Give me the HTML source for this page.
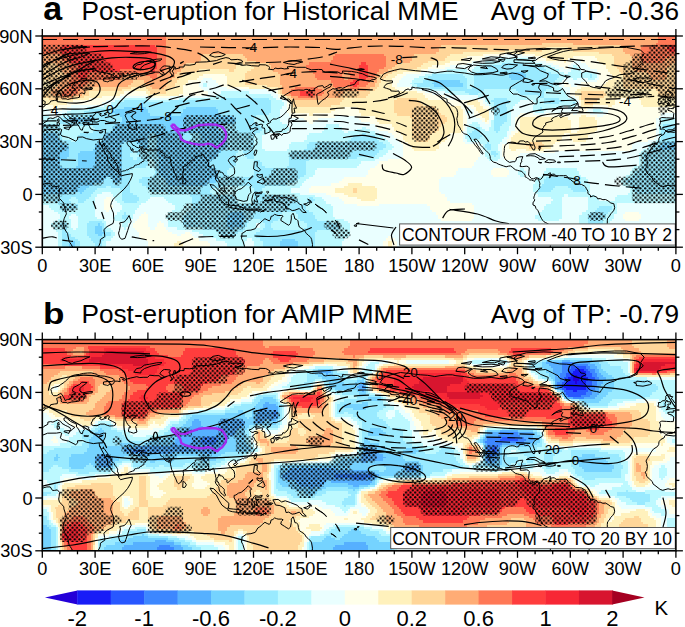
<!DOCTYPE html>
<html><head><meta charset="utf-8"><style>html,body{margin:0;padding:0;background:#fff;overflow:hidden;width:685px;height:627px;} svg{display:block;}</style></head>
<body>
<svg width="685" height="627" viewBox="0 0 685 627">
<defs>
<pattern id="dots" patternUnits="userSpaceOnUse" width="4.6" height="4.68"><circle cx="1.15" cy="1.17" r="1.1" fill="#000"/><circle cx="3.45" cy="3.51" r="1.1" fill="#000"/></pattern>
<clipPath id="clip0"><rect x="42.3" y="36.0" width="633.6" height="211.2"/></clipPath>
<clipPath id="clip1"><rect x="42.3" y="339.6" width="633.6" height="211.2"/></clipPath>
</defs>
<rect width="685" height="627" fill="#fff"/>
<g clip-path="url(#clip0)" shape-rendering="crispEdges">
<path fill="#75D3FF" d="M510.9 71.2h13.5v2.5h-13.5zM508.7 73.4h17.9v2.5h-17.9zM508.7 75.6h17.9v2.5h-17.9zM510.9 77.8h13.5v2.5h-13.5zM433.9 80.0h26.7v2.5h-26.7zM431.7 82.2h31.1v2.5h-31.1zM433.9 84.4h28.9v2.5h-28.9zM123.7 106.4h22.3v2.5h-22.3zM185.3 106.4h31.1v2.5h-31.1zM114.9 108.6h33.3v2.5h-33.3zM183.1 108.6h35.5v2.5h-35.5zM112.7 110.8h35.5v2.5h-35.5zM183.1 110.8h35.5v2.5h-35.5zM114.9 113.0h35.5v2.5h-35.5zM180.9 113.0h39.9v2.5h-39.9zM88.5 115.2h4.7v2.5h-4.7zM119.3 115.2h114.7v2.5h-114.7zM70.9 117.4h24.5v2.5h-24.5zM121.5 117.4h114.7v2.5h-114.7zM70.9 119.6h22.3v2.5h-22.3zM121.5 119.6h114.7v2.5h-114.7zM119.3 121.8h114.7v2.5h-114.7zM114.9 124.0h105.9v2.5h-105.9zM112.7 126.2h105.9v2.5h-105.9zM112.7 128.4h105.9v2.5h-105.9zM110.5 130.6h110.3v2.5h-110.3zM42.3 132.8h13.5v2.5h-13.5zM106.1 132.8h44.3v2.5h-44.3zM154.5 132.8h31.1v2.5h-31.1zM198.5 132.8h26.7v2.5h-26.7zM42.3 135.0h15.7v2.5h-15.7zM103.9 135.0h44.3v2.5h-44.3zM156.7 135.0h26.7v2.5h-26.7zM200.7 135.0h26.7v2.5h-26.7zM42.3 137.2h15.7v2.5h-15.7zM103.9 137.2h44.3v2.5h-44.3zM156.7 137.2h26.7v2.5h-26.7zM200.7 137.2h26.7v2.5h-26.7zM42.3 139.4h17.9v2.5h-17.9zM101.7 139.4h46.5v2.5h-46.5zM156.7 139.4h28.9v2.5h-28.9zM198.5 139.4h28.9v2.5h-28.9zM42.3 141.6h20.1v2.5h-20.1zM97.3 141.6h26.7v2.5h-26.7zM136.9 141.6h11.3v2.5h-11.3zM156.7 141.6h70.7v2.5h-70.7zM662.7 141.6h13.5v2.5h-13.5zM42.3 143.8h24.5v2.5h-24.5zM95.1 143.8h26.7v2.5h-26.7zM139.1 143.8h9.1v2.5h-9.1zM156.7 143.8h70.7v2.5h-70.7zM660.5 143.8h15.7v2.5h-15.7zM42.3 146.0h26.7v2.5h-26.7zM95.1 146.0h26.7v2.5h-26.7zM141.3 146.0h6.9v2.5h-6.9zM156.7 146.0h70.7v2.5h-70.7zM658.3 146.0h17.9v2.5h-17.9zM42.3 148.2h26.7v2.5h-26.7zM92.9 148.2h28.9v2.5h-28.9zM143.5 148.2h2.5v2.5h-2.5zM156.7 148.2h68.5v2.5h-68.5zM660.5 148.2h15.7v2.5h-15.7zM42.3 150.4h26.7v2.5h-26.7zM79.7 150.4h42.1v2.5h-42.1zM156.7 150.4h64.1v2.5h-64.1zM42.3 152.6h26.7v2.5h-26.7zM77.5 152.6h44.3v2.5h-44.3zM156.7 152.6h61.9v2.5h-61.9zM42.3 154.8h26.7v2.5h-26.7zM77.5 154.8h44.3v2.5h-44.3zM156.7 154.8h61.9v2.5h-61.9zM42.3 157.0h24.5v2.5h-24.5zM77.5 157.0h44.3v2.5h-44.3zM158.9 157.0h57.5v2.5h-57.5zM42.3 159.2h20.1v2.5h-20.1zM77.5 159.2h44.3v2.5h-44.3zM158.9 159.2h53.1v2.5h-53.1zM42.3 161.4h17.9v2.5h-17.9zM77.5 161.4h44.3v2.5h-44.3zM158.9 161.4h50.9v2.5h-50.9zM42.3 163.6h17.9v2.5h-17.9zM77.5 163.6h44.3v2.5h-44.3zM158.9 163.6h50.9v2.5h-50.9zM42.3 165.8h20.1v2.5h-20.1zM75.3 165.8h46.5v2.5h-46.5zM158.9 165.8h53.1v2.5h-53.1zM42.3 168.0h79.5v2.5h-79.5zM158.9 168.0h57.5v2.5h-57.5zM42.3 170.2h79.5v2.5h-79.5zM158.9 170.2h59.7v2.5h-59.7zM42.3 172.4h79.5v2.5h-79.5zM158.9 172.4h59.7v2.5h-59.7zM42.3 174.6h79.5v2.5h-79.5zM161.1 174.6h57.5v2.5h-57.5zM42.3 176.8h64.1v2.5h-64.1zM110.5 176.8h11.3v2.5h-11.3zM163.3 176.8h55.3v2.5h-55.3zM42.3 179.0h61.9v2.5h-61.9zM112.7 179.0h9.1v2.5h-9.1zM165.5 179.0h53.1v2.5h-53.1zM42.3 181.2h59.7v2.5h-59.7zM114.9 181.2h4.7v2.5h-4.7zM165.5 181.2h50.9v2.5h-50.9zM42.3 183.4h50.9v2.5h-50.9zM167.7 183.4h39.9v2.5h-39.9zM42.3 185.6h46.5v2.5h-46.5zM42.3 187.8h44.3v2.5h-44.3zM42.3 190.0h42.1v2.5h-42.1zM42.3 192.2h24.5v2.5h-24.5zM79.7 192.2h2.5v2.5h-2.5zM229.3 212.0h13.5v2.5h-13.5zM227.1 214.2h17.9v2.5h-17.9zM227.1 216.4h17.9v2.5h-17.9zM227.1 218.6h15.7v2.5h-15.7zM227.1 220.8h15.7v2.5h-15.7zM97.3 223.0h2.5v2.5h-2.5zM227.1 223.0h15.7v2.5h-15.7zM95.1 225.2h6.9v2.5h-6.9zM227.1 225.2h15.7v2.5h-15.7zM95.1 227.4h6.9v2.5h-6.9zM229.3 227.4h4.7v2.5h-4.7zM95.1 229.6h6.9v2.5h-6.9zM95.1 231.8h9.1v2.5h-9.1zM97.3 234.0h4.7v2.5h-4.7zM282.1 238.4h13.5v2.5h-13.5zM70.9 240.6h4.7v2.5h-4.7zM279.9 240.6h17.9v2.5h-17.9zM68.7 242.8h6.9v2.5h-6.9zM279.9 242.8h17.9v2.5h-17.9zM68.7 245.0h6.9v2.5h-6.9zM279.9 245.0h17.9v2.5h-17.9z"/>
<path fill="#99EAFF" d="M502.1 62.4h22.3v2.5h-22.3zM484.5 64.6h57.5v2.5h-57.5zM482.3 66.8h61.9v2.5h-61.9zM480.1 69.0h66.3v2.5h-66.3zM475.7 71.2h35.5v2.5h-35.5zM524.1 71.2h26.7v2.5h-26.7zM431.7 73.4h31.1v2.5h-31.1zM473.5 73.4h35.5v2.5h-35.5zM526.3 73.4h33.3v2.5h-33.3zM590.1 73.4h2.5v2.5h-2.5zM427.3 75.6h37.7v2.5h-37.7zM473.5 75.6h35.5v2.5h-35.5zM526.3 75.6h33.3v2.5h-33.3zM590.1 75.6h2.5v2.5h-2.5zM425.1 77.8h42.1v2.5h-42.1zM473.5 77.8h37.7v2.5h-37.7zM524.1 77.8h33.3v2.5h-33.3zM422.9 80.0h11.3v2.5h-11.3zM460.3 80.0h6.9v2.5h-6.9zM473.5 80.0h81.7v2.5h-81.7zM414.1 82.2h17.9v2.5h-17.9zM462.5 82.2h4.7v2.5h-4.7zM473.5 82.2h79.5v2.5h-79.5zM416.3 84.4h17.9v2.5h-17.9zM462.5 84.4h4.7v2.5h-4.7zM473.5 84.4h79.5v2.5h-79.5zM429.5 86.6h37.7v2.5h-37.7zM471.3 86.6h79.5v2.5h-79.5zM447.1 88.8h37.7v2.5h-37.7zM515.3 88.8h31.1v2.5h-31.1zM464.7 91.0h17.9v2.5h-17.9zM517.5 91.0h26.7v2.5h-26.7zM469.1 93.2h9.1v2.5h-9.1zM519.7 93.2h24.5v2.5h-24.5zM537.3 95.4h6.9v2.5h-6.9zM220.5 97.6h48.7v2.5h-48.7zM493.3 97.6h13.5v2.5h-13.5zM543.9 97.6h15.7v2.5h-15.7zM123.7 99.8h24.5v2.5h-24.5zM169.9 99.8h101.5v2.5h-101.5zM491.1 99.8h17.9v2.5h-17.9zM543.9 99.8h17.9v2.5h-17.9zM119.3 102.0h152.1v2.5h-152.1zM493.3 102.0h15.7v2.5h-15.7zM543.9 102.0h15.7v2.5h-15.7zM572.5 102.0h2.5v2.5h-2.5zM114.9 104.2h156.5v2.5h-156.5zM493.3 104.2h13.5v2.5h-13.5zM110.5 106.4h13.5v2.5h-13.5zM145.7 106.4h39.9v2.5h-39.9zM216.1 106.4h55.3v2.5h-55.3zM493.3 106.4h13.5v2.5h-13.5zM539.5 106.4h2.5v2.5h-2.5zM88.5 108.6h26.7v2.5h-26.7zM147.9 108.6h35.5v2.5h-35.5zM218.3 108.6h53.1v2.5h-53.1zM493.3 108.6h13.5v2.5h-13.5zM537.3 108.6h4.7v2.5h-4.7zM84.1 110.8h28.9v2.5h-28.9zM147.9 110.8h35.5v2.5h-35.5zM218.3 110.8h53.1v2.5h-53.1zM493.3 110.8h13.5v2.5h-13.5zM70.9 113.0h44.3v2.5h-44.3zM150.1 113.0h31.1v2.5h-31.1zM220.5 113.0h48.7v2.5h-48.7zM493.3 113.0h13.5v2.5h-13.5zM66.5 115.2h22.3v2.5h-22.3zM92.9 115.2h26.7v2.5h-26.7zM233.7 115.2h22.3v2.5h-22.3zM493.3 115.2h13.5v2.5h-13.5zM62.1 117.4h9.1v2.5h-9.1zM95.1 117.4h26.7v2.5h-26.7zM235.9 117.4h17.9v2.5h-17.9zM493.3 117.4h13.5v2.5h-13.5zM59.9 119.6h11.3v2.5h-11.3zM92.9 119.6h28.9v2.5h-28.9zM235.9 119.6h17.9v2.5h-17.9zM493.3 119.6h13.5v2.5h-13.5zM59.9 121.8h59.7v2.5h-59.7zM233.7 121.8h22.3v2.5h-22.3zM493.3 121.8h11.3v2.5h-11.3zM42.3 124.0h17.9v2.5h-17.9zM66.5 124.0h48.7v2.5h-48.7zM220.5 124.0h39.9v2.5h-39.9zM493.3 124.0h9.1v2.5h-9.1zM662.7 124.0h13.5v2.5h-13.5zM42.3 126.2h17.9v2.5h-17.9zM92.9 126.2h20.1v2.5h-20.1zM218.3 126.2h44.3v2.5h-44.3zM475.7 126.2h4.7v2.5h-4.7zM493.3 126.2h6.9v2.5h-6.9zM660.5 126.2h15.7v2.5h-15.7zM42.3 128.4h17.9v2.5h-17.9zM95.1 128.4h17.9v2.5h-17.9zM218.3 128.4h44.3v2.5h-44.3zM473.5 128.4h6.9v2.5h-6.9zM493.3 128.4h6.9v2.5h-6.9zM660.5 128.4h15.7v2.5h-15.7zM42.3 130.6h20.1v2.5h-20.1zM92.9 130.6h17.9v2.5h-17.9zM220.5 130.6h39.9v2.5h-39.9zM471.3 130.6h9.1v2.5h-9.1zM495.5 130.6h2.5v2.5h-2.5zM660.5 130.6h15.7v2.5h-15.7zM55.5 132.8h6.9v2.5h-6.9zM79.7 132.8h26.7v2.5h-26.7zM150.1 132.8h4.7v2.5h-4.7zM185.3 132.8h13.5v2.5h-13.5zM224.9 132.8h31.1v2.5h-31.1zM361.3 132.8h4.7v2.5h-4.7zM469.1 132.8h11.3v2.5h-11.3zM660.5 132.8h15.7v2.5h-15.7zM57.7 135.0h4.7v2.5h-4.7zM77.5 135.0h26.7v2.5h-26.7zM147.9 135.0h9.1v2.5h-9.1zM183.1 135.0h17.9v2.5h-17.9zM227.1 135.0h26.7v2.5h-26.7zM352.5 135.0h22.3v2.5h-22.3zM466.9 135.0h15.7v2.5h-15.7zM660.5 135.0h15.7v2.5h-15.7zM57.7 137.2h4.7v2.5h-4.7zM77.5 137.2h26.7v2.5h-26.7zM147.9 137.2h9.1v2.5h-9.1zM183.1 137.2h17.9v2.5h-17.9zM227.1 137.2h26.7v2.5h-26.7zM350.3 137.2h26.7v2.5h-26.7zM469.1 137.2h11.3v2.5h-11.3zM660.5 137.2h15.7v2.5h-15.7zM59.9 139.4h11.3v2.5h-11.3zM75.3 139.4h26.7v2.5h-26.7zM147.9 139.4h9.1v2.5h-9.1zM185.3 139.4h13.5v2.5h-13.5zM227.1 139.4h26.7v2.5h-26.7zM348.1 139.4h31.1v2.5h-31.1zM658.3 139.4h17.9v2.5h-17.9zM62.1 141.6h35.5v2.5h-35.5zM123.7 141.6h13.5v2.5h-13.5zM147.9 141.6h9.1v2.5h-9.1zM227.1 141.6h26.7v2.5h-26.7zM308.5 141.6h75.1v2.5h-75.1zM486.7 141.6h2.5v2.5h-2.5zM656.1 141.6h6.9v2.5h-6.9zM66.5 143.8h28.9v2.5h-28.9zM121.5 143.8h17.9v2.5h-17.9zM147.9 143.8h9.1v2.5h-9.1zM227.1 143.8h26.7v2.5h-26.7zM306.3 143.8h79.5v2.5h-79.5zM484.5 143.8h6.9v2.5h-6.9zM653.9 143.8h6.9v2.5h-6.9zM68.7 146.0h26.7v2.5h-26.7zM121.5 146.0h20.1v2.5h-20.1zM147.9 146.0h9.1v2.5h-9.1zM227.1 146.0h26.7v2.5h-26.7zM306.3 146.0h79.5v2.5h-79.5zM484.5 146.0h6.9v2.5h-6.9zM651.7 146.0h6.9v2.5h-6.9zM68.7 148.2h24.5v2.5h-24.5zM121.5 148.2h22.3v2.5h-22.3zM145.7 148.2h11.3v2.5h-11.3zM224.9 148.2h28.9v2.5h-28.9zM304.1 148.2h79.5v2.5h-79.5zM486.7 148.2h4.7v2.5h-4.7zM649.5 148.2h11.3v2.5h-11.3zM68.7 150.4h11.3v2.5h-11.3zM121.5 150.4h11.3v2.5h-11.3zM134.7 150.4h22.3v2.5h-22.3zM220.5 150.4h17.9v2.5h-17.9zM242.5 150.4h11.3v2.5h-11.3zM290.9 150.4h88.3v2.5h-88.3zM491.1 150.4h4.7v2.5h-4.7zM647.3 150.4h28.9v2.5h-28.9zM68.7 152.6h9.1v2.5h-9.1zM121.5 152.6h9.1v2.5h-9.1zM136.9 152.6h20.1v2.5h-20.1zM218.3 152.6h17.9v2.5h-17.9zM244.7 152.6h9.1v2.5h-9.1zM288.7 152.6h88.3v2.5h-88.3zM491.1 152.6h6.9v2.5h-6.9zM642.9 152.6h33.3v2.5h-33.3zM68.7 154.8h9.1v2.5h-9.1zM121.5 154.8h9.1v2.5h-9.1zM139.1 154.8h17.9v2.5h-17.9zM218.3 154.8h17.9v2.5h-17.9zM244.7 154.8h9.1v2.5h-9.1zM288.7 154.8h86.1v2.5h-86.1zM493.3 154.8h2.5v2.5h-2.5zM642.9 154.8h33.3v2.5h-33.3zM66.5 157.0h11.3v2.5h-11.3zM121.5 157.0h11.3v2.5h-11.3zM136.9 157.0h22.3v2.5h-22.3zM216.1 157.0h20.1v2.5h-20.1zM246.9 157.0h6.9v2.5h-6.9zM288.7 157.0h68.5v2.5h-68.5zM642.9 157.0h33.3v2.5h-33.3zM62.1 159.2h15.7v2.5h-15.7zM121.5 159.2h28.9v2.5h-28.9zM152.3 159.2h6.9v2.5h-6.9zM211.7 159.2h24.5v2.5h-24.5zM253.5 159.2h6.9v2.5h-6.9zM288.7 159.2h20.1v2.5h-20.1zM642.9 159.2h33.3v2.5h-33.3zM59.9 161.4h17.9v2.5h-17.9zM121.5 161.4h26.7v2.5h-26.7zM154.5 161.4h4.7v2.5h-4.7zM209.5 161.4h26.7v2.5h-26.7zM253.5 161.4h9.1v2.5h-9.1zM288.7 161.4h17.9v2.5h-17.9zM642.9 161.4h33.3v2.5h-33.3zM59.9 163.6h17.9v2.5h-17.9zM121.5 163.6h26.7v2.5h-26.7zM154.5 163.6h4.7v2.5h-4.7zM209.5 163.6h26.7v2.5h-26.7zM253.5 163.6h9.1v2.5h-9.1zM288.7 163.6h17.9v2.5h-17.9zM642.9 163.6h33.3v2.5h-33.3zM62.1 165.8h13.5v2.5h-13.5zM121.5 165.8h24.5v2.5h-24.5zM154.5 165.8h4.7v2.5h-4.7zM211.7 165.8h22.3v2.5h-22.3zM253.5 165.8h11.3v2.5h-11.3zM286.5 165.8h20.1v2.5h-20.1zM640.7 165.8h35.5v2.5h-35.5zM121.5 168.0h11.3v2.5h-11.3zM154.5 168.0h4.7v2.5h-4.7zM216.1 168.0h13.5v2.5h-13.5zM253.5 168.0h53.1v2.5h-53.1zM638.5 168.0h37.7v2.5h-37.7zM121.5 170.2h9.1v2.5h-9.1zM154.5 170.2h4.7v2.5h-4.7zM218.3 170.2h9.1v2.5h-9.1zM253.5 170.2h53.1v2.5h-53.1zM634.1 170.2h42.1v2.5h-42.1zM121.5 172.4h9.1v2.5h-9.1zM154.5 172.4h4.7v2.5h-4.7zM218.3 172.4h9.1v2.5h-9.1zM253.5 172.4h53.1v2.5h-53.1zM634.1 172.4h42.1v2.5h-42.1zM121.5 174.6h9.1v2.5h-9.1zM152.3 174.6h9.1v2.5h-9.1zM218.3 174.6h11.3v2.5h-11.3zM251.3 174.6h53.1v2.5h-53.1zM631.9 174.6h44.3v2.5h-44.3zM106.1 176.8h4.7v2.5h-4.7zM121.5 176.8h9.1v2.5h-9.1zM141.3 176.8h22.3v2.5h-22.3zM218.3 176.8h81.7v2.5h-81.7zM546.1 176.8h31.1v2.5h-31.1zM629.7 176.8h46.5v2.5h-46.5zM103.9 179.0h9.1v2.5h-9.1zM121.5 179.0h9.1v2.5h-9.1zM139.1 179.0h26.7v2.5h-26.7zM218.3 179.0h79.5v2.5h-79.5zM543.9 179.0h35.5v2.5h-35.5zM625.3 179.0h50.9v2.5h-50.9zM101.7 181.2h13.5v2.5h-13.5zM119.3 181.2h11.3v2.5h-11.3zM139.1 181.2h26.7v2.5h-26.7zM216.1 181.2h79.5v2.5h-79.5zM543.9 181.2h35.5v2.5h-35.5zM625.3 181.2h50.9v2.5h-50.9zM92.9 183.4h37.7v2.5h-37.7zM141.3 183.4h26.7v2.5h-26.7zM207.3 183.4h79.5v2.5h-79.5zM541.7 183.4h39.9v2.5h-39.9zM629.7 183.4h46.5v2.5h-46.5zM88.5 185.6h17.9v2.5h-17.9zM110.5 185.6h20.1v2.5h-20.1zM145.7 185.6h75.1v2.5h-75.1zM251.3 185.6h13.5v2.5h-13.5zM539.5 185.6h15.7v2.5h-15.7zM568.1 185.6h15.7v2.5h-15.7zM631.9 185.6h44.3v2.5h-44.3zM86.3 187.8h11.3v2.5h-11.3zM119.3 187.8h11.3v2.5h-11.3zM147.9 187.8h64.1v2.5h-64.1zM253.5 187.8h9.1v2.5h-9.1zM537.3 187.8h15.7v2.5h-15.7zM570.3 187.8h15.7v2.5h-15.7zM634.1 187.8h42.1v2.5h-42.1zM84.1 190.0h11.3v2.5h-11.3zM121.5 190.0h9.1v2.5h-9.1zM150.1 190.0h59.7v2.5h-59.7zM253.5 190.0h9.1v2.5h-9.1zM537.3 190.0h13.5v2.5h-13.5zM572.5 190.0h13.5v2.5h-13.5zM634.1 190.0h42.1v2.5h-42.1zM66.5 192.2h13.5v2.5h-13.5zM81.9 192.2h11.3v2.5h-11.3zM121.5 192.2h11.3v2.5h-11.3zM167.7 192.2h44.3v2.5h-44.3zM253.5 192.2h11.3v2.5h-11.3zM636.3 192.2h39.9v2.5h-39.9zM42.3 194.4h48.7v2.5h-48.7zM121.5 194.4h15.7v2.5h-15.7zM189.7 194.4h44.3v2.5h-44.3zM253.5 194.4h33.3v2.5h-33.3zM42.3 196.6h28.9v2.5h-28.9zM75.3 196.6h13.5v2.5h-13.5zM121.5 196.6h17.9v2.5h-17.9zM191.9 196.6h44.3v2.5h-44.3zM253.5 196.6h42.1v2.5h-42.1zM308.5 196.6h4.7v2.5h-4.7zM42.3 198.8h26.7v2.5h-26.7zM77.5 198.8h9.1v2.5h-9.1zM121.5 198.8h17.9v2.5h-17.9zM191.9 198.8h44.3v2.5h-44.3zM253.5 198.8h44.3v2.5h-44.3zM306.3 198.8h9.1v2.5h-9.1zM53.3 201.0h17.9v2.5h-17.9zM77.5 201.0h6.9v2.5h-6.9zM123.7 201.0h13.5v2.5h-13.5zM191.9 201.0h46.5v2.5h-46.5zM251.3 201.0h48.7v2.5h-48.7zM306.3 201.0h6.9v2.5h-6.9zM57.7 203.2h20.1v2.5h-20.1zM191.9 203.2h114.7v2.5h-114.7zM59.9 205.4h17.9v2.5h-17.9zM191.9 205.4h114.7v2.5h-114.7zM598.9 205.4h13.5v2.5h-13.5zM59.9 207.6h15.7v2.5h-15.7zM191.9 207.6h114.7v2.5h-114.7zM596.7 207.6h15.7v2.5h-15.7zM62.1 209.8h4.7v2.5h-4.7zM189.7 209.8h119.1v2.5h-119.1zM594.5 209.8h15.7v2.5h-15.7zM123.7 212.0h2.5v2.5h-2.5zM185.3 212.0h44.3v2.5h-44.3zM242.5 212.0h39.9v2.5h-39.9zM295.3 212.0h17.9v2.5h-17.9zM590.1 212.0h17.9v2.5h-17.9zM121.5 214.2h6.9v2.5h-6.9zM183.1 214.2h44.3v2.5h-44.3zM244.7 214.2h35.5v2.5h-35.5zM297.5 214.2h17.9v2.5h-17.9zM587.9 214.2h17.9v2.5h-17.9zM121.5 216.4h6.9v2.5h-6.9zM183.1 216.4h44.3v2.5h-44.3zM244.7 216.4h35.5v2.5h-35.5zM297.5 216.4h17.9v2.5h-17.9zM587.9 216.4h17.9v2.5h-17.9zM123.7 218.6h2.5v2.5h-2.5zM183.1 218.6h44.3v2.5h-44.3zM242.5 218.6h9.1v2.5h-9.1zM260.1 218.6h17.9v2.5h-17.9zM299.7 218.6h17.9v2.5h-17.9zM587.9 218.6h15.7v2.5h-15.7zM62.1 220.8h2.5v2.5h-2.5zM88.5 220.8h13.5v2.5h-13.5zM183.1 220.8h44.3v2.5h-44.3zM242.5 220.8h6.9v2.5h-6.9zM262.3 220.8h11.3v2.5h-11.3zM304.1 220.8h26.7v2.5h-26.7zM587.9 220.8h15.7v2.5h-15.7zM59.9 223.0h6.9v2.5h-6.9zM86.3 223.0h11.3v2.5h-11.3zM99.5 223.0h4.7v2.5h-4.7zM183.1 223.0h44.3v2.5h-44.3zM242.5 223.0h4.7v2.5h-4.7zM264.5 223.0h6.9v2.5h-6.9zM306.3 223.0h33.3v2.5h-33.3zM587.9 223.0h15.7v2.5h-15.7zM59.9 225.2h6.9v2.5h-6.9zM86.3 225.2h9.1v2.5h-9.1zM101.7 225.2h2.5v2.5h-2.5zM185.3 225.2h42.1v2.5h-42.1zM242.5 225.2h4.7v2.5h-4.7zM264.5 225.2h6.9v2.5h-6.9zM306.3 225.2h35.5v2.5h-35.5zM590.1 225.2h13.5v2.5h-13.5zM62.1 227.4h4.7v2.5h-4.7zM86.3 227.4h9.1v2.5h-9.1zM101.7 227.4h4.7v2.5h-4.7zM202.9 227.4h26.7v2.5h-26.7zM233.7 227.4h11.3v2.5h-11.3zM262.3 227.4h11.3v2.5h-11.3zM304.1 227.4h35.5v2.5h-35.5zM62.1 229.6h4.7v2.5h-4.7zM86.3 229.6h9.1v2.5h-9.1zM101.7 229.6h4.7v2.5h-4.7zM216.1 229.6h26.7v2.5h-26.7zM260.1 229.6h57.5v2.5h-57.5zM62.1 231.8h6.9v2.5h-6.9zM86.3 231.8h9.1v2.5h-9.1zM103.9 231.8h6.9v2.5h-6.9zM218.3 231.8h20.1v2.5h-20.1zM255.7 231.8h59.7v2.5h-59.7zM62.1 234.0h9.1v2.5h-9.1zM86.3 234.0h11.3v2.5h-11.3zM101.7 234.0h9.1v2.5h-9.1zM220.5 234.0h15.7v2.5h-15.7zM253.5 234.0h61.9v2.5h-61.9zM62.1 236.2h13.5v2.5h-13.5zM88.5 236.2h17.9v2.5h-17.9zM229.3 236.2h4.7v2.5h-4.7zM255.7 236.2h59.7v2.5h-59.7zM62.1 238.4h15.7v2.5h-15.7zM90.7 238.4h13.5v2.5h-13.5zM260.1 238.4h22.3v2.5h-22.3zM295.3 238.4h20.1v2.5h-20.1zM62.1 240.6h9.1v2.5h-9.1zM75.3 240.6h4.7v2.5h-4.7zM92.9 240.6h9.1v2.5h-9.1zM262.3 240.6h17.9v2.5h-17.9zM297.5 240.6h17.9v2.5h-17.9zM62.1 242.8h6.9v2.5h-6.9zM75.3 242.8h4.7v2.5h-4.7zM95.1 242.8h6.9v2.5h-6.9zM262.3 242.8h17.9v2.5h-17.9zM297.5 242.8h17.9v2.5h-17.9zM62.1 245.0h6.9v2.5h-6.9zM75.3 245.0h4.7v2.5h-4.7zM95.1 245.0h6.9v2.5h-6.9zM262.3 245.0h17.9v2.5h-17.9zM297.5 245.0h17.9v2.5h-17.9z"/>
<path fill="#BCF9FF" d="M497.7 58.0h31.1v2.5h-31.1zM484.5 60.2h50.9v2.5h-50.9zM480.1 62.4h22.3v2.5h-22.3zM524.1 62.4h17.9v2.5h-17.9zM475.7 64.6h9.1v2.5h-9.1zM541.7 64.6h9.1v2.5h-9.1zM572.5 64.6h4.7v2.5h-4.7zM473.5 66.8h9.1v2.5h-9.1zM543.9 66.8h11.3v2.5h-11.3zM572.5 66.8h6.9v2.5h-6.9zM447.1 69.0h20.1v2.5h-20.1zM471.3 69.0h9.1v2.5h-9.1zM546.1 69.0h13.5v2.5h-13.5zM570.3 69.0h11.3v2.5h-11.3zM431.7 71.2h44.3v2.5h-44.3zM550.5 71.2h13.5v2.5h-13.5zM568.1 71.2h26.7v2.5h-26.7zM425.1 73.4h6.9v2.5h-6.9zM462.5 73.4h11.3v2.5h-11.3zM559.3 73.4h31.1v2.5h-31.1zM592.3 73.4h4.7v2.5h-4.7zM418.5 75.6h9.1v2.5h-9.1zM464.7 75.6h9.1v2.5h-9.1zM559.3 75.6h31.1v2.5h-31.1zM592.3 75.6h4.7v2.5h-4.7zM414.1 77.8h11.3v2.5h-11.3zM466.9 77.8h6.9v2.5h-6.9zM557.1 77.8h6.9v2.5h-6.9zM572.5 77.8h4.7v2.5h-4.7zM587.9 77.8h6.9v2.5h-6.9zM411.9 80.0h11.3v2.5h-11.3zM466.9 80.0h6.9v2.5h-6.9zM554.9 80.0h6.9v2.5h-6.9zM202.9 82.2h4.7v2.5h-4.7zM409.7 82.2h4.7v2.5h-4.7zM466.9 82.2h6.9v2.5h-6.9zM552.7 82.2h6.9v2.5h-6.9zM202.9 84.4h4.7v2.5h-4.7zM411.9 84.4h4.7v2.5h-4.7zM466.9 84.4h6.9v2.5h-6.9zM552.7 84.4h6.9v2.5h-6.9zM416.3 86.6h13.5v2.5h-13.5zM466.9 86.6h4.7v2.5h-4.7zM550.5 86.6h11.3v2.5h-11.3zM429.5 88.8h17.9v2.5h-17.9zM484.5 88.8h31.1v2.5h-31.1zM546.1 88.8h17.9v2.5h-17.9zM220.5 91.0h28.9v2.5h-28.9zM444.9 91.0h20.1v2.5h-20.1zM482.3 91.0h35.5v2.5h-35.5zM543.9 91.0h22.3v2.5h-22.3zM216.1 93.2h55.3v2.5h-55.3zM449.3 93.2h20.1v2.5h-20.1zM477.9 93.2h42.1v2.5h-42.1zM543.9 93.2h24.5v2.5h-24.5zM209.5 95.4h64.1v2.5h-64.1zM477.9 95.4h59.7v2.5h-59.7zM543.9 95.4h24.5v2.5h-24.5zM123.7 97.6h24.5v2.5h-24.5zM178.7 97.6h42.1v2.5h-42.1zM268.9 97.6h6.9v2.5h-6.9zM484.5 97.6h9.1v2.5h-9.1zM506.5 97.6h37.7v2.5h-37.7zM559.3 97.6h15.7v2.5h-15.7zM114.9 99.8h9.1v2.5h-9.1zM147.9 99.8h22.3v2.5h-22.3zM271.1 99.8h11.3v2.5h-11.3zM484.5 99.8h6.9v2.5h-6.9zM508.7 99.8h11.3v2.5h-11.3zM532.9 99.8h11.3v2.5h-11.3zM561.5 99.8h15.7v2.5h-15.7zM110.5 102.0h9.1v2.5h-9.1zM271.1 102.0h13.5v2.5h-13.5zM486.7 102.0h6.9v2.5h-6.9zM508.7 102.0h9.1v2.5h-9.1zM535.1 102.0h9.1v2.5h-9.1zM559.3 102.0h13.5v2.5h-13.5zM574.7 102.0h2.5v2.5h-2.5zM103.9 104.2h11.3v2.5h-11.3zM271.1 104.2h13.5v2.5h-13.5zM488.9 104.2h4.7v2.5h-4.7zM506.5 104.2h9.1v2.5h-9.1zM532.9 104.2h44.3v2.5h-44.3zM86.3 106.4h24.5v2.5h-24.5zM271.1 106.4h11.3v2.5h-11.3zM491.1 106.4h2.5v2.5h-2.5zM506.5 106.4h6.9v2.5h-6.9zM532.9 106.4h6.9v2.5h-6.9zM541.7 106.4h22.3v2.5h-22.3zM568.1 106.4h6.9v2.5h-6.9zM70.9 108.6h17.9v2.5h-17.9zM271.1 108.6h9.1v2.5h-9.1zM491.1 108.6h2.5v2.5h-2.5zM506.5 108.6h4.7v2.5h-4.7zM532.9 108.6h4.7v2.5h-4.7zM541.7 108.6h4.7v2.5h-4.7zM592.3 108.6h9.1v2.5h-9.1zM66.5 110.8h17.9v2.5h-17.9zM271.1 110.8h9.1v2.5h-9.1zM466.9 110.8h4.7v2.5h-4.7zM506.5 110.8h4.7v2.5h-4.7zM535.1 110.8h9.1v2.5h-9.1zM592.3 110.8h11.3v2.5h-11.3zM62.1 113.0h9.1v2.5h-9.1zM268.9 113.0h11.3v2.5h-11.3zM506.5 113.0h4.7v2.5h-4.7zM42.3 115.2h6.9v2.5h-6.9zM57.7 115.2h9.1v2.5h-9.1zM255.7 115.2h24.5v2.5h-24.5zM506.5 115.2h4.7v2.5h-4.7zM42.3 117.4h20.1v2.5h-20.1zM253.5 117.4h26.7v2.5h-26.7zM506.5 117.4h4.7v2.5h-4.7zM660.5 117.4h15.7v2.5h-15.7zM42.3 119.6h17.9v2.5h-17.9zM253.5 119.6h26.7v2.5h-26.7zM491.1 119.6h2.5v2.5h-2.5zM506.5 119.6h4.7v2.5h-4.7zM660.5 119.6h15.7v2.5h-15.7zM42.3 121.8h17.9v2.5h-17.9zM255.7 121.8h26.7v2.5h-26.7zM471.3 121.8h6.9v2.5h-6.9zM491.1 121.8h2.5v2.5h-2.5zM504.3 121.8h6.9v2.5h-6.9zM660.5 121.8h15.7v2.5h-15.7zM59.9 124.0h6.9v2.5h-6.9zM260.1 124.0h26.7v2.5h-26.7zM326.1 124.0h13.5v2.5h-13.5zM469.1 124.0h11.3v2.5h-11.3zM491.1 124.0h2.5v2.5h-2.5zM502.1 124.0h9.1v2.5h-9.1zM658.3 124.0h4.7v2.5h-4.7zM59.9 126.2h33.3v2.5h-33.3zM262.3 126.2h26.7v2.5h-26.7zM323.9 126.2h17.9v2.5h-17.9zM361.3 126.2h4.7v2.5h-4.7zM466.9 126.2h9.1v2.5h-9.1zM480.1 126.2h2.5v2.5h-2.5zM488.9 126.2h4.7v2.5h-4.7zM499.9 126.2h9.1v2.5h-9.1zM658.3 126.2h2.5v2.5h-2.5zM59.9 128.4h35.5v2.5h-35.5zM262.3 128.4h26.7v2.5h-26.7zM323.9 128.4h17.9v2.5h-17.9zM356.9 128.4h13.5v2.5h-13.5zM466.9 128.4h6.9v2.5h-6.9zM480.1 128.4h4.7v2.5h-4.7zM488.9 128.4h4.7v2.5h-4.7zM499.9 128.4h9.1v2.5h-9.1zM658.3 128.4h2.5v2.5h-2.5zM62.1 130.6h31.1v2.5h-31.1zM260.1 130.6h26.7v2.5h-26.7zM321.7 130.6h22.3v2.5h-22.3zM348.1 130.6h26.7v2.5h-26.7zM466.9 130.6h4.7v2.5h-4.7zM480.1 130.6h15.7v2.5h-15.7zM497.7 130.6h9.1v2.5h-9.1zM658.3 130.6h2.5v2.5h-2.5zM62.1 132.8h17.9v2.5h-17.9zM255.7 132.8h9.1v2.5h-9.1zM308.5 132.8h53.1v2.5h-53.1zM365.7 132.8h13.5v2.5h-13.5zM466.9 132.8h2.5v2.5h-2.5zM480.1 132.8h26.7v2.5h-26.7zM658.3 132.8h2.5v2.5h-2.5zM62.1 135.0h15.7v2.5h-15.7zM253.5 135.0h9.1v2.5h-9.1zM306.3 135.0h46.5v2.5h-46.5zM374.5 135.0h9.1v2.5h-9.1zM464.7 135.0h2.5v2.5h-2.5zM482.3 135.0h24.5v2.5h-24.5zM658.3 135.0h2.5v2.5h-2.5zM62.1 137.2h15.7v2.5h-15.7zM253.5 137.2h9.1v2.5h-9.1zM306.3 137.2h44.3v2.5h-44.3zM376.7 137.2h9.1v2.5h-9.1zM464.7 137.2h4.7v2.5h-4.7zM480.1 137.2h24.5v2.5h-24.5zM658.3 137.2h2.5v2.5h-2.5zM70.9 139.4h4.7v2.5h-4.7zM253.5 139.4h9.1v2.5h-9.1zM304.1 139.4h44.3v2.5h-44.3zM378.9 139.4h9.1v2.5h-9.1zM466.9 139.4h35.5v2.5h-35.5zM656.1 139.4h2.5v2.5h-2.5zM253.5 141.6h9.1v2.5h-9.1zM290.9 141.6h17.9v2.5h-17.9zM383.3 141.6h6.9v2.5h-6.9zM480.1 141.6h6.9v2.5h-6.9zM488.9 141.6h11.3v2.5h-11.3zM651.7 141.6h4.7v2.5h-4.7zM253.5 143.8h9.1v2.5h-9.1zM288.7 143.8h17.9v2.5h-17.9zM385.5 143.8h6.9v2.5h-6.9zM482.3 143.8h2.5v2.5h-2.5zM491.1 143.8h6.9v2.5h-6.9zM647.3 143.8h6.9v2.5h-6.9zM253.5 146.0h9.1v2.5h-9.1zM288.7 146.0h17.9v2.5h-17.9zM385.5 146.0h9.1v2.5h-9.1zM482.3 146.0h2.5v2.5h-2.5zM491.1 146.0h6.9v2.5h-6.9zM647.3 146.0h4.7v2.5h-4.7zM253.5 148.2h11.3v2.5h-11.3zM286.5 148.2h17.9v2.5h-17.9zM383.3 148.2h9.1v2.5h-9.1zM482.3 148.2h4.7v2.5h-4.7zM491.1 148.2h6.9v2.5h-6.9zM642.9 148.2h6.9v2.5h-6.9zM132.5 150.4h2.5v2.5h-2.5zM238.1 150.4h4.7v2.5h-4.7zM253.5 150.4h37.7v2.5h-37.7zM378.9 150.4h9.1v2.5h-9.1zM484.5 150.4h6.9v2.5h-6.9zM495.5 150.4h4.7v2.5h-4.7zM640.7 150.4h6.9v2.5h-6.9zM130.3 152.6h6.9v2.5h-6.9zM235.9 152.6h9.1v2.5h-9.1zM253.5 152.6h35.5v2.5h-35.5zM376.7 152.6h9.1v2.5h-9.1zM484.5 152.6h6.9v2.5h-6.9zM497.7 152.6h2.5v2.5h-2.5zM638.5 152.6h4.7v2.5h-4.7zM130.3 154.8h9.1v2.5h-9.1zM235.9 154.8h9.1v2.5h-9.1zM253.5 154.8h35.5v2.5h-35.5zM374.5 154.8h9.1v2.5h-9.1zM484.5 154.8h9.1v2.5h-9.1zM495.5 154.8h4.7v2.5h-4.7zM638.5 154.8h4.7v2.5h-4.7zM132.5 157.0h4.7v2.5h-4.7zM235.9 157.0h11.3v2.5h-11.3zM253.5 157.0h35.5v2.5h-35.5zM356.9 157.0h22.3v2.5h-22.3zM486.7 157.0h13.5v2.5h-13.5zM638.5 157.0h4.7v2.5h-4.7zM150.1 159.2h2.5v2.5h-2.5zM235.9 159.2h17.9v2.5h-17.9zM260.1 159.2h28.9v2.5h-28.9zM308.5 159.2h66.3v2.5h-66.3zM488.9 159.2h9.1v2.5h-9.1zM638.5 159.2h4.7v2.5h-4.7zM147.9 161.4h6.9v2.5h-6.9zM235.9 161.4h17.9v2.5h-17.9zM262.3 161.4h26.7v2.5h-26.7zM306.3 161.4h55.3v2.5h-55.3zM638.5 161.4h4.7v2.5h-4.7zM147.9 163.6h6.9v2.5h-6.9zM235.9 163.6h17.9v2.5h-17.9zM262.3 163.6h26.7v2.5h-26.7zM306.3 163.6h53.1v2.5h-53.1zM638.5 163.6h4.7v2.5h-4.7zM145.7 165.8h9.1v2.5h-9.1zM233.7 165.8h20.1v2.5h-20.1zM264.5 165.8h22.3v2.5h-22.3zM306.3 165.8h50.9v2.5h-50.9zM634.1 165.8h6.9v2.5h-6.9zM132.5 168.0h22.3v2.5h-22.3zM229.3 168.0h24.5v2.5h-24.5zM306.3 168.0h11.3v2.5h-11.3zM519.7 168.0h4.7v2.5h-4.7zM546.1 168.0h31.1v2.5h-31.1zM631.9 168.0h6.9v2.5h-6.9zM130.3 170.2h24.5v2.5h-24.5zM227.1 170.2h26.7v2.5h-26.7zM306.3 170.2h9.1v2.5h-9.1zM517.5 170.2h9.1v2.5h-9.1zM543.9 170.2h35.5v2.5h-35.5zM629.7 170.2h4.7v2.5h-4.7zM130.3 172.4h24.5v2.5h-24.5zM227.1 172.4h26.7v2.5h-26.7zM306.3 172.4h9.1v2.5h-9.1zM517.5 172.4h9.1v2.5h-9.1zM543.9 172.4h35.5v2.5h-35.5zM629.7 172.4h4.7v2.5h-4.7zM130.3 174.6h22.3v2.5h-22.3zM229.3 174.6h22.3v2.5h-22.3zM304.1 174.6h9.1v2.5h-9.1zM519.7 174.6h4.7v2.5h-4.7zM541.7 174.6h39.9v2.5h-39.9zM625.3 174.6h6.9v2.5h-6.9zM130.3 176.8h11.3v2.5h-11.3zM299.7 176.8h9.1v2.5h-9.1zM537.3 176.8h9.1v2.5h-9.1zM576.9 176.8h9.1v2.5h-9.1zM623.1 176.8h6.9v2.5h-6.9zM130.3 179.0h9.1v2.5h-9.1zM297.5 179.0h9.1v2.5h-9.1zM535.1 179.0h9.1v2.5h-9.1zM579.1 179.0h9.1v2.5h-9.1zM620.9 179.0h4.7v2.5h-4.7zM130.3 181.2h9.1v2.5h-9.1zM295.3 181.2h9.1v2.5h-9.1zM535.1 181.2h9.1v2.5h-9.1zM579.1 181.2h9.1v2.5h-9.1zM620.9 181.2h4.7v2.5h-4.7zM130.3 183.4h11.3v2.5h-11.3zM286.5 183.4h15.7v2.5h-15.7zM532.9 183.4h9.1v2.5h-9.1zM581.3 183.4h9.1v2.5h-9.1zM623.1 183.4h6.9v2.5h-6.9zM106.1 185.6h4.7v2.5h-4.7zM130.3 185.6h15.7v2.5h-15.7zM220.5 185.6h31.1v2.5h-31.1zM264.5 185.6h35.5v2.5h-35.5zM532.9 185.6h6.9v2.5h-6.9zM554.9 185.6h13.5v2.5h-13.5zM583.5 185.6h6.9v2.5h-6.9zM625.3 185.6h6.9v2.5h-6.9zM97.3 187.8h22.3v2.5h-22.3zM130.3 187.8h17.9v2.5h-17.9zM211.7 187.8h42.1v2.5h-42.1zM262.3 187.8h28.9v2.5h-28.9zM532.9 187.8h4.7v2.5h-4.7zM552.7 187.8h17.9v2.5h-17.9zM585.7 187.8h4.7v2.5h-4.7zM629.7 187.8h4.7v2.5h-4.7zM95.1 190.0h26.7v2.5h-26.7zM130.3 190.0h20.1v2.5h-20.1zM209.5 190.0h44.3v2.5h-44.3zM262.3 190.0h28.9v2.5h-28.9zM532.9 190.0h4.7v2.5h-4.7zM550.5 190.0h22.3v2.5h-22.3zM585.7 190.0h4.7v2.5h-4.7zM629.7 190.0h4.7v2.5h-4.7zM92.9 192.2h9.1v2.5h-9.1zM110.5 192.2h11.3v2.5h-11.3zM132.5 192.2h35.5v2.5h-35.5zM211.7 192.2h42.1v2.5h-42.1zM264.5 192.2h35.5v2.5h-35.5zM535.1 192.2h55.3v2.5h-55.3zM627.5 192.2h9.1v2.5h-9.1zM90.7 194.4h6.9v2.5h-6.9zM112.7 194.4h9.1v2.5h-9.1zM136.9 194.4h53.1v2.5h-53.1zM233.7 194.4h20.1v2.5h-20.1zM286.5 194.4h28.9v2.5h-28.9zM537.3 194.4h26.7v2.5h-26.7zM568.1 194.4h26.7v2.5h-26.7zM616.5 194.4h59.7v2.5h-59.7zM70.9 196.6h4.7v2.5h-4.7zM88.5 196.6h6.9v2.5h-6.9zM114.9 196.6h6.9v2.5h-6.9zM139.1 196.6h11.3v2.5h-11.3zM163.3 196.6h28.9v2.5h-28.9zM235.9 196.6h17.9v2.5h-17.9zM295.3 196.6h13.5v2.5h-13.5zM312.9 196.6h9.1v2.5h-9.1zM550.5 196.6h11.3v2.5h-11.3zM587.9 196.6h9.1v2.5h-9.1zM614.3 196.6h61.9v2.5h-61.9zM68.7 198.8h9.1v2.5h-9.1zM86.3 198.8h9.1v2.5h-9.1zM114.9 198.8h6.9v2.5h-6.9zM139.1 198.8h9.1v2.5h-9.1zM165.5 198.8h26.7v2.5h-26.7zM235.9 198.8h17.9v2.5h-17.9zM297.5 198.8h9.1v2.5h-9.1zM315.1 198.8h9.1v2.5h-9.1zM552.7 198.8h9.1v2.5h-9.1zM587.9 198.8h11.3v2.5h-11.3zM614.3 198.8h61.9v2.5h-61.9zM42.3 201.0h11.3v2.5h-11.3zM70.9 201.0h6.9v2.5h-6.9zM84.1 201.0h11.3v2.5h-11.3zM117.1 201.0h6.9v2.5h-6.9zM136.9 201.0h9.1v2.5h-9.1zM167.7 201.0h24.5v2.5h-24.5zM238.1 201.0h13.5v2.5h-13.5zM299.7 201.0h6.9v2.5h-6.9zM312.9 201.0h13.5v2.5h-13.5zM550.5 201.0h11.3v2.5h-11.3zM587.9 201.0h88.3v2.5h-88.3zM42.3 203.2h15.7v2.5h-15.7zM77.5 203.2h17.9v2.5h-17.9zM119.3 203.2h22.3v2.5h-22.3zM172.1 203.2h20.1v2.5h-20.1zM306.3 203.2h24.5v2.5h-24.5zM546.1 203.2h15.7v2.5h-15.7zM587.9 203.2h28.9v2.5h-28.9zM48.9 205.4h11.3v2.5h-11.3zM77.5 205.4h17.9v2.5h-17.9zM121.5 205.4h17.9v2.5h-17.9zM174.3 205.4h17.9v2.5h-17.9zM306.3 205.4h26.7v2.5h-26.7zM543.9 205.4h17.9v2.5h-17.9zM587.9 205.4h11.3v2.5h-11.3zM612.1 205.4h4.7v2.5h-4.7zM51.1 207.6h9.1v2.5h-9.1zM75.3 207.6h20.1v2.5h-20.1zM121.5 207.6h15.7v2.5h-15.7zM174.3 207.6h17.9v2.5h-17.9zM306.3 207.6h26.7v2.5h-26.7zM543.9 207.6h17.9v2.5h-17.9zM587.9 207.6h9.1v2.5h-9.1zM612.1 207.6h4.7v2.5h-4.7zM53.3 209.8h9.1v2.5h-9.1zM66.5 209.8h28.9v2.5h-28.9zM119.3 209.8h15.7v2.5h-15.7zM172.1 209.8h17.9v2.5h-17.9zM308.5 209.8h24.5v2.5h-24.5zM541.7 209.8h20.1v2.5h-20.1zM585.7 209.8h9.1v2.5h-9.1zM609.9 209.8h6.9v2.5h-6.9zM57.7 212.0h37.7v2.5h-37.7zM117.1 212.0h6.9v2.5h-6.9zM125.9 212.0h9.1v2.5h-9.1zM167.7 212.0h17.9v2.5h-17.9zM282.1 212.0h13.5v2.5h-13.5zM312.9 212.0h20.1v2.5h-20.1zM537.3 212.0h24.5v2.5h-24.5zM581.3 212.0h9.1v2.5h-9.1zM607.7 212.0h9.1v2.5h-9.1zM59.9 214.2h11.3v2.5h-11.3zM75.3 214.2h20.1v2.5h-20.1zM114.9 214.2h6.9v2.5h-6.9zM128.1 214.2h4.7v2.5h-4.7zM165.5 214.2h17.9v2.5h-17.9zM279.9 214.2h17.9v2.5h-17.9zM315.1 214.2h17.9v2.5h-17.9zM535.1 214.2h26.7v2.5h-26.7zM579.1 214.2h9.1v2.5h-9.1zM605.5 214.2h9.1v2.5h-9.1zM59.9 216.4h9.1v2.5h-9.1zM77.5 216.4h20.1v2.5h-20.1zM112.7 216.4h9.1v2.5h-9.1zM128.1 216.4h4.7v2.5h-4.7zM165.5 216.4h17.9v2.5h-17.9zM279.9 216.4h17.9v2.5h-17.9zM315.1 216.4h20.1v2.5h-20.1zM535.1 216.4h26.7v2.5h-26.7zM579.1 216.4h9.1v2.5h-9.1zM605.5 216.4h9.1v2.5h-9.1zM57.7 218.6h13.5v2.5h-13.5zM77.5 218.6h26.7v2.5h-26.7zM114.9 218.6h9.1v2.5h-9.1zM125.9 218.6h4.7v2.5h-4.7zM167.7 218.6h15.7v2.5h-15.7zM251.3 218.6h9.1v2.5h-9.1zM277.7 218.6h22.3v2.5h-22.3zM317.3 218.6h26.7v2.5h-26.7zM537.3 218.6h22.3v2.5h-22.3zM579.1 218.6h9.1v2.5h-9.1zM603.3 218.6h9.1v2.5h-9.1zM53.3 220.8h9.1v2.5h-9.1zM64.3 220.8h6.9v2.5h-6.9zM77.5 220.8h11.3v2.5h-11.3zM101.7 220.8h4.7v2.5h-4.7zM119.3 220.8h11.3v2.5h-11.3zM167.7 220.8h15.7v2.5h-15.7zM249.1 220.8h13.5v2.5h-13.5zM273.3 220.8h31.1v2.5h-31.1zM330.5 220.8h17.9v2.5h-17.9zM579.1 220.8h9.1v2.5h-9.1zM603.3 220.8h6.9v2.5h-6.9zM51.1 223.0h9.1v2.5h-9.1zM66.5 223.0h4.7v2.5h-4.7zM77.5 223.0h9.1v2.5h-9.1zM103.9 223.0h2.5v2.5h-2.5zM121.5 223.0h6.9v2.5h-6.9zM167.7 223.0h15.7v2.5h-15.7zM246.9 223.0h9.1v2.5h-9.1zM260.1 223.0h4.7v2.5h-4.7zM271.1 223.0h35.5v2.5h-35.5zM339.3 223.0h11.3v2.5h-11.3zM579.1 223.0h9.1v2.5h-9.1zM603.3 223.0h4.7v2.5h-4.7zM51.1 225.2h9.1v2.5h-9.1zM66.5 225.2h4.7v2.5h-4.7zM77.5 225.2h9.1v2.5h-9.1zM103.9 225.2h4.7v2.5h-4.7zM121.5 225.2h6.9v2.5h-6.9zM167.7 225.2h17.9v2.5h-17.9zM246.9 225.2h9.1v2.5h-9.1zM260.1 225.2h4.7v2.5h-4.7zM271.1 225.2h35.5v2.5h-35.5zM341.5 225.2h9.1v2.5h-9.1zM579.1 225.2h11.3v2.5h-11.3zM603.3 225.2h4.7v2.5h-4.7zM53.3 227.4h9.1v2.5h-9.1zM66.5 227.4h6.9v2.5h-6.9zM75.3 227.4h11.3v2.5h-11.3zM106.1 227.4h4.7v2.5h-4.7zM123.7 227.4h2.5v2.5h-2.5zM176.5 227.4h26.7v2.5h-26.7zM244.7 227.4h17.9v2.5h-17.9zM273.3 227.4h31.1v2.5h-31.1zM339.3 227.4h11.3v2.5h-11.3zM581.3 227.4h24.5v2.5h-24.5zM55.5 229.6h6.9v2.5h-6.9zM66.5 229.6h20.1v2.5h-20.1zM106.1 229.6h6.9v2.5h-6.9zM191.9 229.6h24.5v2.5h-24.5zM242.5 229.6h17.9v2.5h-17.9zM317.3 229.6h33.3v2.5h-33.3zM585.7 229.6h17.9v2.5h-17.9zM57.7 231.8h4.7v2.5h-4.7zM68.7 231.8h17.9v2.5h-17.9zM110.5 231.8h4.7v2.5h-4.7zM198.5 231.8h20.1v2.5h-20.1zM238.1 231.8h17.9v2.5h-17.9zM315.1 231.8h35.5v2.5h-35.5zM57.7 234.0h4.7v2.5h-4.7zM70.9 234.0h15.7v2.5h-15.7zM110.5 234.0h4.7v2.5h-4.7zM202.9 234.0h17.9v2.5h-17.9zM235.9 234.0h17.9v2.5h-17.9zM315.1 234.0h35.5v2.5h-35.5zM57.7 236.2h4.7v2.5h-4.7zM75.3 236.2h13.5v2.5h-13.5zM106.1 236.2h6.9v2.5h-6.9zM211.7 236.2h17.9v2.5h-17.9zM233.7 236.2h22.3v2.5h-22.3zM315.1 236.2h33.3v2.5h-33.3zM57.7 238.4h4.7v2.5h-4.7zM77.5 238.4h13.5v2.5h-13.5zM103.9 238.4h6.9v2.5h-6.9zM216.1 238.4h31.1v2.5h-31.1zM251.3 238.4h9.1v2.5h-9.1zM315.1 238.4h28.9v2.5h-28.9zM57.7 240.6h4.7v2.5h-4.7zM79.7 240.6h13.5v2.5h-13.5zM101.7 240.6h4.7v2.5h-4.7zM224.9 240.6h20.1v2.5h-20.1zM253.5 240.6h9.1v2.5h-9.1zM315.1 240.6h26.7v2.5h-26.7zM57.7 242.8h4.7v2.5h-4.7zM79.7 242.8h15.7v2.5h-15.7zM101.7 242.8h4.7v2.5h-4.7zM227.1 242.8h17.9v2.5h-17.9zM253.5 242.8h9.1v2.5h-9.1zM315.1 242.8h26.7v2.5h-26.7zM57.7 245.0h4.7v2.5h-4.7zM79.7 245.0h15.7v2.5h-15.7zM101.7 245.0h4.7v2.5h-4.7zM227.1 245.0h17.9v2.5h-17.9zM253.5 245.0h9.1v2.5h-9.1zM315.1 245.0h26.7v2.5h-26.7z"/>
<path fill="#EAFFFF" d="M504.3 53.6h17.9v2.5h-17.9zM484.5 55.8h48.7v2.5h-48.7zM480.1 58.0h17.9v2.5h-17.9zM528.5 58.0h9.1v2.5h-9.1zM471.3 60.2h13.5v2.5h-13.5zM535.1 60.2h11.3v2.5h-11.3zM572.5 60.2h9.1v2.5h-9.1zM466.9 62.4h13.5v2.5h-13.5zM541.7 62.4h11.3v2.5h-11.3zM570.3 62.4h15.7v2.5h-15.7zM449.3 64.6h26.7v2.5h-26.7zM550.5 64.6h9.1v2.5h-9.1zM568.1 64.6h4.7v2.5h-4.7zM576.9 64.6h11.3v2.5h-11.3zM444.9 66.8h28.9v2.5h-28.9zM554.9 66.8h9.1v2.5h-9.1zM568.1 66.8h4.7v2.5h-4.7zM579.1 66.8h11.3v2.5h-11.3zM427.3 69.0h20.1v2.5h-20.1zM466.9 69.0h4.7v2.5h-4.7zM559.3 69.0h11.3v2.5h-11.3zM581.3 69.0h15.7v2.5h-15.7zM420.7 71.2h11.3v2.5h-11.3zM563.7 71.2h4.7v2.5h-4.7zM594.5 71.2h4.7v2.5h-4.7zM405.3 73.4h20.1v2.5h-20.1zM596.7 73.4h2.5v2.5h-2.5zM403.1 75.6h15.7v2.5h-15.7zM596.7 75.6h2.5v2.5h-2.5zM202.9 77.8h9.1v2.5h-9.1zM400.9 77.8h13.5v2.5h-13.5zM563.7 77.8h9.1v2.5h-9.1zM576.9 77.8h11.3v2.5h-11.3zM594.5 77.8h4.7v2.5h-4.7zM200.7 80.0h15.7v2.5h-15.7zM398.7 80.0h13.5v2.5h-13.5zM561.5 80.0h35.5v2.5h-35.5zM198.5 82.2h4.7v2.5h-4.7zM207.3 82.2h11.3v2.5h-11.3zM396.5 82.2h13.5v2.5h-13.5zM559.3 82.2h4.7v2.5h-4.7zM568.1 82.2h13.5v2.5h-13.5zM198.5 84.4h4.7v2.5h-4.7zM207.3 84.4h13.5v2.5h-13.5zM396.5 84.4h15.7v2.5h-15.7zM559.3 84.4h4.7v2.5h-4.7zM570.3 84.4h6.9v2.5h-6.9zM200.7 86.6h26.7v2.5h-26.7zM409.7 86.6h6.9v2.5h-6.9zM561.5 86.6h9.1v2.5h-9.1zM202.9 88.8h64.1v2.5h-64.1zM416.3 88.8h13.5v2.5h-13.5zM563.7 88.8h6.9v2.5h-6.9zM207.3 91.0h13.5v2.5h-13.5zM249.1 91.0h26.7v2.5h-26.7zM425.1 91.0h20.1v2.5h-20.1zM565.9 91.0h4.7v2.5h-4.7zM207.3 93.2h9.1v2.5h-9.1zM271.1 93.2h6.9v2.5h-6.9zM431.7 93.2h17.9v2.5h-17.9zM568.1 93.2h2.5v2.5h-2.5zM119.3 95.4h28.9v2.5h-28.9zM169.9 95.4h39.9v2.5h-39.9zM273.3 95.4h4.7v2.5h-4.7zM444.9 95.4h33.3v2.5h-33.3zM568.1 95.4h6.9v2.5h-6.9zM112.7 97.6h11.3v2.5h-11.3zM147.9 97.6h31.1v2.5h-31.1zM275.5 97.6h6.9v2.5h-6.9zM449.3 97.6h35.5v2.5h-35.5zM574.7 97.6h2.5v2.5h-2.5zM106.1 99.8h9.1v2.5h-9.1zM282.1 99.8h4.7v2.5h-4.7zM482.3 99.8h2.5v2.5h-2.5zM519.7 99.8h13.5v2.5h-13.5zM576.9 99.8h2.5v2.5h-2.5zM101.7 102.0h9.1v2.5h-9.1zM284.3 102.0h2.5v2.5h-2.5zM482.3 102.0h4.7v2.5h-4.7zM517.5 102.0h17.9v2.5h-17.9zM576.9 102.0h2.5v2.5h-2.5zM70.9 104.2h33.3v2.5h-33.3zM284.3 104.2h2.5v2.5h-2.5zM484.5 104.2h4.7v2.5h-4.7zM515.3 104.2h17.9v2.5h-17.9zM576.9 104.2h2.5v2.5h-2.5zM66.5 106.4h20.1v2.5h-20.1zM282.1 106.4h4.7v2.5h-4.7zM466.9 106.4h4.7v2.5h-4.7zM488.9 106.4h2.5v2.5h-2.5zM513.1 106.4h20.1v2.5h-20.1zM563.7 106.4h4.7v2.5h-4.7zM574.7 106.4h4.7v2.5h-4.7zM592.3 106.4h11.3v2.5h-11.3zM42.3 108.6h6.9v2.5h-6.9zM62.1 108.6h9.1v2.5h-9.1zM279.9 108.6h6.9v2.5h-6.9zM464.7 108.6h9.1v2.5h-9.1zM488.9 108.6h2.5v2.5h-2.5zM510.9 108.6h22.3v2.5h-22.3zM546.1 108.6h33.3v2.5h-33.3zM587.9 108.6h4.7v2.5h-4.7zM601.1 108.6h6.9v2.5h-6.9zM42.3 110.8h11.3v2.5h-11.3zM57.7 110.8h9.1v2.5h-9.1zM279.9 110.8h6.9v2.5h-6.9zM464.7 110.8h2.5v2.5h-2.5zM471.3 110.8h2.5v2.5h-2.5zM488.9 110.8h4.7v2.5h-4.7zM510.9 110.8h24.5v2.5h-24.5zM543.9 110.8h35.5v2.5h-35.5zM585.7 110.8h6.9v2.5h-6.9zM603.3 110.8h4.7v2.5h-4.7zM42.3 113.0h20.1v2.5h-20.1zM279.9 113.0h9.1v2.5h-9.1zM464.7 113.0h9.1v2.5h-9.1zM488.9 113.0h4.7v2.5h-4.7zM510.9 113.0h9.1v2.5h-9.1zM532.9 113.0h13.5v2.5h-13.5zM572.5 113.0h4.7v2.5h-4.7zM590.1 113.0h15.7v2.5h-15.7zM660.5 113.0h15.7v2.5h-15.7zM48.9 115.2h9.1v2.5h-9.1zM279.9 115.2h11.3v2.5h-11.3zM334.9 115.2h22.3v2.5h-22.3zM466.9 115.2h9.1v2.5h-9.1zM488.9 115.2h4.7v2.5h-4.7zM510.9 115.2h6.9v2.5h-6.9zM596.7 115.2h6.9v2.5h-6.9zM658.3 115.2h17.9v2.5h-17.9zM279.9 117.4h24.5v2.5h-24.5zM317.3 117.4h42.1v2.5h-42.1zM466.9 117.4h13.5v2.5h-13.5zM488.9 117.4h4.7v2.5h-4.7zM510.9 117.4h4.7v2.5h-4.7zM656.1 117.4h4.7v2.5h-4.7zM279.9 119.6h26.7v2.5h-26.7zM315.1 119.6h46.5v2.5h-46.5zM466.9 119.6h15.7v2.5h-15.7zM488.9 119.6h2.5v2.5h-2.5zM510.9 119.6h4.7v2.5h-4.7zM656.1 119.6h4.7v2.5h-4.7zM282.1 121.8h26.7v2.5h-26.7zM312.9 121.8h57.5v2.5h-57.5zM466.9 121.8h4.7v2.5h-4.7zM477.9 121.8h6.9v2.5h-6.9zM488.9 121.8h2.5v2.5h-2.5zM510.9 121.8h4.7v2.5h-4.7zM656.1 121.8h4.7v2.5h-4.7zM286.5 124.0h39.9v2.5h-39.9zM339.3 124.0h35.5v2.5h-35.5zM464.7 124.0h4.7v2.5h-4.7zM480.1 124.0h11.3v2.5h-11.3zM510.9 124.0h4.7v2.5h-4.7zM656.1 124.0h2.5v2.5h-2.5zM288.7 126.2h35.5v2.5h-35.5zM341.5 126.2h20.1v2.5h-20.1zM365.7 126.2h11.3v2.5h-11.3zM464.7 126.2h2.5v2.5h-2.5zM482.3 126.2h6.9v2.5h-6.9zM508.7 126.2h6.9v2.5h-6.9zM656.1 126.2h2.5v2.5h-2.5zM288.7 128.4h35.5v2.5h-35.5zM341.5 128.4h15.7v2.5h-15.7zM370.1 128.4h9.1v2.5h-9.1zM464.7 128.4h2.5v2.5h-2.5zM484.5 128.4h4.7v2.5h-4.7zM508.7 128.4h6.9v2.5h-6.9zM656.1 128.4h2.5v2.5h-2.5zM286.5 130.6h35.5v2.5h-35.5zM343.7 130.6h4.7v2.5h-4.7zM374.5 130.6h13.5v2.5h-13.5zM462.5 130.6h4.7v2.5h-4.7zM506.5 130.6h4.7v2.5h-4.7zM656.1 130.6h2.5v2.5h-2.5zM264.5 132.8h44.3v2.5h-44.3zM378.9 132.8h13.5v2.5h-13.5zM462.5 132.8h4.7v2.5h-4.7zM506.5 132.8h4.7v2.5h-4.7zM656.1 132.8h2.5v2.5h-2.5zM262.3 135.0h44.3v2.5h-44.3zM383.3 135.0h11.3v2.5h-11.3zM462.5 135.0h2.5v2.5h-2.5zM506.5 135.0h2.5v2.5h-2.5zM656.1 135.0h2.5v2.5h-2.5zM262.3 137.2h44.3v2.5h-44.3zM385.5 137.2h11.3v2.5h-11.3zM462.5 137.2h2.5v2.5h-2.5zM504.3 137.2h4.7v2.5h-4.7zM653.9 137.2h4.7v2.5h-4.7zM262.3 139.4h42.1v2.5h-42.1zM387.7 139.4h11.3v2.5h-11.3zM462.5 139.4h4.7v2.5h-4.7zM502.1 139.4h4.7v2.5h-4.7zM647.3 139.4h9.1v2.5h-9.1zM262.3 141.6h28.9v2.5h-28.9zM389.9 141.6h11.3v2.5h-11.3zM464.7 141.6h15.7v2.5h-15.7zM499.9 141.6h6.9v2.5h-6.9zM634.1 141.6h17.9v2.5h-17.9zM262.3 143.8h26.7v2.5h-26.7zM392.1 143.8h11.3v2.5h-11.3zM477.9 143.8h4.7v2.5h-4.7zM497.7 143.8h4.7v2.5h-4.7zM631.9 143.8h15.7v2.5h-15.7zM262.3 146.0h26.7v2.5h-26.7zM394.3 146.0h9.1v2.5h-9.1zM480.1 146.0h2.5v2.5h-2.5zM497.7 146.0h4.7v2.5h-4.7zM631.9 146.0h15.7v2.5h-15.7zM264.5 148.2h22.3v2.5h-22.3zM392.1 148.2h11.3v2.5h-11.3zM480.1 148.2h2.5v2.5h-2.5zM497.7 148.2h4.7v2.5h-4.7zM629.7 148.2h13.5v2.5h-13.5zM387.7 150.4h15.7v2.5h-15.7zM480.1 150.4h4.7v2.5h-4.7zM499.9 150.4h2.5v2.5h-2.5zM554.9 150.4h86.1v2.5h-86.1zM385.5 152.6h17.9v2.5h-17.9zM480.1 152.6h4.7v2.5h-4.7zM499.9 152.6h2.5v2.5h-2.5zM519.7 152.6h119.1v2.5h-119.1zM383.3 154.8h20.1v2.5h-20.1zM480.1 154.8h4.7v2.5h-4.7zM499.9 154.8h2.5v2.5h-2.5zM517.5 154.8h121.3v2.5h-121.3zM378.9 157.0h22.3v2.5h-22.3zM477.9 157.0h9.1v2.5h-9.1zM499.9 157.0h4.7v2.5h-4.7zM515.3 157.0h123.5v2.5h-123.5zM374.5 159.2h13.5v2.5h-13.5zM475.7 159.2h13.5v2.5h-13.5zM497.7 159.2h141.1v2.5h-141.1zM361.3 161.4h17.9v2.5h-17.9zM473.5 161.4h165.3v2.5h-165.3zM359.1 163.6h17.9v2.5h-17.9zM473.5 163.6h165.3v2.5h-165.3zM356.9 165.8h17.9v2.5h-17.9zM471.3 165.8h163.1v2.5h-163.1zM317.3 168.0h53.1v2.5h-53.1zM458.1 168.0h35.5v2.5h-35.5zM506.5 168.0h13.5v2.5h-13.5zM524.1 168.0h22.3v2.5h-22.3zM576.9 168.0h55.3v2.5h-55.3zM315.1 170.2h53.1v2.5h-53.1zM455.9 170.2h35.5v2.5h-35.5zM508.7 170.2h9.1v2.5h-9.1zM526.3 170.2h17.9v2.5h-17.9zM579.1 170.2h50.9v2.5h-50.9zM315.1 172.4h53.1v2.5h-53.1zM455.9 172.4h35.5v2.5h-35.5zM508.7 172.4h9.1v2.5h-9.1zM526.3 172.4h17.9v2.5h-17.9zM579.1 172.4h50.9v2.5h-50.9zM312.9 174.6h53.1v2.5h-53.1zM453.7 174.6h39.9v2.5h-39.9zM506.5 174.6h13.5v2.5h-13.5zM524.1 174.6h17.9v2.5h-17.9zM581.3 174.6h44.3v2.5h-44.3zM308.5 176.8h35.5v2.5h-35.5zM440.5 176.8h97.1v2.5h-97.1zM585.7 176.8h37.7v2.5h-37.7zM306.3 179.0h35.5v2.5h-35.5zM438.3 179.0h97.1v2.5h-97.1zM587.9 179.0h33.3v2.5h-33.3zM304.1 181.2h35.5v2.5h-35.5zM438.3 181.2h97.1v2.5h-97.1zM587.9 181.2h33.3v2.5h-33.3zM301.9 183.4h28.9v2.5h-28.9zM438.3 183.4h94.9v2.5h-94.9zM590.1 183.4h33.3v2.5h-33.3zM299.7 185.6h11.3v2.5h-11.3zM438.3 185.6h94.9v2.5h-94.9zM590.1 185.6h35.5v2.5h-35.5zM290.9 187.8h17.9v2.5h-17.9zM438.3 187.8h94.9v2.5h-94.9zM590.1 187.8h39.9v2.5h-39.9zM290.9 190.0h17.9v2.5h-17.9zM438.3 190.0h94.9v2.5h-94.9zM590.1 190.0h39.9v2.5h-39.9zM101.7 192.2h9.1v2.5h-9.1zM299.7 192.2h26.7v2.5h-26.7zM440.5 192.2h94.9v2.5h-94.9zM590.1 192.2h37.7v2.5h-37.7zM97.3 194.4h15.7v2.5h-15.7zM315.1 194.4h15.7v2.5h-15.7zM444.9 194.4h92.7v2.5h-92.7zM563.7 194.4h4.7v2.5h-4.7zM594.5 194.4h22.3v2.5h-22.3zM95.1 196.6h11.3v2.5h-11.3zM110.5 196.6h4.7v2.5h-4.7zM150.1 196.6h13.5v2.5h-13.5zM321.7 196.6h17.9v2.5h-17.9zM447.1 196.6h103.7v2.5h-103.7zM561.5 196.6h26.7v2.5h-26.7zM596.7 196.6h17.9v2.5h-17.9zM95.1 198.8h9.1v2.5h-9.1zM110.5 198.8h4.7v2.5h-4.7zM147.9 198.8h17.9v2.5h-17.9zM323.9 198.8h17.9v2.5h-17.9zM447.1 198.8h105.9v2.5h-105.9zM561.5 198.8h26.7v2.5h-26.7zM598.9 198.8h15.7v2.5h-15.7zM95.1 201.0h9.1v2.5h-9.1zM110.5 201.0h6.9v2.5h-6.9zM145.7 201.0h22.3v2.5h-22.3zM326.1 201.0h17.9v2.5h-17.9zM449.3 201.0h101.5v2.5h-101.5zM561.5 201.0h26.7v2.5h-26.7zM95.1 203.2h9.1v2.5h-9.1zM110.5 203.2h9.1v2.5h-9.1zM141.3 203.2h31.1v2.5h-31.1zM330.5 203.2h26.7v2.5h-26.7zM378.9 203.2h48.7v2.5h-48.7zM471.3 203.2h75.1v2.5h-75.1zM561.5 203.2h26.7v2.5h-26.7zM616.5 203.2h59.7v2.5h-59.7zM42.3 205.4h6.9v2.5h-6.9zM95.1 205.4h9.1v2.5h-9.1zM112.7 205.4h9.1v2.5h-9.1zM139.1 205.4h35.5v2.5h-35.5zM332.7 205.4h97.1v2.5h-97.1zM473.5 205.4h70.7v2.5h-70.7zM561.5 205.4h26.7v2.5h-26.7zM616.5 205.4h59.7v2.5h-59.7zM42.3 207.6h9.1v2.5h-9.1zM95.1 207.6h9.1v2.5h-9.1zM110.5 207.6h11.3v2.5h-11.3zM136.9 207.6h37.7v2.5h-37.7zM332.7 207.6h97.1v2.5h-97.1zM473.5 207.6h70.7v2.5h-70.7zM561.5 207.6h26.7v2.5h-26.7zM616.5 207.6h59.7v2.5h-59.7zM42.3 209.8h11.3v2.5h-11.3zM95.1 209.8h11.3v2.5h-11.3zM108.3 209.8h11.3v2.5h-11.3zM134.7 209.8h37.7v2.5h-37.7zM332.7 209.8h99.3v2.5h-99.3zM473.5 209.8h68.5v2.5h-68.5zM561.5 209.8h24.5v2.5h-24.5zM616.5 209.8h59.7v2.5h-59.7zM42.3 212.0h15.7v2.5h-15.7zM95.1 212.0h22.3v2.5h-22.3zM134.7 212.0h9.1v2.5h-9.1zM145.7 212.0h22.3v2.5h-22.3zM332.7 212.0h103.7v2.5h-103.7zM473.5 212.0h64.1v2.5h-64.1zM561.5 212.0h20.1v2.5h-20.1zM616.5 212.0h9.1v2.5h-9.1zM638.5 212.0h37.7v2.5h-37.7zM42.3 214.2h17.9v2.5h-17.9zM70.9 214.2h4.7v2.5h-4.7zM95.1 214.2h20.1v2.5h-20.1zM132.5 214.2h9.1v2.5h-9.1zM147.9 214.2h17.9v2.5h-17.9zM332.7 214.2h105.9v2.5h-105.9zM473.5 214.2h61.9v2.5h-61.9zM561.5 214.2h17.9v2.5h-17.9zM614.3 214.2h9.1v2.5h-9.1zM640.7 214.2h35.5v2.5h-35.5zM42.3 216.4h17.9v2.5h-17.9zM68.7 216.4h9.1v2.5h-9.1zM97.3 216.4h15.7v2.5h-15.7zM132.5 216.4h6.9v2.5h-6.9zM147.9 216.4h17.9v2.5h-17.9zM334.9 216.4h103.7v2.5h-103.7zM473.5 216.4h61.9v2.5h-61.9zM561.5 216.4h17.9v2.5h-17.9zM614.3 216.4h9.1v2.5h-9.1zM640.7 216.4h35.5v2.5h-35.5zM42.3 218.6h15.7v2.5h-15.7zM70.9 218.6h6.9v2.5h-6.9zM103.9 218.6h11.3v2.5h-11.3zM130.3 218.6h6.9v2.5h-6.9zM147.9 218.6h20.1v2.5h-20.1zM343.7 218.6h97.1v2.5h-97.1zM471.3 218.6h66.3v2.5h-66.3zM559.3 218.6h20.1v2.5h-20.1zM612.1 218.6h13.5v2.5h-13.5zM638.5 218.6h37.7v2.5h-37.7zM42.3 220.8h11.3v2.5h-11.3zM70.9 220.8h6.9v2.5h-6.9zM106.1 220.8h13.5v2.5h-13.5zM130.3 220.8h4.7v2.5h-4.7zM147.9 220.8h11.3v2.5h-11.3zM161.1 220.8h6.9v2.5h-6.9zM348.1 220.8h231.3v2.5h-231.3zM609.9 220.8h66.3v2.5h-66.3zM42.3 223.0h9.1v2.5h-9.1zM70.9 223.0h6.9v2.5h-6.9zM106.1 223.0h15.7v2.5h-15.7zM128.1 223.0h4.7v2.5h-4.7zM147.9 223.0h9.1v2.5h-9.1zM163.3 223.0h4.7v2.5h-4.7zM255.7 223.0h4.7v2.5h-4.7zM350.3 223.0h229.1v2.5h-229.1zM607.7 223.0h68.5v2.5h-68.5zM42.3 225.2h9.1v2.5h-9.1zM70.9 225.2h6.9v2.5h-6.9zM108.3 225.2h13.5v2.5h-13.5zM128.1 225.2h4.7v2.5h-4.7zM147.9 225.2h9.1v2.5h-9.1zM163.3 225.2h4.7v2.5h-4.7zM255.7 225.2h4.7v2.5h-4.7zM350.3 225.2h229.1v2.5h-229.1zM607.7 225.2h68.5v2.5h-68.5zM42.3 227.4h11.3v2.5h-11.3zM73.1 227.4h2.5v2.5h-2.5zM110.5 227.4h13.5v2.5h-13.5zM125.9 227.4h9.1v2.5h-9.1zM150.1 227.4h4.7v2.5h-4.7zM165.5 227.4h11.3v2.5h-11.3zM350.3 227.4h231.3v2.5h-231.3zM605.5 227.4h70.7v2.5h-70.7zM42.3 229.6h13.5v2.5h-13.5zM112.7 229.6h24.5v2.5h-24.5zM167.7 229.6h24.5v2.5h-24.5zM350.3 229.6h235.7v2.5h-235.7zM603.3 229.6h72.9v2.5h-72.9zM42.3 231.8h15.7v2.5h-15.7zM114.9 231.8h24.5v2.5h-24.5zM172.1 231.8h13.5v2.5h-13.5zM189.7 231.8h9.1v2.5h-9.1zM350.3 231.8h325.9v2.5h-325.9zM42.3 234.0h15.7v2.5h-15.7zM114.9 234.0h24.5v2.5h-24.5zM176.5 234.0h4.7v2.5h-4.7zM191.9 234.0h11.3v2.5h-11.3zM350.3 234.0h325.9v2.5h-325.9zM42.3 236.2h15.7v2.5h-15.7zM112.7 236.2h28.9v2.5h-28.9zM194.1 236.2h17.9v2.5h-17.9zM348.1 236.2h39.9v2.5h-39.9zM392.1 236.2h284.1v2.5h-284.1zM42.3 238.4h15.7v2.5h-15.7zM110.5 238.4h35.5v2.5h-35.5zM198.5 238.4h17.9v2.5h-17.9zM246.9 238.4h4.7v2.5h-4.7zM343.7 238.4h42.1v2.5h-42.1zM394.3 238.4h281.9v2.5h-281.9zM42.3 240.6h15.7v2.5h-15.7zM106.1 240.6h42.1v2.5h-42.1zM207.3 240.6h17.9v2.5h-17.9zM244.7 240.6h9.1v2.5h-9.1zM341.5 240.6h42.1v2.5h-42.1zM396.5 240.6h279.7v2.5h-279.7zM42.3 242.8h15.7v2.5h-15.7zM106.1 242.8h42.1v2.5h-42.1zM209.5 242.8h17.9v2.5h-17.9zM244.7 242.8h9.1v2.5h-9.1zM341.5 242.8h42.1v2.5h-42.1zM396.5 242.8h279.7v2.5h-279.7zM42.3 245.0h15.7v2.5h-15.7zM106.1 245.0h42.1v2.5h-42.1zM209.5 245.0h17.9v2.5h-17.9zM244.7 245.0h9.1v2.5h-9.1zM341.5 245.0h42.1v2.5h-42.1zM396.5 245.0h279.7v2.5h-279.7z"/>
<path fill="#FFFFEA" d="M482.3 53.6h22.3v2.5h-22.3zM521.9 53.6h13.5v2.5h-13.5zM466.9 55.8h17.9v2.5h-17.9zM532.9 55.8h9.1v2.5h-9.1zM572.5 55.8h22.3v2.5h-22.3zM462.5 58.0h17.9v2.5h-17.9zM537.3 58.0h9.1v2.5h-9.1zM568.1 58.0h28.9v2.5h-28.9zM449.3 60.2h22.3v2.5h-22.3zM546.1 60.2h17.9v2.5h-17.9zM565.9 60.2h6.9v2.5h-6.9zM581.3 60.2h17.9v2.5h-17.9zM444.9 62.4h22.3v2.5h-22.3zM552.7 62.4h17.9v2.5h-17.9zM585.7 62.4h17.9v2.5h-17.9zM431.7 64.6h17.9v2.5h-17.9zM559.3 64.6h9.1v2.5h-9.1zM587.9 64.6h17.9v2.5h-17.9zM427.3 66.8h17.9v2.5h-17.9zM563.7 66.8h4.7v2.5h-4.7zM590.1 66.8h15.7v2.5h-15.7zM420.7 69.0h6.9v2.5h-6.9zM596.7 69.0h11.3v2.5h-11.3zM403.1 71.2h17.9v2.5h-17.9zM598.9 71.2h11.3v2.5h-11.3zM202.9 73.4h22.3v2.5h-22.3zM396.5 73.4h9.1v2.5h-9.1zM598.9 73.4h13.5v2.5h-13.5zM198.5 75.6h28.9v2.5h-28.9zM394.3 75.6h9.1v2.5h-9.1zM598.9 75.6h15.7v2.5h-15.7zM196.3 77.8h6.9v2.5h-6.9zM211.7 77.8h15.7v2.5h-15.7zM392.1 77.8h9.1v2.5h-9.1zM598.9 77.8h13.5v2.5h-13.5zM187.5 80.0h13.5v2.5h-13.5zM216.1 80.0h11.3v2.5h-11.3zM392.1 80.0h6.9v2.5h-6.9zM596.7 80.0h11.3v2.5h-11.3zM185.3 82.2h13.5v2.5h-13.5zM218.3 82.2h9.1v2.5h-9.1zM392.1 82.2h4.7v2.5h-4.7zM563.7 82.2h4.7v2.5h-4.7zM581.3 82.2h24.5v2.5h-24.5zM183.1 84.4h15.7v2.5h-15.7zM220.5 84.4h9.1v2.5h-9.1zM392.1 84.4h4.7v2.5h-4.7zM563.7 84.4h6.9v2.5h-6.9zM576.9 84.4h26.7v2.5h-26.7zM183.1 86.6h17.9v2.5h-17.9zM227.1 86.6h22.3v2.5h-22.3zM394.3 86.6h15.7v2.5h-15.7zM570.3 86.6h11.3v2.5h-11.3zM183.1 88.8h20.1v2.5h-20.1zM266.7 88.8h11.3v2.5h-11.3zM396.5 88.8h20.1v2.5h-20.1zM570.3 88.8h6.9v2.5h-6.9zM123.7 91.0h22.3v2.5h-22.3zM183.1 91.0h24.5v2.5h-24.5zM275.5 91.0h2.5v2.5h-2.5zM416.3 91.0h9.1v2.5h-9.1zM570.3 91.0h4.7v2.5h-4.7zM119.3 93.2h28.9v2.5h-28.9zM178.7 93.2h28.9v2.5h-28.9zM277.7 93.2h2.5v2.5h-2.5zM422.9 93.2h9.1v2.5h-9.1zM570.3 93.2h4.7v2.5h-4.7zM101.7 95.4h17.9v2.5h-17.9zM147.9 95.4h22.3v2.5h-22.3zM277.7 95.4h4.7v2.5h-4.7zM425.1 95.4h20.1v2.5h-20.1zM574.7 95.4h4.7v2.5h-4.7zM88.5 97.6h24.5v2.5h-24.5zM282.1 97.6h4.7v2.5h-4.7zM427.3 97.6h22.3v2.5h-22.3zM576.9 97.6h2.5v2.5h-2.5zM616.5 97.6h22.3v2.5h-22.3zM73.1 99.8h33.3v2.5h-33.3zM286.5 99.8h2.5v2.5h-2.5zM444.9 99.8h24.5v2.5h-24.5zM477.9 99.8h4.7v2.5h-4.7zM579.1 99.8h2.5v2.5h-2.5zM614.3 99.8h26.7v2.5h-26.7zM66.5 102.0h35.5v2.5h-35.5zM286.5 102.0h4.7v2.5h-4.7zM447.1 102.0h20.1v2.5h-20.1zM480.1 102.0h2.5v2.5h-2.5zM579.1 102.0h2.5v2.5h-2.5zM614.3 102.0h26.7v2.5h-26.7zM42.3 104.2h11.3v2.5h-11.3zM57.7 104.2h13.5v2.5h-13.5zM286.5 104.2h4.7v2.5h-4.7zM449.3 104.2h24.5v2.5h-24.5zM480.1 104.2h4.7v2.5h-4.7zM579.1 104.2h2.5v2.5h-2.5zM592.3 104.2h15.7v2.5h-15.7zM612.1 104.2h31.1v2.5h-31.1zM42.3 106.4h24.5v2.5h-24.5zM286.5 106.4h4.7v2.5h-4.7zM343.7 106.4h13.5v2.5h-13.5zM460.3 106.4h6.9v2.5h-6.9zM471.3 106.4h4.7v2.5h-4.7zM482.3 106.4h6.9v2.5h-6.9zM579.1 106.4h4.7v2.5h-4.7zM585.7 106.4h6.9v2.5h-6.9zM603.3 106.4h72.9v2.5h-72.9zM48.9 108.6h13.5v2.5h-13.5zM286.5 108.6h4.7v2.5h-4.7zM334.9 108.6h24.5v2.5h-24.5zM462.5 108.6h2.5v2.5h-2.5zM473.5 108.6h2.5v2.5h-2.5zM486.7 108.6h2.5v2.5h-2.5zM579.1 108.6h9.1v2.5h-9.1zM607.7 108.6h68.5v2.5h-68.5zM53.3 110.8h4.7v2.5h-4.7zM286.5 110.8h4.7v2.5h-4.7zM330.5 110.8h28.9v2.5h-28.9zM462.5 110.8h2.5v2.5h-2.5zM473.5 110.8h4.7v2.5h-4.7zM579.1 110.8h6.9v2.5h-6.9zM607.7 110.8h68.5v2.5h-68.5zM288.7 113.0h20.1v2.5h-20.1zM312.9 113.0h48.7v2.5h-48.7zM462.5 113.0h2.5v2.5h-2.5zM473.5 113.0h6.9v2.5h-6.9zM519.7 113.0h13.5v2.5h-13.5zM546.1 113.0h26.7v2.5h-26.7zM576.9 113.0h13.5v2.5h-13.5zM605.5 113.0h55.3v2.5h-55.3zM290.9 115.2h44.3v2.5h-44.3zM356.9 115.2h17.9v2.5h-17.9zM462.5 115.2h4.7v2.5h-4.7zM475.7 115.2h6.9v2.5h-6.9zM517.5 115.2h64.1v2.5h-64.1zM585.7 115.2h11.3v2.5h-11.3zM603.3 115.2h55.3v2.5h-55.3zM304.1 117.4h13.5v2.5h-13.5zM359.1 117.4h17.9v2.5h-17.9zM462.5 117.4h4.7v2.5h-4.7zM480.1 117.4h4.7v2.5h-4.7zM515.3 117.4h4.7v2.5h-4.7zM568.1 117.4h11.3v2.5h-11.3zM594.5 117.4h61.9v2.5h-61.9zM306.3 119.6h9.1v2.5h-9.1zM361.3 119.6h15.7v2.5h-15.7zM462.5 119.6h4.7v2.5h-4.7zM482.3 119.6h2.5v2.5h-2.5zM486.7 119.6h2.5v2.5h-2.5zM515.3 119.6h4.7v2.5h-4.7zM570.3 119.6h9.1v2.5h-9.1zM596.7 119.6h59.7v2.5h-59.7zM308.5 121.8h4.7v2.5h-4.7zM370.1 121.8h9.1v2.5h-9.1zM462.5 121.8h4.7v2.5h-4.7zM484.5 121.8h4.7v2.5h-4.7zM515.3 121.8h4.7v2.5h-4.7zM570.3 121.8h9.1v2.5h-9.1zM596.7 121.8h59.7v2.5h-59.7zM374.5 124.0h17.9v2.5h-17.9zM462.5 124.0h2.5v2.5h-2.5zM515.3 124.0h4.7v2.5h-4.7zM570.3 124.0h9.1v2.5h-9.1zM596.7 124.0h59.7v2.5h-59.7zM376.7 126.2h17.9v2.5h-17.9zM462.5 126.2h2.5v2.5h-2.5zM515.3 126.2h4.7v2.5h-4.7zM570.3 126.2h9.1v2.5h-9.1zM596.7 126.2h59.7v2.5h-59.7zM378.9 128.4h15.7v2.5h-15.7zM462.5 128.4h2.5v2.5h-2.5zM515.3 128.4h4.7v2.5h-4.7zM570.3 128.4h9.1v2.5h-9.1zM596.7 128.4h59.7v2.5h-59.7zM387.7 130.6h9.1v2.5h-9.1zM460.3 130.6h2.5v2.5h-2.5zM510.9 130.6h6.9v2.5h-6.9zM570.3 130.6h6.9v2.5h-6.9zM594.5 130.6h61.9v2.5h-61.9zM392.1 132.8h9.1v2.5h-9.1zM449.3 132.8h13.5v2.5h-13.5zM510.9 132.8h4.7v2.5h-4.7zM563.7 132.8h6.9v2.5h-6.9zM590.1 132.8h66.3v2.5h-66.3zM394.3 135.0h9.1v2.5h-9.1zM447.1 135.0h15.7v2.5h-15.7zM508.7 135.0h4.7v2.5h-4.7zM561.5 135.0h9.1v2.5h-9.1zM587.9 135.0h68.5v2.5h-68.5zM396.5 137.2h6.9v2.5h-6.9zM447.1 137.2h15.7v2.5h-15.7zM508.7 137.2h2.5v2.5h-2.5zM561.5 137.2h9.1v2.5h-9.1zM587.9 137.2h66.3v2.5h-66.3zM398.7 139.4h6.9v2.5h-6.9zM444.9 139.4h17.9v2.5h-17.9zM506.5 139.4h4.7v2.5h-4.7zM559.3 139.4h13.5v2.5h-13.5zM585.7 139.4h61.9v2.5h-61.9zM400.9 141.6h6.9v2.5h-6.9zM440.5 141.6h24.5v2.5h-24.5zM506.5 141.6h4.7v2.5h-4.7zM554.9 141.6h79.5v2.5h-79.5zM403.1 143.8h6.9v2.5h-6.9zM438.3 143.8h39.9v2.5h-39.9zM502.1 143.8h6.9v2.5h-6.9zM552.7 143.8h79.5v2.5h-79.5zM403.1 146.0h9.1v2.5h-9.1zM438.3 146.0h42.1v2.5h-42.1zM502.1 146.0h6.9v2.5h-6.9zM550.5 146.0h81.7v2.5h-81.7zM403.1 148.2h11.3v2.5h-11.3zM436.1 148.2h44.3v2.5h-44.3zM502.1 148.2h9.1v2.5h-9.1zM515.3 148.2h11.3v2.5h-11.3zM543.9 148.2h86.1v2.5h-86.1zM403.1 150.4h77.3v2.5h-77.3zM502.1 150.4h53.1v2.5h-53.1zM403.1 152.6h77.3v2.5h-77.3zM502.1 152.6h17.9v2.5h-17.9zM403.1 154.8h77.3v2.5h-77.3zM502.1 154.8h15.7v2.5h-15.7zM400.9 157.0h77.3v2.5h-77.3zM504.3 157.0h11.3v2.5h-11.3zM387.7 159.2h88.3v2.5h-88.3zM378.9 161.4h94.9v2.5h-94.9zM376.7 163.6h97.1v2.5h-97.1zM374.5 165.8h97.1v2.5h-97.1zM370.1 168.0h88.3v2.5h-88.3zM493.3 168.0h13.5v2.5h-13.5zM367.9 170.2h88.3v2.5h-88.3zM491.1 170.2h17.9v2.5h-17.9zM367.9 172.4h88.3v2.5h-88.3zM491.1 172.4h17.9v2.5h-17.9zM365.7 174.6h88.3v2.5h-88.3zM493.3 174.6h13.5v2.5h-13.5zM343.7 176.8h97.1v2.5h-97.1zM341.5 179.0h97.1v2.5h-97.1zM339.3 181.2h99.3v2.5h-99.3zM330.5 183.4h17.9v2.5h-17.9zM361.3 183.4h77.3v2.5h-77.3zM310.7 185.6h33.3v2.5h-33.3zM374.5 185.6h64.1v2.5h-64.1zM308.5 187.8h26.7v2.5h-26.7zM376.7 187.8h61.9v2.5h-61.9zM308.5 190.0h26.7v2.5h-26.7zM376.7 190.0h61.9v2.5h-61.9zM326.1 192.2h17.9v2.5h-17.9zM376.7 192.2h64.1v2.5h-64.1zM330.5 194.4h17.9v2.5h-17.9zM376.7 194.4h68.5v2.5h-68.5zM106.1 196.6h4.7v2.5h-4.7zM339.3 196.6h17.9v2.5h-17.9zM376.7 196.6h70.7v2.5h-70.7zM103.9 198.8h6.9v2.5h-6.9zM341.5 198.8h20.1v2.5h-20.1zM374.5 198.8h72.9v2.5h-72.9zM103.9 201.0h6.9v2.5h-6.9zM343.7 201.0h105.9v2.5h-105.9zM103.9 203.2h6.9v2.5h-6.9zM356.9 203.2h22.3v2.5h-22.3zM427.3 203.2h44.3v2.5h-44.3zM103.9 205.4h9.1v2.5h-9.1zM429.5 205.4h44.3v2.5h-44.3zM103.9 207.6h6.9v2.5h-6.9zM429.5 207.6h44.3v2.5h-44.3zM106.1 209.8h2.5v2.5h-2.5zM431.7 209.8h42.1v2.5h-42.1zM143.5 212.0h2.5v2.5h-2.5zM436.1 212.0h37.7v2.5h-37.7zM625.3 212.0h13.5v2.5h-13.5zM141.3 214.2h6.9v2.5h-6.9zM438.3 214.2h35.5v2.5h-35.5zM623.1 214.2h17.9v2.5h-17.9zM139.1 216.4h9.1v2.5h-9.1zM438.3 216.4h35.5v2.5h-35.5zM623.1 216.4h17.9v2.5h-17.9zM136.9 218.6h11.3v2.5h-11.3zM440.5 218.6h31.1v2.5h-31.1zM625.3 218.6h13.5v2.5h-13.5zM134.7 220.8h13.5v2.5h-13.5zM158.9 220.8h2.5v2.5h-2.5zM132.5 223.0h15.7v2.5h-15.7zM156.7 223.0h6.9v2.5h-6.9zM132.5 225.2h15.7v2.5h-15.7zM156.7 225.2h6.9v2.5h-6.9zM134.7 227.4h15.7v2.5h-15.7zM154.5 227.4h11.3v2.5h-11.3zM136.9 229.6h31.1v2.5h-31.1zM139.1 231.8h33.3v2.5h-33.3zM185.3 231.8h4.7v2.5h-4.7zM139.1 234.0h37.7v2.5h-37.7zM180.9 234.0h11.3v2.5h-11.3zM141.3 236.2h53.1v2.5h-53.1zM387.7 236.2h4.7v2.5h-4.7zM145.7 238.4h53.1v2.5h-53.1zM385.5 238.4h9.1v2.5h-9.1zM147.9 240.6h28.9v2.5h-28.9zM180.9 240.6h26.7v2.5h-26.7zM383.3 240.6h4.7v2.5h-4.7zM392.1 240.6h4.7v2.5h-4.7zM147.9 242.8h26.7v2.5h-26.7zM183.1 242.8h26.7v2.5h-26.7zM383.3 242.8h4.7v2.5h-4.7zM392.1 242.8h4.7v2.5h-4.7zM147.9 245.0h26.7v2.5h-26.7zM183.1 245.0h26.7v2.5h-26.7zM383.3 245.0h4.7v2.5h-4.7zM392.1 245.0h4.7v2.5h-4.7z"/>
<path fill="#FFF1BC" d="M546.1 47.0h22.3v2.5h-22.3zM504.3 49.2h17.9v2.5h-17.9zM541.7 49.2h31.1v2.5h-31.1zM462.5 51.4h136.7v2.5h-136.7zM449.3 53.6h33.3v2.5h-33.3zM535.1 53.6h77.3v2.5h-77.3zM447.1 55.8h20.1v2.5h-20.1zM541.7 55.8h31.1v2.5h-31.1zM594.5 55.8h20.1v2.5h-20.1zM444.9 58.0h17.9v2.5h-17.9zM546.1 58.0h22.3v2.5h-22.3zM596.7 58.0h17.9v2.5h-17.9zM427.3 60.2h22.3v2.5h-22.3zM563.7 60.2h2.5v2.5h-2.5zM598.9 60.2h15.7v2.5h-15.7zM238.1 62.4h4.7v2.5h-4.7zM422.9 62.4h22.3v2.5h-22.3zM603.3 62.4h11.3v2.5h-11.3zM235.9 64.6h15.7v2.5h-15.7zM420.7 64.6h11.3v2.5h-11.3zM605.5 64.6h9.1v2.5h-9.1zM235.9 66.8h17.9v2.5h-17.9zM416.3 66.8h11.3v2.5h-11.3zM605.5 66.8h11.3v2.5h-11.3zM198.5 69.0h31.1v2.5h-31.1zM233.7 69.0h17.9v2.5h-17.9zM396.5 69.0h24.5v2.5h-24.5zM607.7 69.0h11.3v2.5h-11.3zM185.3 71.2h61.9v2.5h-61.9zM392.1 71.2h11.3v2.5h-11.3zM609.9 71.2h11.3v2.5h-11.3zM183.1 73.4h20.1v2.5h-20.1zM224.9 73.4h20.1v2.5h-20.1zM387.7 73.4h9.1v2.5h-9.1zM612.1 73.4h11.3v2.5h-11.3zM180.9 75.6h17.9v2.5h-17.9zM227.1 75.6h17.9v2.5h-17.9zM385.5 75.6h9.1v2.5h-9.1zM614.3 75.6h9.1v2.5h-9.1zM178.7 77.8h17.9v2.5h-17.9zM227.1 77.8h17.9v2.5h-17.9zM383.3 77.8h9.1v2.5h-9.1zM612.1 77.8h11.3v2.5h-11.3zM42.3 80.0h6.9v2.5h-6.9zM176.5 80.0h11.3v2.5h-11.3zM227.1 80.0h17.9v2.5h-17.9zM381.1 80.0h11.3v2.5h-11.3zM607.7 80.0h15.7v2.5h-15.7zM42.3 82.2h9.1v2.5h-9.1zM174.3 82.2h11.3v2.5h-11.3zM227.1 82.2h17.9v2.5h-17.9zM378.9 82.2h13.5v2.5h-13.5zM605.5 82.2h17.9v2.5h-17.9zM42.3 84.4h9.1v2.5h-9.1zM174.3 84.4h9.1v2.5h-9.1zM229.3 84.4h37.7v2.5h-37.7zM378.9 84.4h13.5v2.5h-13.5zM603.3 84.4h20.1v2.5h-20.1zM42.3 86.6h6.9v2.5h-6.9zM130.3 86.6h15.7v2.5h-15.7zM172.1 86.6h11.3v2.5h-11.3zM249.1 86.6h28.9v2.5h-28.9zM376.7 86.6h17.9v2.5h-17.9zM581.3 86.6h44.3v2.5h-44.3zM121.5 88.8h26.7v2.5h-26.7zM167.7 88.8h15.7v2.5h-15.7zM277.7 88.8h2.5v2.5h-2.5zM374.5 88.8h22.3v2.5h-22.3zM576.9 88.8h79.5v2.5h-79.5zM88.5 91.0h35.5v2.5h-35.5zM145.7 91.0h4.7v2.5h-4.7zM165.5 91.0h17.9v2.5h-17.9zM277.7 91.0h2.5v2.5h-2.5zM370.1 91.0h46.5v2.5h-46.5zM574.7 91.0h6.9v2.5h-6.9zM603.3 91.0h55.3v2.5h-55.3zM88.5 93.2h31.1v2.5h-31.1zM147.9 93.2h31.1v2.5h-31.1zM279.9 93.2h2.5v2.5h-2.5zM367.9 93.2h55.3v2.5h-55.3zM574.7 93.2h6.9v2.5h-6.9zM605.5 93.2h53.1v2.5h-53.1zM84.1 95.4h17.9v2.5h-17.9zM282.1 95.4h4.7v2.5h-4.7zM365.7 95.4h59.7v2.5h-59.7zM579.1 95.4h2.5v2.5h-2.5zM603.3 95.4h57.5v2.5h-57.5zM42.3 97.6h6.9v2.5h-6.9zM73.1 97.6h15.7v2.5h-15.7zM286.5 97.6h2.5v2.5h-2.5zM343.7 97.6h53.1v2.5h-53.1zM416.3 97.6h11.3v2.5h-11.3zM579.1 97.6h2.5v2.5h-2.5zM598.9 97.6h17.9v2.5h-17.9zM638.5 97.6h37.7v2.5h-37.7zM42.3 99.8h31.1v2.5h-31.1zM288.7 99.8h2.5v2.5h-2.5zM341.5 99.8h53.1v2.5h-53.1zM418.5 99.8h26.7v2.5h-26.7zM469.1 99.8h9.1v2.5h-9.1zM581.3 99.8h2.5v2.5h-2.5zM596.7 99.8h17.9v2.5h-17.9zM640.7 99.8h35.5v2.5h-35.5zM42.3 102.0h24.5v2.5h-24.5zM290.9 102.0h2.5v2.5h-2.5zM339.3 102.0h55.3v2.5h-55.3zM420.7 102.0h26.7v2.5h-26.7zM466.9 102.0h13.5v2.5h-13.5zM581.3 102.0h2.5v2.5h-2.5zM592.3 102.0h22.3v2.5h-22.3zM640.7 102.0h35.5v2.5h-35.5zM53.3 104.2h4.7v2.5h-4.7zM290.9 104.2h2.5v2.5h-2.5zM330.5 104.2h64.1v2.5h-64.1zM422.9 104.2h26.7v2.5h-26.7zM473.5 104.2h6.9v2.5h-6.9zM581.3 104.2h11.3v2.5h-11.3zM607.7 104.2h4.7v2.5h-4.7zM642.9 104.2h33.3v2.5h-33.3zM290.9 106.4h53.1v2.5h-53.1zM356.9 106.4h37.7v2.5h-37.7zM436.1 106.4h24.5v2.5h-24.5zM475.7 106.4h6.9v2.5h-6.9zM583.5 106.4h2.5v2.5h-2.5zM290.9 108.6h44.3v2.5h-44.3zM359.1 108.6h35.5v2.5h-35.5zM438.3 108.6h24.5v2.5h-24.5zM475.7 108.6h11.3v2.5h-11.3zM290.9 110.8h39.9v2.5h-39.9zM359.1 110.8h35.5v2.5h-35.5zM438.3 110.8h24.5v2.5h-24.5zM477.9 110.8h11.3v2.5h-11.3zM308.5 113.0h4.7v2.5h-4.7zM361.3 113.0h35.5v2.5h-35.5zM440.5 113.0h22.3v2.5h-22.3zM480.1 113.0h9.1v2.5h-9.1zM374.5 115.2h35.5v2.5h-35.5zM444.9 115.2h17.9v2.5h-17.9zM482.3 115.2h6.9v2.5h-6.9zM581.3 115.2h4.7v2.5h-4.7zM376.7 117.4h35.5v2.5h-35.5zM447.1 117.4h15.7v2.5h-15.7zM484.5 117.4h4.7v2.5h-4.7zM519.7 117.4h48.7v2.5h-48.7zM579.1 117.4h15.7v2.5h-15.7zM376.7 119.6h35.5v2.5h-35.5zM447.1 119.6h15.7v2.5h-15.7zM484.5 119.6h2.5v2.5h-2.5zM519.7 119.6h50.9v2.5h-50.9zM579.1 119.6h17.9v2.5h-17.9zM378.9 121.8h33.3v2.5h-33.3zM444.9 121.8h17.9v2.5h-17.9zM519.7 121.8h50.9v2.5h-50.9zM579.1 121.8h17.9v2.5h-17.9zM392.1 124.0h20.1v2.5h-20.1zM440.5 124.0h22.3v2.5h-22.3zM519.7 124.0h50.9v2.5h-50.9zM579.1 124.0h17.9v2.5h-17.9zM394.3 126.2h17.9v2.5h-17.9zM438.3 126.2h24.5v2.5h-24.5zM519.7 126.2h50.9v2.5h-50.9zM579.1 126.2h17.9v2.5h-17.9zM394.3 128.4h17.9v2.5h-17.9zM438.3 128.4h24.5v2.5h-24.5zM519.7 128.4h50.9v2.5h-50.9zM579.1 128.4h17.9v2.5h-17.9zM396.5 130.6h15.7v2.5h-15.7zM436.1 130.6h24.5v2.5h-24.5zM517.5 130.6h53.1v2.5h-53.1zM576.9 130.6h17.9v2.5h-17.9zM400.9 132.8h11.3v2.5h-11.3zM431.7 132.8h17.9v2.5h-17.9zM515.3 132.8h48.7v2.5h-48.7zM570.3 132.8h20.1v2.5h-20.1zM403.1 135.0h9.1v2.5h-9.1zM429.5 135.0h17.9v2.5h-17.9zM513.1 135.0h48.7v2.5h-48.7zM570.3 135.0h17.9v2.5h-17.9zM403.1 137.2h11.3v2.5h-11.3zM429.5 137.2h17.9v2.5h-17.9zM510.9 137.2h50.9v2.5h-50.9zM570.3 137.2h17.9v2.5h-17.9zM405.3 139.4h11.3v2.5h-11.3zM427.3 139.4h17.9v2.5h-17.9zM510.9 139.4h48.7v2.5h-48.7zM572.5 139.4h13.5v2.5h-13.5zM407.5 141.6h33.3v2.5h-33.3zM510.9 141.6h17.9v2.5h-17.9zM541.7 141.6h13.5v2.5h-13.5zM409.7 143.8h28.9v2.5h-28.9zM508.7 143.8h17.9v2.5h-17.9zM543.9 143.8h9.1v2.5h-9.1zM411.9 146.0h26.7v2.5h-26.7zM508.7 146.0h20.1v2.5h-20.1zM541.7 146.0h9.1v2.5h-9.1zM414.1 148.2h22.3v2.5h-22.3zM510.9 148.2h4.7v2.5h-4.7zM526.3 148.2h17.9v2.5h-17.9zM348.1 183.4h13.5v2.5h-13.5zM343.7 185.6h31.1v2.5h-31.1zM334.9 187.8h17.9v2.5h-17.9zM356.9 187.8h20.1v2.5h-20.1zM334.9 190.0h17.9v2.5h-17.9zM356.9 190.0h20.1v2.5h-20.1zM343.7 192.2h33.3v2.5h-33.3zM348.1 194.4h28.9v2.5h-28.9zM356.9 196.6h20.1v2.5h-20.1zM361.3 198.8h13.5v2.5h-13.5zM176.5 240.6h4.7v2.5h-4.7zM387.7 240.6h4.7v2.5h-4.7zM174.3 242.8h9.1v2.5h-9.1zM387.7 242.8h4.7v2.5h-4.7zM174.3 245.0h9.1v2.5h-9.1zM387.7 245.0h4.7v2.5h-4.7z"/>
<path fill="#FFD699" d="M541.7 42.6h31.1v2.5h-31.1zM440.5 44.8h180.7v2.5h-180.7zM438.3 47.0h108.1v2.5h-108.1zM568.1 47.0h55.3v2.5h-55.3zM438.3 49.2h66.3v2.5h-66.3zM521.9 49.2h20.1v2.5h-20.1zM572.5 49.2h50.9v2.5h-50.9zM436.1 51.4h26.7v2.5h-26.7zM598.9 51.4h26.7v2.5h-26.7zM202.9 53.6h39.9v2.5h-39.9zM414.1 53.6h35.5v2.5h-35.5zM612.1 53.6h17.9v2.5h-17.9zM200.7 55.8h44.3v2.5h-44.3zM411.9 55.8h35.5v2.5h-35.5zM614.3 55.8h17.9v2.5h-17.9zM200.7 58.0h46.5v2.5h-46.5zM411.9 58.0h33.3v2.5h-33.3zM614.3 58.0h17.9v2.5h-17.9zM198.5 60.2h57.5v2.5h-57.5zM409.7 60.2h17.9v2.5h-17.9zM614.3 60.2h17.9v2.5h-17.9zM42.3 62.4h13.5v2.5h-13.5zM185.3 62.4h53.1v2.5h-53.1zM242.5 62.4h26.7v2.5h-26.7zM396.5 62.4h26.7v2.5h-26.7zM614.3 62.4h17.9v2.5h-17.9zM671.5 62.4h4.7v2.5h-4.7zM42.3 64.6h15.7v2.5h-15.7zM183.1 64.6h53.1v2.5h-53.1zM251.3 64.6h20.1v2.5h-20.1zM394.3 64.6h26.7v2.5h-26.7zM614.3 64.6h17.9v2.5h-17.9zM669.3 64.6h6.9v2.5h-6.9zM42.3 66.8h17.9v2.5h-17.9zM183.1 66.8h53.1v2.5h-53.1zM253.5 66.8h17.9v2.5h-17.9zM392.1 66.8h24.5v2.5h-24.5zM616.5 66.8h15.7v2.5h-15.7zM667.1 66.8h9.1v2.5h-9.1zM42.3 69.0h20.1v2.5h-20.1zM180.9 69.0h17.9v2.5h-17.9zM229.3 69.0h4.7v2.5h-4.7zM251.3 69.0h22.3v2.5h-22.3zM387.7 69.0h9.1v2.5h-9.1zM618.7 69.0h15.7v2.5h-15.7zM667.1 69.0h9.1v2.5h-9.1zM42.3 71.2h22.3v2.5h-22.3zM176.5 71.2h9.1v2.5h-9.1zM246.9 71.2h31.1v2.5h-31.1zM383.3 71.2h9.1v2.5h-9.1zM620.9 71.2h26.7v2.5h-26.7zM667.1 71.2h9.1v2.5h-9.1zM42.3 73.4h24.5v2.5h-24.5zM174.3 73.4h9.1v2.5h-9.1zM244.7 73.4h35.5v2.5h-35.5zM378.9 73.4h9.1v2.5h-9.1zM623.1 73.4h26.7v2.5h-26.7zM667.1 73.4h9.1v2.5h-9.1zM42.3 75.6h24.5v2.5h-24.5zM174.3 75.6h6.9v2.5h-6.9zM244.7 75.6h35.5v2.5h-35.5zM378.9 75.6h6.9v2.5h-6.9zM623.1 75.6h26.7v2.5h-26.7zM667.1 75.6h9.1v2.5h-9.1zM42.3 77.8h22.3v2.5h-22.3zM172.1 77.8h6.9v2.5h-6.9zM244.7 77.8h35.5v2.5h-35.5zM376.7 77.8h6.9v2.5h-6.9zM623.1 77.8h28.9v2.5h-28.9zM664.9 77.8h11.3v2.5h-11.3zM48.9 80.0h13.5v2.5h-13.5zM132.5 80.0h11.3v2.5h-11.3zM167.7 80.0h9.1v2.5h-9.1zM244.7 80.0h35.5v2.5h-35.5zM376.7 80.0h4.7v2.5h-4.7zM623.1 80.0h53.1v2.5h-53.1zM51.1 82.2h9.1v2.5h-9.1zM130.3 82.2h15.7v2.5h-15.7zM165.5 82.2h9.1v2.5h-9.1zM244.7 82.2h35.5v2.5h-35.5zM374.5 82.2h4.7v2.5h-4.7zM623.1 82.2h53.1v2.5h-53.1zM51.1 84.4h6.9v2.5h-6.9zM128.1 84.4h22.3v2.5h-22.3zM165.5 84.4h9.1v2.5h-9.1zM266.7 84.4h15.7v2.5h-15.7zM374.5 84.4h4.7v2.5h-4.7zM623.1 84.4h53.1v2.5h-53.1zM48.9 86.6h6.9v2.5h-6.9zM88.5 86.6h42.1v2.5h-42.1zM145.7 86.6h6.9v2.5h-6.9zM163.3 86.6h9.1v2.5h-9.1zM277.7 86.6h4.7v2.5h-4.7zM370.1 86.6h6.9v2.5h-6.9zM625.3 86.6h50.9v2.5h-50.9zM42.3 88.8h11.3v2.5h-11.3zM86.3 88.8h35.5v2.5h-35.5zM147.9 88.8h20.1v2.5h-20.1zM279.9 88.8h2.5v2.5h-2.5zM365.7 88.8h9.1v2.5h-9.1zM656.1 88.8h20.1v2.5h-20.1zM42.3 91.0h9.1v2.5h-9.1zM84.1 91.0h4.7v2.5h-4.7zM150.1 91.0h15.7v2.5h-15.7zM279.9 91.0h2.5v2.5h-2.5zM343.7 91.0h26.7v2.5h-26.7zM581.3 91.0h22.3v2.5h-22.3zM658.3 91.0h17.9v2.5h-17.9zM42.3 93.2h11.3v2.5h-11.3zM81.9 93.2h6.9v2.5h-6.9zM282.1 93.2h2.5v2.5h-2.5zM341.5 93.2h26.7v2.5h-26.7zM581.3 93.2h24.5v2.5h-24.5zM658.3 93.2h17.9v2.5h-17.9zM42.3 95.4h17.9v2.5h-17.9zM73.1 95.4h11.3v2.5h-11.3zM286.5 95.4h4.7v2.5h-4.7zM339.3 95.4h26.7v2.5h-26.7zM581.3 95.4h22.3v2.5h-22.3zM660.5 95.4h15.7v2.5h-15.7zM48.9 97.6h24.5v2.5h-24.5zM288.7 97.6h4.7v2.5h-4.7zM326.1 97.6h17.9v2.5h-17.9zM396.5 97.6h20.1v2.5h-20.1zM581.3 97.6h17.9v2.5h-17.9zM290.9 99.8h50.9v2.5h-50.9zM394.3 99.8h24.5v2.5h-24.5zM583.5 99.8h13.5v2.5h-13.5zM293.1 102.0h46.5v2.5h-46.5zM394.3 102.0h26.7v2.5h-26.7zM583.5 102.0h9.1v2.5h-9.1zM293.1 104.2h37.7v2.5h-37.7zM394.3 104.2h28.9v2.5h-28.9zM394.3 106.4h42.1v2.5h-42.1zM394.3 108.6h44.3v2.5h-44.3zM394.3 110.8h44.3v2.5h-44.3zM396.5 113.0h44.3v2.5h-44.3zM409.7 115.2h35.5v2.5h-35.5zM411.9 117.4h35.5v2.5h-35.5zM411.9 119.6h35.5v2.5h-35.5zM411.9 121.8h33.3v2.5h-33.3zM411.9 124.0h28.9v2.5h-28.9zM411.9 126.2h26.7v2.5h-26.7zM411.9 128.4h26.7v2.5h-26.7zM411.9 130.6h24.5v2.5h-24.5zM411.9 132.8h20.1v2.5h-20.1zM411.9 135.0h17.9v2.5h-17.9zM414.1 137.2h15.7v2.5h-15.7zM416.3 139.4h11.3v2.5h-11.3zM528.5 141.6h13.5v2.5h-13.5zM526.3 143.8h17.9v2.5h-17.9zM528.5 146.0h13.5v2.5h-13.5zM352.5 187.8h4.7v2.5h-4.7zM352.5 190.0h4.7v2.5h-4.7z"/>
<path fill="#FFAC75" d="M165.5 36.0h493.1v2.5h-493.1zM165.5 38.2h493.1v2.5h-493.1zM165.5 40.4h493.1v2.5h-493.1zM165.5 42.6h376.5v2.5h-376.5zM572.5 42.6h83.9v2.5h-83.9zM165.5 44.8h275.3v2.5h-275.3zM620.9 44.8h22.3v2.5h-22.3zM165.5 47.0h273.1v2.5h-273.1zM623.1 47.0h17.9v2.5h-17.9zM165.5 49.2h273.1v2.5h-273.1zM623.1 49.2h17.9v2.5h-17.9zM165.5 51.4h270.9v2.5h-270.9zM625.3 51.4h15.7v2.5h-15.7zM42.3 53.6h15.7v2.5h-15.7zM165.5 53.6h37.7v2.5h-37.7zM242.5 53.6h92.7v2.5h-92.7zM383.3 53.6h31.1v2.5h-31.1zM629.7 53.6h11.3v2.5h-11.3zM42.3 55.8h17.9v2.5h-17.9zM165.5 55.8h35.5v2.5h-35.5zM244.7 55.8h88.3v2.5h-88.3zM385.5 55.8h26.7v2.5h-26.7zM631.9 55.8h9.1v2.5h-9.1zM669.3 55.8h6.9v2.5h-6.9zM42.3 58.0h20.1v2.5h-20.1zM165.5 58.0h35.5v2.5h-35.5zM246.9 58.0h86.1v2.5h-86.1zM385.5 58.0h26.7v2.5h-26.7zM631.9 58.0h9.1v2.5h-9.1zM664.9 58.0h11.3v2.5h-11.3zM42.3 60.2h22.3v2.5h-22.3zM165.5 60.2h33.3v2.5h-33.3zM255.7 60.2h75.1v2.5h-75.1zM385.5 60.2h24.5v2.5h-24.5zM631.9 60.2h11.3v2.5h-11.3zM662.7 60.2h13.5v2.5h-13.5zM55.5 62.4h11.3v2.5h-11.3zM165.5 62.4h20.1v2.5h-20.1zM268.9 62.4h39.9v2.5h-39.9zM385.5 62.4h11.3v2.5h-11.3zM631.9 62.4h39.9v2.5h-39.9zM57.7 64.6h11.3v2.5h-11.3zM165.5 64.6h17.9v2.5h-17.9zM271.1 64.6h35.5v2.5h-35.5zM385.5 64.6h9.1v2.5h-9.1zM631.9 64.6h37.7v2.5h-37.7zM59.9 66.8h9.1v2.5h-9.1zM165.5 66.8h17.9v2.5h-17.9zM271.1 66.8h35.5v2.5h-35.5zM383.3 66.8h9.1v2.5h-9.1zM631.9 66.8h35.5v2.5h-35.5zM62.1 69.0h9.1v2.5h-9.1zM163.3 69.0h17.9v2.5h-17.9zM273.3 69.0h35.5v2.5h-35.5zM378.9 69.0h9.1v2.5h-9.1zM634.1 69.0h33.3v2.5h-33.3zM64.3 71.2h6.9v2.5h-6.9zM158.9 71.2h17.9v2.5h-17.9zM277.7 71.2h35.5v2.5h-35.5zM343.7 71.2h4.7v2.5h-4.7zM376.7 71.2h6.9v2.5h-6.9zM647.3 71.2h20.1v2.5h-20.1zM66.5 73.4h4.7v2.5h-4.7zM123.7 73.4h22.3v2.5h-22.3zM156.7 73.4h17.9v2.5h-17.9zM279.9 73.4h35.5v2.5h-35.5zM341.5 73.4h9.1v2.5h-9.1zM374.5 73.4h4.7v2.5h-4.7zM649.5 73.4h17.9v2.5h-17.9zM66.5 75.6h4.7v2.5h-4.7zM121.5 75.6h28.9v2.5h-28.9zM156.7 75.6h17.9v2.5h-17.9zM279.9 75.6h35.5v2.5h-35.5zM341.5 75.6h9.1v2.5h-9.1zM374.5 75.6h4.7v2.5h-4.7zM649.5 75.6h17.9v2.5h-17.9zM64.3 77.8h6.9v2.5h-6.9zM119.3 77.8h33.3v2.5h-33.3zM154.5 77.8h17.9v2.5h-17.9zM279.9 77.8h37.7v2.5h-37.7zM343.7 77.8h4.7v2.5h-4.7zM372.3 77.8h4.7v2.5h-4.7zM651.7 77.8h13.5v2.5h-13.5zM62.1 80.0h9.1v2.5h-9.1zM88.5 80.0h44.3v2.5h-44.3zM143.5 80.0h24.5v2.5h-24.5zM279.9 80.0h50.9v2.5h-50.9zM370.1 80.0h6.9v2.5h-6.9zM59.9 82.2h9.1v2.5h-9.1zM86.3 82.2h44.3v2.5h-44.3zM145.7 82.2h20.1v2.5h-20.1zM279.9 82.2h53.1v2.5h-53.1zM367.9 82.2h6.9v2.5h-6.9zM57.7 84.4h11.3v2.5h-11.3zM84.1 84.4h44.3v2.5h-44.3zM150.1 84.4h15.7v2.5h-15.7zM282.1 84.4h50.9v2.5h-50.9zM365.7 84.4h9.1v2.5h-9.1zM55.5 86.6h11.3v2.5h-11.3zM81.9 86.6h6.9v2.5h-6.9zM152.3 86.6h11.3v2.5h-11.3zM282.1 86.6h13.5v2.5h-13.5zM317.3 86.6h17.9v2.5h-17.9zM339.3 86.6h11.3v2.5h-11.3zM359.1 86.6h11.3v2.5h-11.3zM53.3 88.8h11.3v2.5h-11.3zM79.7 88.8h6.9v2.5h-6.9zM282.1 88.8h9.1v2.5h-9.1zM321.7 88.8h44.3v2.5h-44.3zM51.1 91.0h11.3v2.5h-11.3zM77.5 91.0h6.9v2.5h-6.9zM282.1 91.0h6.9v2.5h-6.9zM323.9 91.0h20.1v2.5h-20.1zM53.3 93.2h9.1v2.5h-9.1zM73.1 93.2h9.1v2.5h-9.1zM284.3 93.2h6.9v2.5h-6.9zM321.7 93.2h20.1v2.5h-20.1zM59.9 95.4h13.5v2.5h-13.5zM290.9 95.4h6.9v2.5h-6.9zM315.1 95.4h24.5v2.5h-24.5zM293.1 97.6h33.3v2.5h-33.3z"/>
<path fill="#FF7856" d="M42.3 36.0h123.5v2.5h-123.5zM658.3 36.0h17.9v2.5h-17.9zM42.3 38.2h123.5v2.5h-123.5zM658.3 38.2h17.9v2.5h-17.9zM42.3 40.4h123.5v2.5h-123.5zM658.3 40.4h17.9v2.5h-17.9zM42.3 42.6h123.5v2.5h-123.5zM656.1 42.6h20.1v2.5h-20.1zM42.3 44.8h20.1v2.5h-20.1zM154.5 44.8h11.3v2.5h-11.3zM642.9 44.8h26.7v2.5h-26.7zM42.3 47.0h17.9v2.5h-17.9zM156.7 47.0h9.1v2.5h-9.1zM640.7 47.0h26.7v2.5h-26.7zM42.3 49.2h17.9v2.5h-17.9zM156.7 49.2h9.1v2.5h-9.1zM640.7 49.2h28.9v2.5h-28.9zM42.3 51.4h20.1v2.5h-20.1zM156.7 51.4h9.1v2.5h-9.1zM640.7 51.4h35.5v2.5h-35.5zM57.7 53.6h9.1v2.5h-9.1zM156.7 53.6h9.1v2.5h-9.1zM334.9 53.6h48.7v2.5h-48.7zM640.7 53.6h35.5v2.5h-35.5zM59.9 55.8h9.1v2.5h-9.1zM156.7 55.8h9.1v2.5h-9.1zM332.7 55.8h53.1v2.5h-53.1zM640.7 55.8h28.9v2.5h-28.9zM62.1 58.0h6.9v2.5h-6.9zM156.7 58.0h9.1v2.5h-9.1zM332.7 58.0h53.1v2.5h-53.1zM640.7 58.0h24.5v2.5h-24.5zM64.3 60.2h6.9v2.5h-6.9zM156.7 60.2h9.1v2.5h-9.1zM330.5 60.2h55.3v2.5h-55.3zM642.9 60.2h20.1v2.5h-20.1zM66.5 62.4h9.1v2.5h-9.1zM156.7 62.4h9.1v2.5h-9.1zM308.5 62.4h53.1v2.5h-53.1zM365.7 62.4h20.1v2.5h-20.1zM68.7 64.6h9.1v2.5h-9.1zM156.7 64.6h9.1v2.5h-9.1zM306.3 64.6h53.1v2.5h-53.1zM367.9 64.6h17.9v2.5h-17.9zM68.7 66.8h9.1v2.5h-9.1zM156.7 66.8h9.1v2.5h-9.1zM306.3 66.8h53.1v2.5h-53.1zM367.9 66.8h15.7v2.5h-15.7zM70.9 69.0h6.9v2.5h-6.9zM119.3 69.0h31.1v2.5h-31.1zM154.5 69.0h9.1v2.5h-9.1zM308.5 69.0h50.9v2.5h-50.9zM367.9 69.0h11.3v2.5h-11.3zM70.9 71.2h6.9v2.5h-6.9zM88.5 71.2h70.7v2.5h-70.7zM312.9 71.2h31.1v2.5h-31.1zM348.1 71.2h11.3v2.5h-11.3zM367.9 71.2h9.1v2.5h-9.1zM70.9 73.4h6.9v2.5h-6.9zM86.3 73.4h37.7v2.5h-37.7zM145.7 73.4h11.3v2.5h-11.3zM315.1 73.4h26.7v2.5h-26.7zM350.3 73.4h9.1v2.5h-9.1zM367.9 73.4h6.9v2.5h-6.9zM70.9 75.6h6.9v2.5h-6.9zM86.3 75.6h35.5v2.5h-35.5zM150.1 75.6h6.9v2.5h-6.9zM315.1 75.6h26.7v2.5h-26.7zM350.3 75.6h9.1v2.5h-9.1zM367.9 75.6h6.9v2.5h-6.9zM70.9 77.8h9.1v2.5h-9.1zM84.1 77.8h35.5v2.5h-35.5zM152.3 77.8h2.5v2.5h-2.5zM317.3 77.8h26.7v2.5h-26.7zM348.1 77.8h11.3v2.5h-11.3zM365.7 77.8h6.9v2.5h-6.9zM70.9 80.0h17.9v2.5h-17.9zM330.5 80.0h22.3v2.5h-22.3zM359.1 80.0h11.3v2.5h-11.3zM68.7 82.2h17.9v2.5h-17.9zM332.7 82.2h17.9v2.5h-17.9zM359.1 82.2h9.1v2.5h-9.1zM68.7 84.4h15.7v2.5h-15.7zM332.7 84.4h20.1v2.5h-20.1zM356.9 84.4h9.1v2.5h-9.1zM66.5 86.6h15.7v2.5h-15.7zM295.3 86.6h22.3v2.5h-22.3zM334.9 86.6h4.7v2.5h-4.7zM350.3 86.6h9.1v2.5h-9.1zM64.3 88.8h15.7v2.5h-15.7zM290.9 88.8h31.1v2.5h-31.1zM62.1 91.0h15.7v2.5h-15.7zM288.7 91.0h11.3v2.5h-11.3zM312.9 91.0h11.3v2.5h-11.3zM62.1 93.2h11.3v2.5h-11.3zM290.9 93.2h9.1v2.5h-9.1zM312.9 93.2h9.1v2.5h-9.1zM297.5 95.4h17.9v2.5h-17.9z"/>
<path fill="#FF3D3D" d="M62.1 44.8h92.7v2.5h-92.7zM669.3 44.8h6.9v2.5h-6.9zM59.9 47.0h97.1v2.5h-97.1zM667.1 47.0h9.1v2.5h-9.1zM59.9 49.2h97.1v2.5h-97.1zM669.3 49.2h6.9v2.5h-6.9zM62.1 51.4h94.9v2.5h-94.9zM66.5 53.6h90.5v2.5h-90.5zM68.7 55.8h88.3v2.5h-88.3zM68.7 58.0h88.3v2.5h-88.3zM70.9 60.2h86.1v2.5h-86.1zM75.3 62.4h81.7v2.5h-81.7zM361.3 62.4h4.7v2.5h-4.7zM77.5 64.6h79.5v2.5h-79.5zM359.1 64.6h9.1v2.5h-9.1zM77.5 66.8h79.5v2.5h-79.5zM359.1 66.8h9.1v2.5h-9.1zM77.5 69.0h42.1v2.5h-42.1zM150.1 69.0h4.7v2.5h-4.7zM359.1 69.0h9.1v2.5h-9.1zM77.5 71.2h11.3v2.5h-11.3zM359.1 71.2h9.1v2.5h-9.1zM77.5 73.4h9.1v2.5h-9.1zM359.1 73.4h9.1v2.5h-9.1zM77.5 75.6h9.1v2.5h-9.1zM359.1 75.6h9.1v2.5h-9.1zM79.7 77.8h4.7v2.5h-4.7zM359.1 77.8h6.9v2.5h-6.9zM352.5 80.0h6.9v2.5h-6.9zM350.3 82.2h9.1v2.5h-9.1zM352.5 84.4h4.7v2.5h-4.7zM299.7 91.0h13.5v2.5h-13.5zM299.7 93.2h13.5v2.5h-13.5z"/>
</g>
<g clip-path="url(#clip0)" fill="url(#dots)">
<path d="M42.3 44.8h41.8v2.2h-41.8zM651.7 44.8h24.2v2.2h-24.2zM42.3 47.0h44.0v2.2h-44.0zM649.5 47.0h26.4v2.2h-26.4zM42.3 49.2h44.0v2.2h-44.0zM649.5 49.2h26.4v2.2h-26.4zM42.3 51.4h46.2v2.2h-46.2zM647.3 51.4h28.6v2.2h-28.6zM42.3 53.6h59.4v2.2h-59.4zM634.1 53.6h41.8v2.2h-41.8zM42.3 55.8h61.6v2.2h-61.6zM631.9 55.8h44.0v2.2h-44.0zM42.3 58.0h61.6v2.2h-61.6zM631.9 58.0h44.0v2.2h-44.0zM42.3 60.2h63.8v2.2h-63.8zM629.7 60.2h46.2v2.2h-46.2zM42.3 62.4h68.2v2.2h-68.2zM625.3 62.4h50.6v2.2h-50.6zM42.3 64.6h70.4v2.2h-70.4zM623.1 64.6h52.8v2.2h-52.8zM42.3 66.8h70.4v2.2h-70.4zM623.1 66.8h52.8v2.2h-52.8zM42.3 69.0h72.6v2.2h-72.6zM623.1 69.0h52.8v2.2h-52.8zM42.3 71.2h94.6v2.2h-94.6zM623.1 71.2h52.8v2.2h-52.8zM42.3 73.4h96.8v2.2h-96.8zM623.1 73.4h52.8v2.2h-52.8zM42.3 75.6h96.8v2.2h-96.8zM623.1 75.6h52.8v2.2h-52.8zM42.3 77.8h94.6v2.2h-94.6zM620.9 77.8h55.0v2.2h-55.0zM42.3 80.0h55.0v2.2h-55.0zM616.5 80.0h59.4v2.2h-59.4zM42.3 82.2h52.8v2.2h-52.8zM614.3 82.2h61.6v2.2h-61.6zM42.3 84.4h52.8v2.2h-52.8zM614.3 84.4h61.6v2.2h-61.6zM42.3 86.6h50.6v2.2h-50.6zM612.1 86.6h63.8v2.2h-63.8zM42.3 88.8h37.4v2.2h-37.4zM308.5 88.8h4.4v2.2h-4.4zM334.9 88.8h22.0v2.2h-22.0zM607.7 88.8h44.0v2.2h-44.0zM656.1 88.8h19.8v2.2h-19.8zM42.3 91.0h35.2v2.2h-35.2zM306.3 91.0h8.8v2.2h-8.8zM332.7 91.0h26.4v2.2h-26.4zM605.5 91.0h44.0v2.2h-44.0zM658.3 91.0h17.6v2.2h-17.6zM42.3 93.2h35.2v2.2h-35.2zM306.3 93.2h8.8v2.2h-8.8zM332.7 93.2h26.4v2.2h-26.4zM605.5 93.2h44.0v2.2h-44.0zM658.3 93.2h17.6v2.2h-17.6zM42.3 95.4h33.0v2.2h-33.0zM308.5 95.4h4.4v2.2h-4.4zM334.9 95.4h22.0v2.2h-22.0zM607.7 95.4h39.6v2.2h-39.6zM658.3 95.4h17.6v2.2h-17.6zM658.3 97.6h17.6v2.2h-17.6zM658.3 99.8h17.6v2.2h-17.6zM658.3 102.0h17.6v2.2h-17.6zM658.3 104.2h17.6v2.2h-17.6zM414.1 106.4h22.0v2.2h-22.0zM493.3 106.4h4.4v2.2h-4.4zM658.3 106.4h11.0v2.2h-11.0zM411.9 108.6h26.4v2.2h-26.4zM491.1 108.6h8.8v2.2h-8.8zM658.3 108.6h8.8v2.2h-8.8zM411.9 110.8h26.4v2.2h-26.4zM491.1 110.8h8.8v2.2h-8.8zM658.3 110.8h8.8v2.2h-8.8zM411.9 113.0h26.4v2.2h-26.4zM493.3 113.0h4.4v2.2h-4.4zM660.5 113.0h4.4v2.2h-4.4zM70.9 115.2h22.0v2.2h-22.0zM185.3 115.2h48.4v2.2h-48.4zM411.9 115.2h26.4v2.2h-26.4zM68.7 117.4h26.4v2.2h-26.4zM183.1 117.4h52.8v2.2h-52.8zM411.9 117.4h26.4v2.2h-26.4zM68.7 119.6h26.4v2.2h-26.4zM183.1 119.6h52.8v2.2h-52.8zM411.9 119.6h26.4v2.2h-26.4zM70.9 121.8h22.0v2.2h-22.0zM183.1 121.8h52.8v2.2h-52.8zM411.9 121.8h26.4v2.2h-26.4zM42.3 124.0h15.4v2.2h-15.4zM114.9 124.0h48.4v2.2h-48.4zM183.1 124.0h52.8v2.2h-52.8zM411.9 124.0h26.4v2.2h-26.4zM42.3 126.2h17.6v2.2h-17.6zM112.7 126.2h52.8v2.2h-52.8zM183.1 126.2h52.8v2.2h-52.8zM411.9 126.2h26.4v2.2h-26.4zM42.3 128.4h17.6v2.2h-17.6zM112.7 128.4h52.8v2.2h-52.8zM183.1 128.4h52.8v2.2h-52.8zM411.9 128.4h26.4v2.2h-26.4zM42.3 130.6h17.6v2.2h-17.6zM110.5 130.6h57.2v2.2h-57.2zM183.1 130.6h55.0v2.2h-55.0zM411.9 130.6h24.2v2.2h-24.2zM42.3 132.8h17.6v2.2h-17.6zM106.1 132.8h77.0v2.2h-77.0zM189.7 132.8h61.6v2.2h-61.6zM411.9 132.8h19.8v2.2h-19.8zM42.3 135.0h17.6v2.2h-17.6zM103.9 135.0h79.2v2.2h-79.2zM191.9 135.0h61.6v2.2h-61.6zM411.9 135.0h17.6v2.2h-17.6zM42.3 137.2h17.6v2.2h-17.6zM103.9 137.2h79.2v2.2h-79.2zM191.9 137.2h61.6v2.2h-61.6zM411.9 137.2h17.6v2.2h-17.6zM42.3 139.4h19.8v2.2h-19.8zM101.7 139.4h83.6v2.2h-83.6zM189.7 139.4h63.8v2.2h-63.8zM414.1 139.4h13.2v2.2h-13.2zM42.3 141.6h24.2v2.2h-24.2zM97.3 141.6h26.4v2.2h-26.4zM136.9 141.6h116.6v2.2h-116.6zM317.3 141.6h57.2v2.2h-57.2zM651.7 141.6h24.2v2.2h-24.2zM42.3 143.8h26.4v2.2h-26.4zM95.1 143.8h26.4v2.2h-26.4zM139.1 143.8h114.4v2.2h-114.4zM315.1 143.8h61.6v2.2h-61.6zM649.5 143.8h26.4v2.2h-26.4zM42.3 146.0h26.4v2.2h-26.4zM95.1 146.0h26.4v2.2h-26.4zM139.1 146.0h114.4v2.2h-114.4zM315.1 146.0h61.6v2.2h-61.6zM649.5 146.0h26.4v2.2h-26.4zM42.3 148.2h24.2v2.2h-24.2zM95.1 148.2h26.4v2.2h-26.4zM139.1 148.2h112.2v2.2h-112.2zM312.9 148.2h61.6v2.2h-61.6zM647.3 148.2h28.6v2.2h-28.6zM42.3 150.4h19.8v2.2h-19.8zM95.1 150.4h26.4v2.2h-26.4zM139.1 150.4h81.4v2.2h-81.4zM290.9 150.4h61.6v2.2h-61.6zM642.9 150.4h33.0v2.2h-33.0zM42.3 152.6h17.6v2.2h-17.6zM95.1 152.6h26.4v2.2h-26.4zM139.1 152.6h79.2v2.2h-79.2zM288.7 152.6h61.6v2.2h-61.6zM640.7 152.6h35.2v2.2h-35.2zM42.3 154.8h17.6v2.2h-17.6zM95.1 154.8h26.4v2.2h-26.4zM139.1 154.8h79.2v2.2h-79.2zM288.7 154.8h61.6v2.2h-61.6zM640.7 154.8h35.2v2.2h-35.2zM42.3 157.0h17.6v2.2h-17.6zM95.1 157.0h26.4v2.2h-26.4zM141.3 157.0h74.8v2.2h-74.8zM290.9 157.0h57.2v2.2h-57.2zM640.7 157.0h35.2v2.2h-35.2zM42.3 159.2h17.6v2.2h-17.6zM95.1 159.2h26.4v2.2h-26.4zM145.7 159.2h66.0v2.2h-66.0zM640.7 159.2h35.2v2.2h-35.2zM42.3 161.4h17.6v2.2h-17.6zM95.1 161.4h26.4v2.2h-26.4zM147.9 161.4h61.6v2.2h-61.6zM640.7 161.4h35.2v2.2h-35.2zM42.3 163.6h17.6v2.2h-17.6zM95.1 163.6h26.4v2.2h-26.4zM147.9 163.6h61.6v2.2h-61.6zM640.7 163.6h35.2v2.2h-35.2zM42.3 165.8h19.8v2.2h-19.8zM92.9 165.8h28.6v2.2h-28.6zM150.1 165.8h61.6v2.2h-61.6zM638.5 165.8h37.4v2.2h-37.4zM42.3 168.0h79.2v2.2h-79.2zM154.5 168.0h61.6v2.2h-61.6zM273.3 168.0h22.0v2.2h-22.0zM634.1 168.0h41.8v2.2h-41.8zM42.3 170.2h79.2v2.2h-79.2zM156.7 170.2h61.6v2.2h-61.6zM271.1 170.2h26.4v2.2h-26.4zM631.9 170.2h44.0v2.2h-44.0zM42.3 172.4h79.2v2.2h-79.2zM156.7 172.4h61.6v2.2h-61.6zM271.1 172.4h26.4v2.2h-26.4zM631.9 172.4h44.0v2.2h-44.0zM42.3 174.6h79.2v2.2h-79.2zM154.5 174.6h63.8v2.2h-63.8zM268.9 174.6h28.6v2.2h-28.6zM629.7 174.6h46.2v2.2h-46.2zM42.3 176.8h63.8v2.2h-63.8zM110.5 176.8h11.0v2.2h-11.0zM150.1 176.8h61.6v2.2h-61.6zM218.3 176.8h24.2v2.2h-24.2zM264.5 176.8h33.0v2.2h-33.0zM616.5 176.8h59.4v2.2h-59.4zM42.3 179.0h61.6v2.2h-61.6zM112.7 179.0h8.8v2.2h-8.8zM147.9 179.0h61.6v2.2h-61.6zM218.3 179.0h26.4v2.2h-26.4zM262.3 179.0h35.2v2.2h-35.2zM614.3 179.0h61.6v2.2h-61.6zM42.3 181.2h61.6v2.2h-61.6zM112.7 181.2h8.8v2.2h-8.8zM147.9 181.2h61.6v2.2h-61.6zM218.3 181.2h26.4v2.2h-26.4zM262.3 181.2h35.2v2.2h-35.2zM614.3 181.2h61.6v2.2h-61.6zM42.3 183.4h59.4v2.2h-59.4zM114.9 183.4h4.4v2.2h-4.4zM147.9 183.4h59.4v2.2h-59.4zM218.3 183.4h24.2v2.2h-24.2zM264.5 183.4h30.8v2.2h-30.8zM616.5 183.4h59.4v2.2h-59.4zM42.3 185.6h37.4v2.2h-37.4zM147.9 185.6h55.0v2.2h-55.0zM218.3 185.6h19.8v2.2h-19.8zM629.7 185.6h46.2v2.2h-46.2zM42.3 187.8h35.2v2.2h-35.2zM147.9 187.8h52.8v2.2h-52.8zM218.3 187.8h17.6v2.2h-17.6zM631.9 187.8h44.0v2.2h-44.0zM42.3 190.0h35.2v2.2h-35.2zM147.9 190.0h52.8v2.2h-52.8zM218.3 190.0h17.6v2.2h-17.6zM631.9 190.0h44.0v2.2h-44.0zM42.3 192.2h33.0v2.2h-33.0zM150.1 192.2h50.6v2.2h-50.6zM216.1 192.2h19.8v2.2h-19.8zM631.9 192.2h44.0v2.2h-44.0zM42.3 194.4h19.8v2.2h-19.8zM200.7 194.4h35.2v2.2h-35.2zM264.5 194.4h30.8v2.2h-30.8zM631.9 194.4h44.0v2.2h-44.0zM42.3 196.6h17.6v2.2h-17.6zM200.7 196.6h35.2v2.2h-35.2zM262.3 196.6h35.2v2.2h-35.2zM631.9 196.6h44.0v2.2h-44.0zM42.3 198.8h17.6v2.2h-17.6zM200.7 198.8h35.2v2.2h-35.2zM262.3 198.8h35.2v2.2h-35.2zM631.9 198.8h44.0v2.2h-44.0zM42.3 201.0h17.6v2.2h-17.6zM198.5 201.0h39.6v2.2h-39.6zM260.1 201.0h35.2v2.2h-35.2zM634.1 201.0h41.8v2.2h-41.8zM59.9 203.2h15.4v2.2h-15.4zM185.3 203.2h105.6v2.2h-105.6zM59.9 205.4h17.6v2.2h-17.6zM183.1 205.4h105.6v2.2h-105.6zM59.9 207.6h17.6v2.2h-17.6zM183.1 207.6h105.6v2.2h-105.6zM62.1 209.8h13.2v2.2h-13.2zM180.9 209.8h105.6v2.2h-105.6zM167.7 212.0h88.0v2.2h-88.0zM590.1 212.0h13.2v2.2h-13.2zM165.5 214.2h88.0v2.2h-88.0zM587.9 214.2h17.6v2.2h-17.6zM165.5 216.4h88.0v2.2h-88.0zM587.9 216.4h17.6v2.2h-17.6zM167.7 218.6h83.6v2.2h-83.6zM590.1 218.6h13.2v2.2h-13.2zM53.3 220.8h13.2v2.2h-13.2zM180.9 220.8h66.0v2.2h-66.0zM326.1 220.8h13.2v2.2h-13.2zM51.1 223.0h17.6v2.2h-17.6zM183.1 223.0h61.6v2.2h-61.6zM323.9 223.0h17.6v2.2h-17.6zM51.1 225.2h17.6v2.2h-17.6zM183.1 225.2h61.6v2.2h-61.6zM323.9 225.2h17.6v2.2h-17.6zM53.3 227.4h13.2v2.2h-13.2zM185.3 227.4h57.2v2.2h-57.2zM326.1 227.4h17.6v2.2h-17.6zM216.1 229.6h22.0v2.2h-22.0zM330.5 229.6h17.6v2.2h-17.6zM218.3 231.8h17.6v2.2h-17.6zM332.7 231.8h17.6v2.2h-17.6zM218.3 234.0h17.6v2.2h-17.6zM332.7 234.0h17.6v2.2h-17.6zM220.5 236.2h13.2v2.2h-13.2zM334.9 236.2h13.2v2.2h-13.2z"/>
</g>
<g clip-path="url(#clip0)">
<path d="M32.1 131.4L40.5 132.4L47.6 129.6L56.4 129.5L60.3 128.9L61.7 129.6L60.4 134.2L62.0 136.0L68.7 137.6L75.7 141.1L77.7 139.3L77.5 137.2L82.8 137.0L86.3 138.6L93.3 140.0L99.1 139.3L99.5 141.8L101.4 146.0L103.4 149.5L105.0 153.0L107.2 156.0L107.9 161.0L110.1 163.6L111.8 167.1L115.3 170.1L118.5 172.4L118.9 174.0L120.6 176.1L125.0 174.9L132.4 173.6L132.1 176.1L130.3 180.3L127.7 184.7L124.1 189.1L119.7 193.0L116.2 196.2L113.1 199.3L111.3 202.7L110.6 205.8L111.8 209.4L113.4 212.9L113.8 219.9L113.1 223.4L107.1 226.6L103.9 229.6L104.6 234.0L104.8 236.6L100.4 239.5L100.2 242.8L99.1 245.4L96.0 249.5L91.6 252.5L87.5 254.2L81.0 254.6L77.5 255.6L74.7 254.2L74.5 251.6L72.7 247.2L71.3 244.7L69.1 241.4L67.8 234.9L67.6 233.6L65.2 230.0L63.1 224.8L63.1 222.6L64.3 218.2L66.4 213.8L65.5 210.2L63.9 205.3L63.8 203.2L62.2 201.3L59.4 198.4L58.7 195.5L59.2 192.6L59.5 188.9L58.5 187.5L57.3 186.3L54.3 186.8L52.5 186.8L50.2 183.3L46.9 183.3L44.1 184.0L40.5 185.6L37.9 186.0L34.4 185.2L29.1 186.7L26.5 185.8L22.4 182.6L19.4 180.3L18.7 178.0L15.9 175.4L12.9 172.6L12.7 170.6L11.5 168.5L13.1 167.1L13.8 162.7L13.3 159.9L12.4 157.4L13.8 154.8L15.9 151.6L17.7 148.3L19.8 145.5L23.8 143.0L25.1 140.9L25.4 138.1L27.3 135.8L30.3 134.4L31.4 131.9L32.1 131.4M665.7 131.4L674.1 132.4L681.2 129.6L690.0 129.5L693.9 128.9L695.3 129.6L694.0 134.2L695.6 136.0L702.3 137.6L709.3 141.1L711.3 139.3L711.1 137.2L716.4 137.0L719.9 138.6L726.9 140.0L732.7 139.3L733.1 141.8L735.0 146.0L737.0 149.5L738.6 153.0L740.8 156.0L741.5 161.0L743.7 163.6L745.4 167.1L748.9 170.1L752.1 172.4L752.5 174.0L754.2 176.1L758.6 174.9L766.0 173.6L765.7 176.1L763.9 180.3L761.3 184.7L757.7 189.1L753.3 193.0L749.8 196.2L746.7 199.3L744.9 202.7L744.2 205.8L745.4 209.4L747.0 212.9L747.4 219.9L746.7 223.4L740.7 226.6L737.5 229.6L738.2 234.0L738.4 236.6L734.0 239.5L733.8 242.8L732.7 245.4L729.6 249.5L725.2 252.5L721.1 254.2L714.6 254.6L711.1 255.6L708.3 254.2L708.1 251.6L706.3 247.2L704.9 244.7L702.7 241.4L701.4 234.9L701.2 233.6L698.8 230.0L696.7 224.8L696.7 222.6L697.9 218.2L700.0 213.8L699.1 210.2L697.5 205.3L697.4 203.2L695.8 201.3L693.0 198.4L692.3 195.5L692.8 192.6L693.1 188.9L692.1 187.5L690.9 186.3L687.9 186.8L686.1 186.8L683.8 183.3L680.5 183.3L677.7 184.0L674.1 185.6L671.5 186.0L668.0 185.2L662.7 186.7L660.1 185.8L656.0 182.6L653.0 180.3L652.3 178.0L649.5 175.4L646.5 172.6L646.3 170.6L645.1 168.5L646.7 167.1L647.4 162.7L646.9 159.9L646.0 157.4L647.4 154.8L649.5 151.6L651.3 148.3L653.4 145.5L657.4 143.0L658.7 140.9L659.0 138.1L660.9 135.8L663.9 134.4L665.0 131.9L665.7 131.4M129.1 215.5L131.2 221.7L129.4 225.2L127.7 230.5L125.9 235.8L125.0 238.4L121.9 239.3L119.7 237.5L118.5 233.1L119.4 230.5L120.4 225.2L119.7 222.9L124.1 222.0L126.4 219.9L127.7 217.8L129.1 215.5M99.1 139.3L102.7 139.3L103.7 136.7L105.3 133.5L105.5 130.2L106.0 129.6L103.4 129.6L99.5 130.9L96.0 130.5L93.7 130.2L90.5 128.8L89.6 126.6L88.6 124.9L88.8 123.6L85.4 122.4L82.6 122.9L84.4 125.9L83.0 127.7L82.3 130.2L80.5 129.6L79.4 127.2L78.0 124.7L76.4 123.3L76.6 120.7L74.9 119.8L70.5 117.8L67.5 115.2L65.9 114.0L63.9 114.7L64.1 116.6L66.6 118.7L69.1 120.7L70.6 121.5L73.1 122.8L74.9 123.8L72.4 125.6L71.5 126.8L69.9 127.7L70.8 125.9L69.9 124.0L67.8 122.9L65.2 121.7L62.0 119.8L60.6 117.8L57.8 116.3L55.5 117.3L52.9 118.5L50.7 118.0L47.9 118.5L47.8 120.7L43.9 122.8L41.8 125.1L42.7 126.3L41.1 128.2L38.6 129.8L34.6 129.8L32.4 131.0L31.0 129.6L29.3 128.9L26.6 129.3L26.8 126.3L25.6 126.1L26.8 122.8L26.8 120.5L25.9 118.7L28.2 117.5L32.8 117.8L37.0 118.0L39.7 118.0L40.2 113.4L38.4 111.5L34.4 110.3L34.2 108.9L37.0 108.5L39.8 108.7L39.5 107.1L42.7 107.3L44.9 106.0L45.1 104.8L48.1 104.1L50.2 102.5L50.7 101.1L54.4 100.4L57.3 100.1L57.4 97.6L56.6 94.8L58.8 93.9L61.0 92.8L60.3 95.0L61.5 95.3L61.0 97.6L62.5 98.8L66.1 98.8L67.6 99.5L71.3 98.5L75.0 98.1L77.3 97.8L79.6 97.2L79.3 94.4L80.3 93.4L82.1 92.8L84.4 94.1L85.2 91.6L83.7 90.2L88.1 89.7L92.1 89.3L92.5 87.9L88.9 88.1L82.8 89.2L79.8 87.4L80.1 84.8L81.9 82.8L85.8 80.2L87.0 78.9L81.9 78.6L79.8 80.7L76.1 82.6L73.6 83.9L72.6 86.2L72.6 87.7L75.4 88.8L75.2 90.0L72.2 91.1L71.3 93.7L70.3 95.7L67.6 95.8L65.0 96.9L64.5 95.3L63.2 93.0L62.0 90.9L60.8 89.9L59.0 90.6L56.9 92.0L53.7 92.1L52.2 90.7L51.5 88.1L50.9 86.0L51.8 84.6L54.6 83.7L59.0 82.5L60.8 80.9L63.8 79.1L65.7 77.2L68.2 75.1L69.8 73.1L72.9 71.9L75.7 71.2L79.4 70.8L83.5 69.8L87.5 69.4L91.2 69.3L94.2 70.0L96.9 70.7L97.4 71.6L100.7 72.3L104.8 72.6L110.2 74.0L113.2 75.1L114.6 76.8L111.8 77.9L107.4 77.9L103.5 78.4L103.4 80.9L106.5 81.6L107.8 81.9L109.2 80.9L112.2 80.7L113.6 80.0L114.5 77.7L117.1 77.5L120.1 78.1L119.7 74.7L120.6 73.8L123.8 74.4L124.5 75.2L122.4 75.8L124.1 76.8L127.0 75.4L130.7 74.4L136.8 73.1L139.8 74.0L143.1 73.7L147.7 73.7L149.7 71.6L154.1 72.1L159.3 72.1L160.7 74.0L163.0 74.4L164.3 73.1L162.2 71.9L159.9 70.1L160.6 68.7L163.0 66.4L164.4 65.9L170.1 66.3L170.4 67.7L168.7 68.7L169.9 69.6L170.1 73.0L171.5 73.8L171.8 75.2L170.4 77.2L172.5 76.0L173.6 73.3L172.0 71.0L173.4 70.1L174.1 67.0L175.5 67.2L174.8 69.1L179.9 67.9L178.9 67.2L181.2 67.0L184.0 67.0L184.3 64.9L189.8 65.2L195.1 64.3L195.8 62.2L206.3 61.9L216.4 60.6L220.1 59.1L225.9 57.6L229.0 58.2L231.0 59.8L237.7 59.4L241.7 60.3L242.8 61.9L240.8 62.4L234.8 63.8L237.0 64.2L239.6 64.5L242.1 65.4L246.5 64.9L251.7 65.7L259.1 66.1L259.3 64.7L265.6 64.9L268.6 66.3L270.0 67.7L268.5 69.1L273.4 69.8L275.1 68.0L278.0 68.7L281.0 68.2L284.3 68.9L288.5 68.6L287.1 67.0L291.0 66.4L296.4 67.3L305.4 67.3L307.0 68.4L311.4 69.8L318.6 69.4L322.1 69.6L323.4 71.7L325.5 72.3L327.9 71.9L331.1 71.7L337.6 71.9L340.8 73.5L342.9 73.0L342.4 71.0L351.5 71.4L356.6 72.3L359.1 73.0L362.6 73.8L367.0 76.0L370.4 76.5L373.9 77.2L376.5 78.2L375.1 79.3L371.4 80.0L369.7 81.1L364.9 80.4L360.9 79.5L356.8 80.9L354.5 84.4L349.6 85.6L348.0 85.8L345.2 87.2L342.7 88.3L341.3 87.7L338.5 87.7L335.0 89.2L332.9 88.6L330.8 90.0L327.4 92.0L328.8 94.8L326.9 97.1L324.6 98.8L321.3 101.1L318.3 104.5L317.6 102.0L316.7 94.4L318.3 93.4L321.1 92.1L324.3 90.0L327.2 88.3L330.4 86.9L331.8 84.2L329.7 84.4L327.4 86.0L324.1 87.9L322.7 85.6L318.1 86.3L313.7 89.2L315.1 90.4L308.6 90.9L308.1 89.5L305.9 89.3L303.7 90.2L298.4 90.0L292.6 90.6L286.8 93.9L283.8 95.8L280.1 98.1L283.8 99.4L285.5 99.7L288.5 99.0L291.0 100.9L291.2 102.5L289.8 104.3L289.6 106.4L288.9 109.2L286.2 111.7L285.5 112.9L283.2 115.0L280.8 117.1L278.3 118.0L276.2 119.1L273.0 118.9L272.2 119.8L270.4 121.2L270.6 122.4L266.7 124.4L268.1 126.5L269.7 128.6L270.2 129.6L270.2 131.7L267.9 132.8L264.9 133.9L264.8 129.8L264.4 128.0L262.8 128.0L261.8 127.3L262.7 124.7L261.1 124.2L258.6 124.7L256.0 125.8L256.3 124.7L255.4 124.0L257.4 123.3L256.3 122.4L254.9 122.9L252.8 124.2L251.6 125.6L249.1 126.3L250.2 127.3L251.4 128.6L253.0 128.9L254.9 127.7L257.7 128.4L257.9 129.5L255.4 129.8L254.6 130.9L253.0 131.7L252.1 133.0L253.9 133.9L254.6 135.6L255.6 137.2L256.8 138.6L256.8 140.0L255.8 140.4L257.2 142.0L256.5 144.8L255.4 144.9L252.8 149.2L251.2 151.1L248.7 152.9L246.3 154.3L244.3 154.4L243.3 155.3L242.6 154.8L241.5 155.5L239.1 156.4L237.3 156.7L236.6 158.7L235.7 158.7L235.2 157.4L235.7 156.7L233.3 156.2L230.1 158.0L228.7 159.6L228.3 160.8L229.6 162.7L231.3 165.0L232.9 166.1L234.0 167.5L234.7 170.8L234.5 173.8L233.1 175.0L231.0 176.1L229.6 177.7L227.5 179.3L226.7 178.2L227.3 177.0L225.9 175.9L224.5 175.7L223.8 174.7L222.9 172.9L221.3 172.2L219.7 172.2L219.9 170.8L218.5 170.8L218.3 172.8L216.9 175.0L216.9 178.2L218.1 178.2L218.8 179.8L219.2 181.4L220.1 182.3L221.1 182.6L222.0 183.5L224.3 185.8L224.3 187.0L224.1 187.9L224.5 189.5L225.7 191.6L224.5 192.3L222.5 190.7L220.8 189.5L220.6 188.6L219.5 187.5L219.0 185.1L218.8 183.8L218.5 183.0L217.8 182.4L215.7 179.6L215.3 178.0L215.8 176.8L216.2 174.3L215.5 173.3L215.7 171.3L215.0 170.5L214.4 168.4L214.1 166.1L213.4 164.7L212.1 165.5L210.2 166.8L209.1 166.6L208.1 166.2L208.6 164.0L208.3 162.4L206.9 160.3L207.2 159.7L206.2 159.4L204.9 158.0L204.4 157.1L204.2 156.2L203.2 154.3L201.6 154.3L201.2 156.0L200.2 155.9L199.6 155.9L198.8 156.2L197.5 156.2L195.2 156.6L195.4 158.0L194.5 158.8L192.1 160.1L190.3 162.2L187.0 164.5L187.0 165.2L186.1 165.7L184.5 166.2L183.6 166.4L183.1 167.8L183.5 170.1L183.6 171.5L182.9 173.1L182.9 176.1L181.9 176.3L181.2 177.7L181.7 178.2L180.1 178.7L179.4 179.8L178.7 180.3L177.1 178.7L176.2 176.3L175.5 174.5L175.0 173.6L174.1 172.0L173.6 169.8L173.2 168.7L171.7 166.2L171.0 162.9L170.4 160.6L170.4 158.5L170.1 156.7L167.6 157.8L166.4 157.6L164.1 155.5L164.8 154.8L164.3 154.3L162.3 152.7L160.9 152.3L160.4 150.9L159.2 149.7L155.8 150.0L153.0 150.0L150.5 150.2L147.2 149.7L145.3 149.3L143.3 149.2L142.4 146.7L141.7 146.7L140.3 147.1L138.6 147.8L136.5 147.2L134.7 145.8L132.9 145.3L131.9 143.7L130.5 141.4L129.6 141.6L128.4 141.1L127.8 141.8L126.8 142.5L127.5 144.1L128.2 145.6L129.1 146.0L129.4 146.7L130.7 147.4L130.5 148.8L131.2 149.9L131.5 150.4L131.7 150.8L132.2 148.5L133.1 149.0L133.1 150.0L132.8 151.1L133.5 152.2L134.9 151.8L137.3 152.0L139.8 149.7L141.0 148.3L141.6 147.9L141.7 150.8L143.3 152.3L145.6 152.9L147.0 154.4L147.5 154.8L146.7 156.7L146.0 157.3L145.3 158.5L144.4 158.3L144.0 158.8L143.9 159.7L144.0 160.8L143.9 161.1L141.9 161.7L141.4 162.9L140.3 162.9L139.6 163.4L139.6 164.1L138.7 164.5L137.7 164.5L136.6 165.0L135.8 165.0L134.5 165.5L134.2 166.4L134.2 166.9L132.4 167.6L129.6 168.5L128.0 169.8L127.1 169.9L126.6 169.8L125.7 170.5L124.5 170.8L123.1 171.0L122.6 171.0L122.2 171.5L121.7 171.7L120.6 172.0L119.7 172.2L118.9 172.2L118.3 171.2L118.5 170.1L117.8 168.4L117.3 167.6L117.6 167.5L117.5 166.8L117.6 166.4L117.6 165.7L117.3 164.8L116.7 164.3L116.7 163.6L115.9 163.1L114.8 161.5L114.3 160.1L113.1 158.8L112.3 158.7L111.1 156.9L110.9 154.6L110.1 152.7L109.2 152.0L108.3 151.6L107.8 150.6L107.8 150.2L107.2 149.3L106.7 148.6L106.0 147.6L105.0 146.2L104.1 144.9L103.2 144.9L103.5 144.1L103.5 143.2L102.7 145.1L102.0 145.8L100.6 144.4L99.3 141.8M732.7 139.3L736.3 139.3L737.3 136.7L738.9 133.5L739.1 130.2L739.6 129.6L737.0 129.6L733.1 130.9L729.6 130.5L727.3 130.2L724.1 128.8L723.2 126.6L722.2 124.9L722.4 123.6L719.0 122.4L716.2 122.9L718.0 125.9L716.6 127.7L715.9 130.2L714.1 129.6L713.0 127.2L711.6 124.7L710.0 123.3L710.2 120.7L708.5 119.8L704.1 117.8L701.1 115.2L699.5 114.0L697.5 114.7L697.7 116.6L700.2 118.7L702.7 120.7L704.2 121.5L706.7 122.8L708.5 123.8L706.0 125.6L705.1 126.8L703.5 127.7L704.4 125.9L703.5 124.0L701.4 122.9L698.8 121.7L695.6 119.8L694.2 117.8L691.4 116.3L689.1 117.3L686.5 118.5L684.3 118.0L681.5 118.5L681.4 120.7L677.5 122.8L675.4 125.1L676.3 126.3L674.7 128.2L672.2 129.8L668.2 129.8L666.0 131.0L664.6 129.6L662.9 128.9L660.2 129.3L660.4 126.3L659.2 126.1L660.4 122.8L660.4 120.5L659.5 118.7L661.8 117.5L666.4 117.8L670.6 118.0L673.3 118.0L673.8 113.4L672.0 111.5L668.0 110.3L667.8 108.9L670.6 108.5L673.4 108.7L673.1 107.1L676.3 107.3L678.5 106.0L678.7 104.8L681.7 104.1L683.8 102.5L684.3 101.1L688.0 100.4L690.9 100.1L691.0 97.6L690.2 94.8L692.4 93.9L694.6 92.8L693.9 95.0L695.1 95.3L694.6 97.6L696.1 98.8L699.7 98.8L701.2 99.5L704.9 98.5L708.6 98.1L710.9 97.8L713.2 97.2L712.9 94.4L713.9 93.4L715.7 92.8L718.0 94.1L718.8 91.6L717.3 90.2L721.7 89.7L725.7 89.3L726.1 87.9L722.5 88.1L716.4 89.2L713.4 87.4L713.7 84.8L715.5 82.8L719.4 80.2L720.6 78.9L715.5 78.6L713.4 80.7L709.7 82.6L707.2 83.9L706.2 86.2L706.2 87.7L709.0 88.8L708.8 90.0L705.8 91.1L704.9 93.7L703.9 95.7L701.2 95.8L698.6 96.9L698.1 95.3L696.8 93.0L695.6 90.9L694.4 89.9L692.6 90.6L690.5 92.0L687.3 92.1L685.8 90.7L685.1 88.1L684.5 86.0L685.4 84.6L688.2 83.7L692.6 82.5L694.4 80.9L697.4 79.1L699.3 77.2L701.8 75.1L703.4 73.1L706.5 71.9L709.3 71.2L713.0 70.8L717.1 69.8L721.1 69.4L724.8 69.3L727.8 70.0L730.5 70.7L731.0 71.6L734.3 72.3L738.4 72.6L743.8 74.0L746.8 75.1L748.2 76.8L745.4 77.9L741.0 77.9L737.1 78.4L737.0 80.9L740.1 81.6L741.4 81.9L742.8 80.9L745.8 80.7L747.2 80.0L748.1 77.7L750.7 77.5L753.7 78.1L753.3 74.7L754.2 73.8L757.4 74.4L758.1 75.2L756.0 75.8L757.7 76.8L760.6 75.4L764.3 74.4L770.4 73.1L773.4 74.0L776.7 73.7L781.3 73.7L783.3 71.6L787.7 72.1L792.9 72.1L794.3 74.0L796.6 74.4L797.9 73.1L795.8 71.9L793.5 70.1L794.2 68.7L796.6 66.4L798.0 65.9L803.7 66.3L804.0 67.7L802.3 68.7L803.5 69.6L803.7 73.0L805.1 73.8L805.4 75.2L804.0 77.2L806.1 76.0L807.2 73.3L805.6 71.0L807.0 70.1L807.7 67.0L809.1 67.2L808.4 69.1L813.5 67.9L812.5 67.2L814.8 67.0L817.6 67.0L817.9 64.9L823.4 65.2L828.7 64.3L829.4 62.2L839.9 61.9L850.0 60.6L853.7 59.1L859.5 57.6L862.6 58.2L864.6 59.8L871.3 59.4L875.3 60.3L876.4 61.9L874.4 62.4L868.4 63.8L870.6 64.2L873.2 64.5L875.7 65.4L880.1 64.9L885.3 65.7L892.7 66.1L892.9 64.7L899.2 64.9L902.2 66.3L903.6 67.7L902.1 69.1L907.0 69.8L908.7 68.0L911.6 68.7L914.6 68.2L917.9 68.9L922.1 68.6L920.7 67.0L924.6 66.4L930.0 67.3L939.0 67.3L940.6 68.4L945.0 69.8L952.2 69.4L955.7 69.6L957.0 71.7L959.1 72.3L961.5 71.9L964.7 71.7L971.2 71.9L974.4 73.5L976.5 73.0L976.0 71.0L985.1 71.4L990.2 72.3L992.7 73.0L996.2 73.8L1000.6 76.0L1004.0 76.5L1007.5 77.2L1010.1 78.2L1008.7 79.3L1005.0 80.0L1003.3 81.1L998.5 80.4L994.5 79.5L990.4 80.9L988.1 84.4L983.2 85.6L981.6 85.8L978.8 87.2L976.3 88.3L974.9 87.7L972.1 87.7L968.6 89.2L966.5 88.6L964.4 90.0L961.0 92.0L962.4 94.8L960.5 97.1L958.2 98.8L954.9 101.1L951.9 104.5L951.2 102.0L950.3 94.4L951.9 93.4L954.7 92.1L957.9 90.0L960.8 88.3L964.0 86.9L965.4 84.2L963.3 84.4L961.0 86.0L957.7 87.9L956.3 85.6L951.7 86.3L947.3 89.2L948.7 90.4L942.2 90.9L941.7 89.5L939.5 89.3L937.3 90.2L932.0 90.0L926.2 90.6L920.4 93.9L917.4 95.8L913.7 98.1L917.4 99.4L919.1 99.7L922.1 99.0L924.6 100.9L924.8 102.5L923.4 104.3L923.2 106.4L922.5 109.2L919.8 111.7L919.1 112.9L916.8 115.0L914.4 117.1L911.9 118.0L909.8 119.1L906.6 118.9L905.8 119.8L904.0 121.2L904.2 122.4L900.3 124.4L901.7 126.5L903.3 128.6L903.8 129.6L903.8 131.7L901.5 132.8L898.5 133.9L898.4 129.8L898.0 128.0L896.4 128.0L895.4 127.3L896.3 124.7L894.7 124.2L892.2 124.7L889.6 125.8L889.9 124.7L889.0 124.0L891.0 123.3L889.9 122.4L888.5 122.9L886.4 124.2L885.2 125.6L882.7 126.3L883.8 127.3L885.0 128.6L886.6 128.9L888.5 127.7L891.3 128.4L891.5 129.5L889.0 129.8L888.2 130.9L886.6 131.7L885.7 133.0L887.5 133.9L888.2 135.6L889.2 137.2L890.4 138.6L890.4 140.0L889.4 140.4L890.8 142.0L890.1 144.8L889.0 144.9L886.4 149.2L884.8 151.1L882.3 152.9L879.9 154.3L877.9 154.4L876.9 155.3L876.2 154.8L875.1 155.5L872.7 156.4L870.9 156.7L870.2 158.7L869.3 158.7L868.8 157.4L869.3 156.7L866.9 156.2L863.7 158.0L862.3 159.6L861.9 160.8L863.2 162.7L864.9 165.0L866.5 166.1L867.6 167.5L868.3 170.8L868.1 173.8L866.7 175.0L864.6 176.1L863.2 177.7L861.1 179.3L860.3 178.2L860.9 177.0L859.5 175.9L858.1 175.7L857.4 174.7L856.5 172.9L854.9 172.2L853.3 172.2L853.5 170.8L852.1 170.8L851.9 172.8L850.5 175.0L850.5 178.2L851.7 178.2L852.4 179.8L852.8 181.4L853.7 182.3L854.7 182.6L855.6 183.5L857.9 185.8L857.9 187.0L857.7 187.9L858.1 189.5L859.3 191.6L858.1 192.3L856.1 190.7L854.4 189.5L854.2 188.6L853.1 187.5L852.6 185.1L852.4 183.8L852.1 183.0L851.4 182.4L849.3 179.6L848.9 178.0L849.4 176.8L849.8 174.3L849.1 173.3L849.3 171.3L848.6 170.5L848.0 168.4L847.7 166.1L847.0 164.7L845.7 165.5L843.8 166.8L842.7 166.6L841.7 166.2L842.2 164.0L841.9 162.4L840.5 160.3L840.8 159.7L839.8 159.4L838.5 158.0L838.0 157.1L837.8 156.2L836.8 154.3L835.2 154.3L834.8 156.0L833.8 155.9L833.2 155.9L832.4 156.2L831.1 156.2L828.8 156.6L829.0 158.0L828.1 158.8L825.7 160.1L823.9 162.2L820.6 164.5L820.6 165.2L819.7 165.7L818.1 166.2L817.2 166.4L816.7 167.8L817.1 170.1L817.2 171.5L816.5 173.1L816.5 176.1L815.5 176.3L814.8 177.7L815.3 178.2L813.7 178.7L813.0 179.8L812.3 180.3L810.7 178.7L809.8 176.3L809.1 174.5L808.6 173.6L807.7 172.0L807.2 169.8L806.8 168.7L805.3 166.2L804.6 162.9L804.0 160.6L804.0 158.5L803.7 156.7L801.2 157.8L800.0 157.6L797.7 155.5L798.4 154.8L797.9 154.3L795.9 152.7L794.5 152.3L794.0 150.9L792.8 149.7L789.4 150.0L786.6 150.0L784.1 150.2L780.8 149.7L778.9 149.3L776.9 149.2L776.0 146.7L775.3 146.7L773.9 147.1L772.2 147.8L770.1 147.2L768.3 145.8L766.5 145.3L765.5 143.7L764.1 141.4L763.2 141.6L762.0 141.1L761.4 141.8L760.4 142.5L761.1 144.1L761.8 145.6L762.7 146.0L763.0 146.7L764.3 147.4L764.1 148.8L764.8 149.9L765.1 150.4L765.3 150.8L765.8 148.5L766.7 149.0L766.7 150.0L766.4 151.1L767.1 152.2L768.5 151.8L770.9 152.0L773.4 149.7L774.6 148.3L775.2 147.9L775.3 150.8L776.9 152.3L779.2 152.9L780.6 154.4L781.1 154.8L780.3 156.7L779.6 157.3L778.9 158.5L778.0 158.3L777.6 158.8L777.5 159.7L777.6 160.8L777.5 161.1L775.5 161.7L775.0 162.9L773.9 162.9L773.2 163.4L773.2 164.1L772.3 164.5L771.3 164.5L770.2 165.0L769.4 165.0L768.1 165.5L767.8 166.4L767.8 166.9L766.0 167.6L763.2 168.5L761.6 169.8L760.7 169.9L760.2 169.8L759.3 170.5L758.1 170.8L756.7 171.0L756.2 171.0L755.8 171.5L755.3 171.7L754.2 172.0L753.3 172.2L752.5 172.2L751.9 171.2L752.1 170.1L751.4 168.4L750.9 167.6L751.2 167.5L751.1 166.8L751.2 166.4L751.2 165.7L750.9 164.8L750.3 164.3L750.3 163.6L749.5 163.1L748.4 161.5L747.9 160.1L746.7 158.8L745.9 158.7L744.7 156.9L744.5 154.6L743.7 152.7L742.8 152.0L741.9 151.6L741.4 150.6L741.4 150.2L740.8 149.3L740.3 148.6L739.6 147.6L738.6 146.2L737.7 144.9L736.8 144.9L737.1 144.1L737.1 143.2L736.3 145.1L735.6 145.8L734.2 144.4L732.9 141.8M91.6 121.2L93.3 121.9L97.0 122.1L100.4 120.5L104.3 120.5L107.2 121.7L109.7 122.4L113.4 122.2L115.5 121.4L115.7 119.4L112.7 118.0L109.5 116.3L108.3 115.7L109.5 113.1L108.1 111.9L104.1 113.8L106.5 114.3L104.3 115.2L101.3 116.1L99.5 114.7L101.4 113.8L99.7 113.1L96.9 112.4L95.1 113.8L94.4 115.2L93.0 115.4L92.5 117.5L91.6 118.4L91.1 120.5L91.6 121.2M125.0 115.2L127.8 112.7L129.9 112.7L133.1 111.5L135.6 111.9L135.9 113.1L132.6 114.8L132.6 116.1L131.0 116.3L131.7 117.0L133.5 119.1L135.1 119.8L135.9 120.1L137.3 121.2L135.6 122.9L136.1 125.2L137.0 128.4L133.6 129.6L130.7 128.6L128.7 128.2L128.4 126.1L128.9 125.8L129.2 123.6L130.8 123.5L129.2 122.4L127.8 120.8L126.6 118.9L125.9 117.3L125.0 115.2M32.3 106.2L36.3 105.3L40.5 105.0L44.8 104.3L45.3 101.6L42.8 100.4L41.8 99.4L40.2 98.3L39.5 96.5L38.6 95.8L37.7 95.3L39.1 93.0L36.1 92.7L36.8 91.3L33.5 91.3L32.1 92.7L32.4 95.3L31.4 95.5L32.6 96.9L33.9 97.1L33.5 98.0L36.7 98.3L37.0 99.4L37.0 100.6L34.7 100.4L34.0 101.5L35.1 102.4L33.7 103.1L33.3 103.6L36.5 103.9L34.7 104.5L33.5 105.3L32.3 106.2M665.9 106.2L669.9 105.3L674.1 105.0L678.4 104.3L678.9 101.6L676.4 100.4L675.4 99.4L673.8 98.3L673.1 96.5L672.2 95.8L671.3 95.3L672.7 93.0L669.7 92.7L670.4 91.3L667.1 91.3L665.7 92.7L666.0 95.3L665.0 95.5L666.2 96.9L667.5 97.1L667.1 98.0L670.3 98.3L670.6 99.4L670.6 100.6L668.3 100.4L667.6 101.5L668.7 102.4L667.3 103.1L666.9 103.6L670.1 103.9L668.3 104.5L667.1 105.3L665.9 106.2M665.3 102.7L665.2 100.6L665.0 99.4L666.2 98.3L665.3 97.2L662.9 97.1L661.6 97.8L660.8 98.8L658.3 99.0L658.7 100.6L657.8 102.9L659.4 103.6L661.8 103.4L663.9 102.9L665.3 102.7M636.1 81.9L636.5 80.2L633.7 78.9L636.8 78.4L636.8 77.5L642.3 78.1L644.6 78.2L647.4 77.4L650.4 78.6L652.0 79.8L649.7 81.1L643.0 82.6L636.1 81.9M64.1 127.5L66.1 127.2L69.8 127.0L68.9 129.8L67.5 129.3L64.1 128.2L64.1 127.5M57.1 122.1L59.5 123.1L59.2 125.4L57.3 125.8L57.1 122.1M58.8 118.7L59.2 121.4L57.8 121.2L57.4 119.6L58.8 118.7M83.8 132.3L88.6 132.3L87.7 132.8L83.8 132.3M99.1 132.6L103.2 131.6L101.1 133.0L99.1 132.6M182.7 183.8L183.1 177.2L185.2 179.3L186.4 181.2L184.9 183.8L182.7 183.8M272.7 134.6L275.5 131.9L278.1 131.7L281.7 131.4L283.1 128.9L284.1 129.6L286.9 127.5L288.3 125.2L288.7 123.3L288.7 121.7L291.3 121.9L292.0 124.9L290.5 127.2L290.3 129.3L290.1 131.6L288.3 132.8L286.9 133.3L286.1 133.5L283.4 133.5L283.1 134.2L281.3 135.4L279.9 133.7L276.4 134.0L272.7 134.6M288.7 121.4L289.2 118.4L291.2 118.2L291.7 114.5L294.9 116.6L298.4 118.2L294.5 120.5L290.5 120.8L288.7 121.4M270.7 135.4L272.9 134.6L274.6 136.3L273.6 139.1L271.5 139.3L270.7 135.4M275.7 134.7L279.0 134.2L279.4 134.9L276.4 136.7L275.7 134.7M292.2 113.4L294.9 112.6L294.0 108.2L296.6 108.2L294.3 103.2L293.5 98.8L292.2 102.9L291.9 109.0L292.2 113.4M253.9 153.9L255.3 150.0L257.0 150.4L256.1 153.9L254.9 155.7L253.9 153.9M233.4 160.6L236.8 159.0L237.7 159.9L235.0 162.4L233.4 160.6M253.5 168.9L254.4 161.8L257.4 161.8L257.0 166.2L260.5 169.8L258.8 171.5L255.3 170.1L253.5 168.9M257.0 182.1L260.5 179.8L263.2 177.7L264.9 182.1L263.2 184.2L260.5 183.0L257.0 182.1M257.0 174.2L259.7 175.0L262.3 174.2L262.3 176.8L259.7 177.7L257.0 175.9L257.0 174.2M248.6 179.6L252.6 175.9L253.0 176.4L249.1 180.0L248.6 179.6M234.1 191.8L235.9 191.4L238.5 189.5L241.2 188.8L245.6 185.1L248.2 182.1L251.7 185.6L250.0 186.8L250.9 192.6L249.1 194.4L248.2 196.2L247.3 200.6L243.8 201.4L239.1 200.2L236.3 199.5L235.9 197.0L234.1 194.4L234.1 191.8M210.0 184.5L213.9 185.2L219.2 190.9L224.8 196.0L228.9 199.7L228.5 204.6L226.2 204.8L221.8 201.4L219.2 197.0L216.2 191.2L212.1 188.1L210.0 184.5M227.5 206.4L228.9 205.0L233.3 205.5L237.7 205.8L240.5 206.5L243.8 208.0L243.5 209.7L237.7 208.8L232.4 208.1L229.7 207.4L227.5 206.4M244.7 208.8L246.5 209.2L251.7 209.2L258.8 209.0L260.5 209.9L258.8 210.2L251.7 210.2L246.5 210.1L244.7 208.8M252.6 204.1L251.7 199.7L253.1 194.4L254.9 192.1L258.8 192.6L262.3 191.8L261.4 193.7L255.3 193.5L256.1 196.2L259.3 195.8L256.1 197.9L257.9 202.3L255.3 201.4L254.4 199.7L254.0 204.1L252.6 204.1M260.5 212.0L265.8 209.2L262.3 211.1L260.5 212.0M266.7 191.8L267.6 190.9L268.8 192.1L267.6 193.5L266.7 191.8M264.1 200.6L266.7 200.0L267.6 201.1L264.1 200.6M270.2 199.3L272.9 199.7L272.0 200.7L267.6 200.6L270.2 199.3M272.9 196.2L278.1 195.8L281.7 198.4L285.2 197.2L290.5 199.0L297.5 201.8L299.3 204.1L301.9 205.0L302.4 208.7L306.3 212.5L302.8 212.4L299.3 208.5L294.9 210.2L292.2 210.6L288.7 208.5L286.1 209.0L284.8 204.1L279.9 202.0L275.5 201.4L274.6 199.3L272.9 196.2M303.7 204.1L306.3 203.6L308.9 202.1L310.2 202.0L309.8 203.6L307.2 205.5L303.7 204.1M307.7 199.2L310.7 200.7L311.6 202.7L309.8 201.1L307.7 199.2M315.1 204.1L316.9 205.8L319.5 207.6L323.0 209.4L324.8 211.6L326.5 212.9L324.8 210.8L320.4 207.6L315.1 204.1M335.3 220.4L336.7 221.7L337.1 223.4L338.5 225.7L339.7 227.8L338.9 225.2L337.5 222.9L335.3 220.4M330.9 230.0L333.2 231.4L336.2 233.6L335.3 232.6L332.7 230.8L330.9 230.0M354.3 225.2L356.6 224.7L356.5 226.4L354.3 226.1L354.3 225.2M357.0 223.4L359.1 222.9L358.2 224.1L357.0 223.4M245.1 252.5L244.5 246.3L242.9 241.0L241.5 238.4L242.1 233.1L242.9 233.1L246.5 230.5L250.9 230.1L255.3 228.7L257.9 224.3L259.7 223.4L262.3 220.8L264.9 218.7L267.2 219.9L269.3 220.8L270.4 219.4L271.1 216.4L272.9 215.9L274.6 214.3L276.4 215.0L278.1 215.5L281.7 215.5L283.1 216.2L281.3 218.0L280.8 220.4L284.3 222.6L286.9 224.3L288.7 225.2L290.5 223.4L291.3 219.0L291.3 215.5L293.1 213.2L294.0 215.5L294.9 219.0L296.6 219.4L298.0 220.8L298.4 224.0L299.3 227.0L301.9 228.7L304.5 230.5L306.3 233.5L308.1 234.9L310.7 237.5L311.6 239.3L312.5 244.6L312.1 249.0M380.2 78.9L383.4 74.2L387.8 72.1L394.3 70.3L400.5 68.9L408.4 69.8L415.4 70.7L420.7 71.2L427.7 71.7L434.8 73.0L440.1 72.1L447.1 71.2L452.4 71.2L455.9 72.1L464.7 73.0L473.5 74.7L482.3 74.7L491.1 73.8L499.9 75.1L503.4 75.1L508.7 73.8L512.2 73.0L517.5 73.8L521.9 75.6L524.5 77.9L522.8 80.0L519.3 81.8L515.7 83.9L510.5 87.0L509.6 90.6L513.1 94.1L517.5 94.1L521.0 95.8L526.3 97.2L531.2 101.3L534.2 103.8L536.9 103.8L537.2 102.0L536.9 98.5L540.4 95.8L541.1 91.4L538.6 87.9L539.5 84.4L547.4 85.3L550.9 86.7L553.6 87.9L553.6 90.9L558.0 91.4L561.5 89.7L562.4 88.3L565.0 92.3L567.7 95.8L570.3 97.2L574.7 99.4L577.3 102.0L577.9 103.2L575.6 103.9L570.3 106.0L563.3 106.0L558.9 106.8L554.5 109.2L551.8 111.5L556.2 108.9L561.5 107.8L562.7 109.0L561.5 111.3L561.9 112.9L565.0 113.6L568.5 114.3L570.3 113.8L568.5 114.8L564.1 115.9L560.6 117.7L559.7 116.3L562.4 114.7L558.9 115.0L557.1 116.1L554.5 117.0L551.8 118.7L551.3 119.6L552.7 120.8L551.3 121.4L549.2 121.9L545.7 122.9L545.7 124.9L543.9 126.1L543.5 127.5L542.1 129.3L543.0 131.9L541.3 133.3L538.6 134.9L536.0 136.3L534.2 137.7L532.6 140.7L533.3 142.5L534.2 145.1L535.1 147.2L534.6 149.9L533.0 149.9L531.9 147.8L530.7 146.0L530.3 144.2L529.8 143.4L528.1 141.6L525.4 142.0L523.7 140.9L521.0 140.9L519.3 141.1L518.7 143.0L516.6 143.4L514.9 142.5L512.2 142.1L510.5 142.3L508.7 142.8L506.1 144.4L504.8 145.6L504.3 148.6L504.3 150.4L503.8 153.9L503.9 155.7L504.8 158.3L506.1 160.1L507.8 161.3L509.6 162.4L513.1 161.7L514.9 161.8L516.1 160.1L516.6 157.8L519.3 156.9L522.8 156.6L522.3 158.3L521.5 160.1L521.9 161.8L520.7 162.7L520.5 164.5L520.1 166.6L522.8 166.6L526.3 166.2L528.1 166.6L529.3 168.0L528.9 171.5L528.6 175.0L529.8 176.8L531.6 178.6L533.3 178.9L536.0 177.7L537.7 178.0L539.9 179.4L540.7 179.3L542.1 178.0L543.0 175.9L544.8 175.0L547.4 174.5L549.2 173.3L550.4 172.8L550.1 175.0L550.9 175.9L550.1 177.7L549.2 177.7L550.6 174.7L552.7 174.2L554.5 174.2L556.2 175.9L559.7 175.7L563.3 175.7L565.9 175.6L567.3 176.4L568.5 178.6L570.3 179.4L572.1 181.0L573.8 182.1L575.6 183.8L579.1 184.0L581.7 184.5L584.4 186.0L585.6 187.0L586.1 188.2L587.9 191.2L587.9 193.5L590.5 195.3L590.5 197.0L593.2 195.8L596.7 197.0L597.6 198.8L600.2 198.6L602.9 199.7L605.5 199.5L608.1 200.9L610.8 203.0L613.8 203.7L614.7 207.6L613.9 210.2L612.5 212.0L610.8 213.8L609.0 216.9L607.6 218.2L607.3 220.8L607.3 223.4L606.7 226.1L606.0 228.7L604.6 230.5L603.7 233.1L602.0 234.9L600.2 234.9L597.6 235.4L595.8 236.3L593.2 237.5L591.4 239.8L590.4 241.9L590.4 244.6L588.8 246.3L587.4 249.0M380.2 78.9L383.7 80.4L386.4 80.9L392.5 80.9L392.5 82.6L388.1 83.5L385.9 84.4L384.6 86.2L383.7 87.4L386.4 88.3L390.8 89.7L390.8 90.9L396.1 91.3L398.7 90.9L399.6 93.2L396.9 95.0L393.4 96.5L389.9 97.6L388.1 98.0L390.8 97.1L395.2 95.8L398.7 94.4L401.3 93.2L404.0 91.8L404.9 90.2L408.4 88.8L409.3 90.0L411.9 89.2L411.9 87.0L415.4 87.9L418.1 87.9L420.7 88.3L424.2 88.8L427.7 89.0L430.4 89.5L433.0 90.6L434.8 91.4L436.5 92.0L437.4 93.2L438.3 94.1L440.9 95.8L442.7 97.6L445.3 98.5L447.1 99.4L447.1 102.0L450.6 103.8L451.5 105.5L454.1 106.4L455.9 108.2L456.8 109.2L457.7 112.6L457.7 115.2L456.8 118.7L457.1 120.5L457.7 123.1L458.0 124.9L459.4 127.0L460.3 128.2L460.3 129.3L461.4 130.2L462.1 131.9L463.5 133.3L464.7 133.9L467.3 134.6L469.1 136.0L469.8 137.2L470.9 139.0L471.7 141.1L473.5 142.5L474.4 144.2L475.3 145.6L477.0 147.2L478.8 149.5L479.7 151.3L481.4 153.0L482.3 154.1L483.2 153.6L481.8 151.6L480.5 149.5L478.8 147.2L477.4 145.1L476.1 142.5L474.0 139.5L476.1 139.0L477.9 140.7L479.7 143.4L480.5 145.1L482.3 146.9L483.5 147.8L484.4 149.3L485.8 150.4L487.6 152.2L489.3 153.9L490.2 156.6L490.2 158.3L491.1 160.1L492.0 161.0L493.7 162.2L496.4 162.9L498.1 164.0L500.8 165.0L503.4 165.9L506.1 166.8L508.7 166.1L510.5 165.9L512.2 167.1L514.0 168.7L515.7 169.9L517.5 170.3L519.3 170.8L521.0 171.2L521.9 171.5L522.8 172.4L523.7 173.3L525.1 175.0L525.1 176.8L526.3 177.3L527.2 177.7L528.6 179.1L529.8 180.0L531.6 180.0L533.3 180.7L534.6 181.4L535.1 180.3L536.0 178.9L537.7 178.9L538.6 179.8L539.0 181.0L539.5 182.1L539.9 183.8L539.5 185.6L539.9 187.4L539.5 188.2L538.6 189.5L537.6 190.5L536.9 191.8L535.5 192.6L535.1 193.5L534.6 195.3L534.2 196.2L533.7 198.4L534.7 199.7L534.2 201.4L533.0 202.3L533.0 205.0L535.1 205.8L536.0 208.5L537.7 210.2L538.6 212.0L540.0 215.5L541.3 218.2L541.8 219.0L543.0 220.8L543.9 221.7L545.7 222.6L548.3 224.0L550.1 225.2L551.8 226.1L552.2 227.0L552.3 229.6L552.5 232.2L552.3 234.9L551.8 236.6L551.8 239.3L551.3 241.9L550.4 245.4L549.9 249.0M526.3 156.0L529.8 154.1L535.1 153.7L540.4 156.6L545.3 158.8L539.5 159.6L538.6 158.0L534.2 156.0L530.7 155.7L526.3 156.0M544.8 162.0L548.3 159.6L554.5 160.1L555.7 161.7L552.7 162.4L549.2 162.7L544.8 162.0M538.1 162.2L541.8 162.7L540.4 163.1L538.1 162.2M557.5 162.0L560.4 162.0L560.3 162.7L557.6 162.7L557.5 162.0M538.6 147.8L540.4 147.2L539.5 150.4L538.6 147.8M571.5 110.6L573.8 108.2L575.6 105.5L578.2 103.6L578.2 106.4L581.7 107.3L583.1 110.8L582.6 112.2L580.9 111.7L578.2 111.2L577.3 110.6L571.5 110.6M547.4 57.1L556.2 53.6L563.3 51.5L570.3 50.1L587.9 49.2L596.7 48.3L614.3 47.4L626.6 47.4L640.7 50.1L644.2 53.6L642.5 56.2L640.7 58.9L643.3 62.4L638.9 65.9L637.2 67.7L637.2 70.7L633.7 72.1L630.1 73.8L623.1 74.4L619.6 74.7L614.3 77.4L609.0 79.1L605.5 80.9L603.7 83.5L601.1 87.0L600.2 88.8L596.7 87.9L593.2 87.4L589.7 86.2L587.0 83.5L586.1 81.8L583.5 79.1L581.7 77.4L581.7 73.0L586.1 71.2L584.4 69.8L580.9 69.4L579.1 66.8L579.1 65.9L575.6 63.3L573.8 61.5L566.8 60.6L559.7 60.3L552.7 58.9L547.4 57.1M567.7 77.4L562.4 83.5L556.2 84.9L550.9 83.5L545.7 80.9L539.5 81.2L547.4 77.4L548.3 73.8L540.4 70.7L535.1 66.8L522.8 65.0L539.5 66.4L545.7 65.9L552.7 69.4L558.0 72.1L559.7 74.7L567.7 77.4M468.2 69.4L470.0 66.8L473.5 65.0L482.3 65.9L491.1 65.9L496.4 68.6L498.1 71.2L492.9 72.6L485.8 73.3L477.0 73.8L471.7 72.1L468.2 69.4M455.9 67.7L457.7 64.2L462.9 63.5L471.7 65.0L464.7 68.6L455.9 67.7M517.5 59.8L526.3 60.1L535.1 60.6L538.6 58.0L543.9 55.4L552.7 52.7L561.5 49.2L543.9 48.3L526.3 49.2L517.5 51.8L514.0 54.5L517.5 59.8M514.0 62.4L524.5 63.3L535.1 63.3L531.6 60.6L522.8 59.8L514.0 59.8L514.0 62.4M522.8 81.8L528.1 82.6L533.3 80.9L528.1 79.1L524.5 78.2L522.8 81.8M501.7 67.7L504.3 65.0L508.7 64.2L517.5 65.0L512.2 68.6L506.9 69.1L501.7 67.7M473.5 62.4L482.3 61.0L491.1 60.6L499.9 61.5L492.9 63.1L482.3 63.3L473.5 62.4M499.9 57.1L508.7 58.5L517.5 57.1L508.7 52.7L499.9 54.5L499.9 57.1M482.3 58.9L491.1 56.8L499.9 57.5L494.6 59.2L482.3 58.9M528.1 58.0L535.1 57.1L535.1 58.9L528.1 58.0M61.7 56.2L65.2 54.5L70.5 53.6L77.5 53.1L89.8 53.2L84.5 55.4L81.0 57.1L74.0 58.9L72.2 59.8L68.7 58.9L65.2 57.1L61.7 56.2M133.8 68.6L136.5 65.0L140.9 64.2L144.4 61.5L149.7 60.6L156.7 59.2L162.0 58.9L160.2 60.6L151.4 62.4L144.4 65.0L140.9 67.7L140.9 69.4L133.8 68.6M209.5 55.4L213.0 52.7L218.3 51.8L225.3 54.5L221.8 56.2L214.8 57.1L209.5 55.4M283.4 62.4L288.7 61.0L292.2 60.6L302.8 61.9L297.5 63.3L294.0 64.5L288.7 63.8L283.4 62.4M357.3 69.4L360.9 68.6L364.4 69.4L359.1 69.8L357.3 69.4M130.3 53.6L135.6 52.4L144.4 51.5L151.4 52.2L144.4 53.6L137.3 54.0L130.3 53.6M461.2 59.8L471.7 58.0L470.0 60.6L461.2 59.8M498.1 59.8L505.2 58.9L503.4 61.5L498.1 59.8M499.9 73.0L506.9 72.1L506.9 73.8L499.9 73.0M506.9 53.6L517.5 51.3L524.5 52.7L515.7 55.4L506.9 53.6M531.6 84.4L535.1 83.5L533.3 85.3L531.6 84.4M535.1 65.0L542.1 64.5L538.6 66.3L535.1 65.0M480.5 67.7L485.8 66.8L487.6 68.6L480.5 67.7M521.0 71.2L528.1 70.7L524.5 72.6L521.0 71.2M565.0 75.6L570.3 76.5L566.8 77.7L565.0 75.6" fill="none" stroke="#000" stroke-width="1" stroke-linejoin="round"/><path d="M154.9 64.0C154.9 64.1 154.9 64.7 154.7 65.0C154.5 65.4 154.1 65.8 153.7 66.2C153.3 66.5 152.7 66.9 152.1 67.2C151.5 67.6 150.7 67.9 149.9 68.2C149.1 68.5 148.3 68.7 147.4 68.9C146.5 69.1 145.5 69.3 144.6 69.5C143.6 69.6 142.6 69.7 141.7 69.7C140.8 69.8 139.9 69.8 139.0 69.7C138.2 69.6 137.4 69.5 136.7 69.4C136.0 69.2 135.4 69.0 134.8 68.8C134.3 68.6 133.9 68.3 133.6 68.0C133.3 67.7 133.2 67.4 133.1 67.0C133.1 66.7 133.1 66.3 133.3 66.0C133.5 65.6 133.9 65.2 134.3 64.8C134.7 64.5 135.3 64.1 135.9 63.8C136.5 63.4 137.3 63.1 138.1 62.8C138.9 62.5 139.7 62.3 140.6 62.1C141.5 61.9 142.5 61.7 143.4 61.5C144.4 61.4 145.4 61.3 146.3 61.3C147.2 61.2 148.1 61.2 149.0 61.3C149.8 61.4 150.6 61.5 151.3 61.6C152.0 61.8 152.6 62.0 153.2 62.2C153.7 62.4 154.1 62.7 154.4 63.0C154.7 63.3 154.8 63.8 154.9 64.0M42.0 98.0C43.3 96.3 47.0 91.0 50.0 88.0C53.0 85.0 55.8 82.7 60.0 80.0C64.2 77.3 70.6 74.5 75.0 72.0C79.4 69.5 83.1 67.2 86.6 65.3C90.1 63.4 91.9 61.8 96.2 60.5C100.5 59.2 106.7 58.3 112.3 57.8C117.9 57.3 124.3 57.2 129.9 57.3C135.5 57.3 142.2 57.6 146.0 58.1C149.8 58.6 151.4 58.8 153.0 60.0C154.6 61.2 155.7 63.4 155.3 65.2C155.0 67.0 153.6 69.4 150.9 71.0C148.2 72.6 143.1 73.5 139.2 74.7C135.3 75.9 130.9 76.7 127.5 78.3C124.1 79.9 121.2 80.8 118.8 84.2C116.4 87.6 116.4 95.2 113.0 98.8C109.6 102.4 103.3 104.4 98.4 106.1C93.5 107.8 90.4 108.5 83.8 109.0C77.2 109.5 66.0 108.7 59.0 109.0C52.0 109.3 44.8 110.7 42.0 111.0M57.5 101.7C60.7 102.0 70.9 103.4 76.5 103.2C82.1 103.0 87.4 101.8 91.1 100.3C94.8 98.8 96.9 96.6 98.4 94.4C99.9 92.2 100.4 89.3 99.9 87.1C99.4 84.9 98.2 82.4 95.5 81.3C92.8 80.2 88.2 80.0 83.8 80.5C79.4 81.0 73.3 82.4 69.2 84.2C65.1 86.0 61.2 89.3 59.0 91.5C56.8 93.7 56.4 95.6 56.1 97.3C55.9 99.0 57.3 101.0 57.5 101.7M42.0 66.0C43.3 65.3 45.3 63.7 50.0 62.0C54.7 60.3 63.3 57.7 70.0 56.0C76.7 54.3 83.3 52.9 90.0 52.0C96.7 51.1 103.0 50.7 110.0 50.6C117.0 50.5 124.6 50.9 131.9 51.3C139.2 51.7 147.7 51.9 153.8 52.8C159.9 53.6 165.0 55.1 168.4 56.4C171.8 57.7 173.5 59.1 174.2 60.8C174.9 62.5 174.2 64.5 172.8 66.7C171.4 68.9 168.7 71.8 165.5 74.0C162.3 76.2 158.2 77.6 153.8 79.8C149.4 82.0 143.6 84.7 139.2 87.1C134.8 89.5 130.9 91.7 127.5 94.4C124.1 97.1 121.2 100.9 118.8 103.2C116.4 105.5 117.6 106.9 113.0 108.5C108.4 110.1 99.6 112.0 91.1 113.0C82.6 114.0 70.1 114.1 61.9 114.5C53.7 114.9 45.3 115.3 42.0 115.5M42.0 56.0C45.0 55.0 53.7 51.4 60.0 50.0C66.3 48.6 75.0 48.0 80.0 47.5C85.0 47.0 88.3 47.1 90.0 47.0M42.0 79.6C45.0 78.0 54.5 72.5 60.0 70.0C65.5 67.5 69.3 66.3 75.1 64.7C80.9 63.1 91.7 61.0 95.0 60.3M42.0 85.0C46.7 83.2 61.2 76.8 70.0 74.0C78.8 71.2 90.8 69.2 95.0 68.2M42.0 75.5C45.3 73.5 56.1 66.7 61.9 63.8C67.7 60.9 74.1 58.9 76.5 57.9M42.0 91.5C44.1 90.0 49.9 85.3 54.6 82.7C59.3 80.1 67.4 77.1 70.0 76.0M42.0 68.0C44.2 66.7 50.3 62.5 55.0 60.0C59.7 57.5 67.5 54.2 70.0 53.0M172.0 112.6 L180.9 112.6M330.0 64.2C333.6 64.9 344.6 66.9 351.9 68.6C359.2 70.2 369.1 72.8 373.8 74.1C378.6 75.4 379.3 75.9 380.4 76.3M330.0 76.3C333.6 76.7 344.6 77.6 351.9 78.5C359.2 79.4 370.1 81.2 373.8 81.7M408.8 100.4C411.0 100.8 417.6 100.8 422.0 102.6C426.4 104.4 431.8 108.0 435.1 111.3C438.4 114.6 440.2 118.7 441.7 122.3C443.2 125.9 444.3 129.9 443.9 133.2C443.5 136.5 441.3 139.8 439.5 142.0C437.7 144.2 434.0 145.6 432.9 146.3M422.0 89.4C424.2 90.1 431.1 91.6 435.1 93.8C439.1 96.0 443.1 99.3 446.0 102.6C448.9 105.9 451.1 109.9 452.6 113.5C454.1 117.1 454.8 120.4 454.8 124.4C454.8 128.4 453.7 133.9 452.6 137.6C451.5 141.2 448.9 144.9 448.2 146.3M424.2 78.5C426.8 79.2 434.8 80.2 439.5 82.8C444.2 85.3 448.6 90.1 452.6 93.8C456.6 97.5 460.7 100.7 463.6 104.7C466.5 108.7 468.9 115.8 470.0 118.0M443.9 93.8C446.8 95.3 456.7 99.3 461.4 102.6C466.1 105.9 470.5 111.7 472.3 113.5M343.1 137.6C346.4 137.2 355.9 135.0 362.8 135.4C369.7 135.8 381.1 139.1 384.7 139.8M464.0 102.9C466.6 102.1 475.4 99.6 479.5 98.3C483.6 97.0 487.2 95.7 488.8 95.2M468.6 118.4C471.2 117.4 478.9 114.5 484.1 112.2C489.3 109.9 495.2 106.3 499.6 104.5C504.0 102.7 508.6 101.9 510.4 101.4M464.0 124.6C466.1 125.4 473.0 127.4 476.4 129.2C479.8 131.0 482.0 133.3 484.1 135.4C486.2 137.5 488.0 140.6 488.8 141.6M470.0 85.0C472.0 86.2 478.7 88.8 482.0 92.0C485.3 95.2 488.7 102.0 490.0 104.0M533.4 120.7C534.7 119.8 536.0 116.9 541.1 115.6C546.2 114.3 553.9 113.4 564.2 113.0C574.5 112.6 593.8 112.4 602.8 113.0C611.8 113.6 615.6 115.3 618.2 116.8C620.8 118.3 620.8 120.5 618.2 122.0C615.6 123.5 611.8 124.5 602.8 125.8C593.8 127.1 574.1 129.0 564.2 129.7C554.4 130.3 548.8 130.3 543.7 129.7C538.6 129.0 535.1 127.3 533.4 125.8C531.7 124.3 533.4 121.5 533.4 120.7M515.4 125.8C516.3 124.3 516.8 119.4 520.6 116.8C524.5 114.2 529.1 111.9 538.5 110.4C547.9 108.9 564.7 108.0 577.1 107.8C589.5 107.6 604.9 107.8 613.0 109.1C621.1 110.4 624.2 113.2 625.9 115.6C627.6 118.0 627.1 120.7 623.3 123.3C619.4 125.9 610.5 129.1 602.8 131.0C595.1 132.9 587.8 134.0 577.1 134.8C566.4 135.7 547.5 136.3 538.5 136.1C529.5 135.9 527.0 135.2 523.1 133.5C519.2 131.8 516.7 127.1 515.4 125.8M507.7 142.5 L533.4 145.1M254.5 236.0C256.8 236.1 263.6 236.6 268.5 236.5C273.4 236.4 278.9 236.2 284.0 235.5C289.1 234.8 294.8 233.5 299.4 232.2C304.0 230.9 309.7 228.3 311.8 227.5M393.0 153.6C395.1 154.8 402.3 158.3 405.4 160.6C408.5 162.9 411.9 165.2 411.6 167.5C411.4 169.8 406.5 173.6 403.9 174.5C401.3 175.4 399.4 173.8 396.0 173.0C392.6 172.2 386.1 171.3 383.8 169.9C381.5 168.5 382.5 165.3 382.2 164.4M402.3 142.0C404.1 142.8 408.6 145.7 413.2 146.6C417.8 147.5 427.4 147.3 430.2 147.4M602.5 162.0C603.5 162.8 603.0 166.3 608.7 166.8C614.4 167.3 632.0 165.5 636.6 165.2M449.5 209.4C454.2 210.2 469.8 212.1 477.5 214.0C485.2 215.9 490.8 219.4 496.0 221.0C501.2 222.6 506.8 223.2 508.9 223.6M356.0 223.5 L393.4 228.0M396.0 227.0C395.2 228.3 391.8 232.0 391.5 235.0C391.2 238.0 393.6 243.3 394.0 245.0M442.6 218.2C443.6 216.9 445.1 212.0 448.8 210.5C452.5 209.0 462.3 209.2 465.0 209.0M359.0 239.9 L368.3 244.5" fill="none" stroke="#000" stroke-width="1.2"/><path d="M42.0 39.5 L676.0 39.5M72.0 47.0C78.3 46.9 97.0 46.5 110.0 46.3C123.0 46.1 140.0 45.8 150.0 46.0C160.0 46.2 163.0 46.7 170.0 47.5C177.0 48.3 186.2 49.4 192.0 51.0C197.8 52.6 201.7 54.8 205.0 57.0C208.3 59.2 210.8 62.8 212.0 64.0M200.0 47.0C208.5 47.1 236.0 47.8 251.0 47.8C266.0 47.8 278.5 47.0 290.0 47.0C301.5 47.0 312.2 47.1 320.0 47.5C327.8 47.9 329.1 49.5 337.0 49.3C344.9 49.1 357.4 46.8 367.6 46.3C377.8 45.8 388.1 46.0 398.3 46.3C408.5 46.5 419.6 47.5 429.0 47.8C438.4 48.0 439.8 47.4 455.0 47.8C470.2 48.2 499.2 50.0 520.0 50.0C540.8 50.0 560.0 48.7 580.0 48.0C600.0 47.3 624.0 46.3 640.0 46.0C656.0 45.7 670.0 46.0 676.0 46.0M245.0 63.0C250.8 62.8 270.8 62.5 280.0 62.0C289.2 61.5 293.0 60.8 300.0 60.0C307.0 59.2 315.8 58.3 322.0 57.0C328.2 55.7 334.5 52.8 337.0 52.0M42.0 121.0C50.0 120.8 77.0 121.2 90.0 120.0C103.0 118.8 112.0 116.1 120.0 114.0C128.0 111.9 132.2 110.9 137.8 107.6C143.4 104.3 149.2 98.3 153.8 94.4C158.4 90.5 161.8 86.9 165.5 84.2C169.2 81.5 172.8 79.7 175.7 78.3C178.6 76.9 179.8 77.1 183.0 76.1C186.2 75.0 190.5 73.0 195.0 72.0C199.5 71.0 207.5 70.3 210.0 70.0M42.0 126.0C51.7 125.7 82.0 125.0 100.0 124.0C118.0 123.0 139.1 121.2 150.0 120.0C160.9 118.8 160.7 119.3 165.7 116.8C170.7 114.3 175.9 108.5 180.0 105.0C184.1 101.5 186.9 97.7 190.3 95.9C193.7 94.1 197.2 94.4 200.5 94.4C203.8 94.4 205.9 95.3 210.0 95.9C214.1 96.5 222.5 97.7 225.0 98.0M140.0 76.1C142.9 75.4 151.7 73.4 157.5 71.7C163.3 70.0 170.6 67.5 175.0 65.8C179.4 64.1 182.3 62.2 183.8 61.5M140.0 87.7C142.9 86.7 151.2 84.1 157.5 81.9C163.8 79.7 171.2 76.3 178.0 74.6C184.8 72.9 195.0 72.2 198.4 71.7M145.8 98.0C149.7 96.5 161.4 91.6 169.2 89.2C177.0 86.8 186.3 84.6 192.6 83.4C198.9 82.2 204.8 82.2 207.2 81.9M148.8 106.7C153.2 105.2 166.7 100.4 175.0 98.0C183.3 95.6 191.6 93.8 198.4 92.1C205.2 90.4 211.0 89.2 215.9 87.7C220.8 86.2 225.7 84.1 227.6 83.4M175.0 106.7C178.9 105.7 191.1 102.4 198.4 100.9C205.7 99.5 215.4 98.5 218.8 98.0M213.0 92.1C215.4 93.6 223.7 98.0 227.6 100.9C231.5 103.8 233.5 106.7 236.4 109.6C239.3 112.5 242.7 115.0 245.1 118.4C247.5 121.8 250.0 128.2 251.0 130.1M227.6 84.8C230.0 86.0 237.3 88.9 242.2 92.1C247.1 95.3 252.9 99.9 256.8 103.8C260.7 107.7 263.1 111.6 265.5 115.5C267.9 119.4 270.4 125.2 271.4 127.2M242.2 80.4C245.6 81.4 256.3 83.9 262.6 86.3C268.9 88.7 275.2 92.1 280.1 95.0C285.0 97.9 289.9 102.3 291.8 103.8M213.0 64.4 L221.8 61.5M227.6 62.9 L245.1 64.4M239.3 81.9C242.2 81.4 250.5 80.0 256.8 79.0C263.1 78.0 271.4 77.1 277.2 76.1C283.0 75.1 285.5 73.8 291.8 73.1C298.1 72.4 307.2 71.7 315.2 71.7C323.2 71.7 333.4 72.5 340.0 73.1C346.6 73.6 352.5 74.7 355.0 75.0M268.5 90.7C271.4 90.2 280.6 88.7 286.0 87.7C291.4 86.7 298.2 85.3 300.6 84.8M291.8 115.5C295.7 115.4 307.0 115.0 315.0 115.0C323.0 115.0 333.9 115.2 340.0 115.5C346.1 115.8 346.3 116.4 351.9 116.8C357.5 117.2 366.5 117.0 373.8 117.9C381.1 118.8 390.2 120.8 395.7 122.3C401.2 123.8 404.8 125.9 406.6 126.6M291.8 121.3C295.7 121.2 307.0 121.0 315.0 121.0C323.0 121.0 333.9 121.1 340.0 121.5C346.1 121.9 346.3 122.7 351.9 123.4C357.5 124.1 366.5 124.2 373.8 125.5C381.1 126.8 390.2 129.3 395.7 131.0C401.2 132.7 404.8 134.7 406.6 135.4M291.8 128.6C295.7 128.6 307.0 128.6 315.0 128.6C323.0 128.6 333.9 128.4 340.0 128.6C346.1 128.8 346.3 129.1 351.9 129.9C357.5 130.7 367.2 131.9 373.8 133.2C380.4 134.5 386.6 136.1 391.3 137.6C396.1 139.1 400.5 141.3 402.3 142.0M330.0 109.1C332.2 108.9 337.6 108.0 343.1 108.0C348.6 108.0 355.9 108.2 362.8 109.1C369.7 110.0 381.1 112.8 384.7 113.5M251.0 115.5C252.9 116.5 259.2 118.9 262.6 121.3C266.0 123.7 269.0 127.2 271.4 130.1C273.8 133.0 276.2 137.4 277.2 138.8M130.0 142.0C135.0 140.8 152.5 137.0 160.0 135.0C167.5 133.0 168.3 131.5 175.0 130.0C181.7 128.5 190.8 127.0 200.0 126.0C209.2 125.0 225.0 124.3 230.0 124.0M215.0 115.0C219.2 113.8 233.3 109.8 240.0 108.0C246.7 106.2 252.5 104.7 255.0 104.0M402.3 57.7 L422.0 56.6M430.7 57.7C431.8 58.2 436.2 59.4 437.3 61.0C438.4 62.6 437.3 66.4 437.3 67.5M336.6 90.5C339.5 90.3 347.9 89.5 354.1 89.4C360.3 89.3 370.5 89.8 373.8 89.9M351.9 102.6C355.5 102.4 366.5 102.4 373.8 101.5C381.1 100.6 389.1 98.9 395.7 97.1C402.3 95.3 410.3 91.6 413.2 90.5M437.3 142.0 L452.6 133.2M549.0 57.1C554.5 57.6 571.0 59.0 582.0 60.4C593.0 61.8 604.0 63.6 615.0 65.3C626.0 67.0 637.8 68.8 648.0 70.3C658.2 71.8 671.3 73.4 676.0 74.0M565.5 67.0C571.0 68.1 587.5 71.4 598.5 73.6C609.5 75.8 620.5 78.0 631.5 80.2C642.5 82.4 657.1 85.3 664.5 86.8C671.9 88.3 674.1 88.6 676.0 89.0M532.5 83.5C538.0 83.5 554.5 83.0 565.5 83.5C576.5 84.0 587.5 85.4 598.5 86.8C609.5 88.2 620.5 90.0 631.5 91.7C642.5 93.4 657.1 95.7 664.5 96.7C671.9 97.8 674.1 97.8 676.0 98.0M525.0 91.0C529.4 91.3 542.7 92.5 551.4 93.0C560.1 93.5 566.5 93.7 577.1 94.0C587.7 94.3 602.9 95.0 615.0 95.0C627.1 95.0 644.2 94.2 650.0 94.0M584.8 98.9C589.9 98.9 604.0 99.3 615.6 98.9C627.2 98.5 647.8 96.7 654.2 96.3M500.0 115.6C504.3 113.9 517.1 107.7 525.7 105.3C534.3 102.9 542.8 102.3 551.4 101.4C560.0 100.5 572.8 100.3 577.1 100.1M584.8 102.7 L610.0 102.7M536.0 141.2C540.7 141.0 553.1 140.6 564.2 140.0C575.3 139.4 592.1 138.9 602.8 137.4C613.5 135.9 620.8 133.2 628.5 131.0C636.2 128.8 643.0 126.2 649.0 124.5C655.0 122.8 659.9 121.8 664.4 120.7C668.9 119.6 674.1 118.5 676.0 118.0M538.5 146.4C544.9 146.2 565.5 145.8 577.1 145.1C588.7 144.4 598.5 144.0 607.9 142.5C617.3 141.0 625.9 138.2 633.6 136.1C641.3 134.0 648.2 131.4 654.2 129.7C660.2 128.0 666.0 126.7 669.6 125.8C673.2 124.9 674.9 124.7 676.0 124.5M543.7 151.5C549.3 151.3 565.1 150.8 577.1 150.2C589.1 149.6 605.3 149.2 615.6 147.7C625.9 146.2 631.4 143.3 638.7 141.2C646.0 139.0 653.7 136.5 659.3 134.8C664.9 133.1 669.3 131.8 672.1 131.0C674.9 130.2 675.4 130.2 676.0 130.0M559.1 156.7C564.2 156.5 579.2 156.1 589.9 155.4C600.6 154.8 613.9 154.3 623.3 152.8C632.7 151.3 639.6 148.5 646.5 146.4C653.4 144.3 659.5 141.6 664.4 140.0C669.3 138.4 674.1 137.5 676.0 137.0M564.2 161.8C570.6 161.6 592.1 161.1 602.8 160.5C613.5 159.9 619.9 159.5 628.5 158.0C637.1 156.5 646.3 153.7 654.2 151.5C662.1 149.3 672.4 146.1 676.0 145.0M40.0 158.7 L86.7 161.0M42.0 238.3C43.8 238.1 49.5 236.5 52.8 236.8C56.1 237.1 58.6 239.2 62.0 240.0C65.4 240.8 71.2 241.2 73.0 241.4M93.0 201.0 L96.0 209.0M101.6 212.0 L104.0 219.0M131.8 236.8C134.5 237.3 144.3 239.3 148.0 240.0C151.7 240.7 153.2 240.6 154.2 240.7M179.0 244.5C181.6 243.5 190.6 239.6 194.4 238.3C198.2 237.0 193.2 237.2 202.0 236.8C210.8 236.4 239.5 236.1 247.0 236.0M359.0 154.4 L376.0 158.3M543.0 174.4C548.4 175.2 569.0 177.8 575.6 179.0C582.2 180.2 578.4 180.7 582.4 181.5C586.4 182.3 593.5 183.1 599.4 183.8C605.3 184.6 610.0 185.2 617.7 186.0C625.4 186.8 641.0 188.0 645.7 188.4" fill="none" stroke="#000" stroke-width="1.2" stroke-dasharray="15 6"/><g font-family="Liberation Sans, sans-serif" font-size="13.5" fill="#000"><text x="54.6" y="114.7" text-anchor="middle">4</text><text x="110" y="113.9" text-anchor="middle">0</text><text x="137.8" y="111.8" text-anchor="middle">-4</text><text x="165.7" y="121.0" text-anchor="middle">-8</text><text x="251" y="52.0" text-anchor="middle">-4</text><text x="291" y="78.1" text-anchor="middle">-4</text><text x="396.7" y="64.2" text-anchor="middle">-8</text><text x="624.9" y="105.8" text-anchor="middle">-4</text><text x="577" y="184.9" text-anchor="middle">8</text></g><path d="M171.6 124.7 L174.2 124.7 L176.2 127.3 L180.3 130.3 L185.4 130.3 L191.6 127.8 L198.7 125.2 L207.9 124.4 L216.1 124.7 L222.2 126.8 L225.3 131.3 L226.3 135.4 L225.3 139.5 L222.2 143.6 L219.2 145.7 L217.1 147.7 L215.1 146.7 L212.0 144.6 L207.9 143.6 L203.8 144.6 L198.7 144.6 L192.6 143.6 L185.4 141.6 L181.3 139.5 L180.3 135.4 L177.3 131.3 L173.2 128.3 L171.6 126.2 L171.6 124.7" fill="none" stroke="#A52AF0" stroke-width="2.4" stroke-linejoin="round"/>
</g>
<g clip-path="url(#clip1)" shape-rendering="crispEdges">
<path fill="#2400D8" d="M574.7 374.8h2.5v2.5h-2.5zM572.5 377.0h6.9v2.5h-6.9zM572.5 379.2h6.9v2.5h-6.9zM574.7 381.4h2.5v2.5h-2.5z"/>
<path fill="#181CF7" d="M574.7 368.2h9.1v2.5h-9.1zM572.5 370.4h13.5v2.5h-13.5zM570.3 372.6h15.7v2.5h-15.7zM570.3 374.8h4.7v2.5h-4.7zM576.9 374.8h9.1v2.5h-9.1zM568.1 377.0h4.7v2.5h-4.7zM579.1 377.0h9.1v2.5h-9.1zM568.1 379.2h4.7v2.5h-4.7zM579.1 379.2h9.1v2.5h-9.1zM565.9 381.4h9.1v2.5h-9.1zM576.9 381.4h9.1v2.5h-9.1zM565.9 383.6h20.1v2.5h-20.1zM563.7 385.8h22.3v2.5h-22.3zM565.9 388.0h20.1v2.5h-20.1zM572.5 390.2h4.7v2.5h-4.7z"/>
<path fill="#2857FF" d="M570.3 366.0h15.7v2.5h-15.7zM568.1 368.2h6.9v2.5h-6.9zM583.5 368.2h4.7v2.5h-4.7zM568.1 370.4h4.7v2.5h-4.7zM585.7 370.4h4.7v2.5h-4.7zM565.9 372.6h4.7v2.5h-4.7zM585.7 372.6h6.9v2.5h-6.9zM565.9 374.8h4.7v2.5h-4.7zM585.7 374.8h6.9v2.5h-6.9zM563.7 377.0h4.7v2.5h-4.7zM587.9 377.0h6.9v2.5h-6.9zM563.7 379.2h4.7v2.5h-4.7zM587.9 379.2h6.9v2.5h-6.9zM561.5 381.4h4.7v2.5h-4.7zM585.7 381.4h6.9v2.5h-6.9zM561.5 383.6h4.7v2.5h-4.7zM585.7 383.6h6.9v2.5h-6.9zM559.3 385.8h4.7v2.5h-4.7zM585.7 385.8h4.7v2.5h-4.7zM561.5 388.0h4.7v2.5h-4.7zM585.7 388.0h4.7v2.5h-4.7zM563.7 390.2h9.1v2.5h-9.1zM576.9 390.2h11.3v2.5h-11.3zM565.9 392.4h20.1v2.5h-20.1zM568.1 394.6h13.5v2.5h-13.5zM502.1 436.4h13.5v2.5h-13.5zM499.9 438.6h17.9v2.5h-17.9zM493.3 445.2h2.5v2.5h-2.5zM491.1 447.4h4.7v2.5h-4.7zM493.3 449.6h2.5v2.5h-2.5z"/>
<path fill="#3D87FF" d="M561.5 361.6h11.3v2.5h-11.3zM561.5 363.8h26.7v2.5h-26.7zM561.5 366.0h9.1v2.5h-9.1zM585.7 366.0h4.7v2.5h-4.7zM561.5 368.2h6.9v2.5h-6.9zM587.9 368.2h6.9v2.5h-6.9zM561.5 370.4h6.9v2.5h-6.9zM590.1 370.4h4.7v2.5h-4.7zM559.3 372.6h6.9v2.5h-6.9zM592.3 372.6h4.7v2.5h-4.7zM559.3 374.8h6.9v2.5h-6.9zM592.3 374.8h4.7v2.5h-4.7zM559.3 377.0h4.7v2.5h-4.7zM594.5 377.0h4.7v2.5h-4.7zM559.3 379.2h4.7v2.5h-4.7zM594.5 379.2h4.7v2.5h-4.7zM557.1 381.4h4.7v2.5h-4.7zM592.3 381.4h4.7v2.5h-4.7zM557.1 383.6h4.7v2.5h-4.7zM592.3 383.6h4.7v2.5h-4.7zM361.3 385.8h2.5v2.5h-2.5zM557.1 385.8h2.5v2.5h-2.5zM590.1 385.8h4.7v2.5h-4.7zM559.3 388.0h2.5v2.5h-2.5zM590.1 388.0h4.7v2.5h-4.7zM587.9 390.2h4.7v2.5h-4.7zM563.7 392.4h2.5v2.5h-2.5zM585.7 392.4h6.9v2.5h-6.9zM565.9 394.6h2.5v2.5h-2.5zM581.3 394.6h9.1v2.5h-9.1zM572.5 396.8h11.3v2.5h-11.3zM273.3 410.0h2.5v2.5h-2.5zM271.1 412.2h4.7v2.5h-4.7zM273.3 414.4h2.5v2.5h-2.5zM499.9 432.0h17.9v2.5h-17.9zM497.7 434.2h22.3v2.5h-22.3zM202.9 436.4h13.5v2.5h-13.5zM486.7 436.4h15.7v2.5h-15.7zM515.3 436.4h9.1v2.5h-9.1zM200.7 438.6h17.9v2.5h-17.9zM486.7 438.6h13.5v2.5h-13.5zM517.5 438.6h9.1v2.5h-9.1zM200.7 440.8h15.7v2.5h-15.7zM484.5 440.8h39.9v2.5h-39.9zM202.9 443.0h11.3v2.5h-11.3zM486.7 443.0h15.7v2.5h-15.7zM486.7 445.2h6.9v2.5h-6.9zM495.5 445.2h4.7v2.5h-4.7zM486.7 447.4h4.7v2.5h-4.7zM495.5 447.4h2.5v2.5h-2.5zM132.5 449.6h13.5v2.5h-13.5zM486.7 449.6h6.9v2.5h-6.9zM495.5 449.6h2.5v2.5h-2.5zM486.7 451.8h11.3v2.5h-11.3zM486.7 454.0h9.1v2.5h-9.1zM486.7 456.2h6.9v2.5h-6.9zM486.7 458.4h2.5v2.5h-2.5zM334.9 473.8h37.7v2.5h-37.7zM334.9 476.0h37.7v2.5h-37.7zM352.5 478.2h13.5v2.5h-13.5zM158.9 544.2h11.3v2.5h-11.3zM156.7 546.4h17.9v2.5h-17.9zM156.7 548.6h17.9v2.5h-17.9z"/>
<path fill="#56B0FF" d="M561.5 359.4h9.1v2.5h-9.1zM546.1 361.6h15.7v2.5h-15.7zM572.5 361.6h17.9v2.5h-17.9zM548.3 363.8h13.5v2.5h-13.5zM587.9 363.8h6.9v2.5h-6.9zM550.5 366.0h11.3v2.5h-11.3zM590.1 366.0h6.9v2.5h-6.9zM552.7 368.2h9.1v2.5h-9.1zM594.5 368.2h4.7v2.5h-4.7zM317.3 370.4h13.5v2.5h-13.5zM552.7 370.4h9.1v2.5h-9.1zM594.5 370.4h4.7v2.5h-4.7zM326.1 372.6h2.5v2.5h-2.5zM554.9 372.6h4.7v2.5h-4.7zM596.7 372.6h4.7v2.5h-4.7zM554.9 374.8h4.7v2.5h-4.7zM596.7 374.8h6.9v2.5h-6.9zM554.9 377.0h4.7v2.5h-4.7zM598.9 377.0h6.9v2.5h-6.9zM554.9 379.2h4.7v2.5h-4.7zM598.9 379.2h6.9v2.5h-6.9zM361.3 381.4h2.5v2.5h-2.5zM554.9 381.4h2.5v2.5h-2.5zM596.7 381.4h6.9v2.5h-6.9zM359.1 383.6h4.7v2.5h-4.7zM554.9 383.6h2.5v2.5h-2.5zM596.7 383.6h4.7v2.5h-4.7zM356.9 385.8h4.7v2.5h-4.7zM363.5 385.8h2.5v2.5h-2.5zM554.9 385.8h2.5v2.5h-2.5zM594.5 385.8h4.7v2.5h-4.7zM359.1 388.0h6.9v2.5h-6.9zM557.1 388.0h2.5v2.5h-2.5zM594.5 388.0h4.7v2.5h-4.7zM361.3 390.2h2.5v2.5h-2.5zM561.5 390.2h2.5v2.5h-2.5zM592.3 390.2h6.9v2.5h-6.9zM592.3 392.4h6.9v2.5h-6.9zM563.7 394.6h2.5v2.5h-2.5zM590.1 394.6h6.9v2.5h-6.9zM565.9 396.8h6.9v2.5h-6.9zM583.5 396.8h11.3v2.5h-11.3zM264.5 401.2h4.7v2.5h-4.7zM262.3 403.4h13.5v2.5h-13.5zM262.3 405.6h15.7v2.5h-15.7zM260.1 407.8h17.9v2.5h-17.9zM257.9 410.0h15.7v2.5h-15.7zM275.5 410.0h2.5v2.5h-2.5zM255.7 412.2h15.7v2.5h-15.7zM275.5 412.2h2.5v2.5h-2.5zM255.7 414.4h17.9v2.5h-17.9zM275.5 414.4h2.5v2.5h-2.5zM255.7 416.6h22.3v2.5h-22.3zM194.1 418.8h4.7v2.5h-4.7zM220.5 418.8h22.3v2.5h-22.3zM255.7 418.8h9.1v2.5h-9.1zM268.9 418.8h6.9v2.5h-6.9zM191.9 421.0h9.1v2.5h-9.1zM218.3 421.0h26.7v2.5h-26.7zM253.5 421.0h9.1v2.5h-9.1zM191.9 423.2h9.1v2.5h-9.1zM218.3 423.2h26.7v2.5h-26.7zM189.7 425.4h13.5v2.5h-13.5zM216.1 425.4h26.7v2.5h-26.7zM185.3 427.6h53.1v2.5h-53.1zM183.1 429.8h53.1v2.5h-53.1zM499.9 429.8h17.9v2.5h-17.9zM183.1 432.0h53.1v2.5h-53.1zM486.7 432.0h13.5v2.5h-13.5zM517.5 432.0h15.7v2.5h-15.7zM180.9 434.2h53.1v2.5h-53.1zM484.5 434.2h13.5v2.5h-13.5zM519.7 434.2h13.5v2.5h-13.5zM176.5 436.4h26.7v2.5h-26.7zM216.1 436.4h13.5v2.5h-13.5zM484.5 436.4h2.5v2.5h-2.5zM524.1 436.4h9.1v2.5h-9.1zM174.3 438.6h26.7v2.5h-26.7zM218.3 438.6h9.1v2.5h-9.1zM482.3 438.6h4.7v2.5h-4.7zM526.3 438.6h9.1v2.5h-9.1zM174.3 440.8h26.7v2.5h-26.7zM216.1 440.8h11.3v2.5h-11.3zM482.3 440.8h2.5v2.5h-2.5zM524.1 440.8h9.1v2.5h-9.1zM172.1 443.0h31.1v2.5h-31.1zM213.9 443.0h11.3v2.5h-11.3zM484.5 443.0h2.5v2.5h-2.5zM502.1 443.0h24.5v2.5h-24.5zM134.7 445.2h88.3v2.5h-88.3zM363.5 445.2h2.5v2.5h-2.5zM484.5 445.2h2.5v2.5h-2.5zM499.9 445.2h2.5v2.5h-2.5zM123.7 447.4h97.1v2.5h-97.1zM363.5 447.4h11.3v2.5h-11.3zM484.5 447.4h2.5v2.5h-2.5zM497.7 447.4h2.5v2.5h-2.5zM123.7 449.6h9.1v2.5h-9.1zM145.7 449.6h72.9v2.5h-72.9zM363.5 449.6h13.5v2.5h-13.5zM484.5 449.6h2.5v2.5h-2.5zM497.7 449.6h2.5v2.5h-2.5zM130.3 451.8h42.1v2.5h-42.1zM202.9 451.8h13.5v2.5h-13.5zM363.5 451.8h15.7v2.5h-15.7zM484.5 451.8h2.5v2.5h-2.5zM497.7 451.8h2.5v2.5h-2.5zM97.3 454.0h13.5v2.5h-13.5zM139.1 454.0h11.3v2.5h-11.3zM361.3 454.0h22.3v2.5h-22.3zM484.5 454.0h2.5v2.5h-2.5zM495.5 454.0h4.7v2.5h-4.7zM95.1 456.2h17.9v2.5h-17.9zM361.3 456.2h24.5v2.5h-24.5zM484.5 456.2h2.5v2.5h-2.5zM493.3 456.2h4.7v2.5h-4.7zM95.1 458.4h17.9v2.5h-17.9zM359.1 458.4h24.5v2.5h-24.5zM484.5 458.4h2.5v2.5h-2.5zM488.9 458.4h9.1v2.5h-9.1zM97.3 460.6h13.5v2.5h-13.5zM361.3 460.6h4.7v2.5h-4.7zM486.7 460.6h9.1v2.5h-9.1zM97.3 462.8h13.5v2.5h-13.5zM97.3 465.0h13.5v2.5h-13.5zM405.3 465.0h13.5v2.5h-13.5zM288.7 467.2h46.5v2.5h-46.5zM403.1 467.2h15.7v2.5h-15.7zM286.5 469.4h81.7v2.5h-81.7zM405.3 469.4h11.3v2.5h-11.3zM284.3 471.6h90.5v2.5h-90.5zM282.1 473.8h53.1v2.5h-53.1zM372.3 473.8h6.9v2.5h-6.9zM282.1 476.0h53.1v2.5h-53.1zM372.3 476.0h4.7v2.5h-4.7zM284.3 478.2h68.5v2.5h-68.5zM365.7 478.2h9.1v2.5h-9.1zM295.3 480.4h31.1v2.5h-31.1zM330.5 480.4h42.1v2.5h-42.1zM297.5 482.6h26.7v2.5h-26.7zM348.1 482.6h22.3v2.5h-22.3zM299.7 484.8h22.3v2.5h-22.3zM352.5 484.8h6.9v2.5h-6.9zM308.5 487.0h4.7v2.5h-4.7zM154.5 539.8h11.3v2.5h-11.3zM132.5 542.0h42.1v2.5h-42.1zM343.7 542.0h22.3v2.5h-22.3zM123.7 544.2h35.5v2.5h-35.5zM169.9 544.2h11.3v2.5h-11.3zM334.9 544.2h33.3v2.5h-33.3zM121.5 546.4h35.5v2.5h-35.5zM174.3 546.4h9.1v2.5h-9.1zM332.7 546.4h35.5v2.5h-35.5zM121.5 548.6h35.5v2.5h-35.5zM174.3 548.6h9.1v2.5h-9.1zM332.7 548.6h35.5v2.5h-35.5z"/>
<path fill="#75D3FF" d="M546.1 359.4h15.7v2.5h-15.7zM570.3 359.4h22.3v2.5h-22.3zM541.7 361.6h4.7v2.5h-4.7zM590.1 361.6h9.1v2.5h-9.1zM541.7 363.8h6.9v2.5h-6.9zM594.5 363.8h6.9v2.5h-6.9zM541.7 366.0h9.1v2.5h-9.1zM596.7 366.0h4.7v2.5h-4.7zM317.3 368.2h13.5v2.5h-13.5zM543.9 368.2h9.1v2.5h-9.1zM598.9 368.2h4.7v2.5h-4.7zM312.9 370.4h4.7v2.5h-4.7zM330.5 370.4h2.5v2.5h-2.5zM546.1 370.4h6.9v2.5h-6.9zM598.9 370.4h6.9v2.5h-6.9zM315.1 372.6h11.3v2.5h-11.3zM328.3 372.6h4.7v2.5h-4.7zM548.3 372.6h6.9v2.5h-6.9zM601.1 372.6h6.9v2.5h-6.9zM317.3 374.8h17.9v2.5h-17.9zM548.3 374.8h6.9v2.5h-6.9zM603.3 374.8h9.1v2.5h-9.1zM321.7 377.0h17.9v2.5h-17.9zM361.3 377.0h2.5v2.5h-2.5zM550.5 377.0h4.7v2.5h-4.7zM605.5 377.0h9.1v2.5h-9.1zM326.1 379.2h15.7v2.5h-15.7zM356.9 379.2h6.9v2.5h-6.9zM552.7 379.2h2.5v2.5h-2.5zM605.5 379.2h9.1v2.5h-9.1zM328.3 381.4h15.7v2.5h-15.7zM354.7 381.4h6.9v2.5h-6.9zM363.5 381.4h2.5v2.5h-2.5zM603.3 381.4h11.3v2.5h-11.3zM328.3 383.6h31.1v2.5h-31.1zM363.5 383.6h2.5v2.5h-2.5zM601.1 383.6h13.5v2.5h-13.5zM328.3 385.8h28.9v2.5h-28.9zM598.9 385.8h15.7v2.5h-15.7zM334.9 388.0h24.5v2.5h-24.5zM554.9 388.0h2.5v2.5h-2.5zM598.9 388.0h15.7v2.5h-15.7zM356.9 390.2h4.7v2.5h-4.7zM363.5 390.2h2.5v2.5h-2.5zM559.3 390.2h2.5v2.5h-2.5zM598.9 390.2h13.5v2.5h-13.5zM359.1 392.4h6.9v2.5h-6.9zM561.5 392.4h2.5v2.5h-2.5zM598.9 392.4h9.1v2.5h-9.1zM596.7 394.6h9.1v2.5h-9.1zM262.3 396.8h11.3v2.5h-11.3zM367.9 396.8h13.5v2.5h-13.5zM563.7 396.8h2.5v2.5h-2.5zM594.5 396.8h9.1v2.5h-9.1zM260.1 399.0h15.7v2.5h-15.7zM367.9 399.0h13.5v2.5h-13.5zM579.1 399.0h22.3v2.5h-22.3zM257.9 401.2h6.9v2.5h-6.9zM268.9 401.2h9.1v2.5h-9.1zM361.3 401.2h6.9v2.5h-6.9zM583.5 401.2h15.7v2.5h-15.7zM255.7 403.4h6.9v2.5h-6.9zM275.5 403.4h2.5v2.5h-2.5zM343.7 403.4h24.5v2.5h-24.5zM253.5 405.6h9.1v2.5h-9.1zM277.7 405.6h2.5v2.5h-2.5zM343.7 405.6h24.5v2.5h-24.5zM251.3 407.8h9.1v2.5h-9.1zM277.7 407.8h2.5v2.5h-2.5zM352.5 407.8h13.5v2.5h-13.5zM238.1 410.0h4.7v2.5h-4.7zM251.3 410.0h6.9v2.5h-6.9zM277.7 410.0h2.5v2.5h-2.5zM224.9 412.2h20.1v2.5h-20.1zM251.3 412.2h4.7v2.5h-4.7zM277.7 412.2h2.5v2.5h-2.5zM191.9 414.4h53.1v2.5h-53.1zM251.3 414.4h4.7v2.5h-4.7zM277.7 414.4h2.5v2.5h-2.5zM189.7 416.6h57.5v2.5h-57.5zM249.1 416.6h6.9v2.5h-6.9zM277.7 416.6h2.5v2.5h-2.5zM187.5 418.8h6.9v2.5h-6.9zM198.5 418.8h22.3v2.5h-22.3zM242.5 418.8h13.5v2.5h-13.5zM264.5 418.8h4.7v2.5h-4.7zM275.5 418.8h2.5v2.5h-2.5zM185.3 421.0h6.9v2.5h-6.9zM200.7 421.0h17.9v2.5h-17.9zM244.7 421.0h9.1v2.5h-9.1zM262.3 421.0h15.7v2.5h-15.7zM183.1 423.2h9.1v2.5h-9.1zM200.7 423.2h17.9v2.5h-17.9zM244.7 423.2h31.1v2.5h-31.1zM180.9 425.4h9.1v2.5h-9.1zM202.9 425.4h13.5v2.5h-13.5zM242.5 425.4h6.9v2.5h-6.9zM99.5 427.6h2.5v2.5h-2.5zM178.7 427.6h6.9v2.5h-6.9zM238.1 427.6h9.1v2.5h-9.1zM370.1 427.6h11.3v2.5h-11.3zM97.3 429.8h6.9v2.5h-6.9zM176.5 429.8h6.9v2.5h-6.9zM235.9 429.8h9.1v2.5h-9.1zM367.9 429.8h15.7v2.5h-15.7zM486.7 429.8h13.5v2.5h-13.5zM517.5 429.8h15.7v2.5h-15.7zM95.1 432.0h9.1v2.5h-9.1zM174.3 432.0h9.1v2.5h-9.1zM235.9 432.0h9.1v2.5h-9.1zM367.9 432.0h17.9v2.5h-17.9zM484.5 432.0h2.5v2.5h-2.5zM532.9 432.0h4.7v2.5h-4.7zM92.9 434.2h11.3v2.5h-11.3zM172.1 434.2h9.1v2.5h-9.1zM233.7 434.2h11.3v2.5h-11.3zM367.9 434.2h15.7v2.5h-15.7zM532.9 434.2h6.9v2.5h-6.9zM90.7 436.4h13.5v2.5h-13.5zM167.7 436.4h9.1v2.5h-9.1zM229.3 436.4h15.7v2.5h-15.7zM363.5 436.4h4.7v2.5h-4.7zM482.3 436.4h2.5v2.5h-2.5zM532.9 436.4h6.9v2.5h-6.9zM88.5 438.6h15.7v2.5h-15.7zM152.3 438.6h22.3v2.5h-22.3zM227.1 438.6h17.9v2.5h-17.9zM363.5 438.6h4.7v2.5h-4.7zM480.1 438.6h2.5v2.5h-2.5zM535.1 438.6h4.7v2.5h-4.7zM88.5 440.8h15.7v2.5h-15.7zM147.9 440.8h26.7v2.5h-26.7zM227.1 440.8h17.9v2.5h-17.9zM363.5 440.8h6.9v2.5h-6.9zM480.1 440.8h2.5v2.5h-2.5zM532.9 440.8h6.9v2.5h-6.9zM88.5 443.0h17.9v2.5h-17.9zM119.3 443.0h15.7v2.5h-15.7zM143.5 443.0h28.9v2.5h-28.9zM224.9 443.0h22.3v2.5h-22.3zM361.3 443.0h17.9v2.5h-17.9zM482.3 443.0h2.5v2.5h-2.5zM526.3 443.0h11.3v2.5h-11.3zM88.5 445.2h46.5v2.5h-46.5zM222.7 445.2h26.7v2.5h-26.7zM361.3 445.2h2.5v2.5h-2.5zM365.7 445.2h17.9v2.5h-17.9zM502.1 445.2h6.9v2.5h-6.9zM515.3 445.2h17.9v2.5h-17.9zM86.3 447.4h37.7v2.5h-37.7zM220.5 447.4h31.1v2.5h-31.1zM361.3 447.4h2.5v2.5h-2.5zM374.5 447.4h11.3v2.5h-11.3zM405.3 447.4h11.3v2.5h-11.3zM499.9 447.4h2.5v2.5h-2.5zM86.3 449.6h37.7v2.5h-37.7zM218.3 449.6h28.9v2.5h-28.9zM361.3 449.6h2.5v2.5h-2.5zM376.7 449.6h9.1v2.5h-9.1zM403.1 449.6h15.7v2.5h-15.7zM499.9 449.6h2.5v2.5h-2.5zM84.1 451.8h46.5v2.5h-46.5zM172.1 451.8h31.1v2.5h-31.1zM216.1 451.8h9.1v2.5h-9.1zM361.3 451.8h2.5v2.5h-2.5zM378.9 451.8h9.1v2.5h-9.1zM403.1 451.8h13.5v2.5h-13.5zM499.9 451.8h2.5v2.5h-2.5zM55.5 454.0h2.5v2.5h-2.5zM70.9 454.0h26.7v2.5h-26.7zM110.5 454.0h28.9v2.5h-28.9zM150.1 454.0h70.7v2.5h-70.7zM359.1 454.0h2.5v2.5h-2.5zM383.3 454.0h20.1v2.5h-20.1zM499.9 454.0h2.5v2.5h-2.5zM581.3 454.0h13.5v2.5h-13.5zM53.3 456.2h6.9v2.5h-6.9zM68.7 456.2h26.7v2.5h-26.7zM112.7 456.2h11.3v2.5h-11.3zM136.9 456.2h39.9v2.5h-39.9zM198.5 456.2h20.1v2.5h-20.1zM354.7 456.2h6.9v2.5h-6.9zM385.5 456.2h17.9v2.5h-17.9zM497.7 456.2h4.7v2.5h-4.7zM579.1 456.2h24.5v2.5h-24.5zM53.3 458.4h4.7v2.5h-4.7zM68.7 458.4h26.7v2.5h-26.7zM112.7 458.4h6.9v2.5h-6.9zM141.3 458.4h33.3v2.5h-33.3zM200.7 458.4h15.7v2.5h-15.7zM341.5 458.4h17.9v2.5h-17.9zM383.3 458.4h22.3v2.5h-22.3zM497.7 458.4h4.7v2.5h-4.7zM579.1 458.4h26.7v2.5h-26.7zM68.7 460.6h28.9v2.5h-28.9zM110.5 460.6h4.7v2.5h-4.7zM150.1 460.6h4.7v2.5h-4.7zM167.7 460.6h4.7v2.5h-4.7zM202.9 460.6h4.7v2.5h-4.7zM339.3 460.6h22.3v2.5h-22.3zM365.7 460.6h53.1v2.5h-53.1zM484.5 460.6h2.5v2.5h-2.5zM495.5 460.6h6.9v2.5h-6.9zM579.1 460.6h28.9v2.5h-28.9zM68.7 462.8h20.1v2.5h-20.1zM90.7 462.8h6.9v2.5h-6.9zM110.5 462.8h4.7v2.5h-4.7zM334.9 462.8h86.1v2.5h-86.1zM484.5 462.8h17.9v2.5h-17.9zM579.1 462.8h33.3v2.5h-33.3zM68.7 465.0h17.9v2.5h-17.9zM92.9 465.0h4.7v2.5h-4.7zM110.5 465.0h2.5v2.5h-2.5zM286.5 465.0h83.9v2.5h-83.9zM383.3 465.0h22.3v2.5h-22.3zM418.5 465.0h4.7v2.5h-4.7zM488.9 465.0h11.3v2.5h-11.3zM579.1 465.0h35.5v2.5h-35.5zM70.9 467.2h13.5v2.5h-13.5zM95.1 467.2h15.7v2.5h-15.7zM279.9 467.2h9.1v2.5h-9.1zM334.9 467.2h35.5v2.5h-35.5zM385.5 467.2h17.9v2.5h-17.9zM418.5 467.2h4.7v2.5h-4.7zM581.3 467.2h33.3v2.5h-33.3zM277.7 469.4h9.1v2.5h-9.1zM367.9 469.4h11.3v2.5h-11.3zM383.3 469.4h22.3v2.5h-22.3zM416.3 469.4h6.9v2.5h-6.9zM583.5 469.4h28.9v2.5h-28.9zM277.7 471.6h6.9v2.5h-6.9zM374.5 471.6h48.7v2.5h-48.7zM277.7 473.8h4.7v2.5h-4.7zM378.9 473.8h42.1v2.5h-42.1zM277.7 476.0h4.7v2.5h-4.7zM376.7 476.0h4.7v2.5h-4.7zM277.7 478.2h6.9v2.5h-6.9zM374.5 478.2h2.5v2.5h-2.5zM277.7 480.4h17.9v2.5h-17.9zM326.1 480.4h4.7v2.5h-4.7zM372.3 480.4h2.5v2.5h-2.5zM279.9 482.6h17.9v2.5h-17.9zM323.9 482.6h24.5v2.5h-24.5zM370.1 482.6h4.7v2.5h-4.7zM282.1 484.8h17.9v2.5h-17.9zM321.7 484.8h31.1v2.5h-31.1zM359.1 484.8h9.1v2.5h-9.1zM290.9 487.0h17.9v2.5h-17.9zM312.9 487.0h13.5v2.5h-13.5zM348.1 487.0h11.3v2.5h-11.3zM295.3 489.2h26.7v2.5h-26.7zM352.5 489.2h2.5v2.5h-2.5zM304.1 491.4h13.5v2.5h-13.5zM308.5 493.6h4.7v2.5h-4.7zM42.3 524.4h4.7v2.5h-4.7zM42.3 526.6h6.9v2.5h-6.9zM42.3 528.8h9.1v2.5h-9.1zM350.3 528.8h9.1v2.5h-9.1zM42.3 531.0h9.1v2.5h-9.1zM348.1 531.0h13.5v2.5h-13.5zM42.3 533.2h9.1v2.5h-9.1zM141.3 533.2h2.5v2.5h-2.5zM343.7 533.2h22.3v2.5h-22.3zM42.3 535.4h9.1v2.5h-9.1zM132.5 535.4h15.7v2.5h-15.7zM326.1 535.4h4.7v2.5h-4.7zM341.5 535.4h33.3v2.5h-33.3zM42.3 537.6h9.1v2.5h-9.1zM128.1 537.6h39.9v2.5h-39.9zM323.9 537.6h11.3v2.5h-11.3zM339.3 537.6h37.7v2.5h-37.7zM42.3 539.8h9.1v2.5h-9.1zM119.3 539.8h35.5v2.5h-35.5zM165.5 539.8h9.1v2.5h-9.1zM321.7 539.8h57.5v2.5h-57.5zM42.3 542.0h9.1v2.5h-9.1zM114.9 542.0h17.9v2.5h-17.9zM174.3 542.0h6.9v2.5h-6.9zM310.7 542.0h33.3v2.5h-33.3zM365.7 542.0h24.5v2.5h-24.5zM42.3 544.2h9.1v2.5h-9.1zM106.1 544.2h17.9v2.5h-17.9zM180.9 544.2h6.9v2.5h-6.9zM310.7 544.2h24.5v2.5h-24.5zM367.9 544.2h24.5v2.5h-24.5zM42.3 546.4h9.1v2.5h-9.1zM103.9 546.4h17.9v2.5h-17.9zM183.1 546.4h9.1v2.5h-9.1zM310.7 546.4h22.3v2.5h-22.3zM367.9 546.4h24.5v2.5h-24.5zM42.3 548.6h9.1v2.5h-9.1zM103.9 548.6h17.9v2.5h-17.9zM183.1 548.6h9.1v2.5h-9.1zM310.7 548.6h22.3v2.5h-22.3zM367.9 548.6h24.5v2.5h-24.5z"/>
<path fill="#99EAFF" d="M563.7 357.2h28.9v2.5h-28.9zM541.7 359.4h4.7v2.5h-4.7zM592.3 359.4h11.3v2.5h-11.3zM530.7 361.6h11.3v2.5h-11.3zM598.9 361.6h9.1v2.5h-9.1zM530.7 363.8h11.3v2.5h-11.3zM601.1 363.8h9.1v2.5h-9.1zM532.9 366.0h9.1v2.5h-9.1zM601.1 366.0h20.1v2.5h-20.1zM312.9 368.2h4.7v2.5h-4.7zM330.5 368.2h2.5v2.5h-2.5zM370.1 368.2h2.5v2.5h-2.5zM535.1 368.2h9.1v2.5h-9.1zM603.3 368.2h20.1v2.5h-20.1zM306.3 370.4h6.9v2.5h-6.9zM332.7 370.4h4.7v2.5h-4.7zM537.3 370.4h9.1v2.5h-9.1zM605.5 370.4h17.9v2.5h-17.9zM306.3 372.6h9.1v2.5h-9.1zM332.7 372.6h11.3v2.5h-11.3zM539.5 372.6h9.1v2.5h-9.1zM607.7 372.6h17.9v2.5h-17.9zM306.3 374.8h11.3v2.5h-11.3zM334.9 374.8h11.3v2.5h-11.3zM361.3 374.8h4.7v2.5h-4.7zM539.5 374.8h9.1v2.5h-9.1zM612.1 374.8h15.7v2.5h-15.7zM306.3 377.0h15.7v2.5h-15.7zM339.3 377.0h11.3v2.5h-11.3zM356.9 377.0h4.7v2.5h-4.7zM363.5 377.0h2.5v2.5h-2.5zM541.7 377.0h9.1v2.5h-9.1zM614.3 377.0h15.7v2.5h-15.7zM306.3 379.2h9.1v2.5h-9.1zM321.7 379.2h4.7v2.5h-4.7zM341.5 379.2h15.7v2.5h-15.7zM363.5 379.2h2.5v2.5h-2.5zM548.3 379.2h4.7v2.5h-4.7zM614.3 379.2h35.5v2.5h-35.5zM304.1 381.4h9.1v2.5h-9.1zM323.9 381.4h4.7v2.5h-4.7zM343.7 381.4h11.3v2.5h-11.3zM552.7 381.4h2.5v2.5h-2.5zM614.3 381.4h37.7v2.5h-37.7zM299.7 383.6h11.3v2.5h-11.3zM326.1 383.6h2.5v2.5h-2.5zM552.7 383.6h2.5v2.5h-2.5zM614.3 383.6h42.1v2.5h-42.1zM297.5 385.8h13.5v2.5h-13.5zM326.1 385.8h2.5v2.5h-2.5zM365.7 385.8h2.5v2.5h-2.5zM552.7 385.8h2.5v2.5h-2.5zM614.3 385.8h44.3v2.5h-44.3zM328.3 388.0h6.9v2.5h-6.9zM365.7 388.0h2.5v2.5h-2.5zM614.3 388.0h44.3v2.5h-44.3zM334.9 390.2h22.3v2.5h-22.3zM365.7 390.2h2.5v2.5h-2.5zM557.1 390.2h2.5v2.5h-2.5zM612.1 390.2h44.3v2.5h-44.3zM341.5 392.4h17.9v2.5h-17.9zM365.7 392.4h4.7v2.5h-4.7zM607.7 392.4h44.3v2.5h-44.3zM257.9 394.6h17.9v2.5h-17.9zM356.9 394.6h24.5v2.5h-24.5zM561.5 394.6h2.5v2.5h-2.5zM605.5 394.6h44.3v2.5h-44.3zM255.7 396.8h6.9v2.5h-6.9zM273.3 396.8h2.5v2.5h-2.5zM356.9 396.8h11.3v2.5h-11.3zM381.1 396.8h2.5v2.5h-2.5zM603.3 396.8h42.1v2.5h-42.1zM253.5 399.0h6.9v2.5h-6.9zM275.5 399.0h2.5v2.5h-2.5zM343.7 399.0h24.5v2.5h-24.5zM381.1 399.0h2.5v2.5h-2.5zM570.3 399.0h9.1v2.5h-9.1zM601.1 399.0h11.3v2.5h-11.3zM251.3 401.2h6.9v2.5h-6.9zM277.7 401.2h2.5v2.5h-2.5zM339.3 401.2h22.3v2.5h-22.3zM367.9 401.2h15.7v2.5h-15.7zM581.3 401.2h2.5v2.5h-2.5zM598.9 401.2h11.3v2.5h-11.3zM662.7 401.2h2.5v2.5h-2.5zM240.3 403.4h15.7v2.5h-15.7zM277.7 403.4h4.7v2.5h-4.7zM337.1 403.4h6.9v2.5h-6.9zM367.9 403.4h17.9v2.5h-17.9zM583.5 403.4h24.5v2.5h-24.5zM662.7 403.4h4.7v2.5h-4.7zM233.7 405.6h20.1v2.5h-20.1zM279.9 405.6h2.5v2.5h-2.5zM337.1 405.6h6.9v2.5h-6.9zM367.9 405.6h17.9v2.5h-17.9zM662.7 405.6h2.5v2.5h-2.5zM229.3 407.8h22.3v2.5h-22.3zM279.9 407.8h2.5v2.5h-2.5zM337.1 407.8h15.7v2.5h-15.7zM365.7 407.8h17.9v2.5h-17.9zM224.9 410.0h13.5v2.5h-13.5zM242.5 410.0h9.1v2.5h-9.1zM279.9 410.0h2.5v2.5h-2.5zM337.1 410.0h42.1v2.5h-42.1zM189.7 412.2h35.5v2.5h-35.5zM244.7 412.2h6.9v2.5h-6.9zM279.9 412.2h2.5v2.5h-2.5zM337.1 412.2h6.9v2.5h-6.9zM348.1 412.2h28.9v2.5h-28.9zM185.3 414.4h6.9v2.5h-6.9zM244.7 414.4h6.9v2.5h-6.9zM279.9 414.4h2.5v2.5h-2.5zM352.5 414.4h24.5v2.5h-24.5zM185.3 416.6h4.7v2.5h-4.7zM246.9 416.6h2.5v2.5h-2.5zM279.9 416.6h2.5v2.5h-2.5zM356.9 416.6h22.3v2.5h-22.3zM183.1 418.8h4.7v2.5h-4.7zM277.7 418.8h2.5v2.5h-2.5zM359.1 418.8h24.5v2.5h-24.5zM178.7 421.0h6.9v2.5h-6.9zM277.7 421.0h2.5v2.5h-2.5zM361.3 421.0h24.5v2.5h-24.5zM97.3 423.2h13.5v2.5h-13.5zM172.1 423.2h11.3v2.5h-11.3zM275.5 423.2h4.7v2.5h-4.7zM361.3 423.2h26.7v2.5h-26.7zM97.3 425.4h13.5v2.5h-13.5zM169.9 425.4h11.3v2.5h-11.3zM249.1 425.4h6.9v2.5h-6.9zM262.3 425.4h15.7v2.5h-15.7zM361.3 425.4h28.9v2.5h-28.9zM95.1 427.6h4.7v2.5h-4.7zM101.7 427.6h9.1v2.5h-9.1zM169.9 427.6h9.1v2.5h-9.1zM246.9 427.6h4.7v2.5h-4.7zM361.3 427.6h9.1v2.5h-9.1zM381.1 427.6h20.1v2.5h-20.1zM502.1 427.6h13.5v2.5h-13.5zM81.9 429.8h15.7v2.5h-15.7zM103.9 429.8h13.5v2.5h-13.5zM167.7 429.8h9.1v2.5h-9.1zM244.7 429.8h4.7v2.5h-4.7zM361.3 429.8h6.9v2.5h-6.9zM383.3 429.8h20.1v2.5h-20.1zM484.5 429.8h2.5v2.5h-2.5zM532.9 429.8h4.7v2.5h-4.7zM79.7 432.0h15.7v2.5h-15.7zM103.9 432.0h17.9v2.5h-17.9zM163.3 432.0h11.3v2.5h-11.3zM244.7 432.0h4.7v2.5h-4.7zM361.3 432.0h6.9v2.5h-6.9zM385.5 432.0h17.9v2.5h-17.9zM537.3 432.0h2.5v2.5h-2.5zM81.9 434.2h11.3v2.5h-11.3zM103.9 434.2h20.1v2.5h-20.1zM156.7 434.2h15.7v2.5h-15.7zM244.7 434.2h4.7v2.5h-4.7zM361.3 434.2h6.9v2.5h-6.9zM383.3 434.2h20.1v2.5h-20.1zM482.3 434.2h2.5v2.5h-2.5zM539.5 434.2h2.5v2.5h-2.5zM81.9 436.4h9.1v2.5h-9.1zM103.9 436.4h24.5v2.5h-24.5zM150.1 436.4h17.9v2.5h-17.9zM244.7 436.4h4.7v2.5h-4.7zM361.3 436.4h2.5v2.5h-2.5zM367.9 436.4h35.5v2.5h-35.5zM480.1 436.4h2.5v2.5h-2.5zM539.5 436.4h2.5v2.5h-2.5zM84.1 438.6h4.7v2.5h-4.7zM103.9 438.6h26.7v2.5h-26.7zM145.7 438.6h6.9v2.5h-6.9zM244.7 438.6h4.7v2.5h-4.7zM361.3 438.6h2.5v2.5h-2.5zM367.9 438.6h35.5v2.5h-35.5zM477.9 438.6h2.5v2.5h-2.5zM539.5 438.6h2.5v2.5h-2.5zM84.1 440.8h4.7v2.5h-4.7zM103.9 440.8h44.3v2.5h-44.3zM244.7 440.8h4.7v2.5h-4.7zM361.3 440.8h2.5v2.5h-2.5zM370.1 440.8h35.5v2.5h-35.5zM477.9 440.8h2.5v2.5h-2.5zM539.5 440.8h2.5v2.5h-2.5zM81.9 443.0h6.9v2.5h-6.9zM106.1 443.0h13.5v2.5h-13.5zM134.7 443.0h9.1v2.5h-9.1zM246.9 443.0h4.7v2.5h-4.7zM378.9 443.0h33.3v2.5h-33.3zM537.3 443.0h4.7v2.5h-4.7zM70.9 445.2h17.9v2.5h-17.9zM249.1 445.2h2.5v2.5h-2.5zM359.1 445.2h2.5v2.5h-2.5zM383.3 445.2h35.5v2.5h-35.5zM482.3 445.2h2.5v2.5h-2.5zM508.7 445.2h6.9v2.5h-6.9zM532.9 445.2h9.1v2.5h-9.1zM53.3 447.4h33.3v2.5h-33.3zM251.3 447.4h2.5v2.5h-2.5zM359.1 447.4h2.5v2.5h-2.5zM385.5 447.4h20.1v2.5h-20.1zM416.3 447.4h6.9v2.5h-6.9zM440.5 447.4h11.3v2.5h-11.3zM482.3 447.4h2.5v2.5h-2.5zM502.1 447.4h4.7v2.5h-4.7zM517.5 447.4h20.1v2.5h-20.1zM48.9 449.6h37.7v2.5h-37.7zM246.9 449.6h6.9v2.5h-6.9zM359.1 449.6h2.5v2.5h-2.5zM385.5 449.6h17.9v2.5h-17.9zM418.5 449.6h4.7v2.5h-4.7zM438.3 449.6h15.7v2.5h-15.7zM502.1 449.6h2.5v2.5h-2.5zM519.7 449.6h15.7v2.5h-15.7zM543.9 449.6h17.9v2.5h-17.9zM570.3 449.6h28.9v2.5h-28.9zM46.7 451.8h37.7v2.5h-37.7zM224.9 451.8h22.3v2.5h-22.3zM359.1 451.8h2.5v2.5h-2.5zM387.7 451.8h15.7v2.5h-15.7zM416.3 451.8h9.1v2.5h-9.1zM436.1 451.8h17.9v2.5h-17.9zM482.3 451.8h2.5v2.5h-2.5zM502.1 451.8h2.5v2.5h-2.5zM519.7 451.8h15.7v2.5h-15.7zM543.9 451.8h15.7v2.5h-15.7zM570.3 451.8h37.7v2.5h-37.7zM42.3 454.0h13.5v2.5h-13.5zM57.7 454.0h13.5v2.5h-13.5zM220.5 454.0h22.3v2.5h-22.3zM356.9 454.0h2.5v2.5h-2.5zM403.1 454.0h50.9v2.5h-50.9zM482.3 454.0h2.5v2.5h-2.5zM502.1 454.0h4.7v2.5h-4.7zM524.1 454.0h11.3v2.5h-11.3zM543.9 454.0h11.3v2.5h-11.3zM570.3 454.0h11.3v2.5h-11.3zM594.5 454.0h24.5v2.5h-24.5zM42.3 456.2h11.3v2.5h-11.3zM59.9 456.2h9.1v2.5h-9.1zM123.7 456.2h13.5v2.5h-13.5zM176.5 456.2h22.3v2.5h-22.3zM218.3 456.2h11.3v2.5h-11.3zM339.3 456.2h15.7v2.5h-15.7zM403.1 456.2h53.1v2.5h-53.1zM482.3 456.2h2.5v2.5h-2.5zM502.1 456.2h15.7v2.5h-15.7zM526.3 456.2h9.1v2.5h-9.1zM543.9 456.2h9.1v2.5h-9.1zM570.3 456.2h9.1v2.5h-9.1zM603.3 456.2h17.9v2.5h-17.9zM42.3 458.4h11.3v2.5h-11.3zM57.7 458.4h11.3v2.5h-11.3zM119.3 458.4h22.3v2.5h-22.3zM174.3 458.4h26.7v2.5h-26.7zM216.1 458.4h9.1v2.5h-9.1zM334.9 458.4h6.9v2.5h-6.9zM405.3 458.4h50.9v2.5h-50.9zM482.3 458.4h2.5v2.5h-2.5zM502.1 458.4h15.7v2.5h-15.7zM526.3 458.4h9.1v2.5h-9.1zM543.9 458.4h9.1v2.5h-9.1zM570.3 458.4h9.1v2.5h-9.1zM605.5 458.4h15.7v2.5h-15.7zM42.3 460.6h26.7v2.5h-26.7zM114.9 460.6h6.9v2.5h-6.9zM132.5 460.6h17.9v2.5h-17.9zM154.5 460.6h13.5v2.5h-13.5zM172.1 460.6h31.1v2.5h-31.1zM207.3 460.6h13.5v2.5h-13.5zM332.7 460.6h6.9v2.5h-6.9zM418.5 460.6h39.9v2.5h-39.9zM482.3 460.6h2.5v2.5h-2.5zM502.1 460.6h15.7v2.5h-15.7zM526.3 460.6h6.9v2.5h-6.9zM546.1 460.6h6.9v2.5h-6.9zM570.3 460.6h9.1v2.5h-9.1zM607.7 460.6h13.5v2.5h-13.5zM42.3 462.8h26.7v2.5h-26.7zM88.5 462.8h2.5v2.5h-2.5zM114.9 462.8h2.5v2.5h-2.5zM132.5 462.8h53.1v2.5h-53.1zM189.7 462.8h26.7v2.5h-26.7zM312.9 462.8h22.3v2.5h-22.3zM420.7 462.8h39.9v2.5h-39.9zM482.3 462.8h2.5v2.5h-2.5zM502.1 462.8h9.1v2.5h-9.1zM517.5 462.8h9.1v2.5h-9.1zM546.1 462.8h6.9v2.5h-6.9zM570.3 462.8h9.1v2.5h-9.1zM612.1 462.8h9.1v2.5h-9.1zM42.3 465.0h11.3v2.5h-11.3zM57.7 465.0h11.3v2.5h-11.3zM86.3 465.0h6.9v2.5h-6.9zM112.7 465.0h4.7v2.5h-4.7zM132.5 465.0h9.1v2.5h-9.1zM145.7 465.0h13.5v2.5h-13.5zM163.3 465.0h20.1v2.5h-20.1zM191.9 465.0h20.1v2.5h-20.1zM277.7 465.0h9.1v2.5h-9.1zM370.1 465.0h13.5v2.5h-13.5zM422.9 465.0h39.9v2.5h-39.9zM477.9 465.0h11.3v2.5h-11.3zM499.9 465.0h9.1v2.5h-9.1zM517.5 465.0h9.1v2.5h-9.1zM546.1 465.0h6.9v2.5h-6.9zM570.3 465.0h9.1v2.5h-9.1zM614.3 465.0h9.1v2.5h-9.1zM42.3 467.2h9.1v2.5h-9.1zM62.1 467.2h9.1v2.5h-9.1zM84.1 467.2h11.3v2.5h-11.3zM110.5 467.2h4.7v2.5h-4.7zM152.3 467.2h2.5v2.5h-2.5zM196.3 467.2h9.1v2.5h-9.1zM275.5 467.2h4.7v2.5h-4.7zM370.1 467.2h15.7v2.5h-15.7zM422.9 467.2h37.7v2.5h-37.7zM488.9 467.2h13.5v2.5h-13.5zM546.1 467.2h4.7v2.5h-4.7zM572.5 467.2h9.1v2.5h-9.1zM614.3 467.2h9.1v2.5h-9.1zM42.3 469.4h6.9v2.5h-6.9zM68.7 469.4h42.1v2.5h-42.1zM275.5 469.4h2.5v2.5h-2.5zM378.9 469.4h4.7v2.5h-4.7zM422.9 469.4h20.1v2.5h-20.1zM574.7 469.4h9.1v2.5h-9.1zM612.1 469.4h9.1v2.5h-9.1zM77.5 471.6h11.3v2.5h-11.3zM275.5 471.6h2.5v2.5h-2.5zM422.9 471.6h9.1v2.5h-9.1zM574.7 471.6h46.5v2.5h-46.5zM275.5 473.8h2.5v2.5h-2.5zM420.7 473.8h9.1v2.5h-9.1zM576.9 473.8h44.3v2.5h-44.3zM275.5 476.0h2.5v2.5h-2.5zM381.1 476.0h39.9v2.5h-39.9zM581.3 476.0h39.9v2.5h-39.9zM275.5 478.2h2.5v2.5h-2.5zM376.7 478.2h4.7v2.5h-4.7zM583.5 478.2h11.3v2.5h-11.3zM275.5 480.4h2.5v2.5h-2.5zM374.5 480.4h2.5v2.5h-2.5zM53.3 482.6h2.5v2.5h-2.5zM275.5 482.6h4.7v2.5h-4.7zM374.5 482.6h2.5v2.5h-2.5zM53.3 484.8h2.5v2.5h-2.5zM275.5 484.8h6.9v2.5h-6.9zM367.9 484.8h6.9v2.5h-6.9zM53.3 487.0h2.5v2.5h-2.5zM275.5 487.0h15.7v2.5h-15.7zM326.1 487.0h22.3v2.5h-22.3zM359.1 487.0h4.7v2.5h-4.7zM277.7 489.2h17.9v2.5h-17.9zM321.7 489.2h31.1v2.5h-31.1zM354.7 489.2h4.7v2.5h-4.7zM625.3 489.2h2.5v2.5h-2.5zM42.3 491.4h9.1v2.5h-9.1zM286.5 491.4h17.9v2.5h-17.9zM317.3 491.4h9.1v2.5h-9.1zM348.1 491.4h9.1v2.5h-9.1zM616.5 491.4h28.9v2.5h-28.9zM42.3 493.6h4.7v2.5h-4.7zM290.9 493.6h17.9v2.5h-17.9zM312.9 493.6h9.1v2.5h-9.1zM350.3 493.6h4.7v2.5h-4.7zM616.5 493.6h33.3v2.5h-33.3zM293.1 495.8h22.3v2.5h-22.3zM348.1 495.8h6.9v2.5h-6.9zM625.3 495.8h24.5v2.5h-24.5zM343.7 498.0h11.3v2.5h-11.3zM629.7 498.0h20.1v2.5h-20.1zM341.5 500.2h13.5v2.5h-13.5zM631.9 500.2h17.9v2.5h-17.9zM341.5 502.4h13.5v2.5h-13.5zM636.3 502.4h9.1v2.5h-9.1zM343.7 504.6h2.5v2.5h-2.5zM42.3 515.6h4.7v2.5h-4.7zM42.3 517.8h4.7v2.5h-4.7zM42.3 520.0h6.9v2.5h-6.9zM42.3 522.2h6.9v2.5h-6.9zM46.7 524.4h4.7v2.5h-4.7zM48.9 526.6h6.9v2.5h-6.9zM334.9 526.6h28.9v2.5h-28.9zM51.1 528.8h4.7v2.5h-4.7zM136.9 528.8h9.1v2.5h-9.1zM330.5 528.8h20.1v2.5h-20.1zM359.1 528.8h11.3v2.5h-11.3zM51.1 531.0h4.7v2.5h-4.7zM128.1 531.0h17.9v2.5h-17.9zM328.3 531.0h20.1v2.5h-20.1zM361.3 531.0h17.9v2.5h-17.9zM51.1 533.2h4.7v2.5h-4.7zM125.9 533.2h15.7v2.5h-15.7zM143.5 533.2h4.7v2.5h-4.7zM323.9 533.2h20.1v2.5h-20.1zM365.7 533.2h15.7v2.5h-15.7zM51.1 535.4h4.7v2.5h-4.7zM117.1 535.4h15.7v2.5h-15.7zM147.9 535.4h20.1v2.5h-20.1zM310.7 535.4h15.7v2.5h-15.7zM330.5 535.4h11.3v2.5h-11.3zM374.5 535.4h15.7v2.5h-15.7zM51.1 537.6h4.7v2.5h-4.7zM110.5 537.6h17.9v2.5h-17.9zM167.7 537.6h11.3v2.5h-11.3zM308.5 537.6h15.7v2.5h-15.7zM334.9 537.6h4.7v2.5h-4.7zM376.7 537.6h15.7v2.5h-15.7zM51.1 539.8h4.7v2.5h-4.7zM101.7 539.8h17.9v2.5h-17.9zM174.3 539.8h11.3v2.5h-11.3zM308.5 539.8h13.5v2.5h-13.5zM378.9 539.8h13.5v2.5h-13.5zM51.1 542.0h4.7v2.5h-4.7zM99.5 542.0h15.7v2.5h-15.7zM180.9 542.0h9.1v2.5h-9.1zM308.5 542.0h2.5v2.5h-2.5zM389.9 542.0h4.7v2.5h-4.7zM51.1 544.2h4.7v2.5h-4.7zM99.5 544.2h6.9v2.5h-6.9zM187.5 544.2h9.1v2.5h-9.1zM308.5 544.2h2.5v2.5h-2.5zM392.1 544.2h2.5v2.5h-2.5zM51.1 546.4h4.7v2.5h-4.7zM99.5 546.4h4.7v2.5h-4.7zM191.9 546.4h9.1v2.5h-9.1zM308.5 546.4h2.5v2.5h-2.5zM392.1 546.4h2.5v2.5h-2.5zM51.1 548.6h4.7v2.5h-4.7zM99.5 548.6h4.7v2.5h-4.7zM191.9 548.6h9.1v2.5h-9.1zM308.5 548.6h2.5v2.5h-2.5zM392.1 548.6h2.5v2.5h-2.5z"/>
<path fill="#BCF9FF" d="M554.9 357.2h9.1v2.5h-9.1zM592.3 357.2h13.5v2.5h-13.5zM471.3 359.4h35.5v2.5h-35.5zM528.5 359.4h13.5v2.5h-13.5zM603.3 359.4h20.1v2.5h-20.1zM370.1 361.6h9.1v2.5h-9.1zM471.3 361.6h35.5v2.5h-35.5zM528.5 361.6h2.5v2.5h-2.5zM607.7 361.6h20.1v2.5h-20.1zM367.9 363.8h6.9v2.5h-6.9zM528.5 363.8h2.5v2.5h-2.5zM609.9 363.8h17.9v2.5h-17.9zM315.1 366.0h17.9v2.5h-17.9zM365.7 366.0h9.1v2.5h-9.1zM528.5 366.0h4.7v2.5h-4.7zM620.9 366.0h6.9v2.5h-6.9zM304.1 368.2h9.1v2.5h-9.1zM332.7 368.2h4.7v2.5h-4.7zM363.5 368.2h6.9v2.5h-6.9zM372.3 368.2h2.5v2.5h-2.5zM528.5 368.2h6.9v2.5h-6.9zM623.1 368.2h4.7v2.5h-4.7zM297.5 370.4h9.1v2.5h-9.1zM337.1 370.4h11.3v2.5h-11.3zM361.3 370.4h11.3v2.5h-11.3zM530.7 370.4h6.9v2.5h-6.9zM623.1 370.4h4.7v2.5h-4.7zM295.3 372.6h11.3v2.5h-11.3zM343.7 372.6h4.7v2.5h-4.7zM361.3 372.6h6.9v2.5h-6.9zM535.1 372.6h4.7v2.5h-4.7zM625.3 372.6h4.7v2.5h-4.7zM293.1 374.8h13.5v2.5h-13.5zM345.9 374.8h4.7v2.5h-4.7zM356.9 374.8h4.7v2.5h-4.7zM365.7 374.8h2.5v2.5h-2.5zM537.3 374.8h2.5v2.5h-2.5zM627.5 374.8h2.5v2.5h-2.5zM290.9 377.0h15.7v2.5h-15.7zM350.3 377.0h6.9v2.5h-6.9zM537.3 377.0h4.7v2.5h-4.7zM629.7 377.0h17.9v2.5h-17.9zM290.9 379.2h15.7v2.5h-15.7zM315.1 379.2h6.9v2.5h-6.9zM543.9 379.2h4.7v2.5h-4.7zM649.5 379.2h26.7v2.5h-26.7zM288.7 381.4h15.7v2.5h-15.7zM312.9 381.4h2.5v2.5h-2.5zM365.7 381.4h2.5v2.5h-2.5zM550.5 381.4h2.5v2.5h-2.5zM651.7 381.4h24.5v2.5h-24.5zM286.5 383.6h13.5v2.5h-13.5zM310.7 383.6h2.5v2.5h-2.5zM323.9 383.6h2.5v2.5h-2.5zM365.7 383.6h2.5v2.5h-2.5zM656.1 383.6h20.1v2.5h-20.1zM282.1 385.8h15.7v2.5h-15.7zM310.7 385.8h2.5v2.5h-2.5zM658.3 385.8h17.9v2.5h-17.9zM297.5 388.0h13.5v2.5h-13.5zM326.1 388.0h2.5v2.5h-2.5zM658.3 388.0h17.9v2.5h-17.9zM273.3 390.2h2.5v2.5h-2.5zM328.3 390.2h6.9v2.5h-6.9zM367.9 390.2h2.5v2.5h-2.5zM656.1 390.2h20.1v2.5h-20.1zM262.3 392.4h15.7v2.5h-15.7zM334.9 392.4h6.9v2.5h-6.9zM370.1 392.4h4.7v2.5h-4.7zM559.3 392.4h2.5v2.5h-2.5zM651.7 392.4h24.5v2.5h-24.5zM255.7 394.6h2.5v2.5h-2.5zM275.5 394.6h2.5v2.5h-2.5zM339.3 394.6h17.9v2.5h-17.9zM381.1 394.6h2.5v2.5h-2.5zM649.5 394.6h26.7v2.5h-26.7zM253.5 396.8h2.5v2.5h-2.5zM275.5 396.8h2.5v2.5h-2.5zM339.3 396.8h17.9v2.5h-17.9zM383.3 396.8h2.5v2.5h-2.5zM645.1 396.8h31.1v2.5h-31.1zM251.3 399.0h2.5v2.5h-2.5zM277.7 399.0h2.5v2.5h-2.5zM337.1 399.0h6.9v2.5h-6.9zM383.3 399.0h2.5v2.5h-2.5zM565.9 399.0h4.7v2.5h-4.7zM612.1 399.0h24.5v2.5h-24.5zM658.3 399.0h17.9v2.5h-17.9zM240.3 401.2h11.3v2.5h-11.3zM334.9 401.2h4.7v2.5h-4.7zM383.3 401.2h4.7v2.5h-4.7zM579.1 401.2h2.5v2.5h-2.5zM609.9 401.2h13.5v2.5h-13.5zM658.3 401.2h4.7v2.5h-4.7zM664.9 401.2h11.3v2.5h-11.3zM231.5 403.4h9.1v2.5h-9.1zM282.1 403.4h2.5v2.5h-2.5zM334.9 403.4h2.5v2.5h-2.5zM385.5 403.4h4.7v2.5h-4.7zM581.3 403.4h2.5v2.5h-2.5zM607.7 403.4h9.1v2.5h-9.1zM658.3 403.4h4.7v2.5h-4.7zM667.1 403.4h9.1v2.5h-9.1zM229.3 405.6h4.7v2.5h-4.7zM282.1 405.6h2.5v2.5h-2.5zM334.9 405.6h2.5v2.5h-2.5zM385.5 405.6h9.1v2.5h-9.1zM587.9 405.6h20.1v2.5h-20.1zM660.5 405.6h2.5v2.5h-2.5zM664.9 405.6h11.3v2.5h-11.3zM224.9 407.8h4.7v2.5h-4.7zM282.1 407.8h2.5v2.5h-2.5zM334.9 407.8h2.5v2.5h-2.5zM383.3 407.8h11.3v2.5h-11.3zM660.5 407.8h15.7v2.5h-15.7zM198.5 410.0h26.7v2.5h-26.7zM282.1 410.0h2.5v2.5h-2.5zM334.9 410.0h2.5v2.5h-2.5zM378.9 410.0h9.1v2.5h-9.1zM394.3 410.0h4.7v2.5h-4.7zM662.7 410.0h13.5v2.5h-13.5zM185.3 412.2h4.7v2.5h-4.7zM282.1 412.2h2.5v2.5h-2.5zM334.9 412.2h2.5v2.5h-2.5zM343.7 412.2h4.7v2.5h-4.7zM376.7 412.2h9.1v2.5h-9.1zM394.3 412.2h6.9v2.5h-6.9zM664.9 412.2h11.3v2.5h-11.3zM183.1 414.4h2.5v2.5h-2.5zM282.1 414.4h2.5v2.5h-2.5zM334.9 414.4h17.9v2.5h-17.9zM376.7 414.4h9.1v2.5h-9.1zM394.3 414.4h9.1v2.5h-9.1zM669.3 414.4h6.9v2.5h-6.9zM180.9 416.6h4.7v2.5h-4.7zM282.1 416.6h2.5v2.5h-2.5zM350.3 416.6h6.9v2.5h-6.9zM378.9 416.6h9.1v2.5h-9.1zM392.1 416.6h13.5v2.5h-13.5zM178.7 418.8h4.7v2.5h-4.7zM279.9 418.8h2.5v2.5h-2.5zM352.5 418.8h6.9v2.5h-6.9zM383.3 418.8h24.5v2.5h-24.5zM53.3 421.0h4.7v2.5h-4.7zM97.3 421.0h13.5v2.5h-13.5zM169.9 421.0h9.1v2.5h-9.1zM279.9 421.0h2.5v2.5h-2.5zM356.9 421.0h4.7v2.5h-4.7zM385.5 421.0h24.5v2.5h-24.5zM51.1 423.2h9.1v2.5h-9.1zM95.1 423.2h2.5v2.5h-2.5zM110.5 423.2h2.5v2.5h-2.5zM167.7 423.2h4.7v2.5h-4.7zM279.9 423.2h2.5v2.5h-2.5zM356.9 423.2h4.7v2.5h-4.7zM387.7 423.2h22.3v2.5h-22.3zM53.3 425.4h6.9v2.5h-6.9zM92.9 425.4h4.7v2.5h-4.7zM110.5 425.4h2.5v2.5h-2.5zM165.5 425.4h4.7v2.5h-4.7zM255.7 425.4h6.9v2.5h-6.9zM277.7 425.4h2.5v2.5h-2.5zM359.1 425.4h2.5v2.5h-2.5zM389.9 425.4h20.1v2.5h-20.1zM59.9 427.6h4.7v2.5h-4.7zM90.7 427.6h4.7v2.5h-4.7zM110.5 427.6h6.9v2.5h-6.9zM163.3 427.6h6.9v2.5h-6.9zM251.3 427.6h2.5v2.5h-2.5zM264.5 427.6h13.5v2.5h-13.5zM359.1 427.6h2.5v2.5h-2.5zM400.9 427.6h9.1v2.5h-9.1zM486.7 427.6h15.7v2.5h-15.7zM515.3 427.6h20.1v2.5h-20.1zM59.9 429.8h6.9v2.5h-6.9zM77.5 429.8h4.7v2.5h-4.7zM117.1 429.8h9.1v2.5h-9.1zM158.9 429.8h9.1v2.5h-9.1zM249.1 429.8h2.5v2.5h-2.5zM359.1 429.8h2.5v2.5h-2.5zM403.1 429.8h9.1v2.5h-9.1zM537.3 429.8h2.5v2.5h-2.5zM62.1 432.0h6.9v2.5h-6.9zM75.3 432.0h4.7v2.5h-4.7zM121.5 432.0h9.1v2.5h-9.1zM154.5 432.0h9.1v2.5h-9.1zM249.1 432.0h2.5v2.5h-2.5zM359.1 432.0h2.5v2.5h-2.5zM403.1 432.0h9.1v2.5h-9.1zM482.3 432.0h2.5v2.5h-2.5zM539.5 432.0h2.5v2.5h-2.5zM64.3 434.2h4.7v2.5h-4.7zM73.1 434.2h9.1v2.5h-9.1zM123.7 434.2h9.1v2.5h-9.1zM145.7 434.2h11.3v2.5h-11.3zM249.1 434.2h2.5v2.5h-2.5zM359.1 434.2h2.5v2.5h-2.5zM403.1 434.2h9.1v2.5h-9.1zM480.1 434.2h2.5v2.5h-2.5zM68.7 436.4h13.5v2.5h-13.5zM128.1 436.4h22.3v2.5h-22.3zM249.1 436.4h2.5v2.5h-2.5zM359.1 436.4h2.5v2.5h-2.5zM403.1 436.4h9.1v2.5h-9.1zM68.7 438.6h15.7v2.5h-15.7zM130.3 438.6h15.7v2.5h-15.7zM249.1 438.6h2.5v2.5h-2.5zM359.1 438.6h2.5v2.5h-2.5zM403.1 438.6h9.1v2.5h-9.1zM475.7 438.6h2.5v2.5h-2.5zM541.7 438.6h2.5v2.5h-2.5zM671.5 438.6h4.7v2.5h-4.7zM66.5 440.8h17.9v2.5h-17.9zM249.1 440.8h2.5v2.5h-2.5zM359.1 440.8h2.5v2.5h-2.5zM405.3 440.8h9.1v2.5h-9.1zM475.7 440.8h2.5v2.5h-2.5zM541.7 440.8h2.5v2.5h-2.5zM671.5 440.8h4.7v2.5h-4.7zM59.9 443.0h22.3v2.5h-22.3zM251.3 443.0h2.5v2.5h-2.5zM359.1 443.0h2.5v2.5h-2.5zM411.9 443.0h11.3v2.5h-11.3zM480.1 443.0h2.5v2.5h-2.5zM541.7 443.0h4.7v2.5h-4.7zM42.3 445.2h28.9v2.5h-28.9zM251.3 445.2h2.5v2.5h-2.5zM418.5 445.2h33.3v2.5h-33.3zM541.7 445.2h6.9v2.5h-6.9zM42.3 447.4h11.3v2.5h-11.3zM253.5 447.4h4.7v2.5h-4.7zM422.9 447.4h17.9v2.5h-17.9zM451.5 447.4h4.7v2.5h-4.7zM506.5 447.4h11.3v2.5h-11.3zM537.3 447.4h26.7v2.5h-26.7zM568.1 447.4h33.3v2.5h-33.3zM42.3 449.6h6.9v2.5h-6.9zM253.5 449.6h4.7v2.5h-4.7zM356.9 449.6h2.5v2.5h-2.5zM422.9 449.6h15.7v2.5h-15.7zM453.7 449.6h4.7v2.5h-4.7zM482.3 449.6h2.5v2.5h-2.5zM504.3 449.6h6.9v2.5h-6.9zM515.3 449.6h4.7v2.5h-4.7zM535.1 449.6h9.1v2.5h-9.1zM561.5 449.6h9.1v2.5h-9.1zM598.9 449.6h24.5v2.5h-24.5zM42.3 451.8h4.7v2.5h-4.7zM246.9 451.8h4.7v2.5h-4.7zM356.9 451.8h2.5v2.5h-2.5zM425.1 451.8h11.3v2.5h-11.3zM453.7 451.8h6.9v2.5h-6.9zM504.3 451.8h15.7v2.5h-15.7zM535.1 451.8h9.1v2.5h-9.1zM559.3 451.8h11.3v2.5h-11.3zM607.7 451.8h17.9v2.5h-17.9zM242.5 454.0h4.7v2.5h-4.7zM341.5 454.0h15.7v2.5h-15.7zM453.7 454.0h6.9v2.5h-6.9zM506.5 454.0h17.9v2.5h-17.9zM535.1 454.0h9.1v2.5h-9.1zM554.9 454.0h15.7v2.5h-15.7zM618.7 454.0h6.9v2.5h-6.9zM229.3 456.2h13.5v2.5h-13.5zM334.9 456.2h4.7v2.5h-4.7zM455.9 456.2h4.7v2.5h-4.7zM517.5 456.2h9.1v2.5h-9.1zM535.1 456.2h9.1v2.5h-9.1zM552.7 456.2h17.9v2.5h-17.9zM620.9 456.2h4.7v2.5h-4.7zM224.9 458.4h15.7v2.5h-15.7zM332.7 458.4h2.5v2.5h-2.5zM455.9 458.4h6.9v2.5h-6.9zM517.5 458.4h9.1v2.5h-9.1zM535.1 458.4h9.1v2.5h-9.1zM552.7 458.4h17.9v2.5h-17.9zM620.9 458.4h4.7v2.5h-4.7zM121.5 460.6h11.3v2.5h-11.3zM220.5 460.6h6.9v2.5h-6.9zM328.3 460.6h4.7v2.5h-4.7zM458.1 460.6h4.7v2.5h-4.7zM480.1 460.6h2.5v2.5h-2.5zM517.5 460.6h9.1v2.5h-9.1zM532.9 460.6h13.5v2.5h-13.5zM552.7 460.6h17.9v2.5h-17.9zM620.9 460.6h6.9v2.5h-6.9zM117.1 462.8h4.7v2.5h-4.7zM130.3 462.8h2.5v2.5h-2.5zM185.3 462.8h4.7v2.5h-4.7zM216.1 462.8h9.1v2.5h-9.1zM279.9 462.8h33.3v2.5h-33.3zM460.3 462.8h4.7v2.5h-4.7zM480.1 462.8h2.5v2.5h-2.5zM510.9 462.8h6.9v2.5h-6.9zM526.3 462.8h11.3v2.5h-11.3zM539.5 462.8h6.9v2.5h-6.9zM552.7 462.8h17.9v2.5h-17.9zM620.9 462.8h6.9v2.5h-6.9zM53.3 465.0h4.7v2.5h-4.7zM117.1 465.0h2.5v2.5h-2.5zM130.3 465.0h2.5v2.5h-2.5zM141.3 465.0h4.7v2.5h-4.7zM158.9 465.0h4.7v2.5h-4.7zM183.1 465.0h9.1v2.5h-9.1zM211.7 465.0h9.1v2.5h-9.1zM273.3 465.0h4.7v2.5h-4.7zM462.5 465.0h6.9v2.5h-6.9zM471.3 465.0h6.9v2.5h-6.9zM508.7 465.0h9.1v2.5h-9.1zM526.3 465.0h9.1v2.5h-9.1zM541.7 465.0h4.7v2.5h-4.7zM552.7 465.0h17.9v2.5h-17.9zM623.1 465.0h4.7v2.5h-4.7zM660.5 465.0h4.7v2.5h-4.7zM51.1 467.2h11.3v2.5h-11.3zM114.9 467.2h2.5v2.5h-2.5zM132.5 467.2h20.1v2.5h-20.1zM154.5 467.2h42.1v2.5h-42.1zM205.1 467.2h11.3v2.5h-11.3zM273.3 467.2h2.5v2.5h-2.5zM460.3 467.2h28.9v2.5h-28.9zM502.1 467.2h9.1v2.5h-9.1zM515.3 467.2h17.9v2.5h-17.9zM541.7 467.2h4.7v2.5h-4.7zM550.5 467.2h22.3v2.5h-22.3zM623.1 467.2h4.7v2.5h-4.7zM658.3 467.2h9.1v2.5h-9.1zM48.9 469.4h20.1v2.5h-20.1zM110.5 469.4h4.7v2.5h-4.7zM150.1 469.4h20.1v2.5h-20.1zM194.1 469.4h11.3v2.5h-11.3zM273.3 469.4h2.5v2.5h-2.5zM442.7 469.4h9.1v2.5h-9.1zM491.1 469.4h6.9v2.5h-6.9zM543.9 469.4h15.7v2.5h-15.7zM568.1 469.4h6.9v2.5h-6.9zM620.9 469.4h6.9v2.5h-6.9zM658.3 469.4h9.1v2.5h-9.1zM42.3 471.6h35.5v2.5h-35.5zM88.5 471.6h22.3v2.5h-22.3zM273.3 471.6h2.5v2.5h-2.5zM431.7 471.6h15.7v2.5h-15.7zM546.1 471.6h9.1v2.5h-9.1zM570.3 471.6h4.7v2.5h-4.7zM620.9 471.6h6.9v2.5h-6.9zM658.3 471.6h9.1v2.5h-9.1zM42.3 473.8h20.1v2.5h-20.1zM75.3 473.8h20.1v2.5h-20.1zM273.3 473.8h2.5v2.5h-2.5zM429.5 473.8h15.7v2.5h-15.7zM572.5 473.8h4.7v2.5h-4.7zM620.9 473.8h4.7v2.5h-4.7zM658.3 473.8h9.1v2.5h-9.1zM42.3 476.0h17.9v2.5h-17.9zM273.3 476.0h2.5v2.5h-2.5zM420.7 476.0h9.1v2.5h-9.1zM574.7 476.0h6.9v2.5h-6.9zM620.9 476.0h4.7v2.5h-4.7zM658.3 476.0h6.9v2.5h-6.9zM42.3 478.2h17.9v2.5h-17.9zM273.3 478.2h2.5v2.5h-2.5zM381.1 478.2h6.9v2.5h-6.9zM579.1 478.2h4.7v2.5h-4.7zM594.5 478.2h31.1v2.5h-31.1zM660.5 478.2h2.5v2.5h-2.5zM46.7 480.4h13.5v2.5h-13.5zM273.3 480.4h2.5v2.5h-2.5zM376.7 480.4h2.5v2.5h-2.5zM581.3 480.4h46.5v2.5h-46.5zM48.9 482.6h4.7v2.5h-4.7zM55.5 482.6h4.7v2.5h-4.7zM273.3 482.6h2.5v2.5h-2.5zM581.3 482.6h17.9v2.5h-17.9zM623.1 482.6h4.7v2.5h-4.7zM48.9 484.8h4.7v2.5h-4.7zM55.5 484.8h2.5v2.5h-2.5zM273.3 484.8h2.5v2.5h-2.5zM590.1 484.8h4.7v2.5h-4.7zM620.9 484.8h9.1v2.5h-9.1zM42.3 487.0h11.3v2.5h-11.3zM55.5 487.0h2.5v2.5h-2.5zM273.3 487.0h2.5v2.5h-2.5zM363.5 487.0h6.9v2.5h-6.9zM612.1 487.0h20.1v2.5h-20.1zM42.3 489.2h15.7v2.5h-15.7zM273.3 489.2h4.7v2.5h-4.7zM359.1 489.2h2.5v2.5h-2.5zM601.1 489.2h24.5v2.5h-24.5zM627.5 489.2h9.1v2.5h-9.1zM645.1 489.2h20.1v2.5h-20.1zM51.1 491.4h6.9v2.5h-6.9zM273.3 491.4h13.5v2.5h-13.5zM326.1 491.4h22.3v2.5h-22.3zM356.9 491.4h2.5v2.5h-2.5zM598.9 491.4h17.9v2.5h-17.9zM645.1 491.4h31.1v2.5h-31.1zM46.7 493.6h9.1v2.5h-9.1zM275.5 493.6h15.7v2.5h-15.7zM321.7 493.6h28.9v2.5h-28.9zM354.7 493.6h2.5v2.5h-2.5zM609.9 493.6h6.9v2.5h-6.9zM649.5 493.6h26.7v2.5h-26.7zM286.5 495.8h6.9v2.5h-6.9zM315.1 495.8h33.3v2.5h-33.3zM354.7 495.8h2.5v2.5h-2.5zM614.3 495.8h11.3v2.5h-11.3zM649.5 495.8h11.3v2.5h-11.3zM288.7 498.0h55.3v2.5h-55.3zM354.7 498.0h2.5v2.5h-2.5zM618.7 498.0h11.3v2.5h-11.3zM649.5 498.0h9.1v2.5h-9.1zM290.9 500.2h17.9v2.5h-17.9zM321.7 500.2h20.1v2.5h-20.1zM354.7 500.2h2.5v2.5h-2.5zM620.9 500.2h11.3v2.5h-11.3zM649.5 500.2h6.9v2.5h-6.9zM326.1 502.4h15.7v2.5h-15.7zM354.7 502.4h2.5v2.5h-2.5zM625.3 502.4h11.3v2.5h-11.3zM645.1 502.4h11.3v2.5h-11.3zM334.9 504.6h9.1v2.5h-9.1zM345.9 504.6h9.1v2.5h-9.1zM645.1 504.6h13.5v2.5h-13.5zM339.3 506.8h11.3v2.5h-11.3zM651.7 506.8h9.1v2.5h-9.1zM42.3 509.0h4.7v2.5h-4.7zM341.5 509.0h6.9v2.5h-6.9zM651.7 509.0h13.5v2.5h-13.5zM42.3 511.2h6.9v2.5h-6.9zM343.7 511.2h2.5v2.5h-2.5zM653.9 511.2h11.3v2.5h-11.3zM42.3 513.4h6.9v2.5h-6.9zM660.5 513.4h4.7v2.5h-4.7zM46.7 515.6h2.5v2.5h-2.5zM46.7 517.8h2.5v2.5h-2.5zM667.1 517.8h9.1v2.5h-9.1zM48.9 520.0h2.5v2.5h-2.5zM667.1 520.0h9.1v2.5h-9.1zM48.9 522.2h4.7v2.5h-4.7zM667.1 522.2h9.1v2.5h-9.1zM51.1 524.4h4.7v2.5h-4.7zM332.7 524.4h31.1v2.5h-31.1zM667.1 524.4h9.1v2.5h-9.1zM55.5 526.6h2.5v2.5h-2.5zM134.7 526.6h11.3v2.5h-11.3zM328.3 526.6h6.9v2.5h-6.9zM363.5 526.6h9.1v2.5h-9.1zM667.1 526.6h9.1v2.5h-9.1zM55.5 528.8h2.5v2.5h-2.5zM123.7 528.8h13.5v2.5h-13.5zM326.1 528.8h4.7v2.5h-4.7zM370.1 528.8h13.5v2.5h-13.5zM667.1 528.8h9.1v2.5h-9.1zM55.5 531.0h2.5v2.5h-2.5zM121.5 531.0h6.9v2.5h-6.9zM145.7 531.0h2.5v2.5h-2.5zM323.9 531.0h4.7v2.5h-4.7zM378.9 531.0h6.9v2.5h-6.9zM669.3 531.0h6.9v2.5h-6.9zM55.5 533.2h2.5v2.5h-2.5zM117.1 533.2h9.1v2.5h-9.1zM147.9 533.2h11.3v2.5h-11.3zM319.5 533.2h4.7v2.5h-4.7zM381.1 533.2h9.1v2.5h-9.1zM55.5 535.4h2.5v2.5h-2.5zM108.3 535.4h9.1v2.5h-9.1zM167.7 535.4h9.1v2.5h-9.1zM238.1 535.4h4.7v2.5h-4.7zM308.5 535.4h2.5v2.5h-2.5zM389.9 535.4h4.7v2.5h-4.7zM55.5 537.6h2.5v2.5h-2.5zM99.5 537.6h11.3v2.5h-11.3zM178.7 537.6h6.9v2.5h-6.9zM238.1 537.6h4.7v2.5h-4.7zM392.1 537.6h4.7v2.5h-4.7zM55.5 539.8h2.5v2.5h-2.5zM97.3 539.8h4.7v2.5h-4.7zM185.3 539.8h6.9v2.5h-6.9zM238.1 539.8h4.7v2.5h-4.7zM392.1 539.8h4.7v2.5h-4.7zM55.5 542.0h2.5v2.5h-2.5zM97.3 542.0h2.5v2.5h-2.5zM189.7 542.0h6.9v2.5h-6.9zM238.1 542.0h4.7v2.5h-4.7zM306.3 542.0h2.5v2.5h-2.5zM394.3 542.0h2.5v2.5h-2.5zM55.5 544.2h2.5v2.5h-2.5zM97.3 544.2h2.5v2.5h-2.5zM196.3 544.2h17.9v2.5h-17.9zM238.1 544.2h4.7v2.5h-4.7zM306.3 544.2h2.5v2.5h-2.5zM394.3 544.2h2.5v2.5h-2.5zM55.5 546.4h2.5v2.5h-2.5zM97.3 546.4h2.5v2.5h-2.5zM200.7 546.4h17.9v2.5h-17.9zM238.1 546.4h4.7v2.5h-4.7zM306.3 546.4h2.5v2.5h-2.5zM394.3 546.4h2.5v2.5h-2.5zM55.5 548.6h2.5v2.5h-2.5zM97.3 548.6h2.5v2.5h-2.5zM200.7 548.6h17.9v2.5h-17.9zM238.1 548.6h4.7v2.5h-4.7zM306.3 548.6h2.5v2.5h-2.5zM394.3 548.6h2.5v2.5h-2.5z"/>
<path fill="#EAFFFF" d="M568.1 355.0h46.5v2.5h-46.5zM473.5 357.2h28.9v2.5h-28.9zM543.9 357.2h11.3v2.5h-11.3zM605.5 357.2h17.9v2.5h-17.9zM367.9 359.4h20.1v2.5h-20.1zM405.3 359.4h44.3v2.5h-44.3zM466.9 359.4h4.7v2.5h-4.7zM526.3 359.4h2.5v2.5h-2.5zM623.1 359.4h6.9v2.5h-6.9zM365.7 361.6h4.7v2.5h-4.7zM378.9 361.6h9.1v2.5h-9.1zM405.3 361.6h44.3v2.5h-44.3zM466.9 361.6h4.7v2.5h-4.7zM506.5 361.6h2.5v2.5h-2.5zM526.3 361.6h2.5v2.5h-2.5zM627.5 361.6h2.5v2.5h-2.5zM326.1 363.8h2.5v2.5h-2.5zM363.5 363.8h4.7v2.5h-4.7zM374.5 363.8h4.7v2.5h-4.7zM471.3 363.8h35.5v2.5h-35.5zM526.3 363.8h2.5v2.5h-2.5zM627.5 363.8h2.5v2.5h-2.5zM308.5 366.0h6.9v2.5h-6.9zM332.7 366.0h13.5v2.5h-13.5zM361.3 366.0h4.7v2.5h-4.7zM374.5 366.0h2.5v2.5h-2.5zM526.3 366.0h2.5v2.5h-2.5zM627.5 366.0h2.5v2.5h-2.5zM295.3 368.2h9.1v2.5h-9.1zM337.1 368.2h11.3v2.5h-11.3zM361.3 368.2h2.5v2.5h-2.5zM374.5 368.2h2.5v2.5h-2.5zM627.5 368.2h2.5v2.5h-2.5zM290.9 370.4h6.9v2.5h-6.9zM359.1 370.4h2.5v2.5h-2.5zM372.3 370.4h2.5v2.5h-2.5zM528.5 370.4h2.5v2.5h-2.5zM627.5 370.4h2.5v2.5h-2.5zM288.7 372.6h6.9v2.5h-6.9zM348.1 372.6h2.5v2.5h-2.5zM356.9 372.6h4.7v2.5h-4.7zM367.9 372.6h4.7v2.5h-4.7zM530.7 372.6h4.7v2.5h-4.7zM288.7 374.8h4.7v2.5h-4.7zM350.3 374.8h6.9v2.5h-6.9zM532.9 374.8h4.7v2.5h-4.7zM629.7 374.8h4.7v2.5h-4.7zM286.5 377.0h4.7v2.5h-4.7zM365.7 377.0h2.5v2.5h-2.5zM535.1 377.0h2.5v2.5h-2.5zM647.3 377.0h28.9v2.5h-28.9zM286.5 379.2h4.7v2.5h-4.7zM365.7 379.2h2.5v2.5h-2.5zM537.3 379.2h6.9v2.5h-6.9zM282.1 381.4h6.9v2.5h-6.9zM315.1 381.4h2.5v2.5h-2.5zM319.5 381.4h4.7v2.5h-4.7zM548.3 381.4h2.5v2.5h-2.5zM277.7 383.6h9.1v2.5h-9.1zM312.9 383.6h2.5v2.5h-2.5zM550.5 383.6h2.5v2.5h-2.5zM53.3 385.8h4.7v2.5h-4.7zM273.3 385.8h9.1v2.5h-9.1zM323.9 385.8h2.5v2.5h-2.5zM367.9 385.8h2.5v2.5h-2.5zM53.3 388.0h4.7v2.5h-4.7zM271.1 388.0h26.7v2.5h-26.7zM310.7 388.0h2.5v2.5h-2.5zM367.9 388.0h2.5v2.5h-2.5zM552.7 388.0h2.5v2.5h-2.5zM262.3 390.2h11.3v2.5h-11.3zM275.5 390.2h6.9v2.5h-6.9zM326.1 390.2h2.5v2.5h-2.5zM370.1 390.2h2.5v2.5h-2.5zM554.9 390.2h2.5v2.5h-2.5zM253.5 392.4h9.1v2.5h-9.1zM277.7 392.4h2.5v2.5h-2.5zM330.5 392.4h4.7v2.5h-4.7zM374.5 392.4h6.9v2.5h-6.9zM251.3 394.6h4.7v2.5h-4.7zM277.7 394.6h2.5v2.5h-2.5zM334.9 394.6h4.7v2.5h-4.7zM383.3 394.6h2.5v2.5h-2.5zM249.1 396.8h4.7v2.5h-4.7zM277.7 396.8h2.5v2.5h-2.5zM334.9 396.8h4.7v2.5h-4.7zM385.5 396.8h2.5v2.5h-2.5zM561.5 396.8h2.5v2.5h-2.5zM240.3 399.0h11.3v2.5h-11.3zM334.9 399.0h2.5v2.5h-2.5zM385.5 399.0h4.7v2.5h-4.7zM563.7 399.0h2.5v2.5h-2.5zM636.3 399.0h22.3v2.5h-22.3zM229.3 401.2h11.3v2.5h-11.3zM279.9 401.2h2.5v2.5h-2.5zM332.7 401.2h2.5v2.5h-2.5zM387.7 401.2h6.9v2.5h-6.9zM574.7 401.2h4.7v2.5h-4.7zM623.1 401.2h22.3v2.5h-22.3zM656.1 401.2h2.5v2.5h-2.5zM227.1 403.4h4.7v2.5h-4.7zM284.3 403.4h2.5v2.5h-2.5zM332.7 403.4h2.5v2.5h-2.5zM389.9 403.4h9.1v2.5h-9.1zM579.1 403.4h2.5v2.5h-2.5zM616.5 403.4h9.1v2.5h-9.1zM656.1 403.4h2.5v2.5h-2.5zM224.9 405.6h4.7v2.5h-4.7zM284.3 405.6h2.5v2.5h-2.5zM332.7 405.6h2.5v2.5h-2.5zM394.3 405.6h6.9v2.5h-6.9zM583.5 405.6h4.7v2.5h-4.7zM607.7 405.6h11.3v2.5h-11.3zM658.3 405.6h2.5v2.5h-2.5zM209.5 407.8h15.7v2.5h-15.7zM284.3 407.8h2.5v2.5h-2.5zM332.7 407.8h2.5v2.5h-2.5zM394.3 407.8h9.1v2.5h-9.1zM658.3 407.8h2.5v2.5h-2.5zM187.5 410.0h11.3v2.5h-11.3zM284.3 410.0h2.5v2.5h-2.5zM332.7 410.0h2.5v2.5h-2.5zM387.7 410.0h6.9v2.5h-6.9zM398.7 410.0h6.9v2.5h-6.9zM658.3 410.0h4.7v2.5h-4.7zM42.3 412.2h4.7v2.5h-4.7zM183.1 412.2h2.5v2.5h-2.5zM284.3 412.2h2.5v2.5h-2.5zM332.7 412.2h2.5v2.5h-2.5zM385.5 412.2h9.1v2.5h-9.1zM400.9 412.2h9.1v2.5h-9.1zM660.5 412.2h4.7v2.5h-4.7zM42.3 414.4h6.9v2.5h-6.9zM180.9 414.4h2.5v2.5h-2.5zM284.3 414.4h2.5v2.5h-2.5zM332.7 414.4h2.5v2.5h-2.5zM385.5 414.4h9.1v2.5h-9.1zM403.1 414.4h6.9v2.5h-6.9zM660.5 414.4h9.1v2.5h-9.1zM42.3 416.6h9.1v2.5h-9.1zM178.7 416.6h2.5v2.5h-2.5zM284.3 416.6h2.5v2.5h-2.5zM334.9 416.6h15.7v2.5h-15.7zM387.7 416.6h4.7v2.5h-4.7zM405.3 416.6h6.9v2.5h-6.9zM662.7 416.6h13.5v2.5h-13.5zM42.3 418.8h17.9v2.5h-17.9zM99.5 418.8h6.9v2.5h-6.9zM167.7 418.8h11.3v2.5h-11.3zM282.1 418.8h4.7v2.5h-4.7zM348.1 418.8h4.7v2.5h-4.7zM407.5 418.8h4.7v2.5h-4.7zM664.9 418.8h11.3v2.5h-11.3zM42.3 421.0h11.3v2.5h-11.3zM57.7 421.0h9.1v2.5h-9.1zM95.1 421.0h2.5v2.5h-2.5zM110.5 421.0h2.5v2.5h-2.5zM165.5 421.0h4.7v2.5h-4.7zM282.1 421.0h4.7v2.5h-4.7zM350.3 421.0h6.9v2.5h-6.9zM409.7 421.0h4.7v2.5h-4.7zM42.3 423.2h9.1v2.5h-9.1zM59.9 423.2h11.3v2.5h-11.3zM92.9 423.2h2.5v2.5h-2.5zM112.7 423.2h2.5v2.5h-2.5zM165.5 423.2h2.5v2.5h-2.5zM282.1 423.2h4.7v2.5h-4.7zM352.5 423.2h4.7v2.5h-4.7zM409.7 423.2h4.7v2.5h-4.7zM42.3 425.4h11.3v2.5h-11.3zM59.9 425.4h13.5v2.5h-13.5zM81.9 425.4h11.3v2.5h-11.3zM112.7 425.4h4.7v2.5h-4.7zM163.3 425.4h2.5v2.5h-2.5zM279.9 425.4h4.7v2.5h-4.7zM354.7 425.4h4.7v2.5h-4.7zM409.7 425.4h6.9v2.5h-6.9zM42.3 427.6h17.9v2.5h-17.9zM64.3 427.6h26.7v2.5h-26.7zM117.1 427.6h13.5v2.5h-13.5zM152.3 427.6h11.3v2.5h-11.3zM253.5 427.6h2.5v2.5h-2.5zM260.1 427.6h4.7v2.5h-4.7zM277.7 427.6h4.7v2.5h-4.7zM356.9 427.6h2.5v2.5h-2.5zM409.7 427.6h6.9v2.5h-6.9zM484.5 427.6h2.5v2.5h-2.5zM535.1 427.6h4.7v2.5h-4.7zM42.3 429.8h17.9v2.5h-17.9zM66.5 429.8h11.3v2.5h-11.3zM125.9 429.8h33.3v2.5h-33.3zM251.3 429.8h2.5v2.5h-2.5zM264.5 429.8h15.7v2.5h-15.7zM356.9 429.8h2.5v2.5h-2.5zM411.9 429.8h6.9v2.5h-6.9zM482.3 429.8h2.5v2.5h-2.5zM539.5 429.8h2.5v2.5h-2.5zM42.3 432.0h20.1v2.5h-20.1zM68.7 432.0h6.9v2.5h-6.9zM130.3 432.0h24.5v2.5h-24.5zM251.3 432.0h2.5v2.5h-2.5zM266.7 432.0h11.3v2.5h-11.3zM356.9 432.0h2.5v2.5h-2.5zM411.9 432.0h6.9v2.5h-6.9zM480.1 432.0h2.5v2.5h-2.5zM541.7 432.0h2.5v2.5h-2.5zM42.3 434.2h22.3v2.5h-22.3zM68.7 434.2h4.7v2.5h-4.7zM132.5 434.2h13.5v2.5h-13.5zM251.3 434.2h2.5v2.5h-2.5zM356.9 434.2h2.5v2.5h-2.5zM411.9 434.2h9.1v2.5h-9.1zM541.7 434.2h2.5v2.5h-2.5zM669.3 434.2h6.9v2.5h-6.9zM42.3 436.4h11.3v2.5h-11.3zM55.5 436.4h13.5v2.5h-13.5zM251.3 436.4h2.5v2.5h-2.5zM356.9 436.4h2.5v2.5h-2.5zM411.9 436.4h11.3v2.5h-11.3zM431.7 436.4h2.5v2.5h-2.5zM477.9 436.4h2.5v2.5h-2.5zM541.7 436.4h2.5v2.5h-2.5zM667.1 436.4h9.1v2.5h-9.1zM42.3 438.6h9.1v2.5h-9.1zM57.7 438.6h11.3v2.5h-11.3zM251.3 438.6h2.5v2.5h-2.5zM356.9 438.6h2.5v2.5h-2.5zM411.9 438.6h24.5v2.5h-24.5zM473.5 438.6h2.5v2.5h-2.5zM543.9 438.6h2.5v2.5h-2.5zM667.1 438.6h4.7v2.5h-4.7zM42.3 440.8h11.3v2.5h-11.3zM57.7 440.8h9.1v2.5h-9.1zM251.3 440.8h2.5v2.5h-2.5zM356.9 440.8h2.5v2.5h-2.5zM414.1 440.8h26.7v2.5h-26.7zM473.5 440.8h2.5v2.5h-2.5zM543.9 440.8h2.5v2.5h-2.5zM667.1 440.8h4.7v2.5h-4.7zM42.3 443.0h17.9v2.5h-17.9zM253.5 443.0h2.5v2.5h-2.5zM356.9 443.0h2.5v2.5h-2.5zM422.9 443.0h28.9v2.5h-28.9zM477.9 443.0h2.5v2.5h-2.5zM546.1 443.0h2.5v2.5h-2.5zM669.3 443.0h6.9v2.5h-6.9zM253.5 445.2h4.7v2.5h-4.7zM356.9 445.2h2.5v2.5h-2.5zM451.5 445.2h6.9v2.5h-6.9zM480.1 445.2h2.5v2.5h-2.5zM548.3 445.2h15.7v2.5h-15.7zM568.1 445.2h33.3v2.5h-33.3zM257.9 447.4h2.5v2.5h-2.5zM356.9 447.4h2.5v2.5h-2.5zM455.9 447.4h4.7v2.5h-4.7zM563.7 447.4h4.7v2.5h-4.7zM601.1 447.4h55.3v2.5h-55.3zM257.9 449.6h2.5v2.5h-2.5zM458.1 449.6h4.7v2.5h-4.7zM510.9 449.6h4.7v2.5h-4.7zM623.1 449.6h33.3v2.5h-33.3zM251.3 451.8h4.7v2.5h-4.7zM350.3 451.8h6.9v2.5h-6.9zM460.3 451.8h2.5v2.5h-2.5zM625.3 451.8h6.9v2.5h-6.9zM246.9 454.0h4.7v2.5h-4.7zM334.9 454.0h6.9v2.5h-6.9zM460.3 454.0h2.5v2.5h-2.5zM480.1 454.0h2.5v2.5h-2.5zM625.3 454.0h4.7v2.5h-4.7zM242.5 456.2h4.7v2.5h-4.7zM332.7 456.2h2.5v2.5h-2.5zM460.3 456.2h2.5v2.5h-2.5zM480.1 456.2h2.5v2.5h-2.5zM625.3 456.2h4.7v2.5h-4.7zM669.3 456.2h6.9v2.5h-6.9zM240.3 458.4h4.7v2.5h-4.7zM330.5 458.4h2.5v2.5h-2.5zM480.1 458.4h2.5v2.5h-2.5zM625.3 458.4h4.7v2.5h-4.7zM669.3 458.4h6.9v2.5h-6.9zM227.1 460.6h13.5v2.5h-13.5zM290.9 460.6h37.7v2.5h-37.7zM462.5 460.6h2.5v2.5h-2.5zM477.9 460.6h2.5v2.5h-2.5zM627.5 460.6h2.5v2.5h-2.5zM667.1 460.6h9.1v2.5h-9.1zM121.5 462.8h9.1v2.5h-9.1zM224.9 462.8h4.7v2.5h-4.7zM273.3 462.8h6.9v2.5h-6.9zM464.7 462.8h2.5v2.5h-2.5zM471.3 462.8h9.1v2.5h-9.1zM537.3 462.8h2.5v2.5h-2.5zM627.5 462.8h2.5v2.5h-2.5zM658.3 462.8h17.9v2.5h-17.9zM119.3 465.0h4.7v2.5h-4.7zM128.1 465.0h2.5v2.5h-2.5zM220.5 465.0h6.9v2.5h-6.9zM469.1 465.0h2.5v2.5h-2.5zM535.1 465.0h6.9v2.5h-6.9zM627.5 465.0h2.5v2.5h-2.5zM653.9 465.0h6.9v2.5h-6.9zM664.9 465.0h11.3v2.5h-11.3zM117.1 467.2h4.7v2.5h-4.7zM130.3 467.2h2.5v2.5h-2.5zM216.1 467.2h9.1v2.5h-9.1zM271.1 467.2h2.5v2.5h-2.5zM510.9 467.2h4.7v2.5h-4.7zM532.9 467.2h9.1v2.5h-9.1zM627.5 467.2h2.5v2.5h-2.5zM651.7 467.2h6.9v2.5h-6.9zM667.1 467.2h9.1v2.5h-9.1zM114.9 469.4h4.7v2.5h-4.7zM130.3 469.4h20.1v2.5h-20.1zM169.9 469.4h24.5v2.5h-24.5zM205.1 469.4h13.5v2.5h-13.5zM271.1 469.4h2.5v2.5h-2.5zM451.5 469.4h39.9v2.5h-39.9zM497.7 469.4h11.3v2.5h-11.3zM524.1 469.4h20.1v2.5h-20.1zM559.3 469.4h9.1v2.5h-9.1zM627.5 469.4h2.5v2.5h-2.5zM651.7 469.4h6.9v2.5h-6.9zM667.1 469.4h9.1v2.5h-9.1zM110.5 471.6h4.7v2.5h-4.7zM147.9 471.6h22.3v2.5h-22.3zM191.9 471.6h13.5v2.5h-13.5zM271.1 471.6h2.5v2.5h-2.5zM447.1 471.6h13.5v2.5h-13.5zM539.5 471.6h6.9v2.5h-6.9zM554.9 471.6h9.1v2.5h-9.1zM568.1 471.6h2.5v2.5h-2.5zM627.5 471.6h2.5v2.5h-2.5zM651.7 471.6h6.9v2.5h-6.9zM667.1 471.6h9.1v2.5h-9.1zM62.1 473.8h13.5v2.5h-13.5zM95.1 473.8h13.5v2.5h-13.5zM154.5 473.8h11.3v2.5h-11.3zM271.1 473.8h2.5v2.5h-2.5zM444.9 473.8h2.5v2.5h-2.5zM541.7 473.8h17.9v2.5h-17.9zM570.3 473.8h2.5v2.5h-2.5zM625.3 473.8h4.7v2.5h-4.7zM651.7 473.8h6.9v2.5h-6.9zM667.1 473.8h9.1v2.5h-9.1zM59.9 476.0h35.5v2.5h-35.5zM158.9 476.0h4.7v2.5h-4.7zM271.1 476.0h2.5v2.5h-2.5zM429.5 476.0h15.7v2.5h-15.7zM572.5 476.0h2.5v2.5h-2.5zM625.3 476.0h4.7v2.5h-4.7zM651.7 476.0h6.9v2.5h-6.9zM664.9 476.0h11.3v2.5h-11.3zM59.9 478.2h4.7v2.5h-4.7zM81.9 478.2h9.1v2.5h-9.1zM271.1 478.2h2.5v2.5h-2.5zM387.7 478.2h31.1v2.5h-31.1zM574.7 478.2h4.7v2.5h-4.7zM625.3 478.2h4.7v2.5h-4.7zM651.7 478.2h9.1v2.5h-9.1zM662.7 478.2h6.9v2.5h-6.9zM42.3 480.4h4.7v2.5h-4.7zM59.9 480.4h2.5v2.5h-2.5zM271.1 480.4h2.5v2.5h-2.5zM378.9 480.4h4.7v2.5h-4.7zM576.9 480.4h4.7v2.5h-4.7zM627.5 480.4h4.7v2.5h-4.7zM651.7 480.4h15.7v2.5h-15.7zM42.3 482.6h6.9v2.5h-6.9zM59.9 482.6h2.5v2.5h-2.5zM271.1 482.6h2.5v2.5h-2.5zM376.7 482.6h2.5v2.5h-2.5zM579.1 482.6h2.5v2.5h-2.5zM598.9 482.6h24.5v2.5h-24.5zM627.5 482.6h4.7v2.5h-4.7zM651.7 482.6h13.5v2.5h-13.5zM42.3 484.8h6.9v2.5h-6.9zM57.7 484.8h2.5v2.5h-2.5zM271.1 484.8h2.5v2.5h-2.5zM374.5 484.8h2.5v2.5h-2.5zM581.3 484.8h9.1v2.5h-9.1zM594.5 484.8h26.7v2.5h-26.7zM629.7 484.8h2.5v2.5h-2.5zM649.5 484.8h15.7v2.5h-15.7zM57.7 487.0h2.5v2.5h-2.5zM271.1 487.0h2.5v2.5h-2.5zM370.1 487.0h4.7v2.5h-4.7zM590.1 487.0h22.3v2.5h-22.3zM631.9 487.0h37.7v2.5h-37.7zM57.7 489.2h2.5v2.5h-2.5zM271.1 489.2h2.5v2.5h-2.5zM361.3 489.2h4.7v2.5h-4.7zM594.5 489.2h6.9v2.5h-6.9zM636.3 489.2h9.1v2.5h-9.1zM664.9 489.2h11.3v2.5h-11.3zM57.7 491.4h2.5v2.5h-2.5zM271.1 491.4h2.5v2.5h-2.5zM359.1 491.4h2.5v2.5h-2.5zM596.7 491.4h2.5v2.5h-2.5zM55.5 493.6h2.5v2.5h-2.5zM273.3 493.6h2.5v2.5h-2.5zM356.9 493.6h2.5v2.5h-2.5zM598.9 493.6h11.3v2.5h-11.3zM42.3 495.8h15.7v2.5h-15.7zM275.5 495.8h11.3v2.5h-11.3zM356.9 495.8h2.5v2.5h-2.5zM609.9 495.8h4.7v2.5h-4.7zM660.5 495.8h15.7v2.5h-15.7zM42.3 498.0h4.7v2.5h-4.7zM123.7 498.0h4.7v2.5h-4.7zM286.5 498.0h2.5v2.5h-2.5zM356.9 498.0h2.5v2.5h-2.5zM614.3 498.0h4.7v2.5h-4.7zM658.3 498.0h9.1v2.5h-9.1zM123.7 500.2h6.9v2.5h-6.9zM288.7 500.2h2.5v2.5h-2.5zM308.5 500.2h13.5v2.5h-13.5zM356.9 500.2h2.5v2.5h-2.5zM616.5 500.2h4.7v2.5h-4.7zM656.1 500.2h4.7v2.5h-4.7zM123.7 502.4h6.9v2.5h-6.9zM290.9 502.4h35.5v2.5h-35.5zM356.9 502.4h4.7v2.5h-4.7zM616.5 502.4h9.1v2.5h-9.1zM656.1 502.4h4.7v2.5h-4.7zM123.7 504.6h4.7v2.5h-4.7zM317.3 504.6h17.9v2.5h-17.9zM354.7 504.6h6.9v2.5h-6.9zM618.7 504.6h26.7v2.5h-26.7zM658.3 504.6h6.9v2.5h-6.9zM42.3 506.8h6.9v2.5h-6.9zM321.7 506.8h17.9v2.5h-17.9zM350.3 506.8h15.7v2.5h-15.7zM620.9 506.8h31.1v2.5h-31.1zM660.5 506.8h6.9v2.5h-6.9zM46.7 509.0h2.5v2.5h-2.5zM330.5 509.0h11.3v2.5h-11.3zM348.1 509.0h2.5v2.5h-2.5zM359.1 509.0h9.1v2.5h-9.1zM649.5 509.0h2.5v2.5h-2.5zM664.9 509.0h4.7v2.5h-4.7zM48.9 511.2h2.5v2.5h-2.5zM332.7 511.2h11.3v2.5h-11.3zM345.9 511.2h4.7v2.5h-4.7zM359.1 511.2h9.1v2.5h-9.1zM649.5 511.2h4.7v2.5h-4.7zM664.9 511.2h4.7v2.5h-4.7zM48.9 513.4h2.5v2.5h-2.5zM334.9 513.4h13.5v2.5h-13.5zM361.3 513.4h4.7v2.5h-4.7zM651.7 513.4h9.1v2.5h-9.1zM664.9 513.4h11.3v2.5h-11.3zM48.9 515.6h2.5v2.5h-2.5zM656.1 515.6h20.1v2.5h-20.1zM48.9 517.8h2.5v2.5h-2.5zM660.5 517.8h6.9v2.5h-6.9zM51.1 520.0h2.5v2.5h-2.5zM660.5 520.0h6.9v2.5h-6.9zM53.3 522.2h2.5v2.5h-2.5zM326.1 522.2h37.7v2.5h-37.7zM660.5 522.2h6.9v2.5h-6.9zM55.5 524.4h2.5v2.5h-2.5zM125.9 524.4h20.1v2.5h-20.1zM323.9 524.4h9.1v2.5h-9.1zM363.5 524.4h17.9v2.5h-17.9zM660.5 524.4h6.9v2.5h-6.9zM121.5 526.6h13.5v2.5h-13.5zM145.7 526.6h2.5v2.5h-2.5zM323.9 526.6h4.7v2.5h-4.7zM372.3 526.6h11.3v2.5h-11.3zM660.5 526.6h6.9v2.5h-6.9zM121.5 528.8h2.5v2.5h-2.5zM145.7 528.8h2.5v2.5h-2.5zM321.7 528.8h4.7v2.5h-4.7zM383.3 528.8h2.5v2.5h-2.5zM660.5 528.8h6.9v2.5h-6.9zM117.1 531.0h4.7v2.5h-4.7zM147.9 531.0h4.7v2.5h-4.7zM310.7 531.0h13.5v2.5h-13.5zM385.5 531.0h4.7v2.5h-4.7zM658.3 531.0h11.3v2.5h-11.3zM108.3 533.2h9.1v2.5h-9.1zM158.9 533.2h13.5v2.5h-13.5zM238.1 533.2h4.7v2.5h-4.7zM308.5 533.2h11.3v2.5h-11.3zM389.9 533.2h4.7v2.5h-4.7zM656.1 533.2h20.1v2.5h-20.1zM97.3 535.4h11.3v2.5h-11.3zM176.5 535.4h11.3v2.5h-11.3zM235.9 535.4h2.5v2.5h-2.5zM242.5 535.4h2.5v2.5h-2.5zM306.3 535.4h2.5v2.5h-2.5zM394.3 535.4h154.3v2.5h-154.3zM574.7 535.4h101.5v2.5h-101.5zM97.3 537.6h2.5v2.5h-2.5zM185.3 537.6h6.9v2.5h-6.9zM235.9 537.6h2.5v2.5h-2.5zM242.5 537.6h2.5v2.5h-2.5zM306.3 537.6h2.5v2.5h-2.5zM396.5 537.6h279.7v2.5h-279.7zM191.9 539.8h4.7v2.5h-4.7zM235.9 539.8h2.5v2.5h-2.5zM242.5 539.8h2.5v2.5h-2.5zM306.3 539.8h2.5v2.5h-2.5zM396.5 539.8h279.7v2.5h-279.7zM196.3 542.0h17.9v2.5h-17.9zM235.9 542.0h2.5v2.5h-2.5zM242.5 542.0h2.5v2.5h-2.5zM304.1 542.0h2.5v2.5h-2.5zM396.5 542.0h279.7v2.5h-279.7zM57.7 544.2h2.5v2.5h-2.5zM213.9 544.2h9.1v2.5h-9.1zM235.9 544.2h2.5v2.5h-2.5zM242.5 544.2h2.5v2.5h-2.5zM304.1 544.2h2.5v2.5h-2.5zM396.5 544.2h279.7v2.5h-279.7zM57.7 546.4h2.5v2.5h-2.5zM218.3 546.4h6.9v2.5h-6.9zM235.9 546.4h2.5v2.5h-2.5zM242.5 546.4h2.5v2.5h-2.5zM304.1 546.4h2.5v2.5h-2.5zM396.5 546.4h279.7v2.5h-279.7zM57.7 548.6h2.5v2.5h-2.5zM218.3 548.6h6.9v2.5h-6.9zM235.9 548.6h2.5v2.5h-2.5zM242.5 548.6h2.5v2.5h-2.5zM304.1 548.6h2.5v2.5h-2.5zM396.5 548.6h279.7v2.5h-279.7z"/>
<path fill="#FFFFEA" d="M592.3 350.6h20.1v2.5h-20.1zM572.5 352.8h44.3v2.5h-44.3zM559.3 355.0h9.1v2.5h-9.1zM614.3 355.0h9.1v2.5h-9.1zM466.9 357.2h6.9v2.5h-6.9zM502.1 357.2h4.7v2.5h-4.7zM528.5 357.2h15.7v2.5h-15.7zM623.1 357.2h6.9v2.5h-6.9zM363.5 359.4h4.7v2.5h-4.7zM387.7 359.4h9.1v2.5h-9.1zM398.7 359.4h6.9v2.5h-6.9zM449.3 359.4h6.9v2.5h-6.9zM462.5 359.4h4.7v2.5h-4.7zM506.5 359.4h2.5v2.5h-2.5zM524.1 359.4h2.5v2.5h-2.5zM361.3 361.6h4.7v2.5h-4.7zM387.7 361.6h9.1v2.5h-9.1zM398.7 361.6h6.9v2.5h-6.9zM449.3 361.6h6.9v2.5h-6.9zM462.5 361.6h4.7v2.5h-4.7zM508.7 361.6h2.5v2.5h-2.5zM524.1 361.6h2.5v2.5h-2.5zM312.9 363.8h13.5v2.5h-13.5zM328.3 363.8h9.1v2.5h-9.1zM361.3 363.8h2.5v2.5h-2.5zM378.9 363.8h4.7v2.5h-4.7zM466.9 363.8h4.7v2.5h-4.7zM506.5 363.8h2.5v2.5h-2.5zM524.1 363.8h2.5v2.5h-2.5zM297.5 366.0h11.3v2.5h-11.3zM345.9 366.0h2.5v2.5h-2.5zM359.1 366.0h2.5v2.5h-2.5zM376.7 366.0h2.5v2.5h-2.5zM475.7 366.0h31.1v2.5h-31.1zM288.7 368.2h6.9v2.5h-6.9zM348.1 368.2h2.5v2.5h-2.5zM359.1 368.2h2.5v2.5h-2.5zM526.3 368.2h2.5v2.5h-2.5zM286.5 370.4h4.7v2.5h-4.7zM348.1 370.4h2.5v2.5h-2.5zM374.5 370.4h2.5v2.5h-2.5zM526.3 370.4h2.5v2.5h-2.5zM284.3 372.6h4.7v2.5h-4.7zM350.3 372.6h6.9v2.5h-6.9zM372.3 372.6h2.5v2.5h-2.5zM528.5 372.6h2.5v2.5h-2.5zM629.7 372.6h2.5v2.5h-2.5zM284.3 374.8h4.7v2.5h-4.7zM367.9 374.8h2.5v2.5h-2.5zM530.7 374.8h2.5v2.5h-2.5zM634.1 374.8h2.5v2.5h-2.5zM282.1 377.0h4.7v2.5h-4.7zM532.9 377.0h2.5v2.5h-2.5zM277.7 379.2h9.1v2.5h-9.1zM535.1 379.2h2.5v2.5h-2.5zM273.3 381.4h9.1v2.5h-9.1zM317.3 381.4h2.5v2.5h-2.5zM367.9 381.4h2.5v2.5h-2.5zM541.7 381.4h6.9v2.5h-6.9zM53.3 383.6h6.9v2.5h-6.9zM271.1 383.6h6.9v2.5h-6.9zM315.1 383.6h2.5v2.5h-2.5zM321.7 383.6h2.5v2.5h-2.5zM367.9 383.6h2.5v2.5h-2.5zM51.1 385.8h2.5v2.5h-2.5zM57.7 385.8h2.5v2.5h-2.5zM268.9 385.8h4.7v2.5h-4.7zM312.9 385.8h2.5v2.5h-2.5zM550.5 385.8h2.5v2.5h-2.5zM51.1 388.0h2.5v2.5h-2.5zM57.7 388.0h2.5v2.5h-2.5zM266.7 388.0h4.7v2.5h-4.7zM323.9 388.0h2.5v2.5h-2.5zM370.1 388.0h2.5v2.5h-2.5zM51.1 390.2h6.9v2.5h-6.9zM251.3 390.2h11.3v2.5h-11.3zM282.1 390.2h4.7v2.5h-4.7zM299.7 390.2h11.3v2.5h-11.3zM372.3 390.2h4.7v2.5h-4.7zM249.1 392.4h4.7v2.5h-4.7zM279.9 392.4h2.5v2.5h-2.5zM326.1 392.4h4.7v2.5h-4.7zM381.1 392.4h2.5v2.5h-2.5zM557.1 392.4h2.5v2.5h-2.5zM246.9 394.6h4.7v2.5h-4.7zM330.5 394.6h4.7v2.5h-4.7zM385.5 394.6h2.5v2.5h-2.5zM559.3 394.6h2.5v2.5h-2.5zM240.3 396.8h9.1v2.5h-9.1zM332.7 396.8h2.5v2.5h-2.5zM387.7 396.8h2.5v2.5h-2.5zM229.3 399.0h11.3v2.5h-11.3zM279.9 399.0h2.5v2.5h-2.5zM332.7 399.0h2.5v2.5h-2.5zM389.9 399.0h4.7v2.5h-4.7zM561.5 399.0h2.5v2.5h-2.5zM227.1 401.2h2.5v2.5h-2.5zM282.1 401.2h2.5v2.5h-2.5zM330.5 401.2h2.5v2.5h-2.5zM394.3 401.2h6.9v2.5h-6.9zM565.9 401.2h9.1v2.5h-9.1zM645.1 401.2h11.3v2.5h-11.3zM224.9 403.4h2.5v2.5h-2.5zM330.5 403.4h2.5v2.5h-2.5zM398.7 403.4h4.7v2.5h-4.7zM625.3 403.4h11.3v2.5h-11.3zM653.9 403.4h2.5v2.5h-2.5zM211.7 405.6h13.5v2.5h-13.5zM286.5 405.6h2.5v2.5h-2.5zM330.5 405.6h2.5v2.5h-2.5zM400.9 405.6h4.7v2.5h-4.7zM581.3 405.6h2.5v2.5h-2.5zM618.7 405.6h11.3v2.5h-11.3zM656.1 405.6h2.5v2.5h-2.5zM194.1 407.8h15.7v2.5h-15.7zM286.5 407.8h2.5v2.5h-2.5zM330.5 407.8h2.5v2.5h-2.5zM403.1 407.8h6.9v2.5h-6.9zM585.7 407.8h33.3v2.5h-33.3zM656.1 407.8h2.5v2.5h-2.5zM42.3 410.0h6.9v2.5h-6.9zM183.1 410.0h4.7v2.5h-4.7zM286.5 410.0h2.5v2.5h-2.5zM330.5 410.0h2.5v2.5h-2.5zM405.3 410.0h6.9v2.5h-6.9zM656.1 410.0h2.5v2.5h-2.5zM46.7 412.2h6.9v2.5h-6.9zM180.9 412.2h2.5v2.5h-2.5zM286.5 412.2h2.5v2.5h-2.5zM330.5 412.2h2.5v2.5h-2.5zM409.7 412.2h4.7v2.5h-4.7zM656.1 412.2h4.7v2.5h-4.7zM48.9 414.4h6.9v2.5h-6.9zM178.7 414.4h2.5v2.5h-2.5zM286.5 414.4h2.5v2.5h-2.5zM330.5 414.4h2.5v2.5h-2.5zM409.7 414.4h4.7v2.5h-4.7zM656.1 414.4h4.7v2.5h-4.7zM51.1 416.6h15.7v2.5h-15.7zM167.7 416.6h11.3v2.5h-11.3zM286.5 416.6h2.5v2.5h-2.5zM332.7 416.6h2.5v2.5h-2.5zM411.9 416.6h4.7v2.5h-4.7zM656.1 416.6h6.9v2.5h-6.9zM59.9 418.8h11.3v2.5h-11.3zM95.1 418.8h4.7v2.5h-4.7zM106.1 418.8h4.7v2.5h-4.7zM165.5 418.8h2.5v2.5h-2.5zM286.5 418.8h4.7v2.5h-4.7zM334.9 418.8h13.5v2.5h-13.5zM411.9 418.8h6.9v2.5h-6.9zM656.1 418.8h9.1v2.5h-9.1zM66.5 421.0h9.1v2.5h-9.1zM92.9 421.0h2.5v2.5h-2.5zM112.7 421.0h2.5v2.5h-2.5zM152.3 421.0h2.5v2.5h-2.5zM163.3 421.0h2.5v2.5h-2.5zM286.5 421.0h4.7v2.5h-4.7zM345.9 421.0h4.7v2.5h-4.7zM414.1 421.0h6.9v2.5h-6.9zM658.3 421.0h17.9v2.5h-17.9zM70.9 423.2h11.3v2.5h-11.3zM90.7 423.2h2.5v2.5h-2.5zM114.9 423.2h2.5v2.5h-2.5zM150.1 423.2h9.1v2.5h-9.1zM161.1 423.2h4.7v2.5h-4.7zM286.5 423.2h4.7v2.5h-4.7zM348.1 423.2h4.7v2.5h-4.7zM414.1 423.2h6.9v2.5h-6.9zM658.3 423.2h17.9v2.5h-17.9zM73.1 425.4h9.1v2.5h-9.1zM117.1 425.4h13.5v2.5h-13.5zM147.9 425.4h15.7v2.5h-15.7zM284.3 425.4h4.7v2.5h-4.7zM350.3 425.4h4.7v2.5h-4.7zM416.3 425.4h6.9v2.5h-6.9zM484.5 425.4h53.1v2.5h-53.1zM658.3 425.4h17.9v2.5h-17.9zM130.3 427.6h22.3v2.5h-22.3zM255.7 427.6h4.7v2.5h-4.7zM282.1 427.6h4.7v2.5h-4.7zM352.5 427.6h4.7v2.5h-4.7zM416.3 427.6h6.9v2.5h-6.9zM482.3 427.6h2.5v2.5h-2.5zM539.5 427.6h2.5v2.5h-2.5zM658.3 427.6h17.9v2.5h-17.9zM253.5 429.8h2.5v2.5h-2.5zM262.3 429.8h2.5v2.5h-2.5zM279.9 429.8h4.7v2.5h-4.7zM354.7 429.8h2.5v2.5h-2.5zM418.5 429.8h4.7v2.5h-4.7zM431.7 429.8h4.7v2.5h-4.7zM480.1 429.8h2.5v2.5h-2.5zM541.7 429.8h2.5v2.5h-2.5zM658.3 429.8h17.9v2.5h-17.9zM264.5 432.0h2.5v2.5h-2.5zM277.7 432.0h4.7v2.5h-4.7zM354.7 432.0h2.5v2.5h-2.5zM418.5 432.0h4.7v2.5h-4.7zM427.3 432.0h9.1v2.5h-9.1zM658.3 432.0h17.9v2.5h-17.9zM266.7 434.2h13.5v2.5h-13.5zM354.7 434.2h2.5v2.5h-2.5zM420.7 434.2h17.9v2.5h-17.9zM477.9 434.2h2.5v2.5h-2.5zM660.5 434.2h9.1v2.5h-9.1zM53.3 436.4h2.5v2.5h-2.5zM273.3 436.4h4.7v2.5h-4.7zM354.7 436.4h2.5v2.5h-2.5zM422.9 436.4h9.1v2.5h-9.1zM433.9 436.4h6.9v2.5h-6.9zM473.5 436.4h4.7v2.5h-4.7zM543.9 436.4h2.5v2.5h-2.5zM662.7 436.4h4.7v2.5h-4.7zM51.1 438.6h6.9v2.5h-6.9zM354.7 438.6h2.5v2.5h-2.5zM436.1 438.6h9.1v2.5h-9.1zM471.3 438.6h2.5v2.5h-2.5zM664.9 438.6h2.5v2.5h-2.5zM53.3 440.8h4.7v2.5h-4.7zM253.5 440.8h2.5v2.5h-2.5zM354.7 440.8h2.5v2.5h-2.5zM440.5 440.8h11.3v2.5h-11.3zM471.3 440.8h2.5v2.5h-2.5zM546.1 440.8h2.5v2.5h-2.5zM664.9 440.8h2.5v2.5h-2.5zM354.7 443.0h2.5v2.5h-2.5zM451.5 443.0h11.3v2.5h-11.3zM475.7 443.0h2.5v2.5h-2.5zM548.3 443.0h11.3v2.5h-11.3zM572.5 443.0h28.9v2.5h-28.9zM631.9 443.0h28.9v2.5h-28.9zM662.7 443.0h6.9v2.5h-6.9zM257.9 445.2h2.5v2.5h-2.5zM354.7 445.2h2.5v2.5h-2.5zM458.1 445.2h4.7v2.5h-4.7zM477.9 445.2h2.5v2.5h-2.5zM563.7 445.2h4.7v2.5h-4.7zM601.1 445.2h75.1v2.5h-75.1zM260.1 447.4h2.5v2.5h-2.5zM354.7 447.4h2.5v2.5h-2.5zM460.3 447.4h2.5v2.5h-2.5zM480.1 447.4h2.5v2.5h-2.5zM656.1 447.4h13.5v2.5h-13.5zM260.1 449.6h2.5v2.5h-2.5zM352.5 449.6h4.7v2.5h-4.7zM480.1 449.6h2.5v2.5h-2.5zM656.1 449.6h11.3v2.5h-11.3zM255.7 451.8h4.7v2.5h-4.7zM334.9 451.8h15.7v2.5h-15.7zM480.1 451.8h2.5v2.5h-2.5zM631.9 451.8h44.3v2.5h-44.3zM251.3 454.0h4.7v2.5h-4.7zM330.5 454.0h4.7v2.5h-4.7zM462.5 454.0h2.5v2.5h-2.5zM629.7 454.0h4.7v2.5h-4.7zM649.5 454.0h11.3v2.5h-11.3zM664.9 454.0h11.3v2.5h-11.3zM246.9 456.2h2.5v2.5h-2.5zM330.5 456.2h2.5v2.5h-2.5zM462.5 456.2h2.5v2.5h-2.5zM629.7 456.2h2.5v2.5h-2.5zM664.9 456.2h4.7v2.5h-4.7zM244.7 458.4h2.5v2.5h-2.5zM317.3 458.4h13.5v2.5h-13.5zM462.5 458.4h2.5v2.5h-2.5zM629.7 458.4h2.5v2.5h-2.5zM662.7 458.4h6.9v2.5h-6.9zM240.3 460.6h4.7v2.5h-4.7zM273.3 460.6h17.9v2.5h-17.9zM464.7 460.6h2.5v2.5h-2.5zM475.7 460.6h2.5v2.5h-2.5zM629.7 460.6h2.5v2.5h-2.5zM651.7 460.6h15.7v2.5h-15.7zM229.3 462.8h11.3v2.5h-11.3zM271.1 462.8h2.5v2.5h-2.5zM466.9 462.8h4.7v2.5h-4.7zM629.7 462.8h2.5v2.5h-2.5zM651.7 462.8h6.9v2.5h-6.9zM123.7 465.0h4.7v2.5h-4.7zM227.1 465.0h4.7v2.5h-4.7zM271.1 465.0h2.5v2.5h-2.5zM629.7 465.0h2.5v2.5h-2.5zM649.5 465.0h4.7v2.5h-4.7zM121.5 467.2h2.5v2.5h-2.5zM128.1 467.2h2.5v2.5h-2.5zM224.9 467.2h4.7v2.5h-4.7zM629.7 467.2h2.5v2.5h-2.5zM649.5 467.2h2.5v2.5h-2.5zM119.3 469.4h4.7v2.5h-4.7zM128.1 469.4h2.5v2.5h-2.5zM218.3 469.4h9.1v2.5h-9.1zM508.7 469.4h15.7v2.5h-15.7zM629.7 469.4h2.5v2.5h-2.5zM649.5 469.4h2.5v2.5h-2.5zM114.9 471.6h6.9v2.5h-6.9zM128.1 471.6h20.1v2.5h-20.1zM169.9 471.6h22.3v2.5h-22.3zM205.1 471.6h20.1v2.5h-20.1zM268.9 471.6h2.5v2.5h-2.5zM460.3 471.6h42.1v2.5h-42.1zM526.3 471.6h13.5v2.5h-13.5zM563.7 471.6h4.7v2.5h-4.7zM629.7 471.6h2.5v2.5h-2.5zM649.5 471.6h2.5v2.5h-2.5zM108.3 473.8h9.1v2.5h-9.1zM147.9 473.8h6.9v2.5h-6.9zM165.5 473.8h4.7v2.5h-4.7zM191.9 473.8h13.5v2.5h-13.5zM268.9 473.8h2.5v2.5h-2.5zM447.1 473.8h4.7v2.5h-4.7zM532.9 473.8h9.1v2.5h-9.1zM559.3 473.8h11.3v2.5h-11.3zM629.7 473.8h2.5v2.5h-2.5zM649.5 473.8h2.5v2.5h-2.5zM95.1 476.0h15.7v2.5h-15.7zM150.1 476.0h9.1v2.5h-9.1zM163.3 476.0h4.7v2.5h-4.7zM194.1 476.0h6.9v2.5h-6.9zM268.9 476.0h2.5v2.5h-2.5zM444.9 476.0h2.5v2.5h-2.5zM541.7 476.0h17.9v2.5h-17.9zM568.1 476.0h4.7v2.5h-4.7zM629.7 476.0h2.5v2.5h-2.5zM649.5 476.0h2.5v2.5h-2.5zM64.3 478.2h17.9v2.5h-17.9zM90.7 478.2h6.9v2.5h-6.9zM150.1 478.2h15.7v2.5h-15.7zM194.1 478.2h9.1v2.5h-9.1zM268.9 478.2h2.5v2.5h-2.5zM418.5 478.2h13.5v2.5h-13.5zM572.5 478.2h2.5v2.5h-2.5zM629.7 478.2h2.5v2.5h-2.5zM649.5 478.2h2.5v2.5h-2.5zM669.3 478.2h6.9v2.5h-6.9zM62.1 480.4h20.1v2.5h-20.1zM150.1 480.4h13.5v2.5h-13.5zM194.1 480.4h13.5v2.5h-13.5zM383.3 480.4h9.1v2.5h-9.1zM574.7 480.4h2.5v2.5h-2.5zM631.9 480.4h2.5v2.5h-2.5zM649.5 480.4h2.5v2.5h-2.5zM667.1 480.4h9.1v2.5h-9.1zM62.1 482.6h2.5v2.5h-2.5zM150.1 482.6h9.1v2.5h-9.1zM191.9 482.6h17.9v2.5h-17.9zM378.9 482.6h2.5v2.5h-2.5zM576.9 482.6h2.5v2.5h-2.5zM631.9 482.6h2.5v2.5h-2.5zM647.3 482.6h4.7v2.5h-4.7zM664.9 482.6h4.7v2.5h-4.7zM59.9 484.8h2.5v2.5h-2.5zM150.1 484.8h6.9v2.5h-6.9zM191.9 484.8h15.7v2.5h-15.7zM376.7 484.8h2.5v2.5h-2.5zM579.1 484.8h2.5v2.5h-2.5zM631.9 484.8h4.7v2.5h-4.7zM645.1 484.8h4.7v2.5h-4.7zM664.9 484.8h6.9v2.5h-6.9zM59.9 487.0h2.5v2.5h-2.5zM150.1 487.0h9.1v2.5h-9.1zM194.1 487.0h11.3v2.5h-11.3zM374.5 487.0h2.5v2.5h-2.5zM585.7 487.0h4.7v2.5h-4.7zM669.3 487.0h6.9v2.5h-6.9zM59.9 489.2h2.5v2.5h-2.5zM150.1 489.2h13.5v2.5h-13.5zM365.7 489.2h6.9v2.5h-6.9zM590.1 489.2h4.7v2.5h-4.7zM59.9 491.4h2.5v2.5h-2.5zM150.1 491.4h15.7v2.5h-15.7zM592.3 491.4h4.7v2.5h-4.7zM57.7 493.6h2.5v2.5h-2.5zM150.1 493.6h13.5v2.5h-13.5zM271.1 493.6h2.5v2.5h-2.5zM359.1 493.6h2.5v2.5h-2.5zM594.5 493.6h4.7v2.5h-4.7zM57.7 495.8h2.5v2.5h-2.5zM121.5 495.8h9.1v2.5h-9.1zM152.3 495.8h9.1v2.5h-9.1zM273.3 495.8h2.5v2.5h-2.5zM359.1 495.8h2.5v2.5h-2.5zM598.9 495.8h11.3v2.5h-11.3zM46.7 498.0h11.3v2.5h-11.3zM121.5 498.0h2.5v2.5h-2.5zM128.1 498.0h4.7v2.5h-4.7zM275.5 498.0h11.3v2.5h-11.3zM359.1 498.0h2.5v2.5h-2.5zM609.9 498.0h4.7v2.5h-4.7zM667.1 498.0h9.1v2.5h-9.1zM121.5 500.2h2.5v2.5h-2.5zM130.3 500.2h2.5v2.5h-2.5zM284.3 500.2h4.7v2.5h-4.7zM359.1 500.2h2.5v2.5h-2.5zM612.1 500.2h4.7v2.5h-4.7zM660.5 500.2h9.1v2.5h-9.1zM121.5 502.4h2.5v2.5h-2.5zM130.3 502.4h2.5v2.5h-2.5zM286.5 502.4h4.7v2.5h-4.7zM361.3 502.4h2.5v2.5h-2.5zM614.3 502.4h2.5v2.5h-2.5zM660.5 502.4h9.1v2.5h-9.1zM42.3 504.6h9.1v2.5h-9.1zM121.5 504.6h2.5v2.5h-2.5zM128.1 504.6h2.5v2.5h-2.5zM288.7 504.6h28.9v2.5h-28.9zM361.3 504.6h4.7v2.5h-4.7zM614.3 504.6h4.7v2.5h-4.7zM664.9 504.6h6.9v2.5h-6.9zM48.9 506.8h2.5v2.5h-2.5zM123.7 506.8h4.7v2.5h-4.7zM301.9 506.8h20.1v2.5h-20.1zM365.7 506.8h2.5v2.5h-2.5zM614.3 506.8h6.9v2.5h-6.9zM667.1 506.8h9.1v2.5h-9.1zM48.9 509.0h2.5v2.5h-2.5zM312.9 509.0h17.9v2.5h-17.9zM350.3 509.0h9.1v2.5h-9.1zM367.9 509.0h2.5v2.5h-2.5zM614.3 509.0h22.3v2.5h-22.3zM645.1 509.0h4.7v2.5h-4.7zM669.3 509.0h6.9v2.5h-6.9zM51.1 511.2h2.5v2.5h-2.5zM315.1 511.2h17.9v2.5h-17.9zM350.3 511.2h2.5v2.5h-2.5zM356.9 511.2h2.5v2.5h-2.5zM367.9 511.2h2.5v2.5h-2.5zM614.3 511.2h15.7v2.5h-15.7zM647.3 511.2h2.5v2.5h-2.5zM669.3 511.2h6.9v2.5h-6.9zM51.1 513.4h2.5v2.5h-2.5zM312.9 513.4h22.3v2.5h-22.3zM348.1 513.4h13.5v2.5h-13.5zM365.7 513.4h2.5v2.5h-2.5zM614.3 513.4h6.9v2.5h-6.9zM647.3 513.4h4.7v2.5h-4.7zM51.1 515.6h2.5v2.5h-2.5zM308.5 515.6h57.5v2.5h-57.5zM609.9 515.6h4.7v2.5h-4.7zM649.5 515.6h6.9v2.5h-6.9zM51.1 517.8h2.5v2.5h-2.5zM299.7 517.8h44.3v2.5h-44.3zM348.1 517.8h13.5v2.5h-13.5zM607.7 517.8h6.9v2.5h-6.9zM653.9 517.8h6.9v2.5h-6.9zM53.3 520.0h2.5v2.5h-2.5zM297.5 520.0h66.3v2.5h-66.3zM607.7 520.0h4.7v2.5h-4.7zM656.1 520.0h4.7v2.5h-4.7zM55.5 522.2h2.5v2.5h-2.5zM134.7 522.2h13.5v2.5h-13.5zM299.7 522.2h26.7v2.5h-26.7zM363.5 522.2h9.1v2.5h-9.1zM656.1 522.2h4.7v2.5h-4.7zM121.5 524.4h4.7v2.5h-4.7zM145.7 524.4h2.5v2.5h-2.5zM299.7 524.4h9.1v2.5h-9.1zM319.5 524.4h4.7v2.5h-4.7zM381.1 524.4h4.7v2.5h-4.7zM656.1 524.4h4.7v2.5h-4.7zM57.7 526.6h2.5v2.5h-2.5zM119.3 526.6h2.5v2.5h-2.5zM147.9 526.6h2.5v2.5h-2.5zM299.7 526.6h6.9v2.5h-6.9zM321.7 526.6h2.5v2.5h-2.5zM383.3 526.6h4.7v2.5h-4.7zM656.1 526.6h4.7v2.5h-4.7zM57.7 528.8h2.5v2.5h-2.5zM117.1 528.8h4.7v2.5h-4.7zM147.9 528.8h2.5v2.5h-2.5zM299.7 528.8h11.3v2.5h-11.3zM319.5 528.8h2.5v2.5h-2.5zM385.5 528.8h4.7v2.5h-4.7zM656.1 528.8h4.7v2.5h-4.7zM57.7 531.0h2.5v2.5h-2.5zM108.3 531.0h9.1v2.5h-9.1zM152.3 531.0h11.3v2.5h-11.3zM238.1 531.0h4.7v2.5h-4.7zM304.1 531.0h6.9v2.5h-6.9zM389.9 531.0h4.7v2.5h-4.7zM596.7 531.0h17.9v2.5h-17.9zM649.5 531.0h9.1v2.5h-9.1zM57.7 533.2h2.5v2.5h-2.5zM97.3 533.2h11.3v2.5h-11.3zM172.1 533.2h17.9v2.5h-17.9zM235.9 533.2h2.5v2.5h-2.5zM242.5 533.2h2.5v2.5h-2.5zM304.1 533.2h4.7v2.5h-4.7zM394.3 533.2h4.7v2.5h-4.7zM477.9 533.2h53.1v2.5h-53.1zM583.5 533.2h72.9v2.5h-72.9zM57.7 535.4h2.5v2.5h-2.5zM187.5 535.4h6.9v2.5h-6.9zM233.7 535.4h2.5v2.5h-2.5zM244.7 535.4h2.5v2.5h-2.5zM304.1 535.4h2.5v2.5h-2.5zM548.3 535.4h26.7v2.5h-26.7zM57.7 537.6h2.5v2.5h-2.5zM95.1 537.6h2.5v2.5h-2.5zM191.9 537.6h4.7v2.5h-4.7zM233.7 537.6h2.5v2.5h-2.5zM244.7 537.6h2.5v2.5h-2.5zM304.1 537.6h2.5v2.5h-2.5zM57.7 539.8h2.5v2.5h-2.5zM95.1 539.8h2.5v2.5h-2.5zM196.3 539.8h17.9v2.5h-17.9zM233.7 539.8h2.5v2.5h-2.5zM244.7 539.8h2.5v2.5h-2.5zM304.1 539.8h2.5v2.5h-2.5zM57.7 542.0h2.5v2.5h-2.5zM95.1 542.0h2.5v2.5h-2.5zM213.9 542.0h11.3v2.5h-11.3zM233.7 542.0h2.5v2.5h-2.5zM244.7 542.0h2.5v2.5h-2.5zM95.1 544.2h2.5v2.5h-2.5zM222.7 544.2h6.9v2.5h-6.9zM233.7 544.2h2.5v2.5h-2.5zM244.7 544.2h2.5v2.5h-2.5zM95.1 546.4h2.5v2.5h-2.5zM224.9 546.4h4.7v2.5h-4.7zM233.7 546.4h2.5v2.5h-2.5zM244.7 546.4h2.5v2.5h-2.5zM301.9 546.4h2.5v2.5h-2.5zM95.1 548.6h2.5v2.5h-2.5zM224.9 548.6h4.7v2.5h-4.7zM233.7 548.6h2.5v2.5h-2.5zM244.7 548.6h2.5v2.5h-2.5zM301.9 548.6h2.5v2.5h-2.5z"/>
<path fill="#FFF1BC" d="M587.9 348.4h26.7v2.5h-26.7zM574.7 350.6h17.9v2.5h-17.9zM612.1 350.6h9.1v2.5h-9.1zM568.1 352.8h4.7v2.5h-4.7zM616.5 352.8h6.9v2.5h-6.9zM466.9 355.0h37.7v2.5h-37.7zM546.1 355.0h13.5v2.5h-13.5zM623.1 355.0h6.9v2.5h-6.9zM363.5 357.2h31.1v2.5h-31.1zM400.9 357.2h53.1v2.5h-53.1zM462.5 357.2h4.7v2.5h-4.7zM506.5 357.2h2.5v2.5h-2.5zM526.3 357.2h2.5v2.5h-2.5zM359.1 359.4h4.7v2.5h-4.7zM396.5 359.4h2.5v2.5h-2.5zM455.9 359.4h6.9v2.5h-6.9zM508.7 359.4h2.5v2.5h-2.5zM521.9 359.4h2.5v2.5h-2.5zM629.7 359.4h2.5v2.5h-2.5zM323.9 361.6h22.3v2.5h-22.3zM359.1 361.6h2.5v2.5h-2.5zM396.5 361.6h2.5v2.5h-2.5zM455.9 361.6h6.9v2.5h-6.9zM519.7 361.6h4.7v2.5h-4.7zM629.7 361.6h2.5v2.5h-2.5zM304.1 363.8h9.1v2.5h-9.1zM337.1 363.8h13.5v2.5h-13.5zM359.1 363.8h2.5v2.5h-2.5zM383.3 363.8h11.3v2.5h-11.3zM400.9 363.8h53.1v2.5h-53.1zM464.7 363.8h2.5v2.5h-2.5zM508.7 363.8h2.5v2.5h-2.5zM521.9 363.8h2.5v2.5h-2.5zM629.7 363.8h2.5v2.5h-2.5zM288.7 366.0h9.1v2.5h-9.1zM348.1 366.0h2.5v2.5h-2.5zM356.9 366.0h2.5v2.5h-2.5zM378.9 366.0h2.5v2.5h-2.5zM466.9 366.0h9.1v2.5h-9.1zM506.5 366.0h2.5v2.5h-2.5zM524.1 366.0h2.5v2.5h-2.5zM629.7 366.0h2.5v2.5h-2.5zM284.3 368.2h4.7v2.5h-4.7zM350.3 368.2h2.5v2.5h-2.5zM356.9 368.2h2.5v2.5h-2.5zM376.7 368.2h2.5v2.5h-2.5zM475.7 368.2h28.9v2.5h-28.9zM524.1 368.2h2.5v2.5h-2.5zM629.7 368.2h2.5v2.5h-2.5zM277.7 370.4h9.1v2.5h-9.1zM350.3 370.4h2.5v2.5h-2.5zM356.9 370.4h2.5v2.5h-2.5zM524.1 370.4h2.5v2.5h-2.5zM629.7 370.4h2.5v2.5h-2.5zM275.5 372.6h9.1v2.5h-9.1zM374.5 372.6h2.5v2.5h-2.5zM526.3 372.6h2.5v2.5h-2.5zM631.9 372.6h2.5v2.5h-2.5zM62.1 374.8h4.7v2.5h-4.7zM273.3 374.8h11.3v2.5h-11.3zM370.1 374.8h2.5v2.5h-2.5zM526.3 374.8h4.7v2.5h-4.7zM636.3 374.8h39.9v2.5h-39.9zM59.9 377.0h9.1v2.5h-9.1zM271.1 377.0h11.3v2.5h-11.3zM367.9 377.0h2.5v2.5h-2.5zM530.7 377.0h2.5v2.5h-2.5zM55.5 379.2h11.3v2.5h-11.3zM268.9 379.2h9.1v2.5h-9.1zM367.9 379.2h2.5v2.5h-2.5zM532.9 379.2h2.5v2.5h-2.5zM51.1 381.4h13.5v2.5h-13.5zM266.7 381.4h6.9v2.5h-6.9zM537.3 381.4h4.7v2.5h-4.7zM48.9 383.6h4.7v2.5h-4.7zM59.9 383.6h4.7v2.5h-4.7zM264.5 383.6h6.9v2.5h-6.9zM317.3 383.6h4.7v2.5h-4.7zM546.1 383.6h4.7v2.5h-4.7zM48.9 385.8h2.5v2.5h-2.5zM59.9 385.8h4.7v2.5h-4.7zM246.9 385.8h4.7v2.5h-4.7zM262.3 385.8h6.9v2.5h-6.9zM315.1 385.8h2.5v2.5h-2.5zM321.7 385.8h2.5v2.5h-2.5zM370.1 385.8h2.5v2.5h-2.5zM48.9 388.0h2.5v2.5h-2.5zM59.9 388.0h2.5v2.5h-2.5zM242.5 388.0h24.5v2.5h-24.5zM312.9 388.0h2.5v2.5h-2.5zM550.5 388.0h2.5v2.5h-2.5zM48.9 390.2h2.5v2.5h-2.5zM57.7 390.2h2.5v2.5h-2.5zM240.3 390.2h11.3v2.5h-11.3zM286.5 390.2h13.5v2.5h-13.5zM310.7 390.2h2.5v2.5h-2.5zM323.9 390.2h2.5v2.5h-2.5zM376.7 390.2h4.7v2.5h-4.7zM552.7 390.2h2.5v2.5h-2.5zM48.9 392.4h9.1v2.5h-9.1zM238.1 392.4h11.3v2.5h-11.3zM282.1 392.4h2.5v2.5h-2.5zM383.3 392.4h4.7v2.5h-4.7zM554.9 392.4h2.5v2.5h-2.5zM229.3 394.6h17.9v2.5h-17.9zM279.9 394.6h2.5v2.5h-2.5zM328.3 394.6h2.5v2.5h-2.5zM387.7 394.6h2.5v2.5h-2.5zM224.9 396.8h15.7v2.5h-15.7zM279.9 396.8h2.5v2.5h-2.5zM330.5 396.8h2.5v2.5h-2.5zM389.9 396.8h9.1v2.5h-9.1zM559.3 396.8h2.5v2.5h-2.5zM222.7 399.0h6.9v2.5h-6.9zM282.1 399.0h2.5v2.5h-2.5zM330.5 399.0h2.5v2.5h-2.5zM394.3 399.0h9.1v2.5h-9.1zM211.7 401.2h15.7v2.5h-15.7zM284.3 401.2h2.5v2.5h-2.5zM328.3 401.2h2.5v2.5h-2.5zM400.9 401.2h4.7v2.5h-4.7zM563.7 401.2h2.5v2.5h-2.5zM209.5 403.4h15.7v2.5h-15.7zM286.5 403.4h2.5v2.5h-2.5zM328.3 403.4h2.5v2.5h-2.5zM403.1 403.4h6.9v2.5h-6.9zM576.9 403.4h2.5v2.5h-2.5zM636.3 403.4h17.9v2.5h-17.9zM202.9 405.6h9.1v2.5h-9.1zM328.3 405.6h2.5v2.5h-2.5zM405.3 405.6h9.1v2.5h-9.1zM579.1 405.6h2.5v2.5h-2.5zM629.7 405.6h26.7v2.5h-26.7zM42.3 407.8h11.3v2.5h-11.3zM185.3 407.8h9.1v2.5h-9.1zM288.7 407.8h2.5v2.5h-2.5zM328.3 407.8h2.5v2.5h-2.5zM409.7 407.8h6.9v2.5h-6.9zM581.3 407.8h4.7v2.5h-4.7zM618.7 407.8h37.7v2.5h-37.7zM48.9 410.0h17.9v2.5h-17.9zM180.9 410.0h2.5v2.5h-2.5zM288.7 410.0h2.5v2.5h-2.5zM328.3 410.0h2.5v2.5h-2.5zM411.9 410.0h6.9v2.5h-6.9zM638.5 410.0h17.9v2.5h-17.9zM53.3 412.2h15.7v2.5h-15.7zM169.9 412.2h11.3v2.5h-11.3zM288.7 412.2h2.5v2.5h-2.5zM301.9 412.2h9.1v2.5h-9.1zM328.3 412.2h2.5v2.5h-2.5zM414.1 412.2h13.5v2.5h-13.5zM640.7 412.2h15.7v2.5h-15.7zM55.5 414.4h15.7v2.5h-15.7zM163.3 414.4h15.7v2.5h-15.7zM288.7 414.4h2.5v2.5h-2.5zM297.5 414.4h17.9v2.5h-17.9zM328.3 414.4h2.5v2.5h-2.5zM414.1 414.4h15.7v2.5h-15.7zM640.7 414.4h15.7v2.5h-15.7zM66.5 416.6h13.5v2.5h-13.5zM95.1 416.6h13.5v2.5h-13.5zM161.1 416.6h6.9v2.5h-6.9zM288.7 416.6h4.7v2.5h-4.7zM297.5 416.6h15.7v2.5h-15.7zM330.5 416.6h2.5v2.5h-2.5zM416.3 416.6h13.5v2.5h-13.5zM642.9 416.6h13.5v2.5h-13.5zM70.9 418.8h13.5v2.5h-13.5zM90.7 418.8h4.7v2.5h-4.7zM110.5 418.8h4.7v2.5h-4.7zM150.1 418.8h15.7v2.5h-15.7zM290.9 418.8h6.9v2.5h-6.9zM330.5 418.8h4.7v2.5h-4.7zM418.5 418.8h11.3v2.5h-11.3zM647.3 418.8h9.1v2.5h-9.1zM75.3 421.0h17.9v2.5h-17.9zM114.9 421.0h11.3v2.5h-11.3zM147.9 421.0h4.7v2.5h-4.7zM154.5 421.0h9.1v2.5h-9.1zM290.9 421.0h6.9v2.5h-6.9zM334.9 421.0h11.3v2.5h-11.3zM420.7 421.0h9.1v2.5h-9.1zM649.5 421.0h9.1v2.5h-9.1zM81.9 423.2h9.1v2.5h-9.1zM117.1 423.2h17.9v2.5h-17.9zM147.9 423.2h2.5v2.5h-2.5zM158.9 423.2h2.5v2.5h-2.5zM290.9 423.2h6.9v2.5h-6.9zM341.5 423.2h6.9v2.5h-6.9zM420.7 423.2h11.3v2.5h-11.3zM649.5 423.2h9.1v2.5h-9.1zM130.3 425.4h17.9v2.5h-17.9zM288.7 425.4h9.1v2.5h-9.1zM341.5 425.4h9.1v2.5h-9.1zM422.9 425.4h13.5v2.5h-13.5zM482.3 425.4h2.5v2.5h-2.5zM537.3 425.4h4.7v2.5h-4.7zM649.5 425.4h9.1v2.5h-9.1zM286.5 427.6h6.9v2.5h-6.9zM297.5 427.6h6.9v2.5h-6.9zM341.5 427.6h11.3v2.5h-11.3zM422.9 427.6h15.7v2.5h-15.7zM480.1 427.6h2.5v2.5h-2.5zM541.7 427.6h2.5v2.5h-2.5zM649.5 427.6h9.1v2.5h-9.1zM255.7 429.8h2.5v2.5h-2.5zM260.1 429.8h2.5v2.5h-2.5zM284.3 429.8h6.9v2.5h-6.9zM297.5 429.8h9.1v2.5h-9.1zM341.5 429.8h13.5v2.5h-13.5zM422.9 429.8h9.1v2.5h-9.1zM436.1 429.8h4.7v2.5h-4.7zM458.1 429.8h4.7v2.5h-4.7zM649.5 429.8h9.1v2.5h-9.1zM253.5 432.0h2.5v2.5h-2.5zM262.3 432.0h2.5v2.5h-2.5zM282.1 432.0h6.9v2.5h-6.9zM297.5 432.0h9.1v2.5h-9.1zM341.5 432.0h13.5v2.5h-13.5zM422.9 432.0h4.7v2.5h-4.7zM436.1 432.0h4.7v2.5h-4.7zM455.9 432.0h9.1v2.5h-9.1zM477.9 432.0h2.5v2.5h-2.5zM543.9 432.0h2.5v2.5h-2.5zM649.5 432.0h9.1v2.5h-9.1zM253.5 434.2h2.5v2.5h-2.5zM262.3 434.2h4.7v2.5h-4.7zM279.9 434.2h9.1v2.5h-9.1zM299.7 434.2h4.7v2.5h-4.7zM341.5 434.2h13.5v2.5h-13.5zM438.3 434.2h11.3v2.5h-11.3zM453.7 434.2h13.5v2.5h-13.5zM471.3 434.2h6.9v2.5h-6.9zM543.9 434.2h2.5v2.5h-2.5zM647.3 434.2h13.5v2.5h-13.5zM253.5 436.4h2.5v2.5h-2.5zM266.7 436.4h6.9v2.5h-6.9zM277.7 436.4h11.3v2.5h-11.3zM341.5 436.4h13.5v2.5h-13.5zM440.5 436.4h33.3v2.5h-33.3zM546.1 436.4h2.5v2.5h-2.5zM634.1 436.4h28.9v2.5h-28.9zM253.5 438.6h2.5v2.5h-2.5zM271.1 438.6h17.9v2.5h-17.9zM341.5 438.6h13.5v2.5h-13.5zM444.9 438.6h26.7v2.5h-26.7zM546.1 438.6h4.7v2.5h-4.7zM631.9 438.6h33.3v2.5h-33.3zM273.3 440.8h13.5v2.5h-13.5zM341.5 440.8h13.5v2.5h-13.5zM451.5 440.8h20.1v2.5h-20.1zM548.3 440.8h11.3v2.5h-11.3zM572.5 440.8h28.9v2.5h-28.9zM629.7 440.8h35.5v2.5h-35.5zM255.7 443.0h4.7v2.5h-4.7zM343.7 443.0h11.3v2.5h-11.3zM462.5 443.0h4.7v2.5h-4.7zM471.3 443.0h4.7v2.5h-4.7zM559.3 443.0h13.5v2.5h-13.5zM601.1 443.0h31.1v2.5h-31.1zM660.5 443.0h2.5v2.5h-2.5zM260.1 445.2h4.7v2.5h-4.7zM348.1 445.2h6.9v2.5h-6.9zM462.5 445.2h2.5v2.5h-2.5zM262.3 447.4h2.5v2.5h-2.5zM350.3 447.4h4.7v2.5h-4.7zM462.5 447.4h2.5v2.5h-2.5zM669.3 447.4h6.9v2.5h-6.9zM262.3 449.6h2.5v2.5h-2.5zM334.9 449.6h17.9v2.5h-17.9zM462.5 449.6h2.5v2.5h-2.5zM667.1 449.6h9.1v2.5h-9.1zM260.1 451.8h4.7v2.5h-4.7zM328.3 451.8h6.9v2.5h-6.9zM462.5 451.8h2.5v2.5h-2.5zM255.7 454.0h6.9v2.5h-6.9zM317.3 454.0h13.5v2.5h-13.5zM464.7 454.0h2.5v2.5h-2.5zM634.1 454.0h15.7v2.5h-15.7zM660.5 454.0h4.7v2.5h-4.7zM249.1 456.2h4.7v2.5h-4.7zM315.1 456.2h15.7v2.5h-15.7zM464.7 456.2h2.5v2.5h-2.5zM477.9 456.2h2.5v2.5h-2.5zM631.9 456.2h4.7v2.5h-4.7zM647.3 456.2h17.9v2.5h-17.9zM246.9 458.4h4.7v2.5h-4.7zM273.3 458.4h44.3v2.5h-44.3zM464.7 458.4h2.5v2.5h-2.5zM475.7 458.4h4.7v2.5h-4.7zM631.9 458.4h2.5v2.5h-2.5zM649.5 458.4h13.5v2.5h-13.5zM244.7 460.6h4.7v2.5h-4.7zM271.1 460.6h2.5v2.5h-2.5zM466.9 460.6h9.1v2.5h-9.1zM631.9 460.6h2.5v2.5h-2.5zM647.3 460.6h4.7v2.5h-4.7zM240.3 462.8h9.1v2.5h-9.1zM268.9 462.8h2.5v2.5h-2.5zM631.9 462.8h2.5v2.5h-2.5zM647.3 462.8h4.7v2.5h-4.7zM231.5 465.0h9.1v2.5h-9.1zM268.9 465.0h2.5v2.5h-2.5zM631.9 465.0h2.5v2.5h-2.5zM647.3 465.0h2.5v2.5h-2.5zM123.7 467.2h4.7v2.5h-4.7zM229.3 467.2h6.9v2.5h-6.9zM268.9 467.2h2.5v2.5h-2.5zM631.9 467.2h2.5v2.5h-2.5zM647.3 467.2h2.5v2.5h-2.5zM123.7 469.4h4.7v2.5h-4.7zM227.1 469.4h9.1v2.5h-9.1zM268.9 469.4h2.5v2.5h-2.5zM631.9 469.4h2.5v2.5h-2.5zM647.3 469.4h2.5v2.5h-2.5zM121.5 471.6h6.9v2.5h-6.9zM224.9 471.6h11.3v2.5h-11.3zM502.1 471.6h24.5v2.5h-24.5zM631.9 471.6h2.5v2.5h-2.5zM647.3 471.6h2.5v2.5h-2.5zM117.1 473.8h31.1v2.5h-31.1zM169.9 473.8h22.3v2.5h-22.3zM205.1 473.8h31.1v2.5h-31.1zM266.7 473.8h2.5v2.5h-2.5zM451.5 473.8h46.5v2.5h-46.5zM528.5 473.8h4.7v2.5h-4.7zM631.9 473.8h2.5v2.5h-2.5zM647.3 473.8h2.5v2.5h-2.5zM110.5 476.0h28.9v2.5h-28.9zM145.7 476.0h4.7v2.5h-4.7zM167.7 476.0h6.9v2.5h-6.9zM189.7 476.0h4.7v2.5h-4.7zM200.7 476.0h33.3v2.5h-33.3zM266.7 476.0h2.5v2.5h-2.5zM447.1 476.0h22.3v2.5h-22.3zM530.7 476.0h11.3v2.5h-11.3zM559.3 476.0h9.1v2.5h-9.1zM631.9 476.0h4.7v2.5h-4.7zM647.3 476.0h2.5v2.5h-2.5zM97.3 478.2h42.1v2.5h-42.1zM145.7 478.2h4.7v2.5h-4.7zM165.5 478.2h9.1v2.5h-9.1zM187.5 478.2h6.9v2.5h-6.9zM202.9 478.2h22.3v2.5h-22.3zM431.7 478.2h15.7v2.5h-15.7zM543.9 478.2h11.3v2.5h-11.3zM570.3 478.2h2.5v2.5h-2.5zM631.9 478.2h4.7v2.5h-4.7zM647.3 478.2h2.5v2.5h-2.5zM81.9 480.4h57.5v2.5h-57.5zM145.7 480.4h4.7v2.5h-4.7zM163.3 480.4h11.3v2.5h-11.3zM185.3 480.4h9.1v2.5h-9.1zM207.3 480.4h13.5v2.5h-13.5zM268.9 480.4h2.5v2.5h-2.5zM392.1 480.4h13.5v2.5h-13.5zM572.5 480.4h2.5v2.5h-2.5zM634.1 480.4h4.7v2.5h-4.7zM645.1 480.4h4.7v2.5h-4.7zM64.3 482.6h26.7v2.5h-26.7zM110.5 482.6h28.9v2.5h-28.9zM145.7 482.6h4.7v2.5h-4.7zM158.9 482.6h15.7v2.5h-15.7zM183.1 482.6h9.1v2.5h-9.1zM209.5 482.6h9.1v2.5h-9.1zM268.9 482.6h2.5v2.5h-2.5zM381.1 482.6h6.9v2.5h-6.9zM574.7 482.6h2.5v2.5h-2.5zM634.1 482.6h13.5v2.5h-13.5zM669.3 482.6h6.9v2.5h-6.9zM62.1 484.8h13.5v2.5h-13.5zM112.7 484.8h26.7v2.5h-26.7zM145.7 484.8h4.7v2.5h-4.7zM156.7 484.8h17.9v2.5h-17.9zM183.1 484.8h9.1v2.5h-9.1zM207.3 484.8h11.3v2.5h-11.3zM268.9 484.8h2.5v2.5h-2.5zM378.9 484.8h2.5v2.5h-2.5zM576.9 484.8h2.5v2.5h-2.5zM636.3 484.8h9.1v2.5h-9.1zM671.5 484.8h4.7v2.5h-4.7zM62.1 487.0h4.7v2.5h-4.7zM112.7 487.0h26.7v2.5h-26.7zM145.7 487.0h4.7v2.5h-4.7zM158.9 487.0h17.9v2.5h-17.9zM180.9 487.0h13.5v2.5h-13.5zM205.1 487.0h11.3v2.5h-11.3zM268.9 487.0h2.5v2.5h-2.5zM376.7 487.0h2.5v2.5h-2.5zM581.3 487.0h4.7v2.5h-4.7zM62.1 489.2h2.5v2.5h-2.5zM112.7 489.2h26.7v2.5h-26.7zM145.7 489.2h4.7v2.5h-4.7zM163.3 489.2h50.9v2.5h-50.9zM255.7 489.2h4.7v2.5h-4.7zM268.9 489.2h2.5v2.5h-2.5zM372.3 489.2h4.7v2.5h-4.7zM587.9 489.2h2.5v2.5h-2.5zM62.1 491.4h2.5v2.5h-2.5zM112.7 491.4h26.7v2.5h-26.7zM145.7 491.4h4.7v2.5h-4.7zM165.5 491.4h46.5v2.5h-46.5zM253.5 491.4h9.1v2.5h-9.1zM268.9 491.4h2.5v2.5h-2.5zM361.3 491.4h6.9v2.5h-6.9zM590.1 491.4h2.5v2.5h-2.5zM59.9 493.6h2.5v2.5h-2.5zM112.7 493.6h26.7v2.5h-26.7zM145.7 493.6h4.7v2.5h-4.7zM163.3 493.6h46.5v2.5h-46.5zM255.7 493.6h4.7v2.5h-4.7zM268.9 493.6h2.5v2.5h-2.5zM361.3 493.6h2.5v2.5h-2.5zM592.3 493.6h2.5v2.5h-2.5zM59.9 495.8h2.5v2.5h-2.5zM114.9 495.8h6.9v2.5h-6.9zM130.3 495.8h9.1v2.5h-9.1zM145.7 495.8h6.9v2.5h-6.9zM161.1 495.8h46.5v2.5h-46.5zM268.9 495.8h4.7v2.5h-4.7zM361.3 495.8h2.5v2.5h-2.5zM596.7 495.8h2.5v2.5h-2.5zM57.7 498.0h4.7v2.5h-4.7zM117.1 498.0h4.7v2.5h-4.7zM132.5 498.0h6.9v2.5h-6.9zM145.7 498.0h24.5v2.5h-24.5zM271.1 498.0h4.7v2.5h-4.7zM361.3 498.0h4.7v2.5h-4.7zM598.9 498.0h11.3v2.5h-11.3zM42.3 500.2h20.1v2.5h-20.1zM117.1 500.2h4.7v2.5h-4.7zM132.5 500.2h6.9v2.5h-6.9zM147.9 500.2h20.1v2.5h-20.1zM275.5 500.2h9.1v2.5h-9.1zM361.3 500.2h6.9v2.5h-6.9zM609.9 500.2h2.5v2.5h-2.5zM669.3 500.2h6.9v2.5h-6.9zM42.3 502.4h17.9v2.5h-17.9zM119.3 502.4h2.5v2.5h-2.5zM132.5 502.4h6.9v2.5h-6.9zM147.9 502.4h17.9v2.5h-17.9zM279.9 502.4h6.9v2.5h-6.9zM363.5 502.4h6.9v2.5h-6.9zM612.1 502.4h2.5v2.5h-2.5zM669.3 502.4h6.9v2.5h-6.9zM51.1 504.6h6.9v2.5h-6.9zM119.3 504.6h2.5v2.5h-2.5zM130.3 504.6h9.1v2.5h-9.1zM147.9 504.6h15.7v2.5h-15.7zM282.1 504.6h6.9v2.5h-6.9zM365.7 504.6h6.9v2.5h-6.9zM609.9 504.6h4.7v2.5h-4.7zM671.5 504.6h4.7v2.5h-4.7zM51.1 506.8h4.7v2.5h-4.7zM119.3 506.8h4.7v2.5h-4.7zM128.1 506.8h6.9v2.5h-6.9zM139.1 506.8h9.1v2.5h-9.1zM286.5 506.8h15.7v2.5h-15.7zM367.9 506.8h6.9v2.5h-6.9zM609.9 506.8h4.7v2.5h-4.7zM51.1 509.0h4.7v2.5h-4.7zM119.3 509.0h13.5v2.5h-13.5zM139.1 509.0h9.1v2.5h-9.1zM301.9 509.0h11.3v2.5h-11.3zM370.1 509.0h6.9v2.5h-6.9zM607.7 509.0h6.9v2.5h-6.9zM636.3 509.0h9.1v2.5h-9.1zM53.3 511.2h2.5v2.5h-2.5zM121.5 511.2h9.1v2.5h-9.1zM139.1 511.2h9.1v2.5h-9.1zM304.1 511.2h11.3v2.5h-11.3zM352.5 511.2h4.7v2.5h-4.7zM370.1 511.2h6.9v2.5h-6.9zM607.7 511.2h6.9v2.5h-6.9zM629.7 511.2h17.9v2.5h-17.9zM53.3 513.4h2.5v2.5h-2.5zM123.7 513.4h4.7v2.5h-4.7zM139.1 513.4h9.1v2.5h-9.1zM299.7 513.4h13.5v2.5h-13.5zM367.9 513.4h6.9v2.5h-6.9zM605.5 513.4h9.1v2.5h-9.1zM620.9 513.4h26.7v2.5h-26.7zM53.3 515.6h2.5v2.5h-2.5zM139.1 515.6h9.1v2.5h-9.1zM295.3 515.6h13.5v2.5h-13.5zM365.7 515.6h6.9v2.5h-6.9zM605.5 515.6h4.7v2.5h-4.7zM614.3 515.6h20.1v2.5h-20.1zM638.5 515.6h11.3v2.5h-11.3zM53.3 517.8h4.7v2.5h-4.7zM139.1 517.8h9.1v2.5h-9.1zM290.9 517.8h9.1v2.5h-9.1zM343.7 517.8h4.7v2.5h-4.7zM361.3 517.8h9.1v2.5h-9.1zM603.3 517.8h4.7v2.5h-4.7zM614.3 517.8h11.3v2.5h-11.3zM640.7 517.8h13.5v2.5h-13.5zM55.5 520.0h2.5v2.5h-2.5zM125.9 520.0h24.5v2.5h-24.5zM288.7 520.0h9.1v2.5h-9.1zM363.5 520.0h17.9v2.5h-17.9zM603.3 520.0h4.7v2.5h-4.7zM612.1 520.0h11.3v2.5h-11.3zM640.7 520.0h15.7v2.5h-15.7zM57.7 522.2h2.5v2.5h-2.5zM117.1 522.2h17.9v2.5h-17.9zM147.9 522.2h2.5v2.5h-2.5zM290.9 522.2h9.1v2.5h-9.1zM372.3 522.2h13.5v2.5h-13.5zM601.1 522.2h20.1v2.5h-20.1zM642.9 522.2h13.5v2.5h-13.5zM57.7 524.4h2.5v2.5h-2.5zM114.9 524.4h6.9v2.5h-6.9zM147.9 524.4h2.5v2.5h-2.5zM293.1 524.4h6.9v2.5h-6.9zM308.5 524.4h11.3v2.5h-11.3zM385.5 524.4h4.7v2.5h-4.7zM601.1 524.4h17.9v2.5h-17.9zM647.3 524.4h9.1v2.5h-9.1zM112.7 526.6h6.9v2.5h-6.9zM150.1 526.6h2.5v2.5h-2.5zM295.3 526.6h4.7v2.5h-4.7zM306.3 526.6h15.7v2.5h-15.7zM387.7 526.6h4.7v2.5h-4.7zM598.9 526.6h17.9v2.5h-17.9zM649.5 526.6h6.9v2.5h-6.9zM108.3 528.8h9.1v2.5h-9.1zM150.1 528.8h4.7v2.5h-4.7zM238.1 528.8h4.7v2.5h-4.7zM295.3 528.8h4.7v2.5h-4.7zM310.7 528.8h9.1v2.5h-9.1zM389.9 528.8h4.7v2.5h-4.7zM594.5 528.8h22.3v2.5h-22.3zM647.3 528.8h9.1v2.5h-9.1zM97.3 531.0h11.3v2.5h-11.3zM163.3 531.0h13.5v2.5h-13.5zM180.9 531.0h13.5v2.5h-13.5zM233.7 531.0h4.7v2.5h-4.7zM242.5 531.0h4.7v2.5h-4.7zM297.5 531.0h6.9v2.5h-6.9zM394.3 531.0h154.3v2.5h-154.3zM574.7 531.0h22.3v2.5h-22.3zM614.3 531.0h35.5v2.5h-35.5zM95.1 533.2h2.5v2.5h-2.5zM189.7 533.2h17.9v2.5h-17.9zM233.7 533.2h2.5v2.5h-2.5zM244.7 533.2h2.5v2.5h-2.5zM299.7 533.2h4.7v2.5h-4.7zM398.7 533.2h79.5v2.5h-79.5zM530.7 533.2h53.1v2.5h-53.1zM95.1 535.4h2.5v2.5h-2.5zM194.1 535.4h15.7v2.5h-15.7zM231.5 535.4h2.5v2.5h-2.5zM246.9 535.4h2.5v2.5h-2.5zM301.9 535.4h2.5v2.5h-2.5zM196.3 537.6h17.9v2.5h-17.9zM231.5 537.6h2.5v2.5h-2.5zM246.9 537.6h2.5v2.5h-2.5zM301.9 537.6h2.5v2.5h-2.5zM213.9 539.8h15.7v2.5h-15.7zM231.5 539.8h2.5v2.5h-2.5zM246.9 539.8h2.5v2.5h-2.5zM301.9 539.8h2.5v2.5h-2.5zM59.9 542.0h2.5v2.5h-2.5zM224.9 542.0h9.1v2.5h-9.1zM246.9 542.0h4.7v2.5h-4.7zM299.7 542.0h4.7v2.5h-4.7zM59.9 544.2h2.5v2.5h-2.5zM92.9 544.2h2.5v2.5h-2.5zM229.3 544.2h4.7v2.5h-4.7zM246.9 544.2h6.9v2.5h-6.9zM297.5 544.2h6.9v2.5h-6.9zM59.9 546.4h2.5v2.5h-2.5zM92.9 546.4h2.5v2.5h-2.5zM229.3 546.4h4.7v2.5h-4.7zM246.9 546.4h6.9v2.5h-6.9zM297.5 546.4h4.7v2.5h-4.7zM59.9 548.6h2.5v2.5h-2.5zM92.9 548.6h2.5v2.5h-2.5zM229.3 548.6h4.7v2.5h-4.7zM246.9 548.6h6.9v2.5h-6.9zM297.5 548.6h4.7v2.5h-4.7z"/>
<path fill="#FFD699" d="M631.9 339.6h35.5v2.5h-35.5zM631.9 341.8h35.5v2.5h-35.5zM631.9 344.0h35.5v2.5h-35.5zM587.9 346.2h33.3v2.5h-33.3zM634.1 346.2h35.5v2.5h-35.5zM572.5 348.4h15.7v2.5h-15.7zM614.3 348.4h9.1v2.5h-9.1zM638.5 348.4h37.7v2.5h-37.7zM79.7 350.6h2.5v2.5h-2.5zM568.1 350.6h6.9v2.5h-6.9zM620.9 350.6h4.7v2.5h-4.7zM640.7 350.6h35.5v2.5h-35.5zM469.1 352.8h28.9v2.5h-28.9zM561.5 352.8h6.9v2.5h-6.9zM623.1 352.8h6.9v2.5h-6.9zM363.5 355.0h20.1v2.5h-20.1zM405.3 355.0h39.9v2.5h-39.9zM462.5 355.0h4.7v2.5h-4.7zM504.3 355.0h4.7v2.5h-4.7zM528.5 355.0h17.9v2.5h-17.9zM629.7 355.0h2.5v2.5h-2.5zM326.1 357.2h13.5v2.5h-13.5zM359.1 357.2h4.7v2.5h-4.7zM394.3 357.2h6.9v2.5h-6.9zM453.7 357.2h9.1v2.5h-9.1zM508.7 357.2h2.5v2.5h-2.5zM521.9 357.2h4.7v2.5h-4.7zM629.7 357.2h2.5v2.5h-2.5zM323.9 359.4h24.5v2.5h-24.5zM356.9 359.4h2.5v2.5h-2.5zM510.9 359.4h11.3v2.5h-11.3zM631.9 359.4h2.5v2.5h-2.5zM308.5 361.6h15.7v2.5h-15.7zM345.9 361.6h6.9v2.5h-6.9zM356.9 361.6h2.5v2.5h-2.5zM510.9 361.6h9.1v2.5h-9.1zM290.9 363.8h13.5v2.5h-13.5zM350.3 363.8h2.5v2.5h-2.5zM356.9 363.8h2.5v2.5h-2.5zM394.3 363.8h6.9v2.5h-6.9zM453.7 363.8h11.3v2.5h-11.3zM510.9 363.8h11.3v2.5h-11.3zM284.3 366.0h4.7v2.5h-4.7zM350.3 366.0h2.5v2.5h-2.5zM354.7 366.0h2.5v2.5h-2.5zM381.1 366.0h6.9v2.5h-6.9zM405.3 366.0h39.9v2.5h-39.9zM464.7 366.0h2.5v2.5h-2.5zM508.7 366.0h4.7v2.5h-4.7zM515.3 366.0h9.1v2.5h-9.1zM273.3 368.2h11.3v2.5h-11.3zM352.5 368.2h4.7v2.5h-4.7zM378.9 368.2h2.5v2.5h-2.5zM469.1 368.2h6.9v2.5h-6.9zM504.3 368.2h6.9v2.5h-6.9zM521.9 368.2h2.5v2.5h-2.5zM59.9 370.4h33.3v2.5h-33.3zM271.1 370.4h6.9v2.5h-6.9zM352.5 370.4h4.7v2.5h-4.7zM376.7 370.4h2.5v2.5h-2.5zM475.7 370.4h31.1v2.5h-31.1zM521.9 370.4h2.5v2.5h-2.5zM57.7 372.6h22.3v2.5h-22.3zM268.9 372.6h6.9v2.5h-6.9zM524.1 372.6h2.5v2.5h-2.5zM669.3 372.6h6.9v2.5h-6.9zM53.3 374.8h9.1v2.5h-9.1zM66.5 374.8h11.3v2.5h-11.3zM264.5 374.8h9.1v2.5h-9.1zM372.3 374.8h2.5v2.5h-2.5zM524.1 374.8h2.5v2.5h-2.5zM51.1 377.0h9.1v2.5h-9.1zM68.7 377.0h6.9v2.5h-6.9zM262.3 377.0h9.1v2.5h-9.1zM370.1 377.0h2.5v2.5h-2.5zM524.1 377.0h6.9v2.5h-6.9zM48.9 379.2h6.9v2.5h-6.9zM66.5 379.2h6.9v2.5h-6.9zM262.3 379.2h6.9v2.5h-6.9zM528.5 379.2h4.7v2.5h-4.7zM46.7 381.4h4.7v2.5h-4.7zM64.3 381.4h4.7v2.5h-4.7zM242.5 381.4h13.5v2.5h-13.5zM260.1 381.4h6.9v2.5h-6.9zM370.1 381.4h2.5v2.5h-2.5zM532.9 381.4h4.7v2.5h-4.7zM42.3 383.6h6.9v2.5h-6.9zM64.3 383.6h2.5v2.5h-2.5zM99.5 383.6h11.3v2.5h-11.3zM240.3 383.6h24.5v2.5h-24.5zM370.1 383.6h2.5v2.5h-2.5zM539.5 383.6h6.9v2.5h-6.9zM42.3 385.8h6.9v2.5h-6.9zM64.3 385.8h2.5v2.5h-2.5zM97.3 385.8h15.7v2.5h-15.7zM238.1 385.8h9.1v2.5h-9.1zM251.3 385.8h11.3v2.5h-11.3zM548.3 385.8h2.5v2.5h-2.5zM42.3 388.0h6.9v2.5h-6.9zM62.1 388.0h2.5v2.5h-2.5zM97.3 388.0h15.7v2.5h-15.7zM233.7 388.0h9.1v2.5h-9.1zM315.1 388.0h2.5v2.5h-2.5zM321.7 388.0h2.5v2.5h-2.5zM372.3 388.0h4.7v2.5h-4.7zM42.3 390.2h6.9v2.5h-6.9zM59.9 390.2h2.5v2.5h-2.5zM97.3 390.2h13.5v2.5h-13.5zM224.9 390.2h15.7v2.5h-15.7zM312.9 390.2h2.5v2.5h-2.5zM321.7 390.2h2.5v2.5h-2.5zM381.1 390.2h4.7v2.5h-4.7zM550.5 390.2h2.5v2.5h-2.5zM42.3 392.4h6.9v2.5h-6.9zM57.7 392.4h2.5v2.5h-2.5zM95.1 392.4h11.3v2.5h-11.3zM211.7 392.4h26.7v2.5h-26.7zM284.3 392.4h4.7v2.5h-4.7zM323.9 392.4h2.5v2.5h-2.5zM387.7 392.4h2.5v2.5h-2.5zM42.3 394.6h15.7v2.5h-15.7zM90.7 394.6h13.5v2.5h-13.5zM202.9 394.6h26.7v2.5h-26.7zM326.1 394.6h2.5v2.5h-2.5zM389.9 394.6h9.1v2.5h-9.1zM557.1 394.6h2.5v2.5h-2.5zM42.3 396.8h15.7v2.5h-15.7zM88.5 396.8h13.5v2.5h-13.5zM200.7 396.8h24.5v2.5h-24.5zM282.1 396.8h2.5v2.5h-2.5zM326.1 396.8h4.7v2.5h-4.7zM398.7 396.8h6.9v2.5h-6.9zM42.3 399.0h15.7v2.5h-15.7zM88.5 399.0h11.3v2.5h-11.3zM200.7 399.0h22.3v2.5h-22.3zM284.3 399.0h2.5v2.5h-2.5zM326.1 399.0h4.7v2.5h-4.7zM403.1 399.0h6.9v2.5h-6.9zM559.3 399.0h2.5v2.5h-2.5zM42.3 401.2h17.9v2.5h-17.9zM86.3 401.2h11.3v2.5h-11.3zM200.7 401.2h11.3v2.5h-11.3zM286.5 401.2h2.5v2.5h-2.5zM326.1 401.2h2.5v2.5h-2.5zM405.3 401.2h9.1v2.5h-9.1zM561.5 401.2h2.5v2.5h-2.5zM42.3 403.4h53.1v2.5h-53.1zM200.7 403.4h9.1v2.5h-9.1zM288.7 403.4h2.5v2.5h-2.5zM326.1 403.4h2.5v2.5h-2.5zM409.7 403.4h9.1v2.5h-9.1zM574.7 403.4h2.5v2.5h-2.5zM42.3 405.6h53.1v2.5h-53.1zM187.5 405.6h15.7v2.5h-15.7zM288.7 405.6h2.5v2.5h-2.5zM326.1 405.6h2.5v2.5h-2.5zM414.1 405.6h9.1v2.5h-9.1zM576.9 405.6h2.5v2.5h-2.5zM53.3 407.8h39.9v2.5h-39.9zM180.9 407.8h4.7v2.5h-4.7zM323.9 407.8h4.7v2.5h-4.7zM416.3 407.8h15.7v2.5h-15.7zM579.1 407.8h2.5v2.5h-2.5zM66.5 410.0h22.3v2.5h-22.3zM178.7 410.0h2.5v2.5h-2.5zM290.9 410.0h2.5v2.5h-2.5zM321.7 410.0h6.9v2.5h-6.9zM418.5 410.0h15.7v2.5h-15.7zM583.5 410.0h55.3v2.5h-55.3zM68.7 412.2h17.9v2.5h-17.9zM158.9 412.2h11.3v2.5h-11.3zM290.9 412.2h11.3v2.5h-11.3zM310.7 412.2h17.9v2.5h-17.9zM427.3 412.2h9.1v2.5h-9.1zM629.7 412.2h11.3v2.5h-11.3zM70.9 414.4h17.9v2.5h-17.9zM95.1 414.4h6.9v2.5h-6.9zM154.5 414.4h9.1v2.5h-9.1zM290.9 414.4h6.9v2.5h-6.9zM315.1 414.4h13.5v2.5h-13.5zM429.5 414.4h9.1v2.5h-9.1zM631.9 414.4h9.1v2.5h-9.1zM79.7 416.6h15.7v2.5h-15.7zM108.3 416.6h6.9v2.5h-6.9zM150.1 416.6h11.3v2.5h-11.3zM293.1 416.6h4.7v2.5h-4.7zM312.9 416.6h17.9v2.5h-17.9zM429.5 416.6h11.3v2.5h-11.3zM631.9 416.6h11.3v2.5h-11.3zM84.1 418.8h6.9v2.5h-6.9zM114.9 418.8h11.3v2.5h-11.3zM147.9 418.8h2.5v2.5h-2.5zM297.5 418.8h33.3v2.5h-33.3zM429.5 418.8h15.7v2.5h-15.7zM631.9 418.8h15.7v2.5h-15.7zM125.9 421.0h11.3v2.5h-11.3zM145.7 421.0h2.5v2.5h-2.5zM297.5 421.0h37.7v2.5h-37.7zM429.5 421.0h17.9v2.5h-17.9zM631.9 421.0h17.9v2.5h-17.9zM134.7 423.2h13.5v2.5h-13.5zM297.5 423.2h44.3v2.5h-44.3zM431.7 423.2h15.7v2.5h-15.7zM482.3 423.2h59.7v2.5h-59.7zM631.9 423.2h17.9v2.5h-17.9zM297.5 425.4h44.3v2.5h-44.3zM436.1 425.4h13.5v2.5h-13.5zM480.1 425.4h2.5v2.5h-2.5zM541.7 425.4h2.5v2.5h-2.5zM629.7 425.4h20.1v2.5h-20.1zM293.1 427.6h4.7v2.5h-4.7zM304.1 427.6h22.3v2.5h-22.3zM330.5 427.6h11.3v2.5h-11.3zM438.3 427.6h26.7v2.5h-26.7zM477.9 427.6h2.5v2.5h-2.5zM543.9 427.6h2.5v2.5h-2.5zM625.3 427.6h24.5v2.5h-24.5zM257.9 429.8h2.5v2.5h-2.5zM290.9 429.8h6.9v2.5h-6.9zM306.3 429.8h17.9v2.5h-17.9zM332.7 429.8h9.1v2.5h-9.1zM440.5 429.8h17.9v2.5h-17.9zM462.5 429.8h9.1v2.5h-9.1zM477.9 429.8h2.5v2.5h-2.5zM543.9 429.8h2.5v2.5h-2.5zM623.1 429.8h26.7v2.5h-26.7zM255.7 432.0h2.5v2.5h-2.5zM260.1 432.0h2.5v2.5h-2.5zM288.7 432.0h9.1v2.5h-9.1zM306.3 432.0h17.9v2.5h-17.9zM332.7 432.0h9.1v2.5h-9.1zM440.5 432.0h15.7v2.5h-15.7zM464.7 432.0h13.5v2.5h-13.5zM623.1 432.0h26.7v2.5h-26.7zM255.7 434.2h2.5v2.5h-2.5zM260.1 434.2h2.5v2.5h-2.5zM288.7 434.2h11.3v2.5h-11.3zM304.1 434.2h17.9v2.5h-17.9zM332.7 434.2h9.1v2.5h-9.1zM449.3 434.2h4.7v2.5h-4.7zM466.9 434.2h4.7v2.5h-4.7zM546.1 434.2h2.5v2.5h-2.5zM620.9 434.2h26.7v2.5h-26.7zM255.7 436.4h2.5v2.5h-2.5zM260.1 436.4h6.9v2.5h-6.9zM288.7 436.4h20.1v2.5h-20.1zM332.7 436.4h9.1v2.5h-9.1zM548.3 436.4h2.5v2.5h-2.5zM574.7 436.4h11.3v2.5h-11.3zM616.5 436.4h17.9v2.5h-17.9zM255.7 438.6h2.5v2.5h-2.5zM266.7 438.6h4.7v2.5h-4.7zM288.7 438.6h17.9v2.5h-17.9zM332.7 438.6h9.1v2.5h-9.1zM550.5 438.6h9.1v2.5h-9.1zM572.5 438.6h31.1v2.5h-31.1zM614.3 438.6h17.9v2.5h-17.9zM255.7 440.8h4.7v2.5h-4.7zM268.9 440.8h4.7v2.5h-4.7zM286.5 440.8h20.1v2.5h-20.1zM332.7 440.8h9.1v2.5h-9.1zM559.3 440.8h13.5v2.5h-13.5zM601.1 440.8h28.9v2.5h-28.9zM260.1 443.0h6.9v2.5h-6.9zM268.9 443.0h39.9v2.5h-39.9zM330.5 443.0h13.5v2.5h-13.5zM466.9 443.0h4.7v2.5h-4.7zM264.5 445.2h26.7v2.5h-26.7zM295.3 445.2h53.1v2.5h-53.1zM464.7 445.2h4.7v2.5h-4.7zM471.3 445.2h6.9v2.5h-6.9zM264.5 447.4h6.9v2.5h-6.9zM297.5 447.4h53.1v2.5h-53.1zM464.7 447.4h2.5v2.5h-2.5zM477.9 447.4h2.5v2.5h-2.5zM264.5 449.6h6.9v2.5h-6.9zM297.5 449.6h37.7v2.5h-37.7zM464.7 449.6h2.5v2.5h-2.5zM264.5 451.8h9.1v2.5h-9.1zM295.3 451.8h33.3v2.5h-33.3zM464.7 451.8h2.5v2.5h-2.5zM477.9 451.8h2.5v2.5h-2.5zM262.3 454.0h55.3v2.5h-55.3zM477.9 454.0h2.5v2.5h-2.5zM253.5 456.2h61.9v2.5h-61.9zM475.7 456.2h2.5v2.5h-2.5zM636.3 456.2h11.3v2.5h-11.3zM251.3 458.4h4.7v2.5h-4.7zM262.3 458.4h11.3v2.5h-11.3zM466.9 458.4h9.1v2.5h-9.1zM634.1 458.4h15.7v2.5h-15.7zM249.1 460.6h9.1v2.5h-9.1zM262.3 460.6h9.1v2.5h-9.1zM634.1 460.6h13.5v2.5h-13.5zM249.1 462.8h13.5v2.5h-13.5zM266.7 462.8h2.5v2.5h-2.5zM634.1 462.8h2.5v2.5h-2.5zM638.5 462.8h9.1v2.5h-9.1zM240.3 465.0h22.3v2.5h-22.3zM266.7 465.0h2.5v2.5h-2.5zM634.1 465.0h2.5v2.5h-2.5zM640.7 465.0h6.9v2.5h-6.9zM235.9 467.2h26.7v2.5h-26.7zM266.7 467.2h2.5v2.5h-2.5zM634.1 467.2h2.5v2.5h-2.5zM640.7 467.2h6.9v2.5h-6.9zM235.9 469.4h26.7v2.5h-26.7zM266.7 469.4h2.5v2.5h-2.5zM634.1 469.4h2.5v2.5h-2.5zM640.7 469.4h6.9v2.5h-6.9zM235.9 471.6h11.3v2.5h-11.3zM262.3 471.6h6.9v2.5h-6.9zM634.1 471.6h6.9v2.5h-6.9zM645.1 471.6h2.5v2.5h-2.5zM235.9 473.8h9.1v2.5h-9.1zM262.3 473.8h4.7v2.5h-4.7zM497.7 473.8h17.9v2.5h-17.9zM524.1 473.8h4.7v2.5h-4.7zM634.1 473.8h6.9v2.5h-6.9zM645.1 473.8h2.5v2.5h-2.5zM139.1 476.0h6.9v2.5h-6.9zM174.3 476.0h15.7v2.5h-15.7zM233.7 476.0h11.3v2.5h-11.3zM262.3 476.0h4.7v2.5h-4.7zM469.1 476.0h28.9v2.5h-28.9zM528.5 476.0h2.5v2.5h-2.5zM636.3 476.0h6.9v2.5h-6.9zM645.1 476.0h2.5v2.5h-2.5zM139.1 478.2h6.9v2.5h-6.9zM174.3 478.2h13.5v2.5h-13.5zM224.9 478.2h17.9v2.5h-17.9zM262.3 478.2h6.9v2.5h-6.9zM447.1 478.2h4.7v2.5h-4.7zM535.1 478.2h9.1v2.5h-9.1zM554.9 478.2h9.1v2.5h-9.1zM565.9 478.2h4.7v2.5h-4.7zM636.3 478.2h11.3v2.5h-11.3zM139.1 480.4h6.9v2.5h-6.9zM174.3 480.4h11.3v2.5h-11.3zM220.5 480.4h17.9v2.5h-17.9zM255.7 480.4h6.9v2.5h-6.9zM266.7 480.4h2.5v2.5h-2.5zM405.3 480.4h37.7v2.5h-37.7zM570.3 480.4h2.5v2.5h-2.5zM638.5 480.4h6.9v2.5h-6.9zM90.7 482.6h20.1v2.5h-20.1zM139.1 482.6h6.9v2.5h-6.9zM174.3 482.6h9.1v2.5h-9.1zM218.3 482.6h11.3v2.5h-11.3zM253.5 482.6h9.1v2.5h-9.1zM266.7 482.6h2.5v2.5h-2.5zM387.7 482.6h6.9v2.5h-6.9zM572.5 482.6h2.5v2.5h-2.5zM75.3 484.8h37.7v2.5h-37.7zM139.1 484.8h6.9v2.5h-6.9zM174.3 484.8h9.1v2.5h-9.1zM218.3 484.8h9.1v2.5h-9.1zM253.5 484.8h9.1v2.5h-9.1zM266.7 484.8h2.5v2.5h-2.5zM381.1 484.8h4.7v2.5h-4.7zM574.7 484.8h2.5v2.5h-2.5zM66.5 487.0h46.5v2.5h-46.5zM139.1 487.0h6.9v2.5h-6.9zM176.5 487.0h4.7v2.5h-4.7zM216.1 487.0h11.3v2.5h-11.3zM251.3 487.0h13.5v2.5h-13.5zM266.7 487.0h2.5v2.5h-2.5zM378.9 487.0h4.7v2.5h-4.7zM579.1 487.0h2.5v2.5h-2.5zM64.3 489.2h15.7v2.5h-15.7zM92.9 489.2h20.1v2.5h-20.1zM139.1 489.2h6.9v2.5h-6.9zM213.9 489.2h13.5v2.5h-13.5zM246.9 489.2h9.1v2.5h-9.1zM260.1 489.2h9.1v2.5h-9.1zM376.7 489.2h2.5v2.5h-2.5zM585.7 489.2h2.5v2.5h-2.5zM64.3 491.4h6.9v2.5h-6.9zM95.1 491.4h17.9v2.5h-17.9zM139.1 491.4h6.9v2.5h-6.9zM211.7 491.4h15.7v2.5h-15.7zM244.7 491.4h9.1v2.5h-9.1zM262.3 491.4h6.9v2.5h-6.9zM367.9 491.4h6.9v2.5h-6.9zM587.9 491.4h2.5v2.5h-2.5zM62.1 493.6h6.9v2.5h-6.9zM95.1 493.6h17.9v2.5h-17.9zM139.1 493.6h6.9v2.5h-6.9zM209.5 493.6h17.9v2.5h-17.9zM244.7 493.6h11.3v2.5h-11.3zM260.1 493.6h9.1v2.5h-9.1zM363.5 493.6h4.7v2.5h-4.7zM590.1 493.6h2.5v2.5h-2.5zM62.1 495.8h9.1v2.5h-9.1zM97.3 495.8h17.9v2.5h-17.9zM139.1 495.8h6.9v2.5h-6.9zM207.3 495.8h22.3v2.5h-22.3zM246.9 495.8h22.3v2.5h-22.3zM363.5 495.8h6.9v2.5h-6.9zM592.3 495.8h4.7v2.5h-4.7zM62.1 498.0h13.5v2.5h-13.5zM110.5 498.0h6.9v2.5h-6.9zM139.1 498.0h6.9v2.5h-6.9zM169.9 498.0h64.1v2.5h-64.1zM251.3 498.0h13.5v2.5h-13.5zM266.7 498.0h4.7v2.5h-4.7zM365.7 498.0h6.9v2.5h-6.9zM596.7 498.0h2.5v2.5h-2.5zM62.1 500.2h15.7v2.5h-15.7zM112.7 500.2h4.7v2.5h-4.7zM139.1 500.2h9.1v2.5h-9.1zM167.7 500.2h68.5v2.5h-68.5zM268.9 500.2h6.9v2.5h-6.9zM367.9 500.2h6.9v2.5h-6.9zM601.1 500.2h9.1v2.5h-9.1zM59.9 502.4h17.9v2.5h-17.9zM112.7 502.4h6.9v2.5h-6.9zM139.1 502.4h9.1v2.5h-9.1zM165.5 502.4h70.7v2.5h-70.7zM271.1 502.4h9.1v2.5h-9.1zM370.1 502.4h6.9v2.5h-6.9zM605.5 502.4h6.9v2.5h-6.9zM57.7 504.6h17.9v2.5h-17.9zM112.7 504.6h6.9v2.5h-6.9zM139.1 504.6h9.1v2.5h-9.1zM163.3 504.6h72.9v2.5h-72.9zM273.3 504.6h9.1v2.5h-9.1zM372.3 504.6h6.9v2.5h-6.9zM603.3 504.6h6.9v2.5h-6.9zM55.5 506.8h15.7v2.5h-15.7zM112.7 506.8h6.9v2.5h-6.9zM134.7 506.8h4.7v2.5h-4.7zM147.9 506.8h55.3v2.5h-55.3zM207.3 506.8h28.9v2.5h-28.9zM273.3 506.8h13.5v2.5h-13.5zM374.5 506.8h6.9v2.5h-6.9zM603.3 506.8h6.9v2.5h-6.9zM55.5 509.0h13.5v2.5h-13.5zM112.7 509.0h6.9v2.5h-6.9zM132.5 509.0h6.9v2.5h-6.9zM147.9 509.0h53.1v2.5h-53.1zM209.5 509.0h26.7v2.5h-26.7zM273.3 509.0h28.9v2.5h-28.9zM376.7 509.0h6.9v2.5h-6.9zM603.3 509.0h4.7v2.5h-4.7zM55.5 511.2h11.3v2.5h-11.3zM112.7 511.2h9.1v2.5h-9.1zM130.3 511.2h9.1v2.5h-9.1zM147.9 511.2h53.1v2.5h-53.1zM209.5 511.2h26.7v2.5h-26.7zM273.3 511.2h17.9v2.5h-17.9zM295.3 511.2h9.1v2.5h-9.1zM376.7 511.2h9.1v2.5h-9.1zM603.3 511.2h4.7v2.5h-4.7zM55.5 513.4h9.1v2.5h-9.1zM112.7 513.4h11.3v2.5h-11.3zM128.1 513.4h11.3v2.5h-11.3zM147.9 513.4h55.3v2.5h-55.3zM207.3 513.4h26.7v2.5h-26.7zM271.1 513.4h28.9v2.5h-28.9zM374.5 513.4h11.3v2.5h-11.3zM601.1 513.4h4.7v2.5h-4.7zM55.5 515.6h9.1v2.5h-9.1zM112.7 515.6h26.7v2.5h-26.7zM147.9 515.6h11.3v2.5h-11.3zM180.9 515.6h39.9v2.5h-39.9zM268.9 515.6h26.7v2.5h-26.7zM372.3 515.6h13.5v2.5h-13.5zM601.1 515.6h4.7v2.5h-4.7zM634.1 515.6h4.7v2.5h-4.7zM57.7 517.8h4.7v2.5h-4.7zM112.7 517.8h26.7v2.5h-26.7zM147.9 517.8h9.1v2.5h-9.1zM183.1 517.8h35.5v2.5h-35.5zM264.5 517.8h26.7v2.5h-26.7zM370.1 517.8h15.7v2.5h-15.7zM510.9 517.8h13.5v2.5h-13.5zM598.9 517.8h4.7v2.5h-4.7zM625.3 517.8h15.7v2.5h-15.7zM57.7 520.0h4.7v2.5h-4.7zM112.7 520.0h13.5v2.5h-13.5zM150.1 520.0h6.9v2.5h-6.9zM183.1 520.0h35.5v2.5h-35.5zM262.3 520.0h26.7v2.5h-26.7zM381.1 520.0h6.9v2.5h-6.9zM508.7 520.0h17.9v2.5h-17.9zM598.9 520.0h4.7v2.5h-4.7zM623.1 520.0h17.9v2.5h-17.9zM59.9 522.2h2.5v2.5h-2.5zM110.5 522.2h6.9v2.5h-6.9zM150.1 522.2h6.9v2.5h-6.9zM185.3 522.2h33.3v2.5h-33.3zM260.1 522.2h31.1v2.5h-31.1zM385.5 522.2h6.9v2.5h-6.9zM506.5 522.2h20.1v2.5h-20.1zM596.7 522.2h4.7v2.5h-4.7zM620.9 522.2h22.3v2.5h-22.3zM59.9 524.4h2.5v2.5h-2.5zM106.1 524.4h9.1v2.5h-9.1zM150.1 524.4h6.9v2.5h-6.9zM185.3 524.4h33.3v2.5h-33.3zM229.3 524.4h64.1v2.5h-64.1zM389.9 524.4h4.7v2.5h-4.7zM486.7 524.4h39.9v2.5h-39.9zM594.5 524.4h6.9v2.5h-6.9zM618.7 524.4h28.9v2.5h-28.9zM59.9 526.6h2.5v2.5h-2.5zM103.9 526.6h9.1v2.5h-9.1zM152.3 526.6h4.7v2.5h-4.7zM185.3 526.6h33.3v2.5h-33.3zM227.1 526.6h68.5v2.5h-68.5zM392.1 526.6h4.7v2.5h-4.7zM484.5 526.6h42.1v2.5h-42.1zM590.1 526.6h9.1v2.5h-9.1zM616.5 526.6h33.3v2.5h-33.3zM59.9 528.8h2.5v2.5h-2.5zM99.5 528.8h9.1v2.5h-9.1zM154.5 528.8h17.9v2.5h-17.9zM183.1 528.8h35.5v2.5h-35.5zM227.1 528.8h11.3v2.5h-11.3zM242.5 528.8h53.1v2.5h-53.1zM394.3 528.8h4.7v2.5h-4.7zM477.9 528.8h53.1v2.5h-53.1zM583.5 528.8h11.3v2.5h-11.3zM616.5 528.8h31.1v2.5h-31.1zM59.9 531.0h2.5v2.5h-2.5zM95.1 531.0h2.5v2.5h-2.5zM176.5 531.0h4.7v2.5h-4.7zM194.1 531.0h26.7v2.5h-26.7zM224.9 531.0h9.1v2.5h-9.1zM246.9 531.0h50.9v2.5h-50.9zM548.3 531.0h26.7v2.5h-26.7zM59.9 533.2h2.5v2.5h-2.5zM92.9 533.2h2.5v2.5h-2.5zM207.3 533.2h26.7v2.5h-26.7zM246.9 533.2h53.1v2.5h-53.1zM92.9 535.4h2.5v2.5h-2.5zM209.5 535.4h22.3v2.5h-22.3zM249.1 535.4h53.1v2.5h-53.1zM59.9 537.6h2.5v2.5h-2.5zM92.9 537.6h2.5v2.5h-2.5zM213.9 537.6h17.9v2.5h-17.9zM249.1 537.6h53.1v2.5h-53.1zM59.9 539.8h2.5v2.5h-2.5zM92.9 539.8h2.5v2.5h-2.5zM229.3 539.8h2.5v2.5h-2.5zM249.1 539.8h53.1v2.5h-53.1zM92.9 542.0h2.5v2.5h-2.5zM251.3 542.0h48.7v2.5h-48.7zM253.5 544.2h44.3v2.5h-44.3zM62.1 546.4h2.5v2.5h-2.5zM253.5 546.4h44.3v2.5h-44.3zM62.1 548.6h2.5v2.5h-2.5zM253.5 548.6h44.3v2.5h-44.3z"/>
<path fill="#FFAC75" d="M262.3 339.6h88.3v2.5h-88.3zM587.9 339.6h44.3v2.5h-44.3zM667.1 339.6h9.1v2.5h-9.1zM262.3 341.8h88.3v2.5h-88.3zM587.9 341.8h44.3v2.5h-44.3zM667.1 341.8h9.1v2.5h-9.1zM262.3 344.0h88.3v2.5h-88.3zM583.5 344.0h48.7v2.5h-48.7zM667.1 344.0h9.1v2.5h-9.1zM75.3 346.2h9.1v2.5h-9.1zM264.5 346.2h4.7v2.5h-4.7zM299.7 346.2h48.7v2.5h-48.7zM568.1 346.2h20.1v2.5h-20.1zM620.9 346.2h13.5v2.5h-13.5zM669.3 346.2h6.9v2.5h-6.9zM73.1 348.4h11.3v2.5h-11.3zM312.9 348.4h31.1v2.5h-31.1zM466.9 348.4h31.1v2.5h-31.1zM563.7 348.4h9.1v2.5h-9.1zM623.1 348.4h15.7v2.5h-15.7zM70.9 350.6h9.1v2.5h-9.1zM81.9 350.6h2.5v2.5h-2.5zM315.1 350.6h26.7v2.5h-26.7zM464.7 350.6h35.5v2.5h-35.5zM561.5 350.6h6.9v2.5h-6.9zM625.3 350.6h15.7v2.5h-15.7zM73.1 352.8h11.3v2.5h-11.3zM315.1 352.8h28.9v2.5h-28.9zM460.3 352.8h9.1v2.5h-9.1zM497.7 352.8h9.1v2.5h-9.1zM550.5 352.8h11.3v2.5h-11.3zM629.7 352.8h46.5v2.5h-46.5zM312.9 355.0h39.9v2.5h-39.9zM354.7 355.0h9.1v2.5h-9.1zM383.3 355.0h22.3v2.5h-22.3zM444.9 355.0h17.9v2.5h-17.9zM508.7 355.0h2.5v2.5h-2.5zM521.9 355.0h6.9v2.5h-6.9zM631.9 355.0h4.7v2.5h-4.7zM264.5 357.2h4.7v2.5h-4.7zM308.5 357.2h17.9v2.5h-17.9zM339.3 357.2h20.1v2.5h-20.1zM510.9 357.2h11.3v2.5h-11.3zM631.9 357.2h2.5v2.5h-2.5zM262.3 359.4h9.1v2.5h-9.1zM306.3 359.4h17.9v2.5h-17.9zM348.1 359.4h9.1v2.5h-9.1zM262.3 361.6h11.3v2.5h-11.3zM293.1 361.6h15.7v2.5h-15.7zM352.5 361.6h4.7v2.5h-4.7zM631.9 361.6h2.5v2.5h-2.5zM260.1 363.8h31.1v2.5h-31.1zM352.5 363.8h4.7v2.5h-4.7zM631.9 363.8h2.5v2.5h-2.5zM64.3 366.0h17.9v2.5h-17.9zM246.9 366.0h37.7v2.5h-37.7zM352.5 366.0h2.5v2.5h-2.5zM387.7 366.0h17.9v2.5h-17.9zM444.9 366.0h20.1v2.5h-20.1zM513.1 366.0h2.5v2.5h-2.5zM631.9 366.0h2.5v2.5h-2.5zM42.3 368.2h57.5v2.5h-57.5zM244.7 368.2h28.9v2.5h-28.9zM381.1 368.2h2.5v2.5h-2.5zM464.7 368.2h4.7v2.5h-4.7zM510.9 368.2h11.3v2.5h-11.3zM631.9 368.2h2.5v2.5h-2.5zM42.3 370.4h17.9v2.5h-17.9zM92.9 370.4h11.3v2.5h-11.3zM244.7 370.4h26.7v2.5h-26.7zM378.9 370.4h2.5v2.5h-2.5zM466.9 370.4h9.1v2.5h-9.1zM506.5 370.4h15.7v2.5h-15.7zM631.9 370.4h2.5v2.5h-2.5zM42.3 372.6h15.7v2.5h-15.7zM79.7 372.6h26.7v2.5h-26.7zM242.5 372.6h26.7v2.5h-26.7zM376.7 372.6h2.5v2.5h-2.5zM473.5 372.6h35.5v2.5h-35.5zM515.3 372.6h9.1v2.5h-9.1zM634.1 372.6h17.9v2.5h-17.9zM656.1 372.6h13.5v2.5h-13.5zM42.3 374.8h11.3v2.5h-11.3zM77.5 374.8h42.1v2.5h-42.1zM238.1 374.8h26.7v2.5h-26.7zM374.5 374.8h4.7v2.5h-4.7zM517.5 374.8h6.9v2.5h-6.9zM42.3 377.0h9.1v2.5h-9.1zM75.3 377.0h4.7v2.5h-4.7zM92.9 377.0h28.9v2.5h-28.9zM235.9 377.0h26.7v2.5h-26.7zM372.3 377.0h2.5v2.5h-2.5zM519.7 377.0h4.7v2.5h-4.7zM42.3 379.2h6.9v2.5h-6.9zM73.1 379.2h4.7v2.5h-4.7zM95.1 379.2h26.7v2.5h-26.7zM233.7 379.2h28.9v2.5h-28.9zM370.1 379.2h2.5v2.5h-2.5zM519.7 379.2h9.1v2.5h-9.1zM42.3 381.4h4.7v2.5h-4.7zM68.7 381.4h4.7v2.5h-4.7zM95.1 381.4h28.9v2.5h-28.9zM231.5 381.4h11.3v2.5h-11.3zM255.7 381.4h4.7v2.5h-4.7zM372.3 381.4h2.5v2.5h-2.5zM526.3 381.4h6.9v2.5h-6.9zM66.5 383.6h4.7v2.5h-4.7zM95.1 383.6h4.7v2.5h-4.7zM110.5 383.6h17.9v2.5h-17.9zM220.5 383.6h20.1v2.5h-20.1zM372.3 383.6h2.5v2.5h-2.5zM532.9 383.6h6.9v2.5h-6.9zM66.5 385.8h2.5v2.5h-2.5zM95.1 385.8h2.5v2.5h-2.5zM112.7 385.8h17.9v2.5h-17.9zM211.7 385.8h26.7v2.5h-26.7zM317.3 385.8h4.7v2.5h-4.7zM372.3 385.8h4.7v2.5h-4.7zM543.9 385.8h4.7v2.5h-4.7zM64.3 388.0h2.5v2.5h-2.5zM95.1 388.0h2.5v2.5h-2.5zM112.7 388.0h17.9v2.5h-17.9zM207.3 388.0h26.7v2.5h-26.7zM376.7 388.0h2.5v2.5h-2.5zM548.3 388.0h2.5v2.5h-2.5zM62.1 390.2h4.7v2.5h-4.7zM92.9 390.2h4.7v2.5h-4.7zM110.5 390.2h17.9v2.5h-17.9zM202.9 390.2h22.3v2.5h-22.3zM315.1 390.2h2.5v2.5h-2.5zM385.5 390.2h4.7v2.5h-4.7zM59.9 392.4h4.7v2.5h-4.7zM88.5 392.4h6.9v2.5h-6.9zM106.1 392.4h17.9v2.5h-17.9zM198.5 392.4h13.5v2.5h-13.5zM288.7 392.4h24.5v2.5h-24.5zM321.7 392.4h2.5v2.5h-2.5zM389.9 392.4h9.1v2.5h-9.1zM552.7 392.4h2.5v2.5h-2.5zM57.7 394.6h4.7v2.5h-4.7zM86.3 394.6h4.7v2.5h-4.7zM103.9 394.6h17.9v2.5h-17.9zM194.1 394.6h9.1v2.5h-9.1zM282.1 394.6h4.7v2.5h-4.7zM323.9 394.6h2.5v2.5h-2.5zM398.7 394.6h11.3v2.5h-11.3zM57.7 396.8h2.5v2.5h-2.5zM86.3 396.8h2.5v2.5h-2.5zM101.7 396.8h20.1v2.5h-20.1zM191.9 396.8h9.1v2.5h-9.1zM323.9 396.8h2.5v2.5h-2.5zM405.3 396.8h9.1v2.5h-9.1zM57.7 399.0h4.7v2.5h-4.7zM84.1 399.0h4.7v2.5h-4.7zM99.5 399.0h20.1v2.5h-20.1zM189.7 399.0h11.3v2.5h-11.3zM286.5 399.0h2.5v2.5h-2.5zM323.9 399.0h2.5v2.5h-2.5zM409.7 399.0h9.1v2.5h-9.1zM59.9 401.2h26.7v2.5h-26.7zM97.3 401.2h11.3v2.5h-11.3zM187.5 401.2h13.5v2.5h-13.5zM288.7 401.2h2.5v2.5h-2.5zM321.7 401.2h4.7v2.5h-4.7zM414.1 401.2h9.1v2.5h-9.1zM559.3 401.2h2.5v2.5h-2.5zM95.1 403.4h11.3v2.5h-11.3zM185.3 403.4h15.7v2.5h-15.7zM321.7 403.4h4.7v2.5h-4.7zM418.5 403.4h17.9v2.5h-17.9zM563.7 403.4h11.3v2.5h-11.3zM95.1 405.6h9.1v2.5h-9.1zM183.1 405.6h4.7v2.5h-4.7zM290.9 405.6h2.5v2.5h-2.5zM321.7 405.6h4.7v2.5h-4.7zM422.9 405.6h17.9v2.5h-17.9zM574.7 405.6h2.5v2.5h-2.5zM92.9 407.8h11.3v2.5h-11.3zM169.9 407.8h11.3v2.5h-11.3zM290.9 407.8h33.3v2.5h-33.3zM431.7 407.8h11.3v2.5h-11.3zM576.9 407.8h2.5v2.5h-2.5zM88.5 410.0h15.7v2.5h-15.7zM156.7 410.0h22.3v2.5h-22.3zM293.1 410.0h28.9v2.5h-28.9zM433.9 410.0h11.3v2.5h-11.3zM579.1 410.0h4.7v2.5h-4.7zM86.3 412.2h17.9v2.5h-17.9zM150.1 412.2h9.1v2.5h-9.1zM436.1 412.2h17.9v2.5h-17.9zM607.7 412.2h22.3v2.5h-22.3zM88.5 414.4h6.9v2.5h-6.9zM101.7 414.4h13.5v2.5h-13.5zM147.9 414.4h6.9v2.5h-6.9zM438.3 414.4h17.9v2.5h-17.9zM614.3 414.4h17.9v2.5h-17.9zM114.9 416.6h11.3v2.5h-11.3zM145.7 416.6h4.7v2.5h-4.7zM440.5 416.6h15.7v2.5h-15.7zM616.5 416.6h15.7v2.5h-15.7zM125.9 418.8h13.5v2.5h-13.5zM143.5 418.8h4.7v2.5h-4.7zM444.9 418.8h11.3v2.5h-11.3zM475.7 418.8h4.7v2.5h-4.7zM616.5 418.8h15.7v2.5h-15.7zM136.9 421.0h9.1v2.5h-9.1zM447.1 421.0h9.1v2.5h-9.1zM473.5 421.0h68.5v2.5h-68.5zM616.5 421.0h15.7v2.5h-15.7zM447.1 423.2h11.3v2.5h-11.3zM471.3 423.2h11.3v2.5h-11.3zM541.7 423.2h4.7v2.5h-4.7zM616.5 423.2h15.7v2.5h-15.7zM449.3 425.4h31.1v2.5h-31.1zM543.9 425.4h2.5v2.5h-2.5zM614.3 425.4h15.7v2.5h-15.7zM326.1 427.6h4.7v2.5h-4.7zM464.7 427.6h13.5v2.5h-13.5zM546.1 427.6h2.5v2.5h-2.5zM612.1 427.6h13.5v2.5h-13.5zM323.9 429.8h9.1v2.5h-9.1zM471.3 429.8h6.9v2.5h-6.9zM546.1 429.8h2.5v2.5h-2.5zM574.7 429.8h11.3v2.5h-11.3zM607.7 429.8h15.7v2.5h-15.7zM257.9 432.0h2.5v2.5h-2.5zM323.9 432.0h9.1v2.5h-9.1zM546.1 432.0h2.5v2.5h-2.5zM572.5 432.0h17.9v2.5h-17.9zM603.3 432.0h20.1v2.5h-20.1zM257.9 434.2h2.5v2.5h-2.5zM321.7 434.2h11.3v2.5h-11.3zM548.3 434.2h6.9v2.5h-6.9zM570.3 434.2h50.9v2.5h-50.9zM257.9 436.4h2.5v2.5h-2.5zM308.5 436.4h24.5v2.5h-24.5zM550.5 436.4h11.3v2.5h-11.3zM568.1 436.4h6.9v2.5h-6.9zM585.7 436.4h31.1v2.5h-31.1zM257.9 438.6h9.1v2.5h-9.1zM306.3 438.6h26.7v2.5h-26.7zM559.3 438.6h13.5v2.5h-13.5zM603.3 438.6h11.3v2.5h-11.3zM260.1 440.8h9.1v2.5h-9.1zM306.3 440.8h26.7v2.5h-26.7zM266.7 443.0h2.5v2.5h-2.5zM308.5 443.0h22.3v2.5h-22.3zM290.9 445.2h4.7v2.5h-4.7zM469.1 445.2h2.5v2.5h-2.5zM271.1 447.4h26.7v2.5h-26.7zM466.9 447.4h2.5v2.5h-2.5zM471.3 447.4h6.9v2.5h-6.9zM271.1 449.6h26.7v2.5h-26.7zM466.9 449.6h2.5v2.5h-2.5zM477.9 449.6h2.5v2.5h-2.5zM273.3 451.8h22.3v2.5h-22.3zM466.9 451.8h2.5v2.5h-2.5zM471.3 451.8h6.9v2.5h-6.9zM466.9 454.0h11.3v2.5h-11.3zM466.9 456.2h9.1v2.5h-9.1zM255.7 458.4h6.9v2.5h-6.9zM257.9 460.6h4.7v2.5h-4.7zM262.3 462.8h4.7v2.5h-4.7zM636.3 462.8h2.5v2.5h-2.5zM262.3 465.0h4.7v2.5h-4.7zM636.3 465.0h4.7v2.5h-4.7zM262.3 467.2h4.7v2.5h-4.7zM636.3 467.2h4.7v2.5h-4.7zM262.3 469.4h4.7v2.5h-4.7zM636.3 469.4h4.7v2.5h-4.7zM246.9 471.6h15.7v2.5h-15.7zM640.7 471.6h4.7v2.5h-4.7zM244.7 473.8h17.9v2.5h-17.9zM515.3 473.8h9.1v2.5h-9.1zM640.7 473.8h4.7v2.5h-4.7zM244.7 476.0h17.9v2.5h-17.9zM497.7 476.0h17.9v2.5h-17.9zM524.1 476.0h4.7v2.5h-4.7zM642.9 476.0h2.5v2.5h-2.5zM242.5 478.2h20.1v2.5h-20.1zM451.5 478.2h48.7v2.5h-48.7zM528.5 478.2h6.9v2.5h-6.9zM563.7 478.2h2.5v2.5h-2.5zM238.1 480.4h17.9v2.5h-17.9zM262.3 480.4h4.7v2.5h-4.7zM442.7 480.4h26.7v2.5h-26.7zM535.1 480.4h24.5v2.5h-24.5zM568.1 480.4h2.5v2.5h-2.5zM229.3 482.6h24.5v2.5h-24.5zM262.3 482.6h4.7v2.5h-4.7zM394.3 482.6h9.1v2.5h-9.1zM570.3 482.6h2.5v2.5h-2.5zM227.1 484.8h26.7v2.5h-26.7zM262.3 484.8h4.7v2.5h-4.7zM385.5 484.8h6.9v2.5h-6.9zM572.5 484.8h2.5v2.5h-2.5zM227.1 487.0h24.5v2.5h-24.5zM264.5 487.0h2.5v2.5h-2.5zM383.3 487.0h4.7v2.5h-4.7zM574.7 487.0h4.7v2.5h-4.7zM79.7 489.2h13.5v2.5h-13.5zM227.1 489.2h20.1v2.5h-20.1zM378.9 489.2h6.9v2.5h-6.9zM581.3 489.2h4.7v2.5h-4.7zM70.9 491.4h24.5v2.5h-24.5zM227.1 491.4h17.9v2.5h-17.9zM374.5 491.4h6.9v2.5h-6.9zM585.7 491.4h2.5v2.5h-2.5zM68.7 493.6h26.7v2.5h-26.7zM227.1 493.6h17.9v2.5h-17.9zM367.9 493.6h11.3v2.5h-11.3zM587.9 493.6h2.5v2.5h-2.5zM70.9 495.8h26.7v2.5h-26.7zM229.3 495.8h17.9v2.5h-17.9zM370.1 495.8h11.3v2.5h-11.3zM590.1 495.8h2.5v2.5h-2.5zM75.3 498.0h35.5v2.5h-35.5zM233.7 498.0h17.9v2.5h-17.9zM264.5 498.0h2.5v2.5h-2.5zM372.3 498.0h11.3v2.5h-11.3zM592.3 498.0h4.7v2.5h-4.7zM77.5 500.2h35.5v2.5h-35.5zM235.9 500.2h33.3v2.5h-33.3zM374.5 500.2h11.3v2.5h-11.3zM596.7 500.2h4.7v2.5h-4.7zM77.5 502.4h35.5v2.5h-35.5zM235.9 502.4h35.5v2.5h-35.5zM376.7 502.4h11.3v2.5h-11.3zM598.9 502.4h6.9v2.5h-6.9zM75.3 504.6h37.7v2.5h-37.7zM235.9 504.6h37.7v2.5h-37.7zM378.9 504.6h11.3v2.5h-11.3zM598.9 504.6h4.7v2.5h-4.7zM70.9 506.8h42.1v2.5h-42.1zM202.9 506.8h4.7v2.5h-4.7zM235.9 506.8h20.1v2.5h-20.1zM266.7 506.8h6.9v2.5h-6.9zM381.1 506.8h11.3v2.5h-11.3zM598.9 506.8h4.7v2.5h-4.7zM68.7 509.0h44.3v2.5h-44.3zM200.7 509.0h9.1v2.5h-9.1zM235.9 509.0h17.9v2.5h-17.9zM268.9 509.0h4.7v2.5h-4.7zM383.3 509.0h11.3v2.5h-11.3zM598.9 509.0h4.7v2.5h-4.7zM66.5 511.2h46.5v2.5h-46.5zM200.7 511.2h9.1v2.5h-9.1zM235.9 511.2h17.9v2.5h-17.9zM268.9 511.2h4.7v2.5h-4.7zM290.9 511.2h4.7v2.5h-4.7zM385.5 511.2h9.1v2.5h-9.1zM598.9 511.2h4.7v2.5h-4.7zM64.3 513.4h48.7v2.5h-48.7zM202.9 513.4h4.7v2.5h-4.7zM233.7 513.4h22.3v2.5h-22.3zM260.1 513.4h11.3v2.5h-11.3zM385.5 513.4h11.3v2.5h-11.3zM506.5 513.4h17.9v2.5h-17.9zM596.7 513.4h4.7v2.5h-4.7zM64.3 515.6h9.1v2.5h-9.1zM84.1 515.6h28.9v2.5h-28.9zM158.9 515.6h22.3v2.5h-22.3zM220.5 515.6h48.7v2.5h-48.7zM385.5 515.6h15.7v2.5h-15.7zM502.1 515.6h26.7v2.5h-26.7zM596.7 515.6h4.7v2.5h-4.7zM62.1 517.8h9.1v2.5h-9.1zM86.3 517.8h26.7v2.5h-26.7zM156.7 517.8h26.7v2.5h-26.7zM218.3 517.8h46.5v2.5h-46.5zM385.5 517.8h17.9v2.5h-17.9zM484.5 517.8h26.7v2.5h-26.7zM524.1 517.8h9.1v2.5h-9.1zM594.5 517.8h4.7v2.5h-4.7zM62.1 520.0h4.7v2.5h-4.7zM86.3 520.0h26.7v2.5h-26.7zM156.7 520.0h26.7v2.5h-26.7zM218.3 520.0h44.3v2.5h-44.3zM387.7 520.0h15.7v2.5h-15.7zM480.1 520.0h28.9v2.5h-28.9zM526.3 520.0h9.1v2.5h-9.1zM594.5 520.0h4.7v2.5h-4.7zM62.1 522.2h2.5v2.5h-2.5zM88.5 522.2h22.3v2.5h-22.3zM156.7 522.2h28.9v2.5h-28.9zM218.3 522.2h42.1v2.5h-42.1zM392.1 522.2h13.5v2.5h-13.5zM477.9 522.2h28.9v2.5h-28.9zM526.3 522.2h11.3v2.5h-11.3zM590.1 522.2h6.9v2.5h-6.9zM92.9 524.4h13.5v2.5h-13.5zM156.7 524.4h20.1v2.5h-20.1zM178.7 524.4h6.9v2.5h-6.9zM218.3 524.4h11.3v2.5h-11.3zM394.3 524.4h24.5v2.5h-24.5zM466.9 524.4h20.1v2.5h-20.1zM526.3 524.4h24.5v2.5h-24.5zM585.7 524.4h9.1v2.5h-9.1zM95.1 526.6h9.1v2.5h-9.1zM156.7 526.6h17.9v2.5h-17.9zM180.9 526.6h4.7v2.5h-4.7zM218.3 526.6h9.1v2.5h-9.1zM396.5 526.6h88.3v2.5h-88.3zM526.3 526.6h26.7v2.5h-26.7zM572.5 526.6h17.9v2.5h-17.9zM92.9 528.8h6.9v2.5h-6.9zM172.1 528.8h11.3v2.5h-11.3zM218.3 528.8h9.1v2.5h-9.1zM398.7 528.8h79.5v2.5h-79.5zM530.7 528.8h53.1v2.5h-53.1zM92.9 531.0h2.5v2.5h-2.5zM220.5 531.0h4.7v2.5h-4.7zM90.7 533.2h2.5v2.5h-2.5zM59.9 535.4h2.5v2.5h-2.5zM90.7 535.4h2.5v2.5h-2.5zM90.7 537.6h2.5v2.5h-2.5zM90.7 539.8h2.5v2.5h-2.5zM62.1 542.0h2.5v2.5h-2.5zM90.7 542.0h2.5v2.5h-2.5zM62.1 544.2h2.5v2.5h-2.5zM90.7 544.2h2.5v2.5h-2.5zM64.3 546.4h2.5v2.5h-2.5zM90.7 546.4h2.5v2.5h-2.5zM64.3 548.6h2.5v2.5h-2.5zM90.7 548.6h2.5v2.5h-2.5z"/>
<path fill="#FF7856" d="M42.3 339.6h220.3v2.5h-220.3zM350.3 339.6h237.9v2.5h-237.9zM42.3 341.8h220.3v2.5h-220.3zM350.3 341.8h237.9v2.5h-237.9zM42.3 344.0h220.3v2.5h-220.3zM350.3 344.0h233.5v2.5h-233.5zM42.3 346.2h33.3v2.5h-33.3zM84.1 346.2h4.7v2.5h-4.7zM150.1 346.2h114.7v2.5h-114.7zM268.9 346.2h31.1v2.5h-31.1zM348.1 346.2h220.3v2.5h-220.3zM64.3 348.4h9.1v2.5h-9.1zM84.1 348.4h4.7v2.5h-4.7zM154.5 348.4h31.1v2.5h-31.1zM233.7 348.4h79.5v2.5h-79.5zM343.7 348.4h26.7v2.5h-26.7zM453.7 348.4h13.5v2.5h-13.5zM497.7 348.4h13.5v2.5h-13.5zM550.5 348.4h13.5v2.5h-13.5zM66.5 350.6h4.7v2.5h-4.7zM84.1 350.6h4.7v2.5h-4.7zM156.7 350.6h26.7v2.5h-26.7zM235.9 350.6h37.7v2.5h-37.7zM295.3 350.6h20.1v2.5h-20.1zM341.5 350.6h26.7v2.5h-26.7zM455.9 350.6h9.1v2.5h-9.1zM499.9 350.6h9.1v2.5h-9.1zM552.7 350.6h9.1v2.5h-9.1zM66.5 352.8h6.9v2.5h-6.9zM84.1 352.8h2.5v2.5h-2.5zM158.9 352.8h24.5v2.5h-24.5zM235.9 352.8h35.5v2.5h-35.5zM297.5 352.8h17.9v2.5h-17.9zM343.7 352.8h116.9v2.5h-116.9zM506.5 352.8h6.9v2.5h-6.9zM521.9 352.8h28.9v2.5h-28.9zM70.9 355.0h13.5v2.5h-13.5zM167.7 355.0h13.5v2.5h-13.5zM238.1 355.0h35.5v2.5h-35.5zM295.3 355.0h17.9v2.5h-17.9zM352.5 355.0h2.5v2.5h-2.5zM510.9 355.0h11.3v2.5h-11.3zM636.3 355.0h39.9v2.5h-39.9zM242.5 357.2h22.3v2.5h-22.3zM268.9 357.2h9.1v2.5h-9.1zM290.9 357.2h17.9v2.5h-17.9zM634.1 357.2h4.7v2.5h-4.7zM244.7 359.4h17.9v2.5h-17.9zM271.1 359.4h9.1v2.5h-9.1zM288.7 359.4h17.9v2.5h-17.9zM634.1 359.4h2.5v2.5h-2.5zM244.7 361.6h17.9v2.5h-17.9zM273.3 361.6h20.1v2.5h-20.1zM634.1 361.6h2.5v2.5h-2.5zM42.3 363.8h22.3v2.5h-22.3zM242.5 363.8h17.9v2.5h-17.9zM42.3 366.0h22.3v2.5h-22.3zM81.9 366.0h17.9v2.5h-17.9zM238.1 366.0h9.1v2.5h-9.1zM99.5 368.2h20.1v2.5h-20.1zM235.9 368.2h9.1v2.5h-9.1zM383.3 368.2h81.7v2.5h-81.7zM103.9 370.4h17.9v2.5h-17.9zM235.9 370.4h9.1v2.5h-9.1zM381.1 370.4h4.7v2.5h-4.7zM464.7 370.4h2.5v2.5h-2.5zM667.1 370.4h9.1v2.5h-9.1zM106.1 372.6h17.9v2.5h-17.9zM233.7 372.6h9.1v2.5h-9.1zM378.9 372.6h4.7v2.5h-4.7zM466.9 372.6h6.9v2.5h-6.9zM508.7 372.6h6.9v2.5h-6.9zM651.7 372.6h4.7v2.5h-4.7zM119.3 374.8h6.9v2.5h-6.9zM220.5 374.8h17.9v2.5h-17.9zM378.9 374.8h2.5v2.5h-2.5zM469.1 374.8h48.7v2.5h-48.7zM79.7 377.0h13.5v2.5h-13.5zM121.5 377.0h6.9v2.5h-6.9zM218.3 377.0h17.9v2.5h-17.9zM374.5 377.0h4.7v2.5h-4.7zM515.3 377.0h4.7v2.5h-4.7zM77.5 379.2h17.9v2.5h-17.9zM121.5 379.2h9.1v2.5h-9.1zM216.1 379.2h17.9v2.5h-17.9zM372.3 379.2h4.7v2.5h-4.7zM515.3 379.2h4.7v2.5h-4.7zM73.1 381.4h6.9v2.5h-6.9zM88.5 381.4h6.9v2.5h-6.9zM123.7 381.4h9.1v2.5h-9.1zM207.3 381.4h24.5v2.5h-24.5zM374.5 381.4h4.7v2.5h-4.7zM517.5 381.4h9.1v2.5h-9.1zM70.9 383.6h2.5v2.5h-2.5zM90.7 383.6h4.7v2.5h-4.7zM128.1 383.6h17.9v2.5h-17.9zM167.7 383.6h13.5v2.5h-13.5zM202.9 383.6h17.9v2.5h-17.9zM374.5 383.6h4.7v2.5h-4.7zM519.7 383.6h13.5v2.5h-13.5zM68.7 385.8h2.5v2.5h-2.5zM92.9 385.8h2.5v2.5h-2.5zM130.3 385.8h17.9v2.5h-17.9zM165.5 385.8h17.9v2.5h-17.9zM200.7 385.8h11.3v2.5h-11.3zM376.7 385.8h2.5v2.5h-2.5zM532.9 385.8h11.3v2.5h-11.3zM66.5 388.0h2.5v2.5h-2.5zM90.7 388.0h4.7v2.5h-4.7zM130.3 388.0h15.7v2.5h-15.7zM165.5 388.0h17.9v2.5h-17.9zM198.5 388.0h9.1v2.5h-9.1zM317.3 388.0h4.7v2.5h-4.7zM378.9 388.0h11.3v2.5h-11.3zM546.1 388.0h2.5v2.5h-2.5zM66.5 390.2h2.5v2.5h-2.5zM88.5 390.2h4.7v2.5h-4.7zM128.1 390.2h9.1v2.5h-9.1zM167.7 390.2h15.7v2.5h-15.7zM189.7 390.2h13.5v2.5h-13.5zM317.3 390.2h4.7v2.5h-4.7zM389.9 390.2h9.1v2.5h-9.1zM548.3 390.2h2.5v2.5h-2.5zM64.3 392.4h4.7v2.5h-4.7zM86.3 392.4h2.5v2.5h-2.5zM123.7 392.4h9.1v2.5h-9.1zM183.1 392.4h15.7v2.5h-15.7zM312.9 392.4h4.7v2.5h-4.7zM319.5 392.4h2.5v2.5h-2.5zM398.7 392.4h11.3v2.5h-11.3zM550.5 392.4h2.5v2.5h-2.5zM62.1 394.6h2.5v2.5h-2.5zM84.1 394.6h2.5v2.5h-2.5zM121.5 394.6h9.1v2.5h-9.1zM183.1 394.6h11.3v2.5h-11.3zM286.5 394.6h4.7v2.5h-4.7zM321.7 394.6h2.5v2.5h-2.5zM409.7 394.6h9.1v2.5h-9.1zM552.7 394.6h4.7v2.5h-4.7zM59.9 396.8h4.7v2.5h-4.7zM81.9 396.8h4.7v2.5h-4.7zM121.5 396.8h9.1v2.5h-9.1zM183.1 396.8h9.1v2.5h-9.1zM284.3 396.8h4.7v2.5h-4.7zM321.7 396.8h2.5v2.5h-2.5zM414.1 396.8h9.1v2.5h-9.1zM557.1 396.8h2.5v2.5h-2.5zM62.1 399.0h22.3v2.5h-22.3zM119.3 399.0h9.1v2.5h-9.1zM180.9 399.0h9.1v2.5h-9.1zM288.7 399.0h2.5v2.5h-2.5zM319.5 399.0h4.7v2.5h-4.7zM418.5 399.0h11.3v2.5h-11.3zM557.1 399.0h2.5v2.5h-2.5zM108.3 401.2h15.7v2.5h-15.7zM180.9 401.2h6.9v2.5h-6.9zM290.9 401.2h2.5v2.5h-2.5zM319.5 401.2h2.5v2.5h-2.5zM422.9 401.2h15.7v2.5h-15.7zM557.1 401.2h2.5v2.5h-2.5zM106.1 403.4h15.7v2.5h-15.7zM180.9 403.4h4.7v2.5h-4.7zM290.9 403.4h4.7v2.5h-4.7zM317.3 403.4h4.7v2.5h-4.7zM436.1 403.4h9.1v2.5h-9.1zM559.3 403.4h4.7v2.5h-4.7zM103.9 405.6h17.9v2.5h-17.9zM178.7 405.6h4.7v2.5h-4.7zM293.1 405.6h9.1v2.5h-9.1zM310.7 405.6h11.3v2.5h-11.3zM440.5 405.6h9.1v2.5h-9.1zM561.5 405.6h13.5v2.5h-13.5zM103.9 407.8h17.9v2.5h-17.9zM150.1 407.8h20.1v2.5h-20.1zM442.7 407.8h15.7v2.5h-15.7zM561.5 407.8h15.7v2.5h-15.7zM103.9 410.0h17.9v2.5h-17.9zM147.9 410.0h9.1v2.5h-9.1zM444.9 410.0h33.3v2.5h-33.3zM561.5 410.0h11.3v2.5h-11.3zM574.7 410.0h4.7v2.5h-4.7zM103.9 412.2h17.9v2.5h-17.9zM145.7 412.2h4.7v2.5h-4.7zM453.7 412.2h26.7v2.5h-26.7zM561.5 412.2h9.1v2.5h-9.1zM579.1 412.2h28.9v2.5h-28.9zM114.9 414.4h11.3v2.5h-11.3zM143.5 414.4h4.7v2.5h-4.7zM455.9 414.4h28.9v2.5h-28.9zM561.5 414.4h9.1v2.5h-9.1zM605.5 414.4h9.1v2.5h-9.1zM125.9 416.6h20.1v2.5h-20.1zM455.9 416.6h90.5v2.5h-90.5zM559.3 416.6h9.1v2.5h-9.1zM607.7 416.6h9.1v2.5h-9.1zM139.1 418.8h4.7v2.5h-4.7zM455.9 418.8h20.1v2.5h-20.1zM480.1 418.8h88.3v2.5h-88.3zM609.9 418.8h6.9v2.5h-6.9zM455.9 421.0h17.9v2.5h-17.9zM541.7 421.0h26.7v2.5h-26.7zM612.1 421.0h4.7v2.5h-4.7zM458.1 423.2h13.5v2.5h-13.5zM546.1 423.2h22.3v2.5h-22.3zM612.1 423.2h4.7v2.5h-4.7zM546.1 425.4h22.3v2.5h-22.3zM603.3 425.4h11.3v2.5h-11.3zM548.3 427.6h6.9v2.5h-6.9zM568.1 427.6h20.1v2.5h-20.1zM598.9 427.6h13.5v2.5h-13.5zM548.3 429.8h4.7v2.5h-4.7zM568.1 429.8h6.9v2.5h-6.9zM585.7 429.8h22.3v2.5h-22.3zM548.3 432.0h6.9v2.5h-6.9zM568.1 432.0h4.7v2.5h-4.7zM590.1 432.0h13.5v2.5h-13.5zM554.9 434.2h15.7v2.5h-15.7zM561.5 436.4h6.9v2.5h-6.9zM469.1 447.4h2.5v2.5h-2.5zM469.1 449.6h9.1v2.5h-9.1zM469.1 451.8h2.5v2.5h-2.5zM515.3 476.0h9.1v2.5h-9.1zM499.9 478.2h20.1v2.5h-20.1zM524.1 478.2h4.7v2.5h-4.7zM469.1 480.4h46.5v2.5h-46.5zM528.5 480.4h6.9v2.5h-6.9zM559.3 480.4h9.1v2.5h-9.1zM403.1 482.6h48.7v2.5h-48.7zM539.5 482.6h11.3v2.5h-11.3zM568.1 482.6h2.5v2.5h-2.5zM392.1 484.8h9.1v2.5h-9.1zM570.3 484.8h2.5v2.5h-2.5zM387.7 487.0h11.3v2.5h-11.3zM570.3 487.0h4.7v2.5h-4.7zM385.5 489.2h11.3v2.5h-11.3zM574.7 489.2h6.9v2.5h-6.9zM381.1 491.4h6.9v2.5h-6.9zM583.5 491.4h2.5v2.5h-2.5zM378.9 493.6h6.9v2.5h-6.9zM585.7 493.6h2.5v2.5h-2.5zM381.1 495.8h6.9v2.5h-6.9zM587.9 495.8h2.5v2.5h-2.5zM383.3 498.0h9.1v2.5h-9.1zM587.9 498.0h4.7v2.5h-4.7zM385.5 500.2h9.1v2.5h-9.1zM592.3 500.2h4.7v2.5h-4.7zM387.7 502.4h6.9v2.5h-6.9zM594.5 502.4h4.7v2.5h-4.7zM389.9 504.6h6.9v2.5h-6.9zM594.5 504.6h4.7v2.5h-4.7zM255.7 506.8h11.3v2.5h-11.3zM392.1 506.8h6.9v2.5h-6.9zM504.3 506.8h20.1v2.5h-20.1zM594.5 506.8h4.7v2.5h-4.7zM253.5 509.0h15.7v2.5h-15.7zM394.3 509.0h6.9v2.5h-6.9zM502.1 509.0h24.5v2.5h-24.5zM594.5 509.0h4.7v2.5h-4.7zM253.5 511.2h15.7v2.5h-15.7zM394.3 511.2h9.1v2.5h-9.1zM497.7 511.2h31.1v2.5h-31.1zM594.5 511.2h4.7v2.5h-4.7zM255.7 513.4h4.7v2.5h-4.7zM396.5 513.4h9.1v2.5h-9.1zM480.1 513.4h26.7v2.5h-26.7zM524.1 513.4h13.5v2.5h-13.5zM592.3 513.4h4.7v2.5h-4.7zM73.1 515.6h11.3v2.5h-11.3zM400.9 515.6h15.7v2.5h-15.7zM469.1 515.6h33.3v2.5h-33.3zM528.5 515.6h22.3v2.5h-22.3zM592.3 515.6h4.7v2.5h-4.7zM70.9 517.8h15.7v2.5h-15.7zM403.1 517.8h15.7v2.5h-15.7zM466.9 517.8h17.9v2.5h-17.9zM532.9 517.8h20.1v2.5h-20.1zM590.1 517.8h4.7v2.5h-4.7zM66.5 520.0h20.1v2.5h-20.1zM403.1 520.0h20.1v2.5h-20.1zM462.5 520.0h17.9v2.5h-17.9zM535.1 520.0h17.9v2.5h-17.9zM585.7 520.0h9.1v2.5h-9.1zM64.3 522.2h6.9v2.5h-6.9zM79.7 522.2h9.1v2.5h-9.1zM405.3 522.2h72.9v2.5h-72.9zM537.3 522.2h17.9v2.5h-17.9zM568.1 522.2h22.3v2.5h-22.3zM62.1 524.4h4.7v2.5h-4.7zM84.1 524.4h9.1v2.5h-9.1zM176.5 524.4h2.5v2.5h-2.5zM418.5 524.4h48.7v2.5h-48.7zM550.5 524.4h35.5v2.5h-35.5zM62.1 526.6h2.5v2.5h-2.5zM86.3 526.6h9.1v2.5h-9.1zM174.3 526.6h6.9v2.5h-6.9zM552.7 526.6h20.1v2.5h-20.1zM62.1 528.8h2.5v2.5h-2.5zM86.3 528.8h6.9v2.5h-6.9zM62.1 531.0h2.5v2.5h-2.5zM86.3 531.0h6.9v2.5h-6.9zM86.3 533.2h4.7v2.5h-4.7zM86.3 535.4h4.7v2.5h-4.7zM86.3 537.6h4.7v2.5h-4.7zM62.1 539.8h2.5v2.5h-2.5zM86.3 539.8h4.7v2.5h-4.7zM64.3 542.0h2.5v2.5h-2.5zM86.3 542.0h4.7v2.5h-4.7zM64.3 544.2h6.9v2.5h-6.9zM86.3 544.2h4.7v2.5h-4.7zM66.5 546.4h4.7v2.5h-4.7zM86.3 546.4h4.7v2.5h-4.7zM66.5 548.6h4.7v2.5h-4.7zM86.3 548.6h4.7v2.5h-4.7z"/>
<path fill="#FF3D3D" d="M88.5 346.2h61.9v2.5h-61.9zM42.3 348.4h22.3v2.5h-22.3zM88.5 348.4h15.7v2.5h-15.7zM145.7 348.4h9.1v2.5h-9.1zM185.3 348.4h48.7v2.5h-48.7zM370.1 348.4h83.9v2.5h-83.9zM510.9 348.4h39.9v2.5h-39.9zM42.3 350.6h24.5v2.5h-24.5zM88.5 350.6h2.5v2.5h-2.5zM150.1 350.6h6.9v2.5h-6.9zM183.1 350.6h53.1v2.5h-53.1zM273.3 350.6h22.3v2.5h-22.3zM367.9 350.6h88.3v2.5h-88.3zM508.7 350.6h44.3v2.5h-44.3zM42.3 352.8h24.5v2.5h-24.5zM86.3 352.8h2.5v2.5h-2.5zM150.1 352.8h9.1v2.5h-9.1zM183.1 352.8h53.1v2.5h-53.1zM271.1 352.8h26.7v2.5h-26.7zM513.1 352.8h9.1v2.5h-9.1zM42.3 355.0h28.9v2.5h-28.9zM84.1 355.0h4.7v2.5h-4.7zM152.3 355.0h15.7v2.5h-15.7zM180.9 355.0h57.5v2.5h-57.5zM273.3 355.0h22.3v2.5h-22.3zM42.3 357.2h20.1v2.5h-20.1zM66.5 357.2h20.1v2.5h-20.1zM154.5 357.2h88.3v2.5h-88.3zM277.7 357.2h13.5v2.5h-13.5zM638.5 357.2h37.7v2.5h-37.7zM42.3 359.4h17.9v2.5h-17.9zM163.3 359.4h81.7v2.5h-81.7zM279.9 359.4h9.1v2.5h-9.1zM636.3 359.4h4.7v2.5h-4.7zM42.3 361.6h39.9v2.5h-39.9zM165.5 361.6h79.5v2.5h-79.5zM636.3 361.6h2.5v2.5h-2.5zM64.3 363.8h35.5v2.5h-35.5zM163.3 363.8h79.5v2.5h-79.5zM634.1 363.8h2.5v2.5h-2.5zM99.5 366.0h22.3v2.5h-22.3zM158.9 366.0h79.5v2.5h-79.5zM634.1 366.0h2.5v2.5h-2.5zM119.3 368.2h9.1v2.5h-9.1zM156.7 368.2h79.5v2.5h-79.5zM669.3 368.2h6.9v2.5h-6.9zM121.5 370.4h11.3v2.5h-11.3zM156.7 370.4h79.5v2.5h-79.5zM385.5 370.4h79.5v2.5h-79.5zM634.1 370.4h2.5v2.5h-2.5zM658.3 370.4h9.1v2.5h-9.1zM123.7 372.6h11.3v2.5h-11.3zM154.5 372.6h79.5v2.5h-79.5zM383.3 372.6h35.5v2.5h-35.5zM460.3 372.6h6.9v2.5h-6.9zM125.9 374.8h94.9v2.5h-94.9zM381.1 374.8h15.7v2.5h-15.7zM462.5 374.8h6.9v2.5h-6.9zM128.1 377.0h90.5v2.5h-90.5zM378.9 377.0h15.7v2.5h-15.7zM464.7 377.0h50.9v2.5h-50.9zM130.3 379.2h86.1v2.5h-86.1zM376.7 379.2h17.9v2.5h-17.9zM466.9 379.2h48.7v2.5h-48.7zM79.7 381.4h9.1v2.5h-9.1zM132.5 381.4h75.1v2.5h-75.1zM378.9 381.4h15.7v2.5h-15.7zM469.1 381.4h48.7v2.5h-48.7zM73.1 383.6h17.9v2.5h-17.9zM145.7 383.6h22.3v2.5h-22.3zM180.9 383.6h22.3v2.5h-22.3zM378.9 383.6h15.7v2.5h-15.7zM506.5 383.6h13.5v2.5h-13.5zM70.9 385.8h2.5v2.5h-2.5zM84.1 385.8h9.1v2.5h-9.1zM147.9 385.8h17.9v2.5h-17.9zM183.1 385.8h17.9v2.5h-17.9zM378.9 385.8h15.7v2.5h-15.7zM508.7 385.8h24.5v2.5h-24.5zM68.7 388.0h4.7v2.5h-4.7zM84.1 388.0h6.9v2.5h-6.9zM145.7 388.0h20.1v2.5h-20.1zM183.1 388.0h15.7v2.5h-15.7zM389.9 388.0h9.1v2.5h-9.1zM508.7 388.0h37.7v2.5h-37.7zM68.7 390.2h4.7v2.5h-4.7zM81.9 390.2h6.9v2.5h-6.9zM136.9 390.2h31.1v2.5h-31.1zM183.1 390.2h6.9v2.5h-6.9zM398.7 390.2h15.7v2.5h-15.7zM510.9 390.2h37.7v2.5h-37.7zM68.7 392.4h17.9v2.5h-17.9zM132.5 392.4h50.9v2.5h-50.9zM317.3 392.4h2.5v2.5h-2.5zM409.7 392.4h11.3v2.5h-11.3zM541.7 392.4h9.1v2.5h-9.1zM64.3 394.6h20.1v2.5h-20.1zM130.3 394.6h11.3v2.5h-11.3zM145.7 394.6h37.7v2.5h-37.7zM290.9 394.6h31.1v2.5h-31.1zM418.5 394.6h9.1v2.5h-9.1zM548.3 394.6h4.7v2.5h-4.7zM64.3 396.8h17.9v2.5h-17.9zM130.3 396.8h9.1v2.5h-9.1zM147.9 396.8h35.5v2.5h-35.5zM288.7 396.8h4.7v2.5h-4.7zM312.9 396.8h9.1v2.5h-9.1zM422.9 396.8h9.1v2.5h-9.1zM552.7 396.8h4.7v2.5h-4.7zM128.1 399.0h13.5v2.5h-13.5zM145.7 399.0h35.5v2.5h-35.5zM290.9 399.0h9.1v2.5h-9.1zM310.7 399.0h9.1v2.5h-9.1zM429.5 399.0h15.7v2.5h-15.7zM550.5 399.0h6.9v2.5h-6.9zM123.7 401.2h57.5v2.5h-57.5zM293.1 401.2h26.7v2.5h-26.7zM438.3 401.2h11.3v2.5h-11.3zM502.1 401.2h55.3v2.5h-55.3zM121.5 403.4h59.7v2.5h-59.7zM295.3 403.4h22.3v2.5h-22.3zM444.9 403.4h35.5v2.5h-35.5zM499.9 403.4h59.7v2.5h-59.7zM121.5 405.6h57.5v2.5h-57.5zM301.9 405.6h9.1v2.5h-9.1zM449.3 405.6h35.5v2.5h-35.5zM499.9 405.6h61.9v2.5h-61.9zM121.5 407.8h28.9v2.5h-28.9zM458.1 407.8h28.9v2.5h-28.9zM497.7 407.8h64.1v2.5h-64.1zM121.5 410.0h26.7v2.5h-26.7zM477.9 410.0h83.9v2.5h-83.9zM572.5 410.0h2.5v2.5h-2.5zM121.5 412.2h24.5v2.5h-24.5zM480.1 412.2h81.7v2.5h-81.7zM570.3 412.2h9.1v2.5h-9.1zM125.9 414.4h17.9v2.5h-17.9zM484.5 414.4h77.3v2.5h-77.3zM570.3 414.4h35.5v2.5h-35.5zM546.1 416.6h13.5v2.5h-13.5zM568.1 416.6h39.9v2.5h-39.9zM568.1 418.8h6.9v2.5h-6.9zM594.5 418.8h15.7v2.5h-15.7zM568.1 421.0h4.7v2.5h-4.7zM596.7 421.0h15.7v2.5h-15.7zM568.1 423.2h6.9v2.5h-6.9zM594.5 423.2h17.9v2.5h-17.9zM568.1 425.4h35.5v2.5h-35.5zM554.9 427.6h13.5v2.5h-13.5zM587.9 427.6h11.3v2.5h-11.3zM552.7 429.8h15.7v2.5h-15.7zM554.9 432.0h13.5v2.5h-13.5zM519.7 478.2h4.7v2.5h-4.7zM515.3 480.4h13.5v2.5h-13.5zM451.5 482.6h68.5v2.5h-68.5zM528.5 482.6h11.3v2.5h-11.3zM550.5 482.6h17.9v2.5h-17.9zM400.9 484.8h116.9v2.5h-116.9zM535.1 484.8h17.9v2.5h-17.9zM568.1 484.8h2.5v2.5h-2.5zM398.7 487.0h20.1v2.5h-20.1zM449.3 487.0h70.7v2.5h-70.7zM537.3 487.0h13.5v2.5h-13.5zM568.1 487.0h2.5v2.5h-2.5zM396.5 489.2h11.3v2.5h-11.3zM497.7 489.2h26.7v2.5h-26.7zM568.1 489.2h6.9v2.5h-6.9zM387.7 491.4h17.9v2.5h-17.9zM499.9 491.4h26.7v2.5h-26.7zM574.7 491.4h9.1v2.5h-9.1zM385.5 493.6h17.9v2.5h-17.9zM499.9 493.6h26.7v2.5h-26.7zM583.5 493.6h2.5v2.5h-2.5zM387.7 495.8h15.7v2.5h-15.7zM499.9 495.8h28.9v2.5h-28.9zM585.7 495.8h2.5v2.5h-2.5zM392.1 498.0h11.3v2.5h-11.3zM499.9 498.0h33.3v2.5h-33.3zM585.7 498.0h2.5v2.5h-2.5zM394.3 500.2h9.1v2.5h-9.1zM499.9 500.2h35.5v2.5h-35.5zM585.7 500.2h6.9v2.5h-6.9zM394.3 502.4h11.3v2.5h-11.3zM497.7 502.4h37.7v2.5h-37.7zM587.9 502.4h6.9v2.5h-6.9zM396.5 504.6h11.3v2.5h-11.3zM495.5 504.6h42.1v2.5h-42.1zM587.9 504.6h6.9v2.5h-6.9zM398.7 506.8h20.1v2.5h-20.1zM466.9 506.8h37.7v2.5h-37.7zM524.1 506.8h44.3v2.5h-44.3zM587.9 506.8h6.9v2.5h-6.9zM400.9 509.0h20.1v2.5h-20.1zM464.7 509.0h37.7v2.5h-37.7zM526.3 509.0h44.3v2.5h-44.3zM587.9 509.0h6.9v2.5h-6.9zM403.1 511.2h20.1v2.5h-20.1zM462.5 511.2h35.5v2.5h-35.5zM528.5 511.2h42.1v2.5h-42.1zM585.7 511.2h9.1v2.5h-9.1zM405.3 513.4h20.1v2.5h-20.1zM460.3 513.4h20.1v2.5h-20.1zM537.3 513.4h35.5v2.5h-35.5zM583.5 513.4h9.1v2.5h-9.1zM416.3 515.6h53.1v2.5h-53.1zM550.5 515.6h42.1v2.5h-42.1zM418.5 517.8h48.7v2.5h-48.7zM552.7 517.8h37.7v2.5h-37.7zM422.9 520.0h39.9v2.5h-39.9zM552.7 520.0h33.3v2.5h-33.3zM70.9 522.2h9.1v2.5h-9.1zM554.9 522.2h13.5v2.5h-13.5zM66.5 524.4h17.9v2.5h-17.9zM64.3 526.6h6.9v2.5h-6.9zM75.3 526.6h11.3v2.5h-11.3zM64.3 528.8h4.7v2.5h-4.7zM77.5 528.8h9.1v2.5h-9.1zM64.3 531.0h2.5v2.5h-2.5zM77.5 531.0h9.1v2.5h-9.1zM62.1 533.2h2.5v2.5h-2.5zM77.5 533.2h9.1v2.5h-9.1zM62.1 535.4h2.5v2.5h-2.5zM77.5 535.4h9.1v2.5h-9.1zM62.1 537.6h2.5v2.5h-2.5zM77.5 537.6h9.1v2.5h-9.1zM64.3 539.8h6.9v2.5h-6.9zM75.3 539.8h11.3v2.5h-11.3zM66.5 542.0h20.1v2.5h-20.1zM70.9 544.2h15.7v2.5h-15.7zM70.9 546.4h15.7v2.5h-15.7zM70.9 548.6h15.7v2.5h-15.7z"/>
<path fill="#F72735" d="M103.9 348.4h42.1v2.5h-42.1zM90.7 350.6h15.7v2.5h-15.7zM143.5 350.6h6.9v2.5h-6.9zM88.5 352.8h15.7v2.5h-15.7zM145.7 352.8h4.7v2.5h-4.7zM88.5 355.0h13.5v2.5h-13.5zM145.7 355.0h6.9v2.5h-6.9zM62.1 357.2h4.7v2.5h-4.7zM86.3 357.2h4.7v2.5h-4.7zM145.7 357.2h9.1v2.5h-9.1zM59.9 359.4h28.9v2.5h-28.9zM147.9 359.4h15.7v2.5h-15.7zM640.7 359.4h35.5v2.5h-35.5zM81.9 361.6h17.9v2.5h-17.9zM147.9 361.6h17.9v2.5h-17.9zM638.5 361.6h4.7v2.5h-4.7zM99.5 363.8h33.3v2.5h-33.3zM145.7 363.8h17.9v2.5h-17.9zM636.3 363.8h4.7v2.5h-4.7zM664.9 363.8h11.3v2.5h-11.3zM121.5 366.0h37.7v2.5h-37.7zM636.3 366.0h2.5v2.5h-2.5zM660.5 366.0h15.7v2.5h-15.7zM128.1 368.2h28.9v2.5h-28.9zM634.1 368.2h2.5v2.5h-2.5zM658.3 368.2h11.3v2.5h-11.3zM132.5 370.4h24.5v2.5h-24.5zM636.3 370.4h22.3v2.5h-22.3zM134.7 372.6h20.1v2.5h-20.1zM418.5 372.6h42.1v2.5h-42.1zM396.5 374.8h66.3v2.5h-66.3zM394.3 377.0h28.9v2.5h-28.9zM462.5 377.0h2.5v2.5h-2.5zM394.3 379.2h26.7v2.5h-26.7zM462.5 379.2h4.7v2.5h-4.7zM394.3 381.4h24.5v2.5h-24.5zM460.3 381.4h9.1v2.5h-9.1zM394.3 383.6h20.1v2.5h-20.1zM449.3 383.6h57.5v2.5h-57.5zM73.1 385.8h11.3v2.5h-11.3zM394.3 385.8h17.9v2.5h-17.9zM447.1 385.8h61.9v2.5h-61.9zM73.1 388.0h11.3v2.5h-11.3zM398.7 388.0h15.7v2.5h-15.7zM447.1 388.0h61.9v2.5h-61.9zM73.1 390.2h9.1v2.5h-9.1zM414.1 390.2h17.9v2.5h-17.9zM447.1 390.2h64.1v2.5h-64.1zM420.7 392.4h26.7v2.5h-26.7zM480.1 392.4h61.9v2.5h-61.9zM141.3 394.6h4.7v2.5h-4.7zM427.3 394.6h20.1v2.5h-20.1zM482.3 394.6h66.3v2.5h-66.3zM139.1 396.8h9.1v2.5h-9.1zM293.1 396.8h20.1v2.5h-20.1zM431.7 396.8h17.9v2.5h-17.9zM480.1 396.8h72.9v2.5h-72.9zM141.3 399.0h4.7v2.5h-4.7zM299.7 399.0h11.3v2.5h-11.3zM444.9 399.0h105.9v2.5h-105.9zM449.3 401.2h53.1v2.5h-53.1zM480.1 403.4h20.1v2.5h-20.1zM484.5 405.6h15.7v2.5h-15.7zM486.7 407.8h11.3v2.5h-11.3zM574.7 418.8h20.1v2.5h-20.1zM572.5 421.0h24.5v2.5h-24.5zM574.7 423.2h20.1v2.5h-20.1zM519.7 482.6h9.1v2.5h-9.1zM517.5 484.8h17.9v2.5h-17.9zM552.7 484.8h15.7v2.5h-15.7zM418.5 487.0h31.1v2.5h-31.1zM519.7 487.0h17.9v2.5h-17.9zM550.5 487.0h17.9v2.5h-17.9zM407.5 489.2h90.5v2.5h-90.5zM524.1 489.2h44.3v2.5h-44.3zM405.3 491.4h17.9v2.5h-17.9zM444.9 491.4h55.3v2.5h-55.3zM526.3 491.4h48.7v2.5h-48.7zM403.1 493.6h17.9v2.5h-17.9zM447.1 493.6h53.1v2.5h-53.1zM526.3 493.6h57.5v2.5h-57.5zM403.1 495.8h17.9v2.5h-17.9zM447.1 495.8h53.1v2.5h-53.1zM528.5 495.8h57.5v2.5h-57.5zM403.1 498.0h17.9v2.5h-17.9zM447.1 498.0h53.1v2.5h-53.1zM532.9 498.0h53.1v2.5h-53.1zM403.1 500.2h17.9v2.5h-17.9zM447.1 500.2h53.1v2.5h-53.1zM535.1 500.2h50.9v2.5h-50.9zM405.3 502.4h15.7v2.5h-15.7zM447.1 502.4h50.9v2.5h-50.9zM535.1 502.4h53.1v2.5h-53.1zM407.5 504.6h15.7v2.5h-15.7zM444.9 504.6h50.9v2.5h-50.9zM537.3 504.6h50.9v2.5h-50.9zM418.5 506.8h48.7v2.5h-48.7zM568.1 506.8h20.1v2.5h-20.1zM420.7 509.0h44.3v2.5h-44.3zM570.3 509.0h17.9v2.5h-17.9zM422.9 511.2h39.9v2.5h-39.9zM570.3 511.2h15.7v2.5h-15.7zM425.1 513.4h35.5v2.5h-35.5zM572.5 513.4h11.3v2.5h-11.3zM70.9 526.6h4.7v2.5h-4.7zM68.7 528.8h9.1v2.5h-9.1zM66.5 531.0h11.3v2.5h-11.3zM64.3 533.2h13.5v2.5h-13.5zM64.3 535.4h13.5v2.5h-13.5zM64.3 537.6h13.5v2.5h-13.5zM70.9 539.8h4.7v2.5h-4.7z"/>
<path fill="#D8152F" d="M106.1 350.6h37.7v2.5h-37.7zM103.9 352.8h42.1v2.5h-42.1zM101.7 355.0h44.3v2.5h-44.3zM90.7 357.2h55.3v2.5h-55.3zM88.5 359.4h59.7v2.5h-59.7zM99.5 361.6h48.7v2.5h-48.7zM642.9 361.6h33.3v2.5h-33.3zM132.5 363.8h13.5v2.5h-13.5zM640.7 363.8h24.5v2.5h-24.5zM638.5 366.0h22.3v2.5h-22.3zM636.3 368.2h22.3v2.5h-22.3zM422.9 377.0h39.9v2.5h-39.9zM420.7 379.2h42.1v2.5h-42.1zM418.5 381.4h42.1v2.5h-42.1zM414.1 383.6h35.5v2.5h-35.5zM411.9 385.8h35.5v2.5h-35.5zM414.1 388.0h33.3v2.5h-33.3zM431.7 390.2h15.7v2.5h-15.7zM447.1 392.4h33.3v2.5h-33.3zM447.1 394.6h35.5v2.5h-35.5zM449.3 396.8h31.1v2.5h-31.1zM422.9 491.4h22.3v2.5h-22.3zM420.7 493.6h26.7v2.5h-26.7zM420.7 495.8h26.7v2.5h-26.7zM420.7 498.0h26.7v2.5h-26.7zM420.7 500.2h26.7v2.5h-26.7zM420.7 502.4h26.7v2.5h-26.7zM422.9 504.6h22.3v2.5h-22.3z"/>
</g>
<g clip-path="url(#clip1)" fill="url(#dots)">
<path d="M194.1 357.2h48.4v2.2h-48.4zM191.9 359.4h52.8v2.2h-52.8zM191.9 361.6h52.8v2.2h-52.8zM191.9 363.8h52.8v2.2h-52.8zM191.9 366.0h52.8v2.2h-52.8zM191.9 368.2h52.8v2.2h-52.8zM191.9 370.4h52.8v2.2h-52.8zM189.7 372.6h52.8v2.2h-52.8zM176.5 374.8h52.8v2.2h-52.8zM174.3 377.0h52.8v2.2h-52.8zM174.3 379.2h52.8v2.2h-52.8zM174.3 381.4h50.6v2.2h-50.6zM174.3 383.6h28.6v2.2h-28.6zM466.9 383.6h48.4v2.2h-48.4zM174.3 385.8h26.4v2.2h-26.4zM464.7 385.8h52.8v2.2h-52.8zM174.3 388.0h26.4v2.2h-26.4zM464.7 388.0h52.8v2.2h-52.8zM172.1 390.2h26.4v2.2h-26.4zM466.9 390.2h52.8v2.2h-52.8zM70.9 392.4h13.2v2.2h-13.2zM158.9 392.4h26.4v2.2h-26.4zM488.9 392.4h70.4v2.2h-70.4zM68.7 394.6h17.6v2.2h-17.6zM156.7 394.6h26.4v2.2h-26.4zM491.1 394.6h70.4v2.2h-70.4zM68.7 396.8h17.6v2.2h-17.6zM156.7 396.8h26.4v2.2h-26.4zM491.1 396.8h70.4v2.2h-70.4zM70.9 399.0h13.2v2.2h-13.2zM154.5 399.0h28.6v2.2h-28.6zM493.3 399.0h66.0v2.2h-66.0zM123.7 401.2h59.4v2.2h-59.4zM497.7 401.2h57.2v2.2h-57.2zM572.5 401.2h13.2v2.2h-13.2zM121.5 403.4h61.6v2.2h-61.6zM499.9 403.4h52.8v2.2h-52.8zM570.3 403.4h17.6v2.2h-17.6zM121.5 405.6h61.6v2.2h-61.6zM499.9 405.6h52.8v2.2h-52.8zM570.3 405.6h17.6v2.2h-17.6zM121.5 407.8h59.4v2.2h-59.4zM502.1 407.8h48.4v2.2h-48.4zM570.3 407.8h19.8v2.2h-19.8zM121.5 410.0h28.6v2.2h-28.6zM255.7 410.0h22.0v2.2h-22.0zM506.5 410.0h22.0v2.2h-22.0zM570.3 410.0h33.0v2.2h-33.0zM121.5 412.2h26.4v2.2h-26.4zM253.5 412.2h26.4v2.2h-26.4zM508.7 412.2h17.6v2.2h-17.6zM570.3 412.2h35.2v2.2h-35.2zM121.5 414.4h26.4v2.2h-26.4zM253.5 414.4h26.4v2.2h-26.4zM508.7 414.4h17.6v2.2h-17.6zM570.3 414.4h35.2v2.2h-35.2zM123.7 416.6h22.0v2.2h-22.0zM253.5 416.6h24.2v2.2h-24.2zM510.9 416.6h13.2v2.2h-13.2zM570.3 416.6h35.2v2.2h-35.2zM220.5 418.8h22.0v2.2h-22.0zM253.5 418.8h19.8v2.2h-19.8zM570.3 418.8h35.2v2.2h-35.2zM218.3 421.0h26.4v2.2h-26.4zM253.5 421.0h17.6v2.2h-17.6zM570.3 421.0h35.2v2.2h-35.2zM218.3 423.2h26.4v2.2h-26.4zM253.5 423.2h17.6v2.2h-17.6zM570.3 423.2h35.2v2.2h-35.2zM218.3 425.4h26.4v2.2h-26.4zM255.7 425.4h13.2v2.2h-13.2zM572.5 425.4h30.8v2.2h-30.8zM176.5 427.6h13.2v2.2h-13.2zM218.3 427.6h26.4v2.2h-26.4zM174.3 429.8h17.6v2.2h-17.6zM218.3 429.8h26.4v2.2h-26.4zM174.3 432.0h17.6v2.2h-17.6zM218.3 432.0h26.4v2.2h-26.4zM174.3 434.2h17.6v2.2h-17.6zM216.1 434.2h30.8v2.2h-30.8zM114.9 436.4h4.4v2.2h-4.4zM150.1 436.4h24.2v2.2h-24.2zM191.9 436.4h37.4v2.2h-37.4zM233.7 436.4h17.6v2.2h-17.6zM308.5 436.4h13.2v2.2h-13.2zM112.7 438.6h8.8v2.2h-8.8zM147.9 438.6h26.4v2.2h-26.4zM191.9 438.6h35.2v2.2h-35.2zM235.9 438.6h17.6v2.2h-17.6zM306.3 438.6h17.6v2.2h-17.6zM112.7 440.8h8.8v2.2h-8.8zM147.9 440.8h26.4v2.2h-26.4zM191.9 440.8h35.2v2.2h-35.2zM235.9 440.8h17.6v2.2h-17.6zM306.3 440.8h17.6v2.2h-17.6zM114.9 443.0h6.6v2.2h-6.6zM145.7 443.0h30.8v2.2h-30.8zM189.7 443.0h35.2v2.2h-35.2zM235.9 443.0h17.6v2.2h-17.6zM308.5 443.0h13.2v2.2h-13.2zM121.5 445.2h99.0v2.2h-99.0zM235.9 445.2h17.6v2.2h-17.6zM361.3 445.2h13.2v2.2h-13.2zM484.5 445.2h13.2v2.2h-13.2zM121.5 447.4h96.8v2.2h-96.8zM235.9 447.4h17.6v2.2h-17.6zM359.1 447.4h17.6v2.2h-17.6zM482.3 447.4h17.6v2.2h-17.6zM121.5 449.6h96.8v2.2h-96.8zM235.9 449.6h17.6v2.2h-17.6zM359.1 449.6h17.6v2.2h-17.6zM482.3 449.6h17.6v2.2h-17.6zM123.7 451.8h92.4v2.2h-92.4zM238.1 451.8h13.2v2.2h-13.2zM356.9 451.8h19.8v2.2h-19.8zM482.3 451.8h17.6v2.2h-17.6zM97.3 454.0h13.2v2.2h-13.2zM128.1 454.0h22.0v2.2h-22.0zM163.3 454.0h13.2v2.2h-13.2zM198.5 454.0h13.2v2.2h-13.2zM334.9 454.0h41.8v2.2h-41.8zM482.3 454.0h17.6v2.2h-17.6zM95.1 456.2h17.6v2.2h-17.6zM130.3 456.2h17.6v2.2h-17.6zM165.5 456.2h8.8v2.2h-8.8zM200.7 456.2h8.8v2.2h-8.8zM332.7 456.2h44.0v2.2h-44.0zM482.3 456.2h17.6v2.2h-17.6zM95.1 458.4h17.6v2.2h-17.6zM130.3 458.4h17.6v2.2h-17.6zM165.5 458.4h8.8v2.2h-8.8zM200.7 458.4h8.8v2.2h-8.8zM332.7 458.4h44.0v2.2h-44.0zM482.3 458.4h17.6v2.2h-17.6zM95.1 460.6h17.6v2.2h-17.6zM132.5 460.6h13.2v2.2h-13.2zM167.7 460.6h4.4v2.2h-4.4zM198.5 460.6h11.0v2.2h-11.0zM330.5 460.6h44.0v2.2h-44.0zM480.1 460.6h19.8v2.2h-19.8zM95.1 462.8h17.6v2.2h-17.6zM194.1 462.8h15.4v2.2h-15.4zM282.1 462.8h70.4v2.2h-70.4zM405.3 462.8h13.2v2.2h-13.2zM475.7 462.8h24.2v2.2h-24.2zM95.1 465.0h17.6v2.2h-17.6zM191.9 465.0h17.6v2.2h-17.6zM279.9 465.0h70.4v2.2h-70.4zM403.1 465.0h17.6v2.2h-17.6zM473.5 465.0h26.4v2.2h-26.4zM95.1 467.2h17.6v2.2h-17.6zM191.9 467.2h17.6v2.2h-17.6zM279.9 467.2h70.4v2.2h-70.4zM403.1 467.2h17.6v2.2h-17.6zM473.5 467.2h26.4v2.2h-26.4zM97.3 469.4h13.2v2.2h-13.2zM194.1 469.4h13.2v2.2h-13.2zM279.9 469.4h72.6v2.2h-72.6zM400.9 469.4h19.8v2.2h-19.8zM475.7 469.4h22.0v2.2h-22.0zM279.9 471.6h94.6v2.2h-94.6zM396.5 471.6h24.2v2.2h-24.2zM279.9 473.8h96.8v2.2h-96.8zM394.3 473.8h26.4v2.2h-26.4zM279.9 476.0h96.8v2.2h-96.8zM394.3 476.0h26.4v2.2h-26.4zM282.1 478.2h92.4v2.2h-92.4zM396.5 478.2h26.4v2.2h-26.4zM286.5 480.4h39.6v2.2h-39.6zM409.7 480.4h158.4v2.2h-158.4zM288.7 482.6h35.2v2.2h-35.2zM411.9 482.6h158.4v2.2h-158.4zM288.7 484.8h35.2v2.2h-35.2zM411.9 484.8h158.4v2.2h-158.4zM290.9 487.0h30.8v2.2h-30.8zM409.7 487.0h162.8v2.2h-162.8zM62.1 489.2h30.8v2.2h-30.8zM295.3 489.2h22.0v2.2h-22.0zM405.3 489.2h180.4v2.2h-180.4zM59.9 491.4h35.2v2.2h-35.2zM297.5 491.4h17.6v2.2h-17.6zM403.1 491.4h184.8v2.2h-184.8zM59.9 493.6h35.2v2.2h-35.2zM297.5 493.6h17.6v2.2h-17.6zM403.1 493.6h184.8v2.2h-184.8zM62.1 495.8h35.2v2.2h-35.2zM299.7 495.8h13.2v2.2h-13.2zM403.1 495.8h187.0v2.2h-187.0zM66.5 498.0h35.2v2.2h-35.2zM238.1 498.0h30.8v2.2h-30.8zM403.1 498.0h116.6v2.2h-116.6zM524.1 498.0h70.4v2.2h-70.4zM68.7 500.2h35.2v2.2h-35.2zM235.9 500.2h35.2v2.2h-35.2zM403.1 500.2h114.4v2.2h-114.4zM526.3 500.2h70.4v2.2h-70.4zM68.7 502.4h35.2v2.2h-35.2zM235.9 502.4h35.2v2.2h-35.2zM403.1 502.4h114.4v2.2h-114.4zM526.3 502.4h70.4v2.2h-70.4zM68.7 504.6h35.2v2.2h-35.2zM235.9 504.6h35.2v2.2h-35.2zM405.3 504.6h110.0v2.2h-110.0zM528.5 504.6h68.2v2.2h-68.2zM68.7 506.8h35.2v2.2h-35.2zM167.7 506.8h13.2v2.2h-13.2zM235.9 506.8h35.2v2.2h-35.2zM418.5 506.8h83.6v2.2h-83.6zM532.9 506.8h63.8v2.2h-63.8zM68.7 509.0h35.2v2.2h-35.2zM165.5 509.0h17.6v2.2h-17.6zM235.9 509.0h35.2v2.2h-35.2zM420.7 509.0h79.2v2.2h-79.2zM535.1 509.0h61.6v2.2h-61.6zM68.7 511.2h35.2v2.2h-35.2zM165.5 511.2h17.6v2.2h-17.6zM235.9 511.2h35.2v2.2h-35.2zM420.7 511.2h79.2v2.2h-79.2zM535.1 511.2h61.6v2.2h-61.6zM66.5 513.4h39.6v2.2h-39.6zM163.3 513.4h19.8v2.2h-19.8zM238.1 513.4h30.8v2.2h-30.8zM422.9 513.4h74.8v2.2h-74.8zM535.1 513.4h61.6v2.2h-61.6zM62.1 515.6h57.2v2.2h-57.2zM150.1 515.6h33.0v2.2h-33.0zM378.9 515.6h13.2v2.2h-13.2zM535.1 515.6h61.6v2.2h-61.6zM59.9 517.8h61.6v2.2h-61.6zM147.9 517.8h35.2v2.2h-35.2zM376.7 517.8h17.6v2.2h-17.6zM535.1 517.8h61.6v2.2h-61.6zM59.9 520.0h61.6v2.2h-61.6zM147.9 520.0h35.2v2.2h-35.2zM376.7 520.0h17.6v2.2h-17.6zM535.1 520.0h61.6v2.2h-61.6zM59.9 522.2h59.4v2.2h-59.4zM147.9 522.2h37.4v2.2h-37.4zM378.9 522.2h13.2v2.2h-13.2zM537.3 522.2h57.2v2.2h-57.2zM59.9 524.4h46.2v2.2h-46.2zM147.9 524.4h41.8v2.2h-41.8zM59.9 526.6h44.0v2.2h-44.0zM147.9 526.6h44.0v2.2h-44.0zM59.9 528.8h44.0v2.2h-44.0zM147.9 528.8h44.0v2.2h-44.0zM59.9 531.0h41.8v2.2h-41.8zM150.1 531.0h39.6v2.2h-39.6zM59.9 533.2h28.6v2.2h-28.6zM59.9 535.4h26.4v2.2h-26.4zM59.9 537.6h26.4v2.2h-26.4zM62.1 539.8h22.0v2.2h-22.0z"/>
</g>
<g clip-path="url(#clip1)">
<path d="M32.1 435.0L40.5 436.0L47.6 433.2L56.4 433.1L60.3 432.5L61.7 433.2L60.4 437.8L62.0 439.6L68.7 441.2L75.7 444.7L77.7 442.9L77.5 440.8L82.8 440.6L86.3 442.2L93.3 443.6L99.1 442.9L99.5 445.4L101.4 449.6L103.4 453.1L105.0 456.6L107.2 459.6L107.9 464.6L110.1 467.2L111.8 470.7L115.3 473.7L118.5 476.0L118.9 477.6L120.6 479.7L125.0 478.5L132.4 477.2L132.1 479.7L130.3 483.9L127.7 488.3L124.1 492.7L119.7 496.6L116.2 499.8L113.1 502.9L111.3 506.3L110.6 509.4L111.8 513.0L113.4 516.5L113.8 523.5L113.1 527.0L107.1 530.2L103.9 533.2L104.6 537.6L104.8 540.2L100.4 543.1L100.2 546.4L99.1 549.0L96.0 553.1L91.6 556.1L87.5 557.8L81.0 558.2L77.5 559.2L74.7 557.8L74.5 555.2L72.7 550.8L71.3 548.3L69.1 545.0L67.8 538.5L67.6 537.2L65.2 533.6L63.1 528.4L63.1 526.2L64.3 521.8L66.4 517.4L65.5 513.8L63.9 508.9L63.8 506.8L62.2 504.9L59.4 502.0L58.7 499.1L59.2 496.2L59.5 492.5L58.5 491.1L57.3 489.9L54.3 490.4L52.5 490.4L50.2 486.9L46.9 486.9L44.1 487.6L40.5 489.2L37.9 489.6L34.4 488.8L29.1 490.3L26.5 489.4L22.4 486.2L19.4 483.9L18.7 481.6L15.9 479.0L12.9 476.2L12.7 474.2L11.5 472.1L13.1 470.7L13.8 466.3L13.3 463.5L12.4 461.0L13.8 458.4L15.9 455.2L17.7 451.9L19.8 449.1L23.8 446.6L25.1 444.5L25.4 441.7L27.3 439.4L30.3 438.0L31.4 435.5L32.1 435.0M665.7 435.0L674.1 436.0L681.2 433.2L690.0 433.1L693.9 432.5L695.3 433.2L694.0 437.8L695.6 439.6L702.3 441.2L709.3 444.7L711.3 442.9L711.1 440.8L716.4 440.6L719.9 442.2L726.9 443.6L732.7 442.9L733.1 445.4L735.0 449.6L737.0 453.1L738.6 456.6L740.8 459.6L741.5 464.6L743.7 467.2L745.4 470.7L748.9 473.7L752.1 476.0L752.5 477.6L754.2 479.7L758.6 478.5L766.0 477.2L765.7 479.7L763.9 483.9L761.3 488.3L757.7 492.7L753.3 496.6L749.8 499.8L746.7 502.9L744.9 506.3L744.2 509.4L745.4 513.0L747.0 516.5L747.4 523.5L746.7 527.0L740.7 530.2L737.5 533.2L738.2 537.6L738.4 540.2L734.0 543.1L733.8 546.4L732.7 549.0L729.6 553.1L725.2 556.1L721.1 557.8L714.6 558.2L711.1 559.2L708.3 557.8L708.1 555.2L706.3 550.8L704.9 548.3L702.7 545.0L701.4 538.5L701.2 537.2L698.8 533.6L696.7 528.4L696.7 526.2L697.9 521.8L700.0 517.4L699.1 513.8L697.5 508.9L697.4 506.8L695.8 504.9L693.0 502.0L692.3 499.1L692.8 496.2L693.1 492.5L692.1 491.1L690.9 489.9L687.9 490.4L686.1 490.4L683.8 486.9L680.5 486.9L677.7 487.6L674.1 489.2L671.5 489.6L668.0 488.8L662.7 490.3L660.1 489.4L656.0 486.2L653.0 483.9L652.3 481.6L649.5 479.0L646.5 476.2L646.3 474.2L645.1 472.1L646.7 470.7L647.4 466.3L646.9 463.5L646.0 461.0L647.4 458.4L649.5 455.2L651.3 451.9L653.4 449.1L657.4 446.6L658.7 444.5L659.0 441.7L660.9 439.4L663.9 438.0L665.0 435.5L665.7 435.0M129.1 519.1L131.2 525.3L129.4 528.8L127.7 534.1L125.9 539.4L125.0 542.0L121.9 542.9L119.7 541.1L118.5 536.7L119.4 534.1L120.4 528.8L119.7 526.5L124.1 525.6L126.4 523.5L127.7 521.4L129.1 519.1M99.1 442.9L102.7 442.9L103.7 440.3L105.3 437.1L105.5 433.8L106.0 433.2L103.4 433.2L99.5 434.5L96.0 434.1L93.7 433.8L90.5 432.4L89.6 430.2L88.6 428.5L88.8 427.2L85.4 426.0L82.6 426.5L84.4 429.5L83.0 431.3L82.3 433.8L80.5 433.2L79.4 430.8L78.0 428.3L76.4 426.9L76.6 424.3L74.9 423.4L70.5 421.4L67.5 418.8L65.9 417.6L63.9 418.3L64.1 420.2L66.6 422.3L69.1 424.3L70.6 425.1L73.1 426.4L74.9 427.4L72.4 429.2L71.5 430.4L69.9 431.3L70.8 429.5L69.9 427.6L67.8 426.5L65.2 425.3L62.0 423.4L60.6 421.4L57.8 419.9L55.5 420.9L52.9 422.1L50.7 421.6L47.9 422.1L47.8 424.3L43.9 426.4L41.8 428.7L42.7 429.9L41.1 431.8L38.6 433.4L34.6 433.4L32.4 434.6L31.0 433.2L29.3 432.5L26.6 432.9L26.8 429.9L25.6 429.7L26.8 426.4L26.8 424.1L25.9 422.3L28.2 421.1L32.8 421.4L37.0 421.6L39.7 421.6L40.2 417.0L38.4 415.1L34.4 413.9L34.2 412.5L37.0 412.1L39.8 412.3L39.5 410.7L42.7 410.9L44.9 409.6L45.1 408.4L48.1 407.7L50.2 406.1L50.7 404.7L54.4 404.0L57.3 403.7L57.4 401.2L56.6 398.4L58.8 397.5L61.0 396.4L60.3 398.6L61.5 398.9L61.0 401.2L62.5 402.4L66.1 402.4L67.6 403.1L71.3 402.1L75.0 401.7L77.3 401.4L79.6 400.8L79.3 398.0L80.3 397.0L82.1 396.4L84.4 397.7L85.2 395.2L83.7 393.8L88.1 393.3L92.1 392.9L92.5 391.5L88.9 391.7L82.8 392.8L79.8 391.0L80.1 388.4L81.9 386.4L85.8 383.8L87.0 382.5L81.9 382.2L79.8 384.3L76.1 386.2L73.6 387.5L72.6 389.8L72.6 391.3L75.4 392.4L75.2 393.6L72.2 394.7L71.3 397.3L70.3 399.3L67.6 399.4L65.0 400.5L64.5 398.9L63.2 396.6L62.0 394.5L60.8 393.5L59.0 394.2L56.9 395.6L53.7 395.7L52.2 394.3L51.5 391.7L50.9 389.6L51.8 388.2L54.6 387.3L59.0 386.1L60.8 384.5L63.8 382.7L65.7 380.8L68.2 378.7L69.8 376.7L72.9 375.5L75.7 374.8L79.4 374.4L83.5 373.4L87.5 373.0L91.2 372.9L94.2 373.6L96.9 374.3L97.4 375.2L100.7 375.9L104.8 376.2L110.2 377.6L113.2 378.7L114.6 380.4L111.8 381.5L107.4 381.5L103.5 382.0L103.4 384.5L106.5 385.2L107.8 385.5L109.2 384.5L112.2 384.3L113.6 383.6L114.5 381.3L117.1 381.1L120.1 381.7L119.7 378.3L120.6 377.4L123.8 378.0L124.5 378.8L122.4 379.4L124.1 380.4L127.0 379.0L130.7 378.0L136.8 376.7L139.8 377.6L143.1 377.3L147.7 377.3L149.7 375.2L154.1 375.7L159.3 375.7L160.7 377.6L163.0 378.0L164.3 376.7L162.2 375.5L159.9 373.7L160.6 372.3L163.0 370.0L164.4 369.5L170.1 369.9L170.4 371.3L168.7 372.3L169.9 373.2L170.1 376.6L171.5 377.4L171.8 378.8L170.4 380.8L172.5 379.6L173.6 376.9L172.0 374.6L173.4 373.7L174.1 370.6L175.5 370.8L174.8 372.7L179.9 371.5L178.9 370.8L181.2 370.6L184.0 370.6L184.3 368.5L189.8 368.8L195.1 367.9L195.8 365.8L206.3 365.5L216.4 364.2L220.1 362.7L225.9 361.2L229.0 361.8L231.0 363.4L237.7 363.0L241.7 363.9L242.8 365.5L240.8 366.0L234.8 367.4L237.0 367.8L239.6 368.1L242.1 369.0L246.5 368.5L251.7 369.3L259.1 369.7L259.3 368.3L265.6 368.5L268.6 369.9L270.0 371.3L268.5 372.7L273.4 373.4L275.1 371.6L278.0 372.3L281.0 371.8L284.3 372.5L288.5 372.2L287.1 370.6L291.0 370.0L296.4 370.9L305.4 370.9L307.0 372.0L311.4 373.4L318.6 373.0L322.1 373.2L323.4 375.3L325.5 375.9L327.9 375.5L331.1 375.3L337.6 375.5L340.8 377.1L342.9 376.6L342.4 374.6L351.5 375.0L356.6 375.9L359.1 376.6L362.6 377.4L367.0 379.6L370.4 380.1L373.9 380.8L376.5 381.8L375.1 382.9L371.4 383.6L369.7 384.7L364.9 384.0L360.9 383.1L356.8 384.5L354.5 388.0L349.6 389.2L348.0 389.4L345.2 390.8L342.7 391.9L341.3 391.3L338.5 391.3L335.0 392.8L332.9 392.2L330.8 393.6L327.4 395.6L328.8 398.4L326.9 400.7L324.6 402.4L321.3 404.7L318.3 408.1L317.6 405.6L316.7 398.0L318.3 397.0L321.1 395.7L324.3 393.6L327.2 391.9L330.4 390.5L331.8 387.8L329.7 388.0L327.4 389.6L324.1 391.5L322.7 389.2L318.1 389.9L313.7 392.8L315.1 394.0L308.6 394.5L308.1 393.1L305.9 392.9L303.7 393.8L298.4 393.6L292.6 394.2L286.8 397.5L283.8 399.4L280.1 401.7L283.8 403.0L285.5 403.3L288.5 402.6L291.0 404.5L291.2 406.1L289.8 407.9L289.6 410.0L288.9 412.8L286.2 415.3L285.5 416.5L283.2 418.6L280.8 420.7L278.3 421.6L276.2 422.7L273.0 422.5L272.2 423.4L270.4 424.8L270.6 426.0L266.7 428.0L268.1 430.1L269.7 432.2L270.2 433.2L270.2 435.3L267.9 436.4L264.9 437.5L264.8 433.4L264.4 431.6L262.8 431.6L261.8 430.9L262.7 428.3L261.1 427.8L258.6 428.3L256.0 429.4L256.3 428.3L255.4 427.6L257.4 426.9L256.3 426.0L254.9 426.5L252.8 427.8L251.6 429.2L249.1 429.9L250.2 430.9L251.4 432.2L253.0 432.5L254.9 431.3L257.7 432.0L257.9 433.1L255.4 433.4L254.6 434.5L253.0 435.3L252.1 436.6L253.9 437.5L254.6 439.2L255.6 440.8L256.8 442.2L256.8 443.6L255.8 444.0L257.2 445.6L256.5 448.4L255.4 448.5L252.8 452.8L251.2 454.7L248.7 456.5L246.3 457.9L244.3 458.0L243.3 458.9L242.6 458.4L241.5 459.1L239.1 460.0L237.3 460.3L236.6 462.3L235.7 462.3L235.2 461.0L235.7 460.3L233.3 459.8L230.1 461.6L228.7 463.2L228.3 464.4L229.6 466.3L231.3 468.6L232.9 469.7L234.0 471.1L234.7 474.4L234.5 477.4L233.1 478.6L231.0 479.7L229.6 481.3L227.5 482.9L226.7 481.8L227.3 480.6L225.9 479.5L224.5 479.3L223.8 478.3L222.9 476.5L221.3 475.8L219.7 475.8L219.9 474.4L218.5 474.4L218.3 476.4L216.9 478.6L216.9 481.8L218.1 481.8L218.8 483.4L219.2 485.0L220.1 485.9L221.1 486.2L222.0 487.1L224.3 489.4L224.3 490.6L224.1 491.5L224.5 493.1L225.7 495.2L224.5 495.9L222.5 494.3L220.8 493.1L220.6 492.2L219.5 491.1L219.0 488.7L218.8 487.4L218.5 486.6L217.8 486.0L215.7 483.2L215.3 481.6L215.8 480.4L216.2 477.9L215.5 476.9L215.7 474.9L215.0 474.1L214.4 472.0L214.1 469.7L213.4 468.3L212.1 469.1L210.2 470.4L209.1 470.2L208.1 469.8L208.6 467.6L208.3 466.0L206.9 463.9L207.2 463.3L206.2 463.0L204.9 461.6L204.4 460.7L204.2 459.8L203.2 457.9L201.6 457.9L201.2 459.6L200.2 459.5L199.6 459.5L198.8 459.8L197.5 459.8L195.2 460.2L195.4 461.6L194.5 462.4L192.1 463.7L190.3 465.8L187.0 468.1L187.0 468.8L186.1 469.3L184.5 469.8L183.6 470.0L183.1 471.4L183.5 473.7L183.6 475.1L182.9 476.7L182.9 479.7L181.9 479.9L181.2 481.3L181.7 481.8L180.1 482.3L179.4 483.4L178.7 483.9L177.1 482.3L176.2 479.9L175.5 478.1L175.0 477.2L174.1 475.6L173.6 473.4L173.2 472.3L171.7 469.8L171.0 466.5L170.4 464.2L170.4 462.1L170.1 460.3L167.6 461.4L166.4 461.2L164.1 459.1L164.8 458.4L164.3 457.9L162.3 456.3L160.9 455.9L160.4 454.5L159.2 453.3L155.8 453.6L153.0 453.6L150.5 453.8L147.2 453.3L145.3 452.9L143.3 452.8L142.4 450.3L141.7 450.3L140.3 450.7L138.6 451.4L136.5 450.8L134.7 449.4L132.9 448.9L131.9 447.3L130.5 445.0L129.6 445.2L128.4 444.7L127.8 445.4L126.8 446.1L127.5 447.7L128.2 449.2L129.1 449.6L129.4 450.3L130.7 451.0L130.5 452.4L131.2 453.5L131.5 454.0L131.7 454.4L132.2 452.1L133.1 452.6L133.1 453.6L132.8 454.7L133.5 455.8L134.9 455.4L137.3 455.6L139.8 453.3L141.0 451.9L141.6 451.5L141.7 454.4L143.3 455.9L145.6 456.5L147.0 458.0L147.5 458.4L146.7 460.3L146.0 460.9L145.3 462.1L144.4 461.9L144.0 462.4L143.9 463.3L144.0 464.4L143.9 464.7L141.9 465.3L141.4 466.5L140.3 466.5L139.6 467.0L139.6 467.7L138.7 468.1L137.7 468.1L136.6 468.6L135.8 468.6L134.5 469.1L134.2 470.0L134.2 470.5L132.4 471.2L129.6 472.1L128.0 473.4L127.1 473.5L126.6 473.4L125.7 474.1L124.5 474.4L123.1 474.6L122.6 474.6L122.2 475.1L121.7 475.3L120.6 475.6L119.7 475.8L118.9 475.8L118.3 474.8L118.5 473.7L117.8 472.0L117.3 471.2L117.6 471.1L117.5 470.4L117.6 470.0L117.6 469.3L117.3 468.4L116.7 467.9L116.7 467.2L115.9 466.7L114.8 465.1L114.3 463.7L113.1 462.4L112.3 462.3L111.1 460.5L110.9 458.2L110.1 456.3L109.2 455.6L108.3 455.2L107.8 454.2L107.8 453.8L107.2 452.9L106.7 452.2L106.0 451.2L105.0 449.8L104.1 448.5L103.2 448.5L103.5 447.7L103.5 446.8L102.7 448.7L102.0 449.4L100.6 448.0L99.3 445.4M732.7 442.9L736.3 442.9L737.3 440.3L738.9 437.1L739.1 433.8L739.6 433.2L737.0 433.2L733.1 434.5L729.6 434.1L727.3 433.8L724.1 432.4L723.2 430.2L722.2 428.5L722.4 427.2L719.0 426.0L716.2 426.5L718.0 429.5L716.6 431.3L715.9 433.8L714.1 433.2L713.0 430.8L711.6 428.3L710.0 426.9L710.2 424.3L708.5 423.4L704.1 421.4L701.1 418.8L699.5 417.6L697.5 418.3L697.7 420.2L700.2 422.3L702.7 424.3L704.2 425.1L706.7 426.4L708.5 427.4L706.0 429.2L705.1 430.4L703.5 431.3L704.4 429.5L703.5 427.6L701.4 426.5L698.8 425.3L695.6 423.4L694.2 421.4L691.4 419.9L689.1 420.9L686.5 422.1L684.3 421.6L681.5 422.1L681.4 424.3L677.5 426.4L675.4 428.7L676.3 429.9L674.7 431.8L672.2 433.4L668.2 433.4L666.0 434.6L664.6 433.2L662.9 432.5L660.2 432.9L660.4 429.9L659.2 429.7L660.4 426.4L660.4 424.1L659.5 422.3L661.8 421.1L666.4 421.4L670.6 421.6L673.3 421.6L673.8 417.0L672.0 415.1L668.0 413.9L667.8 412.5L670.6 412.1L673.4 412.3L673.1 410.7L676.3 410.9L678.5 409.6L678.7 408.4L681.7 407.7L683.8 406.1L684.3 404.7L688.0 404.0L690.9 403.7L691.0 401.2L690.2 398.4L692.4 397.5L694.6 396.4L693.9 398.6L695.1 398.9L694.6 401.2L696.1 402.4L699.7 402.4L701.2 403.1L704.9 402.1L708.6 401.7L710.9 401.4L713.2 400.8L712.9 398.0L713.9 397.0L715.7 396.4L718.0 397.7L718.8 395.2L717.3 393.8L721.7 393.3L725.7 392.9L726.1 391.5L722.5 391.7L716.4 392.8L713.4 391.0L713.7 388.4L715.5 386.4L719.4 383.8L720.6 382.5L715.5 382.2L713.4 384.3L709.7 386.2L707.2 387.5L706.2 389.8L706.2 391.3L709.0 392.4L708.8 393.6L705.8 394.7L704.9 397.3L703.9 399.3L701.2 399.4L698.6 400.5L698.1 398.9L696.8 396.6L695.6 394.5L694.4 393.5L692.6 394.2L690.5 395.6L687.3 395.7L685.8 394.3L685.1 391.7L684.5 389.6L685.4 388.2L688.2 387.3L692.6 386.1L694.4 384.5L697.4 382.7L699.3 380.8L701.8 378.7L703.4 376.7L706.5 375.5L709.3 374.8L713.0 374.4L717.1 373.4L721.1 373.0L724.8 372.9L727.8 373.6L730.5 374.3L731.0 375.2L734.3 375.9L738.4 376.2L743.8 377.6L746.8 378.7L748.2 380.4L745.4 381.5L741.0 381.5L737.1 382.0L737.0 384.5L740.1 385.2L741.4 385.5L742.8 384.5L745.8 384.3L747.2 383.6L748.1 381.3L750.7 381.1L753.7 381.7L753.3 378.3L754.2 377.4L757.4 378.0L758.1 378.8L756.0 379.4L757.7 380.4L760.6 379.0L764.3 378.0L770.4 376.7L773.4 377.6L776.7 377.3L781.3 377.3L783.3 375.2L787.7 375.7L792.9 375.7L794.3 377.6L796.6 378.0L797.9 376.7L795.8 375.5L793.5 373.7L794.2 372.3L796.6 370.0L798.0 369.5L803.7 369.9L804.0 371.3L802.3 372.3L803.5 373.2L803.7 376.6L805.1 377.4L805.4 378.8L804.0 380.8L806.1 379.6L807.2 376.9L805.6 374.6L807.0 373.7L807.7 370.6L809.1 370.8L808.4 372.7L813.5 371.5L812.5 370.8L814.8 370.6L817.6 370.6L817.9 368.5L823.4 368.8L828.7 367.9L829.4 365.8L839.9 365.5L850.0 364.2L853.7 362.7L859.5 361.2L862.6 361.8L864.6 363.4L871.3 363.0L875.3 363.9L876.4 365.5L874.4 366.0L868.4 367.4L870.6 367.8L873.2 368.1L875.7 369.0L880.1 368.5L885.3 369.3L892.7 369.7L892.9 368.3L899.2 368.5L902.2 369.9L903.6 371.3L902.1 372.7L907.0 373.4L908.7 371.6L911.6 372.3L914.6 371.8L917.9 372.5L922.1 372.2L920.7 370.6L924.6 370.0L930.0 370.9L939.0 370.9L940.6 372.0L945.0 373.4L952.2 373.0L955.7 373.2L957.0 375.3L959.1 375.9L961.5 375.5L964.7 375.3L971.2 375.5L974.4 377.1L976.5 376.6L976.0 374.6L985.1 375.0L990.2 375.9L992.7 376.6L996.2 377.4L1000.6 379.6L1004.0 380.1L1007.5 380.8L1010.1 381.8L1008.7 382.9L1005.0 383.6L1003.3 384.7L998.5 384.0L994.5 383.1L990.4 384.5L988.1 388.0L983.2 389.2L981.6 389.4L978.8 390.8L976.3 391.9L974.9 391.3L972.1 391.3L968.6 392.8L966.5 392.2L964.4 393.6L961.0 395.6L962.4 398.4L960.5 400.7L958.2 402.4L954.9 404.7L951.9 408.1L951.2 405.6L950.3 398.0L951.9 397.0L954.7 395.7L957.9 393.6L960.8 391.9L964.0 390.5L965.4 387.8L963.3 388.0L961.0 389.6L957.7 391.5L956.3 389.2L951.7 389.9L947.3 392.8L948.7 394.0L942.2 394.5L941.7 393.1L939.5 392.9L937.3 393.8L932.0 393.6L926.2 394.2L920.4 397.5L917.4 399.4L913.7 401.7L917.4 403.0L919.1 403.3L922.1 402.6L924.6 404.5L924.8 406.1L923.4 407.9L923.2 410.0L922.5 412.8L919.8 415.3L919.1 416.5L916.8 418.6L914.4 420.7L911.9 421.6L909.8 422.7L906.6 422.5L905.8 423.4L904.0 424.8L904.2 426.0L900.3 428.0L901.7 430.1L903.3 432.2L903.8 433.2L903.8 435.3L901.5 436.4L898.5 437.5L898.4 433.4L898.0 431.6L896.4 431.6L895.4 430.9L896.3 428.3L894.7 427.8L892.2 428.3L889.6 429.4L889.9 428.3L889.0 427.6L891.0 426.9L889.9 426.0L888.5 426.5L886.4 427.8L885.2 429.2L882.7 429.9L883.8 430.9L885.0 432.2L886.6 432.5L888.5 431.3L891.3 432.0L891.5 433.1L889.0 433.4L888.2 434.5L886.6 435.3L885.7 436.6L887.5 437.5L888.2 439.2L889.2 440.8L890.4 442.2L890.4 443.6L889.4 444.0L890.8 445.6L890.1 448.4L889.0 448.5L886.4 452.8L884.8 454.7L882.3 456.5L879.9 457.9L877.9 458.0L876.9 458.9L876.2 458.4L875.1 459.1L872.7 460.0L870.9 460.3L870.2 462.3L869.3 462.3L868.8 461.0L869.3 460.3L866.9 459.8L863.7 461.6L862.3 463.2L861.9 464.4L863.2 466.3L864.9 468.6L866.5 469.7L867.6 471.1L868.3 474.4L868.1 477.4L866.7 478.6L864.6 479.7L863.2 481.3L861.1 482.9L860.3 481.8L860.9 480.6L859.5 479.5L858.1 479.3L857.4 478.3L856.5 476.5L854.9 475.8L853.3 475.8L853.5 474.4L852.1 474.4L851.9 476.4L850.5 478.6L850.5 481.8L851.7 481.8L852.4 483.4L852.8 485.0L853.7 485.9L854.7 486.2L855.6 487.1L857.9 489.4L857.9 490.6L857.7 491.5L858.1 493.1L859.3 495.2L858.1 495.9L856.1 494.3L854.4 493.1L854.2 492.2L853.1 491.1L852.6 488.7L852.4 487.4L852.1 486.6L851.4 486.0L849.3 483.2L848.9 481.6L849.4 480.4L849.8 477.9L849.1 476.9L849.3 474.9L848.6 474.1L848.0 472.0L847.7 469.7L847.0 468.3L845.7 469.1L843.8 470.4L842.7 470.2L841.7 469.8L842.2 467.6L841.9 466.0L840.5 463.9L840.8 463.3L839.8 463.0L838.5 461.6L838.0 460.7L837.8 459.8L836.8 457.9L835.2 457.9L834.8 459.6L833.8 459.5L833.2 459.5L832.4 459.8L831.1 459.8L828.8 460.2L829.0 461.6L828.1 462.4L825.7 463.7L823.9 465.8L820.6 468.1L820.6 468.8L819.7 469.3L818.1 469.8L817.2 470.0L816.7 471.4L817.1 473.7L817.2 475.1L816.5 476.7L816.5 479.7L815.5 479.9L814.8 481.3L815.3 481.8L813.7 482.3L813.0 483.4L812.3 483.9L810.7 482.3L809.8 479.9L809.1 478.1L808.6 477.2L807.7 475.6L807.2 473.4L806.8 472.3L805.3 469.8L804.6 466.5L804.0 464.2L804.0 462.1L803.7 460.3L801.2 461.4L800.0 461.2L797.7 459.1L798.4 458.4L797.9 457.9L795.9 456.3L794.5 455.9L794.0 454.5L792.8 453.3L789.4 453.6L786.6 453.6L784.1 453.8L780.8 453.3L778.9 452.9L776.9 452.8L776.0 450.3L775.3 450.3L773.9 450.7L772.2 451.4L770.1 450.8L768.3 449.4L766.5 448.9L765.5 447.3L764.1 445.0L763.2 445.2L762.0 444.7L761.4 445.4L760.4 446.1L761.1 447.7L761.8 449.2L762.7 449.6L763.0 450.3L764.3 451.0L764.1 452.4L764.8 453.5L765.1 454.0L765.3 454.4L765.8 452.1L766.7 452.6L766.7 453.6L766.4 454.7L767.1 455.8L768.5 455.4L770.9 455.6L773.4 453.3L774.6 451.9L775.2 451.5L775.3 454.4L776.9 455.9L779.2 456.5L780.6 458.0L781.1 458.4L780.3 460.3L779.6 460.9L778.9 462.1L778.0 461.9L777.6 462.4L777.5 463.3L777.6 464.4L777.5 464.7L775.5 465.3L775.0 466.5L773.9 466.5L773.2 467.0L773.2 467.7L772.3 468.1L771.3 468.1L770.2 468.6L769.4 468.6L768.1 469.1L767.8 470.0L767.8 470.5L766.0 471.2L763.2 472.1L761.6 473.4L760.7 473.5L760.2 473.4L759.3 474.1L758.1 474.4L756.7 474.6L756.2 474.6L755.8 475.1L755.3 475.3L754.2 475.6L753.3 475.8L752.5 475.8L751.9 474.8L752.1 473.7L751.4 472.0L750.9 471.2L751.2 471.1L751.1 470.4L751.2 470.0L751.2 469.3L750.9 468.4L750.3 467.9L750.3 467.2L749.5 466.7L748.4 465.1L747.9 463.7L746.7 462.4L745.9 462.3L744.7 460.5L744.5 458.2L743.7 456.3L742.8 455.6L741.9 455.2L741.4 454.2L741.4 453.8L740.8 452.9L740.3 452.2L739.6 451.2L738.6 449.8L737.7 448.5L736.8 448.5L737.1 447.7L737.1 446.8L736.3 448.7L735.6 449.4L734.2 448.0L732.9 445.4M91.6 424.8L93.3 425.5L97.0 425.7L100.4 424.1L104.3 424.1L107.2 425.3L109.7 426.0L113.4 425.8L115.5 425.0L115.7 423.0L112.7 421.6L109.5 419.9L108.3 419.3L109.5 416.7L108.1 415.5L104.1 417.4L106.5 417.9L104.3 418.8L101.3 419.7L99.5 418.3L101.4 417.4L99.7 416.7L96.9 416.0L95.1 417.4L94.4 418.8L93.0 419.0L92.5 421.1L91.6 422.0L91.1 424.1L91.6 424.8M125.0 418.8L127.8 416.3L129.9 416.3L133.1 415.1L135.6 415.5L135.9 416.7L132.6 418.4L132.6 419.7L131.0 419.9L131.7 420.6L133.5 422.7L135.1 423.4L135.9 423.7L137.3 424.8L135.6 426.5L136.1 428.8L137.0 432.0L133.6 433.2L130.7 432.2L128.7 431.8L128.4 429.7L128.9 429.4L129.2 427.2L130.8 427.1L129.2 426.0L127.8 424.4L126.6 422.5L125.9 420.9L125.0 418.8M32.3 409.8L36.3 408.9L40.5 408.6L44.8 407.9L45.3 405.2L42.8 404.0L41.8 403.0L40.2 401.9L39.5 400.1L38.6 399.4L37.7 398.9L39.1 396.6L36.1 396.3L36.8 394.9L33.5 394.9L32.1 396.3L32.4 398.9L31.4 399.1L32.6 400.5L33.9 400.7L33.5 401.6L36.7 401.9L37.0 403.0L37.0 404.2L34.7 404.0L34.0 405.1L35.1 406.0L33.7 406.7L33.3 407.2L36.5 407.5L34.7 408.1L33.5 408.9L32.3 409.8M665.9 409.8L669.9 408.9L674.1 408.6L678.4 407.9L678.9 405.2L676.4 404.0L675.4 403.0L673.8 401.9L673.1 400.1L672.2 399.4L671.3 398.9L672.7 396.6L669.7 396.3L670.4 394.9L667.1 394.9L665.7 396.3L666.0 398.9L665.0 399.1L666.2 400.5L667.5 400.7L667.1 401.6L670.3 401.9L670.6 403.0L670.6 404.2L668.3 404.0L667.6 405.1L668.7 406.0L667.3 406.7L666.9 407.2L670.1 407.5L668.3 408.1L667.1 408.9L665.9 409.8M665.3 406.3L665.2 404.2L665.0 403.0L666.2 401.9L665.3 400.8L662.9 400.7L661.6 401.4L660.8 402.4L658.3 402.6L658.7 404.2L657.8 406.5L659.4 407.2L661.8 407.0L663.9 406.5L665.3 406.3M636.1 385.5L636.5 383.8L633.7 382.5L636.8 382.0L636.8 381.1L642.3 381.7L644.6 381.8L647.4 381.0L650.4 382.2L652.0 383.4L649.7 384.7L643.0 386.2L636.1 385.5M64.1 431.1L66.1 430.8L69.8 430.6L68.9 433.4L67.5 432.9L64.1 431.8L64.1 431.1M57.1 425.7L59.5 426.7L59.2 429.0L57.3 429.4L57.1 425.7M58.8 422.3L59.2 425.0L57.8 424.8L57.4 423.2L58.8 422.3M83.8 435.9L88.6 435.9L87.7 436.4L83.8 435.9M99.1 436.2L103.2 435.2L101.1 436.6L99.1 436.2M182.7 487.4L183.1 480.8L185.2 482.9L186.4 484.8L184.9 487.4L182.7 487.4M272.7 438.2L275.5 435.5L278.1 435.3L281.7 435.0L283.1 432.5L284.1 433.2L286.9 431.1L288.3 428.8L288.7 426.9L288.7 425.3L291.3 425.5L292.0 428.5L290.5 430.8L290.3 432.9L290.1 435.2L288.3 436.4L286.9 436.9L286.1 437.1L283.4 437.1L283.1 437.8L281.3 439.0L279.9 437.3L276.4 437.6L272.7 438.2M288.7 425.0L289.2 422.0L291.2 421.8L291.7 418.1L294.9 420.2L298.4 421.8L294.5 424.1L290.5 424.4L288.7 425.0M270.7 439.0L272.9 438.2L274.6 439.9L273.6 442.7L271.5 442.9L270.7 439.0M275.7 438.3L279.0 437.8L279.4 438.5L276.4 440.3L275.7 438.3M292.2 417.0L294.9 416.2L294.0 411.8L296.6 411.8L294.3 406.8L293.5 402.4L292.2 406.5L291.9 412.6L292.2 417.0M253.9 457.5L255.3 453.6L257.0 454.0L256.1 457.5L254.9 459.3L253.9 457.5M233.4 464.2L236.8 462.6L237.7 463.5L235.0 466.0L233.4 464.2M253.5 472.5L254.4 465.4L257.4 465.4L257.0 469.8L260.5 473.4L258.8 475.1L255.3 473.7L253.5 472.5M257.0 485.7L260.5 483.4L263.2 481.3L264.9 485.7L263.2 487.8L260.5 486.6L257.0 485.7M257.0 477.8L259.7 478.6L262.3 477.8L262.3 480.4L259.7 481.3L257.0 479.5L257.0 477.8M248.6 483.2L252.6 479.5L253.0 480.0L249.1 483.6L248.6 483.2M234.1 495.4L235.9 495.0L238.5 493.1L241.2 492.4L245.6 488.7L248.2 485.7L251.7 489.2L250.0 490.4L250.9 496.2L249.1 498.0L248.2 499.8L247.3 504.2L243.8 505.0L239.1 503.8L236.3 503.1L235.9 500.6L234.1 498.0L234.1 495.4M210.0 488.1L213.9 488.8L219.2 494.5L224.8 499.6L228.9 503.3L228.5 508.2L226.2 508.4L221.8 505.0L219.2 500.6L216.2 494.8L212.1 491.7L210.0 488.1M227.5 510.0L228.9 508.6L233.3 509.1L237.7 509.4L240.5 510.1L243.8 511.6L243.5 513.3L237.7 512.4L232.4 511.7L229.7 511.0L227.5 510.0M244.7 512.4L246.5 512.8L251.7 512.8L258.8 512.6L260.5 513.5L258.8 513.8L251.7 513.8L246.5 513.7L244.7 512.4M252.6 507.7L251.7 503.3L253.1 498.0L254.9 495.7L258.8 496.2L262.3 495.4L261.4 497.3L255.3 497.1L256.1 499.8L259.3 499.4L256.1 501.5L257.9 505.9L255.3 505.0L254.4 503.3L254.0 507.7L252.6 507.7M260.5 515.6L265.8 512.8L262.3 514.7L260.5 515.6M266.7 495.4L267.6 494.5L268.8 495.7L267.6 497.1L266.7 495.4M264.1 504.2L266.7 503.6L267.6 504.7L264.1 504.2M270.2 502.9L272.9 503.3L272.0 504.3L267.6 504.2L270.2 502.9M272.9 499.8L278.1 499.4L281.7 502.0L285.2 500.8L290.5 502.6L297.5 505.4L299.3 507.7L301.9 508.6L302.4 512.3L306.3 516.1L302.8 516.0L299.3 512.1L294.9 513.8L292.2 514.2L288.7 512.1L286.1 512.6L284.8 507.7L279.9 505.6L275.5 505.0L274.6 502.9L272.9 499.8M303.7 507.7L306.3 507.2L308.9 505.7L310.2 505.6L309.8 507.2L307.2 509.1L303.7 507.7M307.7 502.8L310.7 504.3L311.6 506.3L309.8 504.7L307.7 502.8M315.1 507.7L316.9 509.4L319.5 511.2L323.0 513.0L324.8 515.2L326.5 516.5L324.8 514.4L320.4 511.2L315.1 507.7M335.3 524.0L336.7 525.3L337.1 527.0L338.5 529.3L339.7 531.4L338.9 528.8L337.5 526.5L335.3 524.0M330.9 533.6L333.2 535.0L336.2 537.2L335.3 536.2L332.7 534.4L330.9 533.6M354.3 528.8L356.6 528.3L356.5 530.0L354.3 529.7L354.3 528.8M357.0 527.0L359.1 526.5L358.2 527.7L357.0 527.0M245.1 556.1L244.5 549.9L242.9 544.6L241.5 542.0L242.1 536.7L242.9 536.7L246.5 534.1L250.9 533.7L255.3 532.3L257.9 527.9L259.7 527.0L262.3 524.4L264.9 522.3L267.2 523.5L269.3 524.4L270.4 523.0L271.1 520.0L272.9 519.5L274.6 517.9L276.4 518.6L278.1 519.1L281.7 519.1L283.1 519.8L281.3 521.6L280.8 524.0L284.3 526.2L286.9 527.9L288.7 528.8L290.5 527.0L291.3 522.6L291.3 519.1L293.1 516.8L294.0 519.1L294.9 522.6L296.6 523.0L298.0 524.4L298.4 527.6L299.3 530.6L301.9 532.3L304.5 534.1L306.3 537.1L308.1 538.5L310.7 541.1L311.6 542.9L312.5 548.2L312.1 552.6M380.2 382.5L383.4 377.8L387.8 375.7L394.3 373.9L400.5 372.5L408.4 373.4L415.4 374.3L420.7 374.8L427.7 375.3L434.8 376.6L440.1 375.7L447.1 374.8L452.4 374.8L455.9 375.7L464.7 376.6L473.5 378.3L482.3 378.3L491.1 377.4L499.9 378.7L503.4 378.7L508.7 377.4L512.2 376.6L517.5 377.4L521.9 379.2L524.5 381.5L522.8 383.6L519.3 385.4L515.7 387.5L510.5 390.6L509.6 394.2L513.1 397.7L517.5 397.7L521.0 399.4L526.3 400.8L531.2 404.9L534.2 407.4L536.9 407.4L537.2 405.6L536.9 402.1L540.4 399.4L541.1 395.0L538.6 391.5L539.5 388.0L547.4 388.9L550.9 390.3L553.6 391.5L553.6 394.5L558.0 395.0L561.5 393.3L562.4 391.9L565.0 395.9L567.7 399.4L570.3 400.8L574.7 403.0L577.3 405.6L577.9 406.8L575.6 407.5L570.3 409.6L563.3 409.6L558.9 410.4L554.5 412.8L551.8 415.1L556.2 412.5L561.5 411.4L562.7 412.6L561.5 414.9L561.9 416.5L565.0 417.2L568.5 417.9L570.3 417.4L568.5 418.4L564.1 419.5L560.6 421.3L559.7 419.9L562.4 418.3L558.9 418.6L557.1 419.7L554.5 420.6L551.8 422.3L551.3 423.2L552.7 424.4L551.3 425.0L549.2 425.5L545.7 426.5L545.7 428.5L543.9 429.7L543.5 431.1L542.1 432.9L543.0 435.5L541.3 436.9L538.6 438.5L536.0 439.9L534.2 441.3L532.6 444.3L533.3 446.1L534.2 448.7L535.1 450.8L534.6 453.5L533.0 453.5L531.9 451.4L530.7 449.6L530.3 447.8L529.8 447.0L528.1 445.2L525.4 445.6L523.7 444.5L521.0 444.5L519.3 444.7L518.7 446.6L516.6 447.0L514.9 446.1L512.2 445.7L510.5 445.9L508.7 446.4L506.1 448.0L504.8 449.2L504.3 452.2L504.3 454.0L503.8 457.5L503.9 459.3L504.8 461.9L506.1 463.7L507.8 464.9L509.6 466.0L513.1 465.3L514.9 465.4L516.1 463.7L516.6 461.4L519.3 460.5L522.8 460.2L522.3 461.9L521.5 463.7L521.9 465.4L520.7 466.3L520.5 468.1L520.1 470.2L522.8 470.2L526.3 469.8L528.1 470.2L529.3 471.6L528.9 475.1L528.6 478.6L529.8 480.4L531.6 482.2L533.3 482.5L536.0 481.3L537.7 481.6L539.9 483.0L540.7 482.9L542.1 481.6L543.0 479.5L544.8 478.6L547.4 478.1L549.2 476.9L550.4 476.4L550.1 478.6L550.9 479.5L550.1 481.3L549.2 481.3L550.6 478.3L552.7 477.8L554.5 477.8L556.2 479.5L559.7 479.3L563.3 479.3L565.9 479.2L567.3 480.0L568.5 482.2L570.3 483.0L572.1 484.6L573.8 485.7L575.6 487.4L579.1 487.6L581.7 488.1L584.4 489.6L585.6 490.6L586.1 491.8L587.9 494.8L587.9 497.1L590.5 498.9L590.5 500.6L593.2 499.4L596.7 500.6L597.6 502.4L600.2 502.2L602.9 503.3L605.5 503.1L608.1 504.5L610.8 506.6L613.8 507.3L614.7 511.2L613.9 513.8L612.5 515.6L610.8 517.4L609.0 520.5L607.6 521.8L607.3 524.4L607.3 527.0L606.7 529.7L606.0 532.3L604.6 534.1L603.7 536.7L602.0 538.5L600.2 538.5L597.6 539.0L595.8 539.9L593.2 541.1L591.4 543.4L590.4 545.5L590.4 548.2L588.8 549.9L587.4 552.6M380.2 382.5L383.7 384.0L386.4 384.5L392.5 384.5L392.5 386.2L388.1 387.1L385.9 388.0L384.6 389.8L383.7 391.0L386.4 391.9L390.8 393.3L390.8 394.5L396.1 394.9L398.7 394.5L399.6 396.8L396.9 398.6L393.4 400.1L389.9 401.2L388.1 401.6L390.8 400.7L395.2 399.4L398.7 398.0L401.3 396.8L404.0 395.4L404.9 393.8L408.4 392.4L409.3 393.6L411.9 392.8L411.9 390.6L415.4 391.5L418.1 391.5L420.7 391.9L424.2 392.4L427.7 392.6L430.4 393.1L433.0 394.2L434.8 395.0L436.5 395.6L437.4 396.8L438.3 397.7L440.9 399.4L442.7 401.2L445.3 402.1L447.1 403.0L447.1 405.6L450.6 407.4L451.5 409.1L454.1 410.0L455.9 411.8L456.8 412.8L457.7 416.2L457.7 418.8L456.8 422.3L457.1 424.1L457.7 426.7L458.0 428.5L459.4 430.6L460.3 431.8L460.3 432.9L461.4 433.8L462.1 435.5L463.5 436.9L464.7 437.5L467.3 438.2L469.1 439.6L469.8 440.8L470.9 442.6L471.7 444.7L473.5 446.1L474.4 447.8L475.3 449.2L477.0 450.8L478.8 453.1L479.7 454.9L481.4 456.6L482.3 457.7L483.2 457.2L481.8 455.2L480.5 453.1L478.8 450.8L477.4 448.7L476.1 446.1L474.0 443.1L476.1 442.6L477.9 444.3L479.7 447.0L480.5 448.7L482.3 450.5L483.5 451.4L484.4 452.9L485.8 454.0L487.6 455.8L489.3 457.5L490.2 460.2L490.2 461.9L491.1 463.7L492.0 464.6L493.7 465.8L496.4 466.5L498.1 467.6L500.8 468.6L503.4 469.5L506.1 470.4L508.7 469.7L510.5 469.5L512.2 470.7L514.0 472.3L515.7 473.5L517.5 473.9L519.3 474.4L521.0 474.8L521.9 475.1L522.8 476.0L523.7 476.9L525.1 478.6L525.1 480.4L526.3 480.9L527.2 481.3L528.6 482.7L529.8 483.6L531.6 483.6L533.3 484.3L534.6 485.0L535.1 483.9L536.0 482.5L537.7 482.5L538.6 483.4L539.0 484.6L539.5 485.7L539.9 487.4L539.5 489.2L539.9 491.0L539.5 491.8L538.6 493.1L537.6 494.1L536.9 495.4L535.5 496.2L535.1 497.1L534.6 498.9L534.2 499.8L533.7 502.0L534.7 503.3L534.2 505.0L533.0 505.9L533.0 508.6L535.1 509.4L536.0 512.1L537.7 513.8L538.6 515.6L540.0 519.1L541.3 521.8L541.8 522.6L543.0 524.4L543.9 525.3L545.7 526.2L548.3 527.6L550.1 528.8L551.8 529.7L552.2 530.6L552.3 533.2L552.5 535.8L552.3 538.5L551.8 540.2L551.8 542.9L551.3 545.5L550.4 549.0L549.9 552.6M526.3 459.6L529.8 457.7L535.1 457.3L540.4 460.2L545.3 462.4L539.5 463.2L538.6 461.6L534.2 459.6L530.7 459.3L526.3 459.6M544.8 465.6L548.3 463.2L554.5 463.7L555.7 465.3L552.7 466.0L549.2 466.3L544.8 465.6M538.1 465.8L541.8 466.3L540.4 466.7L538.1 465.8M557.5 465.6L560.4 465.6L560.3 466.3L557.6 466.3L557.5 465.6M538.6 451.4L540.4 450.8L539.5 454.0L538.6 451.4M571.5 414.2L573.8 411.8L575.6 409.1L578.2 407.2L578.2 410.0L581.7 410.9L583.1 414.4L582.6 415.8L580.9 415.3L578.2 414.8L577.3 414.2L571.5 414.2M547.4 360.7L556.2 357.2L563.3 355.1L570.3 353.7L587.9 352.8L596.7 351.9L614.3 351.0L626.6 351.0L640.7 353.7L644.2 357.2L642.5 359.8L640.7 362.5L643.3 366.0L638.9 369.5L637.2 371.3L637.2 374.3L633.7 375.7L630.1 377.4L623.1 378.0L619.6 378.3L614.3 381.0L609.0 382.7L605.5 384.5L603.7 387.1L601.1 390.6L600.2 392.4L596.7 391.5L593.2 391.0L589.7 389.8L587.0 387.1L586.1 385.4L583.5 382.7L581.7 381.0L581.7 376.6L586.1 374.8L584.4 373.4L580.9 373.0L579.1 370.4L579.1 369.5L575.6 366.9L573.8 365.1L566.8 364.2L559.7 363.9L552.7 362.5L547.4 360.7M567.7 381.0L562.4 387.1L556.2 388.5L550.9 387.1L545.7 384.5L539.5 384.8L547.4 381.0L548.3 377.4L540.4 374.3L535.1 370.4L522.8 368.6L539.5 370.0L545.7 369.5L552.7 373.0L558.0 375.7L559.7 378.3L567.7 381.0M468.2 373.0L470.0 370.4L473.5 368.6L482.3 369.5L491.1 369.5L496.4 372.2L498.1 374.8L492.9 376.2L485.8 376.9L477.0 377.4L471.7 375.7L468.2 373.0M455.9 371.3L457.7 367.8L462.9 367.1L471.7 368.6L464.7 372.2L455.9 371.3M517.5 363.4L526.3 363.7L535.1 364.2L538.6 361.6L543.9 359.0L552.7 356.3L561.5 352.8L543.9 351.9L526.3 352.8L517.5 355.4L514.0 358.1L517.5 363.4M514.0 366.0L524.5 366.9L535.1 366.9L531.6 364.2L522.8 363.4L514.0 363.4L514.0 366.0M522.8 385.4L528.1 386.2L533.3 384.5L528.1 382.7L524.5 381.8L522.8 385.4M501.7 371.3L504.3 368.6L508.7 367.8L517.5 368.6L512.2 372.2L506.9 372.7L501.7 371.3M473.5 366.0L482.3 364.6L491.1 364.2L499.9 365.1L492.9 366.7L482.3 366.9L473.5 366.0M499.9 360.7L508.7 362.1L517.5 360.7L508.7 356.3L499.9 358.1L499.9 360.7M482.3 362.5L491.1 360.4L499.9 361.1L494.6 362.8L482.3 362.5M528.1 361.6L535.1 360.7L535.1 362.5L528.1 361.6M61.7 359.8L65.2 358.1L70.5 357.2L77.5 356.7L89.8 356.8L84.5 359.0L81.0 360.7L74.0 362.5L72.2 363.4L68.7 362.5L65.2 360.7L61.7 359.8M133.8 372.2L136.5 368.6L140.9 367.8L144.4 365.1L149.7 364.2L156.7 362.8L162.0 362.5L160.2 364.2L151.4 366.0L144.4 368.6L140.9 371.3L140.9 373.0L133.8 372.2M209.5 359.0L213.0 356.3L218.3 355.4L225.3 358.1L221.8 359.8L214.8 360.7L209.5 359.0M283.4 366.0L288.7 364.6L292.2 364.2L302.8 365.5L297.5 366.9L294.0 368.1L288.7 367.4L283.4 366.0M357.3 373.0L360.9 372.2L364.4 373.0L359.1 373.4L357.3 373.0M130.3 357.2L135.6 356.0L144.4 355.1L151.4 355.8L144.4 357.2L137.3 357.6L130.3 357.2M461.2 363.4L471.7 361.6L470.0 364.2L461.2 363.4M498.1 363.4L505.2 362.5L503.4 365.1L498.1 363.4M499.9 376.6L506.9 375.7L506.9 377.4L499.9 376.6M506.9 357.2L517.5 354.9L524.5 356.3L515.7 359.0L506.9 357.2M531.6 388.0L535.1 387.1L533.3 388.9L531.6 388.0M535.1 368.6L542.1 368.1L538.6 369.9L535.1 368.6M480.5 371.3L485.8 370.4L487.6 372.2L480.5 371.3M521.0 374.8L528.1 374.3L524.5 376.2L521.0 374.8M565.0 379.2L570.3 380.1L566.8 381.3L565.0 379.2" fill="none" stroke="#000" stroke-width="1" stroke-linejoin="round"/><path d="M42.0 343.3C65.0 343.4 151.1 343.5 180.0 344.1C208.9 344.7 202.7 345.3 215.2 346.8C227.7 348.3 243.3 351.4 255.0 352.9C266.6 354.3 274.2 354.6 285.1 355.5C296.0 356.4 308.6 357.5 320.2 358.2C331.8 358.9 344.8 359.5 355.0 359.9C365.2 360.3 373.1 359.8 381.3 360.8C389.5 361.8 399.4 364.4 404.1 366.1C408.8 367.9 408.5 370.4 409.4 371.3M416.4 376.6C417.9 377.8 422.3 381.0 425.2 383.6C428.1 386.2 431.1 389.5 434.0 392.4C436.9 395.3 439.8 398.3 442.7 401.2C445.6 404.1 448.6 407.0 451.5 409.9C454.4 412.8 457.2 416.3 460.3 418.7C463.4 421.1 464.2 422.5 470.0 424.0C475.8 425.5 485.0 426.6 495.0 427.5C505.0 428.4 517.5 428.9 530.0 429.2C542.5 429.5 558.2 429.5 570.0 429.2C581.8 428.9 590.0 427.6 601.0 427.5C612.0 427.4 627.2 427.8 636.0 428.4C644.8 429.0 647.0 430.3 653.7 431.0C660.4 431.7 672.3 432.4 676.0 432.7M42.0 353.0C47.8 352.8 65.3 352.1 77.0 352.0C88.7 351.9 99.8 352.1 112.0 352.4C124.2 352.7 143.7 353.6 150.0 353.8M512.6 352.0C517.0 351.7 529.4 350.9 539.0 350.3C548.6 349.7 559.6 349.4 570.0 348.5C580.4 347.6 590.1 345.9 601.1 345.0C612.1 344.1 623.7 343.7 636.2 343.3C648.7 342.9 669.4 342.5 676.0 342.4M566.0 354.7C571.9 354.4 589.4 353.1 601.1 352.9C612.8 352.7 623.7 353.1 636.2 353.4C648.7 353.7 669.4 354.5 676.0 354.7M40.0 366.0C44.4 365.7 57.5 364.7 66.3 364.3C75.1 363.9 84.7 363.1 92.6 363.4C100.5 363.7 108.4 364.5 113.7 366.0C119.0 367.5 122.0 369.3 124.2 372.2C126.4 375.1 126.5 379.1 126.8 383.6C127.1 388.1 126.4 393.8 126.0 399.4C125.6 405.0 124.5 412.0 124.2 417.0C123.9 422.0 123.6 425.4 124.2 429.2C124.8 433.0 125.4 437.2 127.7 439.8C130.0 442.4 135.3 444.7 138.2 445.0C141.1 445.3 142.1 442.7 145.0 441.5C147.9 440.3 149.7 439.3 155.5 438.0C161.3 436.7 171.6 435.4 180.1 433.6C188.6 431.9 199.1 429.4 206.4 427.5C213.7 425.6 217.8 424.6 223.9 422.2C230.0 419.8 238.0 415.7 243.2 413.4C248.4 411.1 253.0 409.1 255.0 408.2M48.4 390.6C48.8 389.3 49.3 384.4 50.5 382.7C51.7 380.9 53.2 381.0 55.8 380.1C58.4 379.2 61.6 378.3 66.3 377.5C71.0 376.7 78.1 375.2 83.9 375.2C89.8 375.2 97.0 376.1 101.4 377.5C105.8 378.9 108.3 380.8 110.2 383.6C112.1 386.4 112.7 390.3 112.8 394.1C112.9 397.9 112.4 403.2 111.1 406.4C109.8 409.6 108.0 411.8 104.9 413.4C101.8 415.0 97.6 415.8 92.6 416.1C87.6 416.4 80.9 416.2 75.1 415.2C69.2 414.2 62.5 411.5 57.5 409.9C52.5 408.3 47.3 406.2 45.3 405.5M145.0 355.5C147.9 355.6 157.2 355.5 162.5 356.4C167.8 357.3 173.7 358.9 176.6 360.8C179.5 362.7 180.1 365.8 180.1 367.8C180.1 369.9 178.9 371.6 176.6 373.1C174.2 374.6 169.5 375.1 166.0 376.6C162.5 378.1 158.4 379.8 155.5 381.9C152.6 383.9 150.2 386.9 148.5 388.9C146.8 390.9 145.6 392.2 145.0 394.1C144.4 396.0 143.5 397.1 145.0 400.0C146.5 402.9 149.4 409.3 153.8 411.7C158.2 414.1 164.0 414.1 171.3 414.3C178.6 414.5 190.3 413.9 197.6 412.6C204.9 411.3 210.5 408.9 215.2 406.4C219.9 403.9 222.8 400.5 225.7 397.6C228.6 394.7 229.8 391.5 232.7 388.9C235.6 386.3 239.5 383.6 243.2 381.9C246.9 380.1 249.5 379.7 255.0 378.4C260.5 377.1 268.4 375.0 276.3 374.0C284.2 373.0 293.8 372.8 302.6 372.2C311.4 371.6 320.3 371.1 329.0 370.5C337.7 369.9 347.8 368.7 355.0 368.7C362.2 368.7 366.6 369.8 372.5 370.5C378.4 371.2 384.8 371.8 390.1 373.1C395.4 374.4 401.8 377.5 404.1 378.4M40.0 402.9C42.9 404.4 51.6 408.5 57.5 411.7C63.4 414.9 69.2 418.7 75.1 422.2C80.9 425.7 87.9 429.5 92.6 432.7C97.3 435.9 100.8 438.9 103.2 441.5C105.6 444.1 106.1 446.9 106.7 448.0M227.5 406.4 L234.5 401.2M250.0 395.9C252.9 395.3 260.2 393.6 267.5 392.4C274.8 391.2 285.1 390.1 293.9 388.9C302.7 387.7 312.9 386.4 320.2 385.4C327.5 384.4 331.9 384.6 337.7 382.7C343.5 380.8 348.9 375.3 355.0 374.0C361.1 372.7 369.0 374.4 374.3 374.8C379.6 375.2 382.5 375.7 386.6 376.6C390.7 377.5 394.8 378.1 398.9 380.1C403.0 382.2 406.7 386.3 411.1 388.9C415.5 391.5 420.5 393.8 425.2 395.9C429.9 397.9 434.5 399.1 439.2 401.2C443.9 403.2 448.9 406.2 453.2 408.2C457.5 410.2 459.5 411.3 465.0 413.4C470.5 415.4 478.4 418.6 486.3 420.5C494.2 422.4 502.4 423.9 512.6 424.8C522.8 425.7 538.1 425.4 547.7 425.7C557.3 426.0 566.3 426.5 570.0 426.6M460.0 408.2C465.9 409.6 483.4 414.6 495.1 416.9C506.8 419.2 517.7 421.0 530.2 422.2C542.7 423.4 563.4 423.7 570.0 424.0M365.5 381.9C368.1 382.3 376.3 383.3 381.3 384.5C386.3 385.7 391.6 387.9 395.4 388.9C399.2 389.9 400.0 389.6 404.1 390.6C408.2 391.6 414.0 393.1 420.0 395.0C426.0 396.9 436.7 400.8 440.0 402.0M362.0 387.0C365.0 387.3 374.0 388.0 380.0 389.0C386.0 390.0 393.0 391.8 398.0 393.0C403.0 394.2 408.0 395.5 410.0 396.0M448.0 425.7C449.2 426.9 453.5 429.8 455.0 432.7C456.5 435.6 456.5 441.5 456.8 443.3M569.5 366.1C570.7 365.5 571.2 363.5 576.5 362.6C581.8 361.7 592.6 361.2 601.1 360.8C609.6 360.4 621.0 359.6 627.4 359.9C633.8 360.2 638.2 360.4 639.7 362.6C641.2 364.8 639.7 370.3 636.2 373.1C632.7 375.9 625.9 378.0 618.6 379.2C611.3 380.4 599.6 380.5 592.3 380.1C585.0 379.7 578.8 378.1 574.8 376.6C570.8 375.1 569.5 373.1 568.6 371.3C567.7 369.6 569.4 367.0 569.5 366.1M540.0 386.0C544.3 385.9 555.8 385.2 566.0 385.4C576.2 385.6 590.9 386.2 601.1 387.1C611.3 388.0 620.1 388.6 627.4 390.6C634.7 392.7 641.5 396.5 645.0 399.4C648.5 402.3 648.8 405.3 648.5 408.2C648.2 411.1 646.7 414.7 643.2 417.0C639.7 419.3 634.4 420.8 627.4 422.2C620.4 423.6 608.4 424.8 601.1 425.7C593.8 426.6 589.4 426.9 583.5 427.5C577.6 428.1 568.9 428.9 566.0 429.2M657.2 371.3C657.8 372.5 659.5 375.5 660.7 378.4C661.9 381.3 662.4 385.1 664.2 388.9C666.0 392.7 669.3 398.0 671.3 401.2C673.3 404.4 675.2 407.0 676.0 408.2M676.0 368.0C673.7 368.3 665.1 369.4 662.0 370.0C658.9 370.6 658.0 371.1 657.2 371.3M609.9 436.2 L618.6 443.3M623.9 431.0C625.4 432.5 630.7 437.0 632.7 439.8C634.8 442.6 635.5 445.5 636.2 448.0C636.9 450.5 636.9 453.8 637.0 455.0M290.0 386.6C294.6 385.9 308.4 383.9 317.7 382.5C326.9 381.1 336.2 379.7 345.5 378.3C354.8 376.9 368.6 374.9 373.2 374.2M290.0 444.9C299.2 445.4 327.0 446.3 345.5 447.7C364.0 449.1 391.7 452.3 400.9 453.2M190.7 394.1C190.7 394.2 190.6 394.5 190.5 394.7C190.4 394.9 190.2 395.0 190.0 395.2C189.8 395.4 189.5 395.5 189.1 395.7C188.8 395.8 188.4 395.9 188.1 396.0C187.7 396.1 187.2 396.2 186.8 396.2C186.3 396.3 185.9 396.3 185.4 396.3C184.9 396.3 184.5 396.3 184.0 396.2C183.6 396.2 183.1 396.1 182.8 396.0C182.4 395.9 182.0 395.8 181.7 395.7C181.3 395.5 181.0 395.4 180.8 395.2C180.6 395.0 180.4 394.9 180.3 394.7C180.2 394.5 180.1 394.3 180.1 394.1C180.1 393.9 180.2 393.7 180.3 393.5C180.4 393.3 180.6 393.2 180.8 393.0C181.0 392.8 181.3 392.7 181.7 392.5C182.0 392.4 182.4 392.3 182.8 392.2C183.1 392.1 183.6 392.0 184.0 392.0C184.5 391.9 184.9 391.9 185.4 391.9C185.9 391.9 186.3 391.9 186.8 392.0C187.2 392.0 187.7 392.1 188.1 392.2C188.4 392.3 188.8 392.4 189.1 392.5C189.5 392.7 189.8 392.8 190.0 393.0C190.2 393.2 190.4 393.3 190.5 393.5C190.6 393.7 190.7 394.0 190.7 394.1M157.5 436.2C157.5 436.4 157.5 436.9 157.4 437.2C157.4 437.6 157.3 437.9 157.2 438.2C157.1 438.5 157.0 438.8 156.9 439.0C156.8 439.3 156.6 439.5 156.5 439.7C156.4 439.8 156.2 440.0 156.0 440.1C155.9 440.2 155.7 440.2 155.5 440.2C155.3 440.2 155.1 440.2 155.0 440.1C154.8 440.0 154.6 439.8 154.5 439.7C154.4 439.5 154.2 439.3 154.1 439.0C154.0 438.8 153.9 438.5 153.8 438.2C153.7 437.9 153.6 437.6 153.6 437.2C153.5 436.9 153.5 436.5 153.5 436.2C153.5 435.9 153.5 435.5 153.6 435.2C153.6 434.8 153.7 434.5 153.8 434.2C153.9 433.9 154.0 433.6 154.1 433.4C154.2 433.1 154.4 432.9 154.5 432.7C154.6 432.6 154.8 432.4 155.0 432.3C155.1 432.2 155.3 432.2 155.5 432.2C155.7 432.2 155.9 432.2 156.0 432.3C156.2 432.4 156.4 432.6 156.5 432.7C156.6 432.9 156.8 433.1 156.9 433.4C157.0 433.6 157.1 433.9 157.2 434.2C157.3 434.5 157.4 434.8 157.4 435.2C157.5 435.5 157.5 436.0 157.5 436.2M40.0 486.7C47.8 485.1 67.2 479.7 86.7 477.4C106.2 475.1 133.4 474.3 156.8 472.7C180.2 471.1 210.7 469.4 226.9 468.0C243.1 466.6 242.3 465.5 254.0 464.3C265.7 463.1 279.3 462.7 297.0 461.0C314.7 459.3 344.5 455.5 360.0 454.0C375.5 452.5 379.9 451.2 390.0 452.0C400.1 452.8 410.6 456.7 420.9 458.9C431.2 461.1 444.5 463.6 451.9 465.1C459.2 466.7 457.0 467.4 465.0 468.2C473.0 469.0 487.5 470.4 500.0 470.0C512.5 469.6 528.3 467.6 540.0 466.0C551.7 464.4 562.4 461.2 570.0 460.5C577.6 459.8 579.0 461.5 585.5 462.0C592.0 462.5 602.2 463.9 608.7 463.6C615.2 463.4 620.3 462.3 624.2 460.5C628.1 458.7 630.6 455.3 631.9 452.7C633.2 450.1 631.9 446.3 631.9 445.0M105.4 456.4C112.5 456.9 138.3 459.3 148.0 459.7C157.7 460.1 155.8 459.1 163.5 458.9C171.2 458.6 184.1 458.4 194.4 458.2C204.7 457.9 214.5 457.9 225.4 457.4C236.3 456.9 248.1 456.4 260.0 455.0C271.9 453.6 285.3 450.8 297.0 449.3C308.7 447.8 324.5 446.6 330.0 446.0M475.0 452.0C479.2 452.3 490.8 454.0 500.0 454.0C509.2 454.0 521.3 452.8 530.0 452.0C538.7 451.2 543.7 450.3 552.0 449.3C560.3 448.3 570.3 446.9 580.0 446.0C589.7 445.1 605.0 444.3 610.0 444.0M505.0 468.0C510.8 467.3 528.2 465.2 540.0 464.0C551.8 462.8 563.9 462.0 575.6 461.0C587.3 460.0 604.3 458.5 610.0 458.0M425.7 477.5C425.5 477.9 425.2 478.9 424.5 479.4C423.7 480.0 422.6 480.5 421.3 481.0C420.0 481.4 418.3 481.7 416.5 482.0C414.7 482.2 412.6 482.3 410.4 482.4C408.2 482.4 405.8 482.4 403.4 482.2C400.9 482.0 398.4 481.8 395.9 481.4C393.4 481.1 390.9 480.6 388.5 480.1C386.1 479.6 383.8 479.0 381.7 478.3C379.6 477.7 377.6 477.0 375.9 476.2C374.2 475.5 372.7 474.7 371.6 474.0C370.4 473.2 369.5 472.4 369.0 471.7C368.4 470.9 368.2 470.1 368.3 469.5C368.4 468.8 368.8 468.1 369.5 467.6C370.3 467.0 371.4 466.5 372.7 466.0C374.0 465.6 375.7 465.3 377.5 465.0C379.3 464.8 381.4 464.7 383.6 464.6C385.8 464.6 388.2 464.6 390.6 464.8C393.1 465.0 395.6 465.2 398.1 465.6C400.6 465.9 403.1 466.4 405.5 466.9C407.9 467.4 410.2 468.0 412.3 468.7C414.4 469.3 416.4 470.0 418.1 470.8C419.8 471.5 421.3 472.3 422.4 473.0C423.6 473.8 424.5 474.6 425.0 475.3C425.6 476.1 425.6 477.2 425.7 477.5M570.0 476.0C572.6 477.5 581.6 481.6 585.5 485.2C589.4 488.8 591.9 495.5 593.2 497.6M605.6 489.9 L610.2 497.9M42.0 548.5C47.2 547.9 62.7 546.6 73.0 545.0C83.3 543.4 94.7 540.7 104.0 539.0C113.3 537.3 121.4 536.2 128.7 535.0C136.0 533.8 140.9 532.5 148.0 532.0C155.1 531.5 162.2 531.6 171.2 531.8C180.2 532.0 193.2 532.8 202.2 533.4C211.2 534.0 216.8 534.0 225.4 535.7C234.0 537.4 246.8 541.4 254.0 543.4C261.2 545.4 266.1 547.2 268.5 548.0M356.0 523.2 L388.7 526.4M464.0 524.9C466.6 524.5 473.1 523.1 479.5 522.5C485.9 521.9 495.0 521.1 502.7 521.0C510.4 520.9 519.4 521.0 525.9 521.8C532.4 522.6 538.8 525.0 541.4 525.6M662.9 497.7C663.4 500.2 666.0 508.1 666.0 513.0C666.0 517.9 663.5 524.7 663.0 527.0" fill="none" stroke="#000" stroke-width="1.2"/><path d="M253.5 411.7 L267.5 408.2M279.0 406.4 L292.0 405.5M426.9 401.2 L442.7 404.7M426.9 404.0 L442.7 407.5M428.0 407.0 L444.0 410.5M430.0 410.0 L446.0 413.5M477.5 432.7C483.4 432.9 502.4 433.3 512.6 433.6C522.9 433.9 534.6 434.4 539.0 434.5M486.3 437.1C492.1 437.2 512.6 437.7 521.4 438.0C530.2 438.3 536.1 438.8 539.0 438.9M495.1 441.5 L530.2 443.3M566.0 432.7 L583.5 433.6M446.8 422.7C446.5 423.1 446.2 424.3 445.5 425.1C444.8 425.8 443.7 426.5 442.4 427.2C441.0 427.8 439.4 428.3 437.5 428.8C435.6 429.3 433.4 429.7 431.0 430.0C428.7 430.3 426.0 430.6 423.3 430.7C420.6 430.8 417.6 430.9 414.6 430.8C411.7 430.7 408.5 430.6 405.4 430.4C402.3 430.1 399.2 429.8 396.1 429.4C393.0 429.0 389.9 428.5 387.0 427.9C384.1 427.3 381.2 426.7 378.5 426.0C375.9 425.3 373.4 424.5 371.1 423.7C368.9 422.9 366.8 422.1 365.1 421.2C363.3 420.3 361.8 419.4 360.6 418.6C359.4 417.7 358.5 416.8 358.0 415.9C357.4 415.0 357.2 414.1 357.2 413.3C357.3 412.5 357.8 411.7 358.5 410.9C359.2 410.2 360.3 409.5 361.6 408.8C363.0 408.2 364.6 407.7 366.5 407.2C368.4 406.7 370.6 406.3 373.0 406.0C375.3 405.7 378.0 405.4 380.7 405.3C383.4 405.2 386.4 405.1 389.4 405.2C392.3 405.3 395.5 405.4 398.6 405.6C401.7 405.9 404.8 406.2 407.9 406.6C411.0 407.0 414.1 407.5 417.0 408.1C419.9 408.7 422.8 409.3 425.5 410.0C428.1 410.7 430.6 411.5 432.9 412.3C435.1 413.1 437.2 413.9 438.9 414.8C440.7 415.7 442.2 416.6 443.4 417.4C444.6 418.3 445.5 419.2 446.0 420.1C446.6 421.0 446.6 422.3 446.8 422.7M452.7 424.5C452.4 425.1 452.0 426.9 451.1 428.0C450.1 429.2 448.7 430.3 447.0 431.2C445.3 432.2 443.2 433.1 440.8 433.8C438.3 434.6 435.5 435.3 432.5 435.8C429.5 436.3 426.2 436.7 422.7 437.0C419.2 437.2 415.5 437.4 411.7 437.4C408.0 437.4 404.0 437.2 400.1 436.9C396.1 436.6 392.1 436.2 388.2 435.7C384.3 435.1 380.4 434.5 376.7 433.7C373.0 432.9 369.4 432.0 366.0 431.0C362.7 430.0 359.5 429.0 356.7 427.8C353.8 426.7 351.2 425.4 349.0 424.2C346.8 423.0 344.9 421.6 343.4 420.3C342.0 419.0 340.8 417.7 340.2 416.4C339.5 415.1 339.2 413.8 339.3 412.5C339.4 411.3 340.0 410.1 340.9 409.0C341.9 407.8 343.3 406.7 345.0 405.8C346.7 404.8 348.8 403.9 351.2 403.2C353.7 402.4 356.5 401.7 359.5 401.2C362.5 400.7 365.8 400.3 369.3 400.0C372.8 399.8 376.5 399.6 380.3 399.6C384.0 399.6 388.0 399.8 391.9 400.1C395.9 400.4 399.9 400.8 403.8 401.3C407.7 401.9 411.6 402.5 415.3 403.3C419.0 404.1 422.6 405.0 426.0 406.0C429.3 407.0 432.5 408.0 435.3 409.2C438.2 410.3 440.8 411.6 443.0 412.8C445.2 414.0 447.1 415.4 448.6 416.7C450.0 418.0 451.2 419.3 451.8 420.6C452.5 421.9 452.5 423.8 452.7 424.5M457.6 426.1C457.3 426.9 456.8 429.3 455.6 430.7C454.5 432.2 452.9 433.5 450.8 434.8C448.7 436.0 446.2 437.2 443.3 438.2C440.4 439.2 437.1 440.1 433.5 440.8C429.9 441.4 425.9 442.0 421.7 442.4C417.6 442.7 413.1 442.9 408.6 443.0C404.1 443.0 399.4 442.8 394.7 442.5C390.0 442.2 385.2 441.7 380.5 441.0C375.9 440.4 371.2 439.5 366.8 438.6C362.4 437.6 358.1 436.5 354.1 435.3C350.1 434.0 346.3 432.7 343.0 431.2C339.6 429.8 336.5 428.3 333.9 426.7C331.3 425.1 329.0 423.5 327.2 421.8C325.5 420.2 324.2 418.5 323.4 416.8C322.5 415.2 322.2 413.5 322.4 411.9C322.5 410.3 323.2 408.7 324.4 407.3C325.5 405.8 327.1 404.5 329.2 403.2C331.3 402.0 333.8 400.8 336.7 399.8C339.6 398.8 342.9 397.9 346.5 397.2C350.1 396.6 354.1 396.0 358.3 395.6C362.4 395.3 366.9 395.1 371.4 395.0C375.9 395.0 380.6 395.2 385.3 395.5C390.0 395.8 394.8 396.3 399.5 397.0C404.1 397.6 408.8 398.5 413.2 399.4C417.6 400.4 421.9 401.5 425.9 402.7C429.9 404.0 433.7 405.3 437.0 406.8C440.4 408.2 443.5 409.7 446.1 411.3C448.7 412.9 451.0 414.5 452.8 416.2C454.5 417.8 455.8 419.5 456.6 421.2C457.5 422.8 457.5 425.3 457.6 426.1M461.6 427.0C461.2 428.0 460.6 430.9 459.3 432.7C458.0 434.4 456.1 436.1 453.8 437.7C451.4 439.2 448.5 440.6 445.2 441.9C441.9 443.1 438.1 444.2 434.1 445.1C430.0 446.0 425.5 446.7 420.8 447.1C416.1 447.6 411.0 447.9 405.9 448.0C400.8 448.0 395.4 447.9 390.1 447.5C384.8 447.2 379.3 446.6 374.1 445.9C368.8 445.1 363.5 444.1 358.6 443.0C353.6 441.9 348.7 440.5 344.2 439.1C339.7 437.6 335.4 436.0 331.6 434.3C327.8 432.6 324.3 430.7 321.3 428.9C318.4 427.0 315.8 425.0 313.9 423.0C311.9 421.0 310.4 418.9 309.5 416.9C308.6 414.9 308.2 412.9 308.4 411.0C308.6 409.0 309.4 407.1 310.7 405.3C312.0 403.6 313.9 401.9 316.2 400.3C318.6 398.8 321.5 397.4 324.8 396.1C328.1 394.9 331.9 393.8 335.9 392.9C340.0 392.0 344.5 391.3 349.2 390.9C353.9 390.4 359.0 390.1 364.1 390.0C369.2 390.0 374.6 390.1 379.9 390.5C385.2 390.8 390.7 391.4 395.9 392.1C401.2 392.9 406.5 393.9 411.4 395.0C416.4 396.1 421.3 397.5 425.8 398.9C430.3 400.4 434.6 402.0 438.4 403.7C442.2 405.4 445.7 407.3 448.7 409.1C451.6 411.0 454.2 413.0 456.1 415.0C458.1 417.0 459.6 419.1 460.5 421.1C461.4 423.1 461.4 426.1 461.6 427.0M466.5 427.0C466.1 428.1 465.4 431.5 463.9 433.6C462.5 435.7 460.4 437.7 457.7 439.6C455.1 441.4 451.8 443.1 448.2 444.6C444.5 446.0 440.2 447.3 435.7 448.4C431.1 449.5 426.0 450.3 420.8 450.9C415.5 451.5 409.9 451.9 404.1 452.0C398.4 452.1 392.4 452.0 386.5 451.6C380.6 451.2 374.5 450.6 368.6 449.7C362.8 448.8 356.9 447.7 351.3 446.4C345.7 445.1 340.3 443.6 335.2 441.9C330.2 440.3 325.5 438.4 321.2 436.4C317.0 434.4 313.1 432.2 309.8 430.0C306.5 427.8 303.7 425.5 301.5 423.1C299.3 420.8 297.6 418.4 296.6 416.0C295.6 413.7 295.2 411.3 295.5 409.0C295.7 406.7 296.6 404.5 298.1 402.4C299.5 400.3 301.6 398.3 304.3 396.4C306.9 394.6 310.2 392.9 313.8 391.4C317.5 390.0 321.8 388.7 326.3 387.6C330.9 386.5 336.0 385.7 341.2 385.1C346.5 384.5 352.1 384.1 357.9 384.0C363.6 383.9 369.6 384.0 375.5 384.4C381.4 384.8 387.5 385.4 393.4 386.3C399.2 387.2 405.1 388.3 410.7 389.6C416.3 390.9 421.7 392.4 426.8 394.1C431.8 395.7 436.5 397.6 440.8 399.6C445.0 401.6 448.9 403.8 452.2 406.0C455.5 408.2 458.3 410.5 460.5 412.9C462.7 415.2 464.4 417.6 465.4 420.0C466.4 422.3 466.3 425.8 466.5 427.0M360.0 445.0C363.3 445.3 373.3 445.8 380.0 447.0C386.7 448.2 396.7 451.2 400.0 452.0M365.0 450.0C368.3 450.3 378.3 450.8 385.0 452.0C391.7 453.2 401.7 456.2 405.0 457.0M440.0 447.0C445.0 447.5 460.8 449.2 470.0 450.0C479.2 450.8 490.8 451.7 495.0 452.0M445.0 453.0C450.0 453.5 465.8 455.2 475.0 456.0C484.2 456.8 495.8 457.7 500.0 458.0" fill="none" stroke="#000" stroke-width="1.2" stroke-dasharray="15 6"/><g font-family="Liberation Sans, sans-serif" font-size="13.5" fill="#000"><text x="410.3" y="377.3" text-anchor="middle">20</text><text x="379.6" y="379.9" text-anchor="middle">0</text><text x="407.6" y="405.4" text-anchor="middle">-40</text><text x="453.2" y="421.2" text-anchor="middle">-20</text><text x="593.2" y="433.4" text-anchor="middle">0</text><text x="552.3" y="453.5" text-anchor="middle">20</text><text x="575.6" y="465.2" text-anchor="middle">0</text></g><path d="M171.6 428.3 L174.2 428.3 L176.2 430.9 L180.3 433.9 L185.4 433.9 L191.6 431.4 L198.7 428.8 L207.9 428.0 L216.1 428.3 L222.2 430.4 L225.3 434.9 L226.3 439.0 L225.3 443.1 L222.2 447.2 L219.2 449.3 L217.1 451.3 L215.1 450.3 L212.0 448.2 L207.9 447.2 L203.8 448.2 L198.7 448.2 L192.6 447.2 L185.4 445.2 L181.3 443.1 L180.3 439.0 L177.3 434.9 L173.2 431.9 L171.6 429.8 L171.6 428.3" fill="none" stroke="#A52AF0" stroke-width="2.4" stroke-linejoin="round"/>
</g>
<rect x="399.6" y="223.9" width="275.7" height="21.2" fill="#fff" stroke="#555" stroke-width="1"/><text x="672" y="240.9" font-family="Liberation Sans, sans-serif" font-size="17.5" text-anchor="end">CONTOUR FROM -40 TO 10 BY 2</text>
<rect x="390.7" y="527.5" width="284.6" height="21.2" fill="#fff" stroke="#555" stroke-width="1"/><text x="672" y="544.5" font-family="Liberation Sans, sans-serif" font-size="17.5" text-anchor="end">CONTOUR FROM -40 TO 20 BY 10</text>
<g stroke="#000" stroke-width="1.3"><line x1="42.3" y1="36.0" x2="42.3" y2="29.0"/><line x1="42.3" y1="247.2" x2="42.3" y2="254.2"/><line x1="59.9" y1="36.0" x2="59.9" y2="32.5"/><line x1="59.9" y1="247.2" x2="59.9" y2="250.7"/><line x1="77.5" y1="36.0" x2="77.5" y2="32.5"/><line x1="77.5" y1="247.2" x2="77.5" y2="250.7"/><line x1="95.1" y1="36.0" x2="95.1" y2="29.0"/><line x1="95.1" y1="247.2" x2="95.1" y2="254.2"/><line x1="112.7" y1="36.0" x2="112.7" y2="32.5"/><line x1="112.7" y1="247.2" x2="112.7" y2="250.7"/><line x1="130.3" y1="36.0" x2="130.3" y2="32.5"/><line x1="130.3" y1="247.2" x2="130.3" y2="250.7"/><line x1="147.9" y1="36.0" x2="147.9" y2="29.0"/><line x1="147.9" y1="247.2" x2="147.9" y2="254.2"/><line x1="165.5" y1="36.0" x2="165.5" y2="32.5"/><line x1="165.5" y1="247.2" x2="165.5" y2="250.7"/><line x1="183.1" y1="36.0" x2="183.1" y2="32.5"/><line x1="183.1" y1="247.2" x2="183.1" y2="250.7"/><line x1="200.7" y1="36.0" x2="200.7" y2="29.0"/><line x1="200.7" y1="247.2" x2="200.7" y2="254.2"/><line x1="218.3" y1="36.0" x2="218.3" y2="32.5"/><line x1="218.3" y1="247.2" x2="218.3" y2="250.7"/><line x1="235.9" y1="36.0" x2="235.9" y2="32.5"/><line x1="235.9" y1="247.2" x2="235.9" y2="250.7"/><line x1="253.5" y1="36.0" x2="253.5" y2="29.0"/><line x1="253.5" y1="247.2" x2="253.5" y2="254.2"/><line x1="271.1" y1="36.0" x2="271.1" y2="32.5"/><line x1="271.1" y1="247.2" x2="271.1" y2="250.7"/><line x1="288.7" y1="36.0" x2="288.7" y2="32.5"/><line x1="288.7" y1="247.2" x2="288.7" y2="250.7"/><line x1="306.3" y1="36.0" x2="306.3" y2="29.0"/><line x1="306.3" y1="247.2" x2="306.3" y2="254.2"/><line x1="323.9" y1="36.0" x2="323.9" y2="32.5"/><line x1="323.9" y1="247.2" x2="323.9" y2="250.7"/><line x1="341.5" y1="36.0" x2="341.5" y2="32.5"/><line x1="341.5" y1="247.2" x2="341.5" y2="250.7"/><line x1="359.1" y1="36.0" x2="359.1" y2="29.0"/><line x1="359.1" y1="247.2" x2="359.1" y2="254.2"/><line x1="376.7" y1="36.0" x2="376.7" y2="32.5"/><line x1="376.7" y1="247.2" x2="376.7" y2="250.7"/><line x1="394.3" y1="36.0" x2="394.3" y2="32.5"/><line x1="394.3" y1="247.2" x2="394.3" y2="250.7"/><line x1="411.9" y1="36.0" x2="411.9" y2="29.0"/><line x1="411.9" y1="247.2" x2="411.9" y2="254.2"/><line x1="429.5" y1="36.0" x2="429.5" y2="32.5"/><line x1="429.5" y1="247.2" x2="429.5" y2="250.7"/><line x1="447.1" y1="36.0" x2="447.1" y2="32.5"/><line x1="447.1" y1="247.2" x2="447.1" y2="250.7"/><line x1="464.7" y1="36.0" x2="464.7" y2="29.0"/><line x1="464.7" y1="247.2" x2="464.7" y2="254.2"/><line x1="482.3" y1="36.0" x2="482.3" y2="32.5"/><line x1="482.3" y1="247.2" x2="482.3" y2="250.7"/><line x1="499.9" y1="36.0" x2="499.9" y2="32.5"/><line x1="499.9" y1="247.2" x2="499.9" y2="250.7"/><line x1="517.5" y1="36.0" x2="517.5" y2="29.0"/><line x1="517.5" y1="247.2" x2="517.5" y2="254.2"/><line x1="535.1" y1="36.0" x2="535.1" y2="32.5"/><line x1="535.1" y1="247.2" x2="535.1" y2="250.7"/><line x1="552.7" y1="36.0" x2="552.7" y2="32.5"/><line x1="552.7" y1="247.2" x2="552.7" y2="250.7"/><line x1="570.3" y1="36.0" x2="570.3" y2="29.0"/><line x1="570.3" y1="247.2" x2="570.3" y2="254.2"/><line x1="587.9" y1="36.0" x2="587.9" y2="32.5"/><line x1="587.9" y1="247.2" x2="587.9" y2="250.7"/><line x1="605.5" y1="36.0" x2="605.5" y2="32.5"/><line x1="605.5" y1="247.2" x2="605.5" y2="250.7"/><line x1="623.1" y1="36.0" x2="623.1" y2="29.0"/><line x1="623.1" y1="247.2" x2="623.1" y2="254.2"/><line x1="640.7" y1="36.0" x2="640.7" y2="32.5"/><line x1="640.7" y1="247.2" x2="640.7" y2="250.7"/><line x1="658.3" y1="36.0" x2="658.3" y2="32.5"/><line x1="658.3" y1="247.2" x2="658.3" y2="250.7"/><line x1="675.9" y1="36.0" x2="675.9" y2="29.0"/><line x1="675.9" y1="247.2" x2="675.9" y2="254.2"/><line x1="42.3" y1="247.2" x2="35.3" y2="247.2"/><line x1="675.9" y1="247.2" x2="682.9" y2="247.2"/><line x1="42.3" y1="229.6" x2="38.8" y2="229.6"/><line x1="675.9" y1="229.6" x2="679.4" y2="229.6"/><line x1="42.3" y1="212.0" x2="38.8" y2="212.0"/><line x1="675.9" y1="212.0" x2="679.4" y2="212.0"/><line x1="42.3" y1="194.4" x2="35.3" y2="194.4"/><line x1="675.9" y1="194.4" x2="682.9" y2="194.4"/><line x1="42.3" y1="176.8" x2="38.8" y2="176.8"/><line x1="675.9" y1="176.8" x2="679.4" y2="176.8"/><line x1="42.3" y1="159.2" x2="38.8" y2="159.2"/><line x1="675.9" y1="159.2" x2="679.4" y2="159.2"/><line x1="42.3" y1="141.6" x2="35.3" y2="141.6"/><line x1="675.9" y1="141.6" x2="682.9" y2="141.6"/><line x1="42.3" y1="124.0" x2="38.8" y2="124.0"/><line x1="675.9" y1="124.0" x2="679.4" y2="124.0"/><line x1="42.3" y1="106.4" x2="38.8" y2="106.4"/><line x1="675.9" y1="106.4" x2="679.4" y2="106.4"/><line x1="42.3" y1="88.8" x2="35.3" y2="88.8"/><line x1="675.9" y1="88.8" x2="682.9" y2="88.8"/><line x1="42.3" y1="71.2" x2="38.8" y2="71.2"/><line x1="675.9" y1="71.2" x2="679.4" y2="71.2"/><line x1="42.3" y1="53.6" x2="38.8" y2="53.6"/><line x1="675.9" y1="53.6" x2="679.4" y2="53.6"/><line x1="42.3" y1="36.0" x2="35.3" y2="36.0"/><line x1="675.9" y1="36.0" x2="682.9" y2="36.0"/></g><rect x="42.3" y="36.0" width="633.6" height="211.2" fill="none" stroke="#000" stroke-width="1.6"/><g font-family="Liberation Sans, sans-serif" font-size="18.2" fill="#000"><text x="42.3" y="271.5" text-anchor="middle">0</text><text x="95.1" y="271.5" text-anchor="middle">30E</text><text x="147.9" y="271.5" text-anchor="middle">60E</text><text x="200.7" y="271.5" text-anchor="middle">90E</text><text x="253.5" y="271.5" text-anchor="middle">120E</text><text x="306.3" y="271.5" text-anchor="middle">150E</text><text x="359.1" y="271.5" text-anchor="middle">180</text><text x="411.9" y="271.5" text-anchor="middle">150W</text><text x="464.7" y="271.5" text-anchor="middle">120W</text><text x="517.5" y="271.5" text-anchor="middle">90W</text><text x="570.3" y="271.5" text-anchor="middle">60W</text><text x="623.1" y="271.5" text-anchor="middle">30W</text><text x="675.9" y="271.5" text-anchor="middle">0</text><text x="32.6" y="42.5" text-anchor="end">90N</text><text x="32.6" y="95.3" text-anchor="end">60N</text><text x="32.6" y="148.1" text-anchor="end">30N</text><text x="32.6" y="200.9" text-anchor="end">0</text><text x="32.6" y="253.7" text-anchor="end">30S</text></g>
<g stroke="#000" stroke-width="1.3"><line x1="42.3" y1="339.6" x2="42.3" y2="332.6"/><line x1="42.3" y1="550.8" x2="42.3" y2="557.8"/><line x1="59.9" y1="339.6" x2="59.9" y2="336.1"/><line x1="59.9" y1="550.8" x2="59.9" y2="554.3"/><line x1="77.5" y1="339.6" x2="77.5" y2="336.1"/><line x1="77.5" y1="550.8" x2="77.5" y2="554.3"/><line x1="95.1" y1="339.6" x2="95.1" y2="332.6"/><line x1="95.1" y1="550.8" x2="95.1" y2="557.8"/><line x1="112.7" y1="339.6" x2="112.7" y2="336.1"/><line x1="112.7" y1="550.8" x2="112.7" y2="554.3"/><line x1="130.3" y1="339.6" x2="130.3" y2="336.1"/><line x1="130.3" y1="550.8" x2="130.3" y2="554.3"/><line x1="147.9" y1="339.6" x2="147.9" y2="332.6"/><line x1="147.9" y1="550.8" x2="147.9" y2="557.8"/><line x1="165.5" y1="339.6" x2="165.5" y2="336.1"/><line x1="165.5" y1="550.8" x2="165.5" y2="554.3"/><line x1="183.1" y1="339.6" x2="183.1" y2="336.1"/><line x1="183.1" y1="550.8" x2="183.1" y2="554.3"/><line x1="200.7" y1="339.6" x2="200.7" y2="332.6"/><line x1="200.7" y1="550.8" x2="200.7" y2="557.8"/><line x1="218.3" y1="339.6" x2="218.3" y2="336.1"/><line x1="218.3" y1="550.8" x2="218.3" y2="554.3"/><line x1="235.9" y1="339.6" x2="235.9" y2="336.1"/><line x1="235.9" y1="550.8" x2="235.9" y2="554.3"/><line x1="253.5" y1="339.6" x2="253.5" y2="332.6"/><line x1="253.5" y1="550.8" x2="253.5" y2="557.8"/><line x1="271.1" y1="339.6" x2="271.1" y2="336.1"/><line x1="271.1" y1="550.8" x2="271.1" y2="554.3"/><line x1="288.7" y1="339.6" x2="288.7" y2="336.1"/><line x1="288.7" y1="550.8" x2="288.7" y2="554.3"/><line x1="306.3" y1="339.6" x2="306.3" y2="332.6"/><line x1="306.3" y1="550.8" x2="306.3" y2="557.8"/><line x1="323.9" y1="339.6" x2="323.9" y2="336.1"/><line x1="323.9" y1="550.8" x2="323.9" y2="554.3"/><line x1="341.5" y1="339.6" x2="341.5" y2="336.1"/><line x1="341.5" y1="550.8" x2="341.5" y2="554.3"/><line x1="359.1" y1="339.6" x2="359.1" y2="332.6"/><line x1="359.1" y1="550.8" x2="359.1" y2="557.8"/><line x1="376.7" y1="339.6" x2="376.7" y2="336.1"/><line x1="376.7" y1="550.8" x2="376.7" y2="554.3"/><line x1="394.3" y1="339.6" x2="394.3" y2="336.1"/><line x1="394.3" y1="550.8" x2="394.3" y2="554.3"/><line x1="411.9" y1="339.6" x2="411.9" y2="332.6"/><line x1="411.9" y1="550.8" x2="411.9" y2="557.8"/><line x1="429.5" y1="339.6" x2="429.5" y2="336.1"/><line x1="429.5" y1="550.8" x2="429.5" y2="554.3"/><line x1="447.1" y1="339.6" x2="447.1" y2="336.1"/><line x1="447.1" y1="550.8" x2="447.1" y2="554.3"/><line x1="464.7" y1="339.6" x2="464.7" y2="332.6"/><line x1="464.7" y1="550.8" x2="464.7" y2="557.8"/><line x1="482.3" y1="339.6" x2="482.3" y2="336.1"/><line x1="482.3" y1="550.8" x2="482.3" y2="554.3"/><line x1="499.9" y1="339.6" x2="499.9" y2="336.1"/><line x1="499.9" y1="550.8" x2="499.9" y2="554.3"/><line x1="517.5" y1="339.6" x2="517.5" y2="332.6"/><line x1="517.5" y1="550.8" x2="517.5" y2="557.8"/><line x1="535.1" y1="339.6" x2="535.1" y2="336.1"/><line x1="535.1" y1="550.8" x2="535.1" y2="554.3"/><line x1="552.7" y1="339.6" x2="552.7" y2="336.1"/><line x1="552.7" y1="550.8" x2="552.7" y2="554.3"/><line x1="570.3" y1="339.6" x2="570.3" y2="332.6"/><line x1="570.3" y1="550.8" x2="570.3" y2="557.8"/><line x1="587.9" y1="339.6" x2="587.9" y2="336.1"/><line x1="587.9" y1="550.8" x2="587.9" y2="554.3"/><line x1="605.5" y1="339.6" x2="605.5" y2="336.1"/><line x1="605.5" y1="550.8" x2="605.5" y2="554.3"/><line x1="623.1" y1="339.6" x2="623.1" y2="332.6"/><line x1="623.1" y1="550.8" x2="623.1" y2="557.8"/><line x1="640.7" y1="339.6" x2="640.7" y2="336.1"/><line x1="640.7" y1="550.8" x2="640.7" y2="554.3"/><line x1="658.3" y1="339.6" x2="658.3" y2="336.1"/><line x1="658.3" y1="550.8" x2="658.3" y2="554.3"/><line x1="675.9" y1="339.6" x2="675.9" y2="332.6"/><line x1="675.9" y1="550.8" x2="675.9" y2="557.8"/><line x1="42.3" y1="550.8" x2="35.3" y2="550.8"/><line x1="675.9" y1="550.8" x2="682.9" y2="550.8"/><line x1="42.3" y1="533.2" x2="38.8" y2="533.2"/><line x1="675.9" y1="533.2" x2="679.4" y2="533.2"/><line x1="42.3" y1="515.6" x2="38.8" y2="515.6"/><line x1="675.9" y1="515.6" x2="679.4" y2="515.6"/><line x1="42.3" y1="498.0" x2="35.3" y2="498.0"/><line x1="675.9" y1="498.0" x2="682.9" y2="498.0"/><line x1="42.3" y1="480.4" x2="38.8" y2="480.4"/><line x1="675.9" y1="480.4" x2="679.4" y2="480.4"/><line x1="42.3" y1="462.8" x2="38.8" y2="462.8"/><line x1="675.9" y1="462.8" x2="679.4" y2="462.8"/><line x1="42.3" y1="445.2" x2="35.3" y2="445.2"/><line x1="675.9" y1="445.2" x2="682.9" y2="445.2"/><line x1="42.3" y1="427.6" x2="38.8" y2="427.6"/><line x1="675.9" y1="427.6" x2="679.4" y2="427.6"/><line x1="42.3" y1="410.0" x2="38.8" y2="410.0"/><line x1="675.9" y1="410.0" x2="679.4" y2="410.0"/><line x1="42.3" y1="392.4" x2="35.3" y2="392.4"/><line x1="675.9" y1="392.4" x2="682.9" y2="392.4"/><line x1="42.3" y1="374.8" x2="38.8" y2="374.8"/><line x1="675.9" y1="374.8" x2="679.4" y2="374.8"/><line x1="42.3" y1="357.2" x2="38.8" y2="357.2"/><line x1="675.9" y1="357.2" x2="679.4" y2="357.2"/><line x1="42.3" y1="339.6" x2="35.3" y2="339.6"/><line x1="675.9" y1="339.6" x2="682.9" y2="339.6"/></g><rect x="42.3" y="339.6" width="633.6" height="211.2" fill="none" stroke="#000" stroke-width="1.6"/><g font-family="Liberation Sans, sans-serif" font-size="18.2" fill="#000"><text x="42.3" y="575.1" text-anchor="middle">0</text><text x="95.1" y="575.1" text-anchor="middle">30E</text><text x="147.9" y="575.1" text-anchor="middle">60E</text><text x="200.7" y="575.1" text-anchor="middle">90E</text><text x="253.5" y="575.1" text-anchor="middle">120E</text><text x="306.3" y="575.1" text-anchor="middle">150E</text><text x="359.1" y="575.1" text-anchor="middle">180</text><text x="411.9" y="575.1" text-anchor="middle">150W</text><text x="464.7" y="575.1" text-anchor="middle">120W</text><text x="517.5" y="575.1" text-anchor="middle">90W</text><text x="570.3" y="575.1" text-anchor="middle">60W</text><text x="623.1" y="575.1" text-anchor="middle">30W</text><text x="675.9" y="575.1" text-anchor="middle">0</text><text x="32.6" y="346.1" text-anchor="end">90N</text><text x="32.6" y="398.9" text-anchor="end">60N</text><text x="32.6" y="451.7" text-anchor="end">30N</text><text x="32.6" y="504.5" text-anchor="end">0</text><text x="32.6" y="557.3" text-anchor="end">30S</text></g>
<text x="43.3" y="19.6" font-family="Liberation Sans, sans-serif" font-size="34" font-weight="bold">a</text><text x="81.5" y="19.7" font-family="Liberation Sans, sans-serif" font-size="26.2">Post-eruption for Historical MME</text><text x="679" y="19.7" font-family="Liberation Sans, sans-serif" font-size="26.2" text-anchor="end">Avg of TP: -0.36</text>
<text transform="translate(43,323.5) scale(1.19,1)" x="0" y="0" font-family="Liberation Sans, sans-serif" font-size="29.5" font-weight="bold">b</text><text x="81.5" y="323.3" font-family="Liberation Sans, sans-serif" font-size="26.2">Post-eruption for AMIP MME</text><text x="679" y="323.3" font-family="Liberation Sans, sans-serif" font-size="26.2" text-anchor="end">Avg of TP: -0.79</text>
<g font-family="Liberation Sans, sans-serif" font-size="22"><polygon points="77.5,590.4 77.5,604.6 44.9,597.5" fill="#2400D8"/><rect x="77.20" y="590.4" width="33.85" height="14.2" fill="#181CF7"/><rect x="110.65" y="590.4" width="33.85" height="14.2" fill="#2857FF"/><rect x="144.10" y="590.4" width="33.85" height="14.2" fill="#3D87FF"/><rect x="177.55" y="590.4" width="33.85" height="14.2" fill="#56B0FF"/><rect x="211.00" y="590.4" width="33.85" height="14.2" fill="#75D3FF"/><rect x="244.45" y="590.4" width="33.85" height="14.2" fill="#99EAFF"/><rect x="277.90" y="590.4" width="33.85" height="14.2" fill="#BCF9FF"/><rect x="311.35" y="590.4" width="33.85" height="14.2" fill="#EAFFFF"/><rect x="344.80" y="590.4" width="33.85" height="14.2" fill="#FFFFEA"/><rect x="378.25" y="590.4" width="33.85" height="14.2" fill="#FFF1BC"/><rect x="411.70" y="590.4" width="33.85" height="14.2" fill="#FFD699"/><rect x="445.15" y="590.4" width="33.85" height="14.2" fill="#FFAC75"/><rect x="478.60" y="590.4" width="33.85" height="14.2" fill="#FF7856"/><rect x="512.05" y="590.4" width="33.85" height="14.2" fill="#FF3D3D"/><rect x="545.50" y="590.4" width="33.85" height="14.2" fill="#F72735"/><rect x="578.95" y="590.4" width="33.85" height="14.2" fill="#D8152F"/><polygon points="612.1000000000001,590.4 612.1000000000001,604.6 644.5,597.5" fill="#A50021"/><text x="77.2" y="625.6" text-anchor="middle">-2</text><text x="144.1" y="625.6" text-anchor="middle">-1</text><text x="211.0" y="625.6" text-anchor="middle">-0.6</text><text x="277.9" y="625.6" text-anchor="middle">-0.2</text><text x="344.8" y="625.6" text-anchor="middle">0</text><text x="411.7" y="625.6" text-anchor="middle">0.2</text><text x="478.6" y="625.6" text-anchor="middle">0.6</text><text x="545.5" y="625.6" text-anchor="middle">1</text><text x="612.4" y="625.6" text-anchor="middle">2</text><text x="654.5" y="615" font-size="20.4">K</text></g>
</svg>
</body></html>
